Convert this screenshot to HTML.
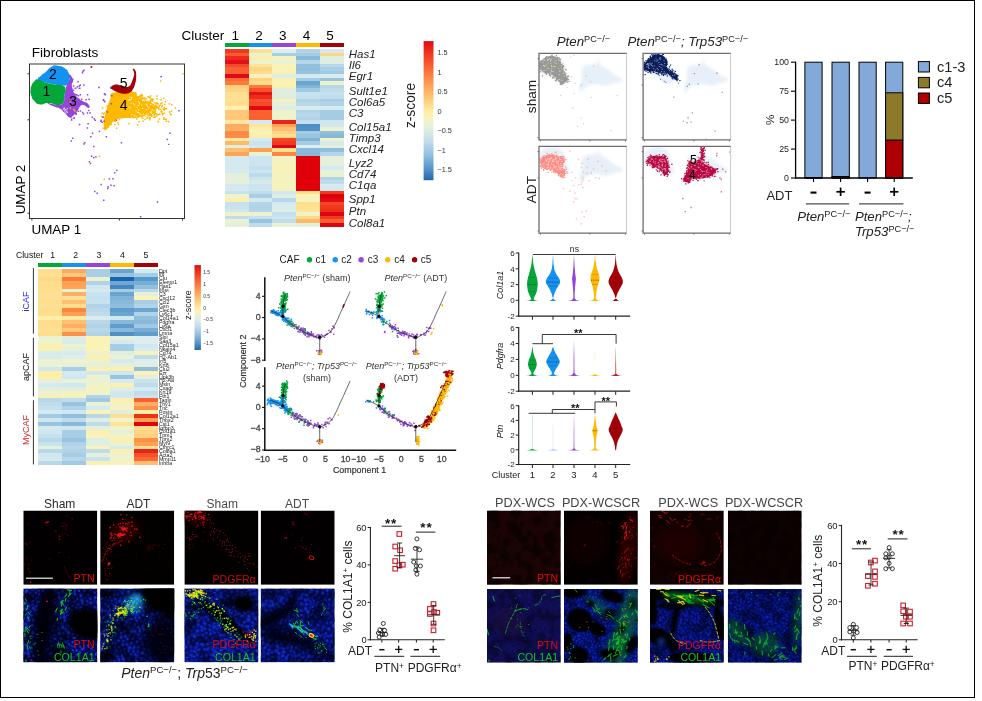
<!DOCTYPE html>
<html lang="en"><head><meta charset="utf-8"><title>Figure</title>
<style>html,body{margin:0;padding:0;background:#fff;}body{width:982px;height:701px;overflow:hidden;font-family:"Liberation Sans",sans-serif;}svg{display:block;}</style></head>
<body>
<svg width="982" height="701" viewBox="0 0 982 701" font-family='"Liberation Sans", sans-serif'>
<rect x="0.5" y="0.5" width="974" height="697" fill="#fff" stroke="#000" stroke-width="1" shape-rendering="crispEdges"/>
<g id="p-umap">
<g>
<path d="M68.8 74.3C69.6 74.6 72 76.5 72.9 79.4C73.7 82.4 71.6 82 71.8 85.5C72.1 89.1 72.3 89.4 73.9 92.7C75.5 95.9 75.8 95.6 78 97.8C80.1 99.9 79.3 99.2 82 100.8C84.7 102.5 86.4 102 88.1 103.9C89.9 105.8 90.3 107.7 88.6 108C87 108.2 84.9 104.4 82 104.9C79.2 105.4 80.4 107 78 110C75.5 113 75 114.1 72.9 116.1C70.7 118.1 72 118.4 69.8 117.6C67.6 116.8 67.2 115.4 64.7 113C62.3 110.7 63.1 110.6 60.6 109C58.2 107.3 58.8 108.3 55.5 106.9C52.3 105.6 50.3 105 48.4 103.9C46.5 102.8 45.7 102.6 48.4 102.9C51.1 103.1 54.5 105.2 58.6 104.9C62.7 104.6 62.2 104.3 63.7 101.8C65.2 99.4 63.7 99 64.2 95.7C64.7 92.5 65.1 92.6 65.7 89.6C66.4 86.6 65.7 87.5 66.8 84.5C67.8 81.5 69.3 81.1 69.8 78.4C70.3 75.7 68 74.1 68.8 74.3z" fill="#9545D8"/>
<path d="M38.2 79.4C37 77.3 39.2 77.5 41.3 75.4C43.4 73.2 42.3 74.9 45.4 72.3C48.4 69.7 47.8 68.7 51.5 66.7C55.1 64.7 53.6 65.2 57.6 65.7C61.6 66.2 61.4 65.9 64.7 68.2C68.1 70.5 67.3 70.3 68.8 73.3C70.3 76.4 70.4 75.1 69.8 78.4C69.2 81.8 68.9 82.4 66.8 84.5C64.6 86.7 66.3 85.5 62.7 85.5C59 85.5 59.7 85.4 54.5 84.5C49.3 83.6 50.3 84 45.4 82.5C40.5 81 39.5 81.6 38.2 79.4z" fill="#1492F0"/>
<path d="M30.6 89.6C30.8 86.9 30.5 88 31.6 85.5C32.7 83.1 32.2 83.3 34.2 81.5C36.2 79.6 34.9 79.1 38.2 79.4C41.6 79.7 40.5 81 45.4 82.5C50.3 84 49.3 83.6 54.5 84.5C59.7 85.4 59.3 84 62.7 85.5C66 87.1 65.3 86.6 65.7 89.6C66.2 92.7 64.8 92.1 64.2 95.7C63.6 99.4 65.4 99.1 63.7 101.8C62 104.6 63.2 104.6 58.6 104.9C54 105.2 53.9 103 48.4 102.9C42.9 102.7 44.6 105 40.3 104.4C36 103.8 36.9 103.7 34.2 100.8C31.4 97.9 32.2 98.1 31.1 94.7C30 91.4 30.4 92.4 30.6 89.6z" fill="#06A73A"/>
<path d="M150.7 104.9h1.5v1.5h-1.5zM146.2 112.4h1.5v1.5h-1.5zM148.2 109.5h1.5v1.5h-1.5zM155.4 113.2h1.5v1.5h-1.5zM141.2 104.7h1.5v1.5h-1.5zM164.4 108.1h1.5v1.5h-1.5zM135.3 99.4h1.5v1.5h-1.5zM142.9 107h1.5v1.5h-1.5zM139.1 105.4h1.5v1.5h-1.5zM144.5 110.1h1.5v1.5h-1.5zM151.6 108.7h1.5v1.5h-1.5zM135.4 106.3h1.5v1.5h-1.5zM170.7 110.2h1.5v1.5h-1.5zM149.4 100.5h1.5v1.5h-1.5zM139.6 109.2h1.5v1.5h-1.5zM141.3 107.9h1.5v1.5h-1.5zM143 101.2h1.5v1.5h-1.5zM147 102.8h1.5v1.5h-1.5zM158.3 106h1.5v1.5h-1.5zM148.1 107.1h1.5v1.5h-1.5zM150.4 104.4h1.5v1.5h-1.5zM150.8 106.9h1.5v1.5h-1.5zM153 111h1.5v1.5h-1.5zM143.3 102.4h1.5v1.5h-1.5zM148.8 109.6h1.5v1.5h-1.5zM156.3 106.4h1.5v1.5h-1.5zM146.9 109.5h1.5v1.5h-1.5zM144.6 107.6h1.5v1.5h-1.5zM143.7 103.4h1.5v1.5h-1.5zM133.3 102.8h1.5v1.5h-1.5zM147.2 114.6h1.5v1.5h-1.5zM150.6 112.8h1.5v1.5h-1.5zM148.8 110.8h1.5v1.5h-1.5zM143.7 110.4h1.5v1.5h-1.5zM157.5 106.8h1.5v1.5h-1.5zM136.1 115.3h1.5v1.5h-1.5zM144.2 111.4h1.5v1.5h-1.5zM149.7 101.5h1.5v1.5h-1.5zM163.2 118.4h1.5v1.5h-1.5zM143.6 110.2h1.5v1.5h-1.5zM143.2 101.8h1.5v1.5h-1.5zM141.1 107.9h1.5v1.5h-1.5zM151.8 111.2h1.5v1.5h-1.5zM142.6 113.2h1.5v1.5h-1.5zM135.5 109.2h1.5v1.5h-1.5zM151.7 106.1h1.5v1.5h-1.5zM144.2 109.2h1.5v1.5h-1.5zM155.5 103.1h1.5v1.5h-1.5zM142.1 109.5h1.5v1.5h-1.5zM140.7 93.9h1.5v1.5h-1.5zM149.1 119h1.5v1.5h-1.5zM150.8 102.8h1.5v1.5h-1.5zM138.5 106.8h1.5v1.5h-1.5zM163.7 112.6h1.5v1.5h-1.5zM143.1 114.3h1.5v1.5h-1.5zM141.4 115.6h1.5v1.5h-1.5zM136.2 102.9h1.5v1.5h-1.5zM148.4 114.4h1.5v1.5h-1.5zM147.8 108.6h1.5v1.5h-1.5zM136.8 102.7h1.5v1.5h-1.5zM147.2 105.2h1.5v1.5h-1.5zM148.9 107.6h1.5v1.5h-1.5zM139.2 106.4h1.5v1.5h-1.5zM145.8 111.1h1.5v1.5h-1.5zM138 104.4h1.5v1.5h-1.5zM154.7 107.2h1.5v1.5h-1.5zM138 99.3h1.5v1.5h-1.5zM143.6 107.5h1.5v1.5h-1.5zM161 110.3h1.5v1.5h-1.5zM154.3 109h1.5v1.5h-1.5zM151.8 110.6h1.5v1.5h-1.5zM140.6 95.1h1.5v1.5h-1.5zM141 98.1h1.5v1.5h-1.5zM147.3 96.1h1.5v1.5h-1.5zM134.3 111.2h1.5v1.5h-1.5zM156.3 102.3h1.5v1.5h-1.5zM149.5 102.3h1.5v1.5h-1.5zM136.1 101.8h1.5v1.5h-1.5zM152.9 111.3h1.5v1.5h-1.5zM159.9 108.4h1.5v1.5h-1.5zM140.9 101h1.5v1.5h-1.5zM141 99.3h1.5v1.5h-1.5zM154.6 112.3h1.5v1.5h-1.5zM153.6 109.2h1.5v1.5h-1.5zM135.9 105.7h1.5v1.5h-1.5zM138.9 100h1.5v1.5h-1.5zM142.1 106.9h1.5v1.5h-1.5zM138 112.8h1.5v1.5h-1.5zM143.7 109.4h1.5v1.5h-1.5zM152.7 103.6h1.5v1.5h-1.5zM136.2 112h1.5v1.5h-1.5zM145 111.7h1.5v1.5h-1.5zM148.7 96.6h1.5v1.5h-1.5zM148.3 103.7h1.5v1.5h-1.5zM135.6 103h1.5v1.5h-1.5zM148.8 111.7h1.5v1.5h-1.5zM150.9 99h1.5v1.5h-1.5zM141.2 109.1h1.5v1.5h-1.5zM135.5 106.4h1.5v1.5h-1.5zM144.1 111.6h1.5v1.5h-1.5zM135 100.9h1.5v1.5h-1.5zM135.5 114.1h1.5v1.5h-1.5zM151.6 107h1.5v1.5h-1.5zM144.1 107.1h1.5v1.5h-1.5zM143.9 105.4h1.5v1.5h-1.5zM139.2 99.4h1.5v1.5h-1.5zM136.6 113.8h1.5v1.5h-1.5zM146.8 107.2h1.5v1.5h-1.5zM140.3 106.2h1.5v1.5h-1.5zM145.2 103.4h1.5v1.5h-1.5zM143.8 107.7h1.5v1.5h-1.5zM135.6 101.2h1.5v1.5h-1.5zM133.5 99.5h1.5v1.5h-1.5zM149.8 95.3h1.5v1.5h-1.5zM139.8 102.7h1.5v1.5h-1.5zM136.7 105.9h1.5v1.5h-1.5zM151.9 108h1.5v1.5h-1.5zM140.9 102.9h1.5v1.5h-1.5zM141 110.7h1.5v1.5h-1.5zM138.7 99.8h1.5v1.5h-1.5zM145.2 105.4h1.5v1.5h-1.5zM154.7 104.7h1.5v1.5h-1.5zM148.6 111.2h1.5v1.5h-1.5zM134.1 109.6h1.5v1.5h-1.5zM153.3 101.6h1.5v1.5h-1.5zM151.2 105.6h1.5v1.5h-1.5zM138.7 102.9h1.5v1.5h-1.5zM139.3 96.5h1.5v1.5h-1.5zM133.4 98.6h1.5v1.5h-1.5zM146.4 117.5h1.5v1.5h-1.5zM165.8 108h1.5v1.5h-1.5zM134 115.1h1.5v1.5h-1.5zM147.1 103.2h1.5v1.5h-1.5zM150.2 110.1h1.5v1.5h-1.5zM140 106h1.5v1.5h-1.5zM143.3 104.6h1.5v1.5h-1.5zM143.8 103.4h1.5v1.5h-1.5zM134.4 112.7h1.5v1.5h-1.5zM145.2 108.9h1.5v1.5h-1.5zM149.2 100.7h1.5v1.5h-1.5zM151.6 105.6h1.5v1.5h-1.5zM145.6 106h1.5v1.5h-1.5zM144 112.6h1.5v1.5h-1.5zM138.6 113.6h1.5v1.5h-1.5zM135.3 100.4h1.5v1.5h-1.5zM148.3 101.7h1.5v1.5h-1.5zM138.9 110.3h1.5v1.5h-1.5zM152.6 98.7h1.5v1.5h-1.5zM146.5 116.4h1.5v1.5h-1.5zM152.5 106.5h1.5v1.5h-1.5zM136.9 103.9h1.5v1.5h-1.5zM140.5 105.2h1.5v1.5h-1.5zM152.3 106.5h1.5v1.5h-1.5zM141 104.3h1.5v1.5h-1.5zM133.4 103.6h1.5v1.5h-1.5zM161 105.9h1.5v1.5h-1.5zM140.9 111.7h1.5v1.5h-1.5zM148.6 111h1.5v1.5h-1.5zM149.6 97.3h1.5v1.5h-1.5zM134.6 105.7h1.5v1.5h-1.5zM146.4 113.4h1.5v1.5h-1.5zM146.2 105.6h1.5v1.5h-1.5zM142.5 105.2h1.5v1.5h-1.5zM144.2 109.9h1.5v1.5h-1.5zM139.2 101.6h1.5v1.5h-1.5zM134.7 110.7h1.5v1.5h-1.5zM153.2 112.9h1.5v1.5h-1.5zM149.5 111.5h1.5v1.5h-1.5zM142.1 109.6h1.5v1.5h-1.5zM133 103.8h1.5v1.5h-1.5zM135.8 108.9h1.5v1.5h-1.5zM137.1 104.9h1.5v1.5h-1.5zM145.6 113.6h1.5v1.5h-1.5zM135.3 100.4h1.5v1.5h-1.5zM149.2 101.6h1.5v1.5h-1.5zM146 103.9h1.5v1.5h-1.5zM141.2 96.8h1.5v1.5h-1.5zM148.3 104.6h1.5v1.5h-1.5zM134.3 115.6h1.5v1.5h-1.5zM145.6 104.9h1.5v1.5h-1.5zM143 114.5h1.5v1.5h-1.5zM141.9 108.4h1.5v1.5h-1.5zM146.6 102.2h1.5v1.5h-1.5zM143.2 103.8h1.5v1.5h-1.5zM147.9 107.4h1.5v1.5h-1.5zM134.3 94.8h1.5v1.5h-1.5zM146.3 106.3h1.5v1.5h-1.5zM143.3 108.2h1.5v1.5h-1.5zM144 107.3h1.5v1.5h-1.5zM137.7 104.3h1.5v1.5h-1.5zM144.4 109.7h1.5v1.5h-1.5zM156.3 95.2h1.5v1.5h-1.5zM145.6 105.7h1.5v1.5h-1.5zM161.8 113.9h1.5v1.5h-1.5zM137.6 110.6h1.5v1.5h-1.5zM133 104.3h1.5v1.5h-1.5zM141 105.5h1.5v1.5h-1.5zM137.1 96.1h1.5v1.5h-1.5zM146.1 111.9h1.5v1.5h-1.5zM141.5 100.9h1.5v1.5h-1.5zM143.9 109.3h1.5v1.5h-1.5zM140.6 105.9h1.5v1.5h-1.5zM154.3 102.3h1.5v1.5h-1.5zM137.3 95.8h1.5v1.5h-1.5zM136.1 101.5h1.5v1.5h-1.5zM133.8 101.4h1.5v1.5h-1.5zM157.7 107.5h1.5v1.5h-1.5zM141.1 117.2h1.5v1.5h-1.5zM141.6 97.3h1.5v1.5h-1.5zM145.6 101.9h1.5v1.5h-1.5zM156.3 102h1.5v1.5h-1.5zM137.1 97.3h1.5v1.5h-1.5zM143 101.1h1.5v1.5h-1.5zM141.5 104.2h1.5v1.5h-1.5zM136.8 110.2h1.5v1.5h-1.5zM150.2 107.7h1.5v1.5h-1.5zM134.3 99.6h1.5v1.5h-1.5zM144.4 118.7h1.5v1.5h-1.5zM138.2 101.6h1.5v1.5h-1.5zM136.1 99.7h1.5v1.5h-1.5zM133.7 103.9h1.5v1.5h-1.5zM154.5 108h1.5v1.5h-1.5zM137.7 97.3h1.5v1.5h-1.5zM144 106.3h1.5v1.5h-1.5zM141.7 111.3h1.5v1.5h-1.5zM147.5 108h1.5v1.5h-1.5zM139.3 107.4h1.5v1.5h-1.5zM142 117.2h1.5v1.5h-1.5zM153.1 106.5h1.5v1.5h-1.5zM154.4 107.8h1.5v1.5h-1.5zM143.4 104.5h1.5v1.5h-1.5zM161.3 112.3h1.5v1.5h-1.5zM147.4 111.8h1.5v1.5h-1.5zM147 112.1h1.5v1.5h-1.5zM139.8 104.7h1.5v1.5h-1.5zM150.6 105.7h1.5v1.5h-1.5zM137.4 108.6h1.5v1.5h-1.5zM135.9 99.8h1.5v1.5h-1.5zM139.2 113.7h1.5v1.5h-1.5zM141.7 106.9h1.5v1.5h-1.5zM142.2 107.7h1.5v1.5h-1.5zM150.1 114.5h1.5v1.5h-1.5zM142.1 104.5h1.5v1.5h-1.5zM162.9 108.4h1.5v1.5h-1.5zM158.9 113.6h1.5v1.5h-1.5zM133.2 107.3h1.5v1.5h-1.5zM148.5 106.5h1.5v1.5h-1.5zM140.5 100.3h1.5v1.5h-1.5zM157.9 107.3h1.5v1.5h-1.5zM138.7 104.1h1.5v1.5h-1.5zM135.3 101.2h1.5v1.5h-1.5zM142.9 107.9h1.5v1.5h-1.5zM137.7 105.1h1.5v1.5h-1.5zM135.6 106.3h1.5v1.5h-1.5zM134.3 102.4h1.5v1.5h-1.5zM144 100.3h1.5v1.5h-1.5zM163.5 109.2h1.5v1.5h-1.5zM141.5 102.4h1.5v1.5h-1.5zM155.9 115.3h1.5v1.5h-1.5zM144.7 99.6h1.5v1.5h-1.5zM137.7 108.7h1.5v1.5h-1.5zM137.7 99.5h1.5v1.5h-1.5zM142.2 102.9h1.5v1.5h-1.5zM142.3 120.4h1.5v1.5h-1.5zM157.5 103.2h1.5v1.5h-1.5zM145.1 107.1h1.5v1.5h-1.5zM140.9 111.3h1.5v1.5h-1.5zM139.2 104.1h1.5v1.5h-1.5zM138.9 105.2h1.5v1.5h-1.5zM153.2 111.8h1.5v1.5h-1.5zM135.2 109.3h1.5v1.5h-1.5zM144.1 111h1.5v1.5h-1.5zM141.6 96.4h1.5v1.5h-1.5zM146 107.9h1.5v1.5h-1.5zM146.5 100.2h1.5v1.5h-1.5zM142.8 102.8h1.5v1.5h-1.5zM136.2 107.1h1.5v1.5h-1.5zM145.2 102.1h1.5v1.5h-1.5zM137.1 111.2h1.5v1.5h-1.5zM141.6 94.6h1.5v1.5h-1.5zM134.6 107.2h1.5v1.5h-1.5zM156.6 114.3h1.5v1.5h-1.5zM145.3 107.7h1.5v1.5h-1.5zM139.2 101.8h1.5v1.5h-1.5zM142.7 104.3h1.5v1.5h-1.5zM145 113.9h1.5v1.5h-1.5zM148.5 109.3h1.5v1.5h-1.5zM140 98.1h1.5v1.5h-1.5zM141.1 108.8h1.5v1.5h-1.5zM133.4 111.3h1.5v1.5h-1.5zM139.2 107.6h1.5v1.5h-1.5zM139.3 99.4h1.5v1.5h-1.5zM160 103h1.5v1.5h-1.5zM150.1 104.5h1.5v1.5h-1.5zM144.5 102.4h1.5v1.5h-1.5zM138.5 110.3h1.5v1.5h-1.5zM159 104.4h1.5v1.5h-1.5zM142.2 111h1.5v1.5h-1.5zM136.7 109h1.5v1.5h-1.5zM135.3 108.2h1.5v1.5h-1.5zM145.9 112.9h1.5v1.5h-1.5zM145.3 100.6h1.5v1.5h-1.5zM147.9 101.4h1.5v1.5h-1.5zM148.6 114.9h1.5v1.5h-1.5zM147.3 104.1h1.5v1.5h-1.5zM152.4 108.6h1.5v1.5h-1.5zM154.4 106.5h1.5v1.5h-1.5zM143.2 104.6h1.5v1.5h-1.5zM145.2 107.7h1.5v1.5h-1.5zM140.6 95.1h1.5v1.5h-1.5zM152.7 111.4h1.5v1.5h-1.5zM151 114.1h1.5v1.5h-1.5zM138.3 102.5h1.5v1.5h-1.5zM144.8 115.1h1.5v1.5h-1.5zM135.9 108.1h1.5v1.5h-1.5zM154.8 106.6h1.5v1.5h-1.5zM139.6 98h1.5v1.5h-1.5zM149.8 104.7h1.5v1.5h-1.5zM148 100.4h1.5v1.5h-1.5zM151.6 100.3h1.5v1.5h-1.5zM151.2 98.3h1.5v1.5h-1.5zM154.1 106.1h1.5v1.5h-1.5zM145 101.6h1.5v1.5h-1.5zM137.8 106.9h1.5v1.5h-1.5zM138.4 107.8h1.5v1.5h-1.5zM144.7 111.7h1.5v1.5h-1.5zM136.1 118.3h1.5v1.5h-1.5zM149 108.8h1.5v1.5h-1.5zM151.5 112.5h1.5v1.5h-1.5zM143 103.2h1.5v1.5h-1.5zM151 109.7h1.5v1.5h-1.5zM146.2 107.3h1.5v1.5h-1.5zM144.5 109.8h1.5v1.5h-1.5zM143.4 114.4h1.5v1.5h-1.5zM137 103.4h1.5v1.5h-1.5zM144.9 110.4h1.5v1.5h-1.5zM148.9 114.8h1.5v1.5h-1.5zM138 111.5h1.5v1.5h-1.5zM146.2 101.5h1.5v1.5h-1.5zM140.9 116.6h1.5v1.5h-1.5zM148.9 104.8h1.5v1.5h-1.5zM136 105.7h1.5v1.5h-1.5zM162.1 113h1.5v1.5h-1.5zM144.8 101.8h1.5v1.5h-1.5zM138.1 120.9h1.5v1.5h-1.5zM138.6 102.5h1.5v1.5h-1.5zM151.9 108h1.5v1.5h-1.5zM139.4 99h1.5v1.5h-1.5zM144.9 109.1h1.5v1.5h-1.5zM139.2 109.3h1.5v1.5h-1.5zM149.2 102.8h1.5v1.5h-1.5zM141 112.3h1.5v1.5h-1.5zM150.8 114.6h1.5v1.5h-1.5zM158.2 108.7h1.5v1.5h-1.5zM151.3 99.8h1.5v1.5h-1.5zM148.1 109.1h1.5v1.5h-1.5zM141.3 103.8h1.5v1.5h-1.5zM153.2 106h1.5v1.5h-1.5zM146.7 103.5h1.5v1.5h-1.5zM144.3 101.4h1.5v1.5h-1.5zM145.4 105.6h1.5v1.5h-1.5zM144.8 103.5h1.5v1.5h-1.5zM151.1 115.6h1.5v1.5h-1.5zM139.3 109.8h1.5v1.5h-1.5zM148.7 109.2h1.5v1.5h-1.5zM133.7 110.9h1.5v1.5h-1.5zM148.9 110.4h1.5v1.5h-1.5zM148.2 100.6h1.5v1.5h-1.5zM150.5 107.8h1.5v1.5h-1.5zM140.5 102.3h1.5v1.5h-1.5zM133.3 102.7h1.5v1.5h-1.5zM168.8 111.2h1.5v1.5h-1.5zM143.9 103.2h1.5v1.5h-1.5zM136.8 102.6h1.5v1.5h-1.5zM134.4 109.5h1.5v1.5h-1.5zM139.8 110.2h1.5v1.5h-1.5zM141.9 109.5h1.5v1.5h-1.5zM141.2 101.5h1.5v1.5h-1.5zM152.6 105.5h1.5v1.5h-1.5zM140.8 101.5h1.5v1.5h-1.5zM143.9 104.5h1.5v1.5h-1.5zM144.6 108.3h1.5v1.5h-1.5zM136.1 98.1h1.5v1.5h-1.5zM145.9 111.4h1.5v1.5h-1.5zM148.1 101.3h1.5v1.5h-1.5zM147.3 108.9h1.5v1.5h-1.5zM144.6 108.7h1.5v1.5h-1.5zM139.3 106.9h1.5v1.5h-1.5zM150.1 104.8h1.5v1.5h-1.5zM143.8 97h1.5v1.5h-1.5zM136.3 108.3h1.5v1.5h-1.5zM140.8 106.5h1.5v1.5h-1.5zM157.3 107.4h1.5v1.5h-1.5zM135.8 99.3h1.5v1.5h-1.5zM149.8 107.9h1.5v1.5h-1.5zM135.2 111.3h1.5v1.5h-1.5zM148.7 110.2h1.5v1.5h-1.5zM147.5 100.8h1.5v1.5h-1.5zM150.2 114.7h1.5v1.5h-1.5zM151.1 103.9h1.5v1.5h-1.5zM136 110.1h1.5v1.5h-1.5zM150.7 113.7h1.5v1.5h-1.5zM152.5 107.2h1.5v1.5h-1.5zM138.6 96.2h1.5v1.5h-1.5zM148.9 118.8h1.5v1.5h-1.5zM138.1 103.2h1.5v1.5h-1.5zM147.7 108.9h1.5v1.5h-1.5zM135.9 109.6h1.5v1.5h-1.5zM158.7 118.3h1.5v1.5h-1.5zM154.5 116.3h1.5v1.5h-1.5zM135.8 103.8h1.5v1.5h-1.5zM164.8 101h1.5v1.5h-1.5zM146.9 100.6h1.5v1.5h-1.5zM153.7 114.5h1.5v1.5h-1.5zM137.7 116.1h1.5v1.5h-1.5zM142.8 112.9h1.5v1.5h-1.5zM144.8 103.7h1.5v1.5h-1.5zM138.8 105.1h1.5v1.5h-1.5zM147.5 107.6h1.5v1.5h-1.5zM162.5 108.3h1.5v1.5h-1.5zM138.1 101.9h1.5v1.5h-1.5zM135.4 97.8h1.5v1.5h-1.5zM133.6 109.5h1.5v1.5h-1.5zM142.6 105.4h1.5v1.5h-1.5zM145.1 112.1h1.5v1.5h-1.5zM147.4 110.9h1.5v1.5h-1.5zM137.3 104.1h1.5v1.5h-1.5zM135.4 104.7h1.5v1.5h-1.5zM135 103.2h1.5v1.5h-1.5zM140.6 104.9h1.5v1.5h-1.5zM139.8 103.3h1.5v1.5h-1.5zM153.5 106.1h1.5v1.5h-1.5zM133.4 105.9h1.5v1.5h-1.5zM142.8 97.8h1.5v1.5h-1.5zM151.1 99h1.5v1.5h-1.5zM134.3 108h1.5v1.5h-1.5zM140.9 107.5h1.5v1.5h-1.5zM139.3 95h1.5v1.5h-1.5zM140.8 99.2h1.5v1.5h-1.5zM142.2 101.9h1.5v1.5h-1.5zM139.4 104.7h1.5v1.5h-1.5zM148.8 111.1h1.5v1.5h-1.5zM133.4 104.8h1.5v1.5h-1.5zM154.7 110.6h1.5v1.5h-1.5zM135.8 104.6h1.5v1.5h-1.5zM139.1 110.5h1.5v1.5h-1.5zM142.4 108.1h1.5v1.5h-1.5zM161.3 102h1.5v1.5h-1.5zM133.3 96.1h1.5v1.5h-1.5zM144.6 114.9h1.5v1.5h-1.5zM154.6 113.3h1.5v1.5h-1.5zM149.8 111.8h1.5v1.5h-1.5zM142.4 106.2h1.5v1.5h-1.5zM142.4 110.5h1.5v1.5h-1.5zM140.7 107.6h1.5v1.5h-1.5zM154.7 102.3h1.5v1.5h-1.5zM135.6 108.1h1.5v1.5h-1.5zM139.8 105h1.5v1.5h-1.5zM160.3 111h1.5v1.5h-1.5zM138.5 111.2h1.5v1.5h-1.5zM163.9 103.8h1.5v1.5h-1.5zM136.3 105.9h1.5v1.5h-1.5zM136.6 116.4h1.5v1.5h-1.5zM146.7 104.8h1.5v1.5h-1.5zM146.4 102.8h1.5v1.5h-1.5zM136.9 105.9h1.5v1.5h-1.5zM162.8 97.8h1.5v1.5h-1.5zM145.7 113.6h1.5v1.5h-1.5zM148.5 116.9h1.5v1.5h-1.5zM146 107.5h1.5v1.5h-1.5zM141 101.7h1.5v1.5h-1.5zM156.3 102.3h1.5v1.5h-1.5zM141 103.4h1.5v1.5h-1.5zM135.3 93.9h1.5v1.5h-1.5zM138.8 106.4h1.5v1.5h-1.5zM143.4 110.7h1.5v1.5h-1.5zM140.7 102.7h1.5v1.5h-1.5zM144.8 110h1.5v1.5h-1.5zM134.3 97.3h1.5v1.5h-1.5zM133.2 110.2h1.5v1.5h-1.5zM150.8 103h1.5v1.5h-1.5zM143.1 110.6h1.5v1.5h-1.5zM153.6 104.6h1.5v1.5h-1.5zM140 113h1.5v1.5h-1.5zM163 117.1h1.5v1.5h-1.5zM139.5 105.5h1.5v1.5h-1.5zM136.4 102.9h1.5v1.5h-1.5zM142 115.4h1.5v1.5h-1.5zM148.2 109.3h1.5v1.5h-1.5zM142.3 102.4h1.5v1.5h-1.5zM140.1 112.2h1.5v1.5h-1.5zM149.3 117.3h1.5v1.5h-1.5zM144.4 106.4h1.5v1.5h-1.5zM136.7 105.4h1.5v1.5h-1.5zM134 110.7h1.5v1.5h-1.5zM144.3 100.5h1.5v1.5h-1.5zM137.9 99.9h1.5v1.5h-1.5zM147.2 106h1.5v1.5h-1.5zM143.1 103.3h1.5v1.5h-1.5zM137.2 103.1h1.5v1.5h-1.5zM145.6 97.9h1.5v1.5h-1.5zM143 112.2h1.5v1.5h-1.5zM144.2 113.1h1.5v1.5h-1.5zM139.8 105.8h1.5v1.5h-1.5zM144.2 109.1h1.5v1.5h-1.5zM152.2 108.4h1.5v1.5h-1.5zM133.5 107.1h1.5v1.5h-1.5zM140.9 115.1h1.5v1.5h-1.5zM159.1 113.6h1.5v1.5h-1.5zM143.8 102.8h1.5v1.5h-1.5zM146.6 110.4h1.5v1.5h-1.5zM149.4 108.4h1.5v1.5h-1.5zM134.5 100.7h1.5v1.5h-1.5zM141 112.8h1.5v1.5h-1.5zM155.7 113.2h1.5v1.5h-1.5zM145.3 110.1h1.5v1.5h-1.5zM149.2 113.8h1.5v1.5h-1.5zM149.5 99.5h1.5v1.5h-1.5zM150.4 109.4h1.5v1.5h-1.5zM138.1 108.3h1.5v1.5h-1.5zM144.6 106.3h1.5v1.5h-1.5zM146.9 106.7h1.5v1.5h-1.5zM148.3 108h1.5v1.5h-1.5zM145.8 104.9h1.5v1.5h-1.5zM136.4 108h1.5v1.5h-1.5zM139 106.7h1.5v1.5h-1.5zM170.3 114h1.5v1.5h-1.5zM143.3 98.1h1.5v1.5h-1.5zM142.9 110.2h1.5v1.5h-1.5zM136 104.1h1.5v1.5h-1.5zM137 108.9h1.5v1.5h-1.5zM153.9 107.1h1.5v1.5h-1.5zM150.6 108.7h1.5v1.5h-1.5zM140.3 104.5h1.5v1.5h-1.5zM134.7 111.6h1.5v1.5h-1.5zM149.7 102.2h1.5v1.5h-1.5zM149.4 103.6h1.5v1.5h-1.5zM143.8 111h1.5v1.5h-1.5zM146.5 112.7h1.5v1.5h-1.5zM145.1 109.6h1.5v1.5h-1.5zM144.3 112.1h1.5v1.5h-1.5zM138.7 110.8h1.5v1.5h-1.5zM155.2 107.8h1.5v1.5h-1.5zM145.9 104.1h1.5v1.5h-1.5zM139.6 107.1h1.5v1.5h-1.5zM139.2 101.2h1.5v1.5h-1.5zM141.9 107.1h1.5v1.5h-1.5zM144.9 110.2h1.5v1.5h-1.5zM140.6 102h1.5v1.5h-1.5zM138.9 108h1.5v1.5h-1.5zM149.6 105.5h1.5v1.5h-1.5zM143.5 98.3h1.5v1.5h-1.5zM143.6 105.8h1.5v1.5h-1.5zM138.4 110.1h1.5v1.5h-1.5zM157.6 113.8h1.5v1.5h-1.5zM135.3 112.9h1.5v1.5h-1.5zM139.2 105.5h1.5v1.5h-1.5zM137.1 107.8h1.5v1.5h-1.5zM146.9 107.6h1.5v1.5h-1.5zM140.3 105.2h1.5v1.5h-1.5zM138.6 110.6h1.5v1.5h-1.5zM137.6 104.8h1.5v1.5h-1.5zM140.3 102.1h1.5v1.5h-1.5zM140.1 98.4h1.5v1.5h-1.5zM145.6 109.5h1.5v1.5h-1.5zM139.5 113.7h1.5v1.5h-1.5zM135 107.9h1.5v1.5h-1.5zM146.2 104.1h1.5v1.5h-1.5zM140 110.4h1.5v1.5h-1.5zM142.6 107.7h1.5v1.5h-1.5zM154.2 109.1h1.5v1.5h-1.5zM149.3 106.6h1.5v1.5h-1.5zM144.9 114.2h1.5v1.5h-1.5zM146.4 104.1h1.5v1.5h-1.5zM139.6 104.2h1.5v1.5h-1.5zM134.3 107.3h1.5v1.5h-1.5zM150 109.2h1.5v1.5h-1.5zM137.3 110.7h1.5v1.5h-1.5zM141.2 109h1.5v1.5h-1.5zM134.1 108.3h1.5v1.5h-1.5zM148.5 113.7h1.5v1.5h-1.5zM142.4 108.5h1.5v1.5h-1.5zM137.2 109.9h1.5v1.5h-1.5zM148.8 112.7h1.5v1.5h-1.5zM138.8 99.5h1.5v1.5h-1.5zM141.5 105.1h1.5v1.5h-1.5zM135.7 108.3h1.5v1.5h-1.5zM150.2 109.4h1.5v1.5h-1.5zM151.6 109.6h1.5v1.5h-1.5zM133.8 102h1.5v1.5h-1.5zM139.1 109.2h1.5v1.5h-1.5zM150 108.1h1.5v1.5h-1.5zM150.8 103.4h1.5v1.5h-1.5zM141.2 113.6h1.5v1.5h-1.5zM145.9 112h1.5v1.5h-1.5zM134.7 110.1h1.5v1.5h-1.5zM156 105.2h1.5v1.5h-1.5zM133.7 99.8h1.5v1.5h-1.5zM134.5 107.8h1.5v1.5h-1.5zM139.4 115.2h1.5v1.5h-1.5zM148.3 103.7h1.5v1.5h-1.5zM144.1 105.7h1.5v1.5h-1.5zM148.9 111.8h1.5v1.5h-1.5zM139.2 110.2h1.5v1.5h-1.5zM147 106.5h1.5v1.5h-1.5zM144.3 109.9h1.5v1.5h-1.5zM139.4 102.4h1.5v1.5h-1.5zM153 107.8h1.5v1.5h-1.5zM106 118.6h1.5v1.5h-1.5zM100.7 115.8h1.5v1.5h-1.5zM101.4 112.4h1.5v1.5h-1.5zM114.9 114.1h1.5v1.5h-1.5zM102.3 127.6h1.5v1.5h-1.5zM105.8 125.8h1.5v1.5h-1.5zM106.4 105.1h1.5v1.5h-1.5zM120.6 112.4h1.5v1.5h-1.5zM114.1 123.7h1.5v1.5h-1.5zM101.7 115.9h1.5v1.5h-1.5zM106.1 119.6h1.5v1.5h-1.5zM109.5 106.5h1.5v1.5h-1.5zM109.9 120.7h1.5v1.5h-1.5zM107.8 119.3h1.5v1.5h-1.5zM106.4 115h1.5v1.5h-1.5zM111.7 116.4h1.5v1.5h-1.5zM117.2 122h1.5v1.5h-1.5zM114.6 120.4h1.5v1.5h-1.5zM110.5 107.3h1.5v1.5h-1.5zM115.9 127.5h1.5v1.5h-1.5zM110.9 113.6h1.5v1.5h-1.5zM109.3 123.8h1.5v1.5h-1.5zM111.3 108.5h1.5v1.5h-1.5zM108.5 110h1.5v1.5h-1.5zM108.4 109.2h1.5v1.5h-1.5zM104.3 125.7h1.5v1.5h-1.5zM115.8 104.2h1.5v1.5h-1.5zM103.7 112.3h1.5v1.5h-1.5zM107.2 105.8h1.5v1.5h-1.5zM114.9 104.2h1.5v1.5h-1.5zM113.7 120.3h1.5v1.5h-1.5zM107.4 110.8h1.5v1.5h-1.5zM109.9 116.4h1.5v1.5h-1.5zM112.7 114.6h1.5v1.5h-1.5zM107.1 108.5h1.5v1.5h-1.5zM105.4 110.1h1.5v1.5h-1.5zM126.3 106.7h1.5v1.5h-1.5zM118.7 118.7h1.5v1.5h-1.5zM110.8 116.8h1.5v1.5h-1.5zM107.3 126.6h1.5v1.5h-1.5zM112.6 115.2h1.5v1.5h-1.5zM108.8 116.8h1.5v1.5h-1.5zM102.8 113.2h1.5v1.5h-1.5zM105.8 119.7h1.5v1.5h-1.5zM113.2 102.4h1.5v1.5h-1.5zM108.2 122.3h1.5v1.5h-1.5zM101.8 107.2h1.5v1.5h-1.5zM115.6 114.5h1.5v1.5h-1.5zM106.9 106.9h1.5v1.5h-1.5zM110.6 111.5h1.5v1.5h-1.5zM110.8 118.4h1.5v1.5h-1.5zM113.8 113.2h1.5v1.5h-1.5zM106.4 115.6h1.5v1.5h-1.5zM109 116.6h1.5v1.5h-1.5zM106.4 113.8h1.5v1.5h-1.5zM106.1 111.3h1.5v1.5h-1.5zM110.5 123.4h1.5v1.5h-1.5zM106.4 119.5h1.5v1.5h-1.5z" fill="#FDB900"/>
<path d="M113.3 92.7C118.8 91 128.2 90.9 133.7 91.7C139.2 92.4 135.3 93.8 136.8 95.7C138.2 97.6 138.9 97.4 139.8 99.8C140.8 102.2 139.4 103.5 140.8 105.9C142.3 108.3 145.4 107.9 145.9 110C146.4 112.1 145.2 113.2 142.9 115.1C140.5 117 139.8 117.4 135.7 118.1C131.7 118.8 130.3 117.7 125.5 118.1C120.8 118.6 119.2 118.3 115.4 120.2C111.6 122.1 111.6 123.9 109.3 126.3C106.9 128.7 106.5 130.4 105.2 130.4C103.9 130.4 103.9 129.1 103.7 126.3C103.4 123.4 103.3 122.4 104.2 118.1C105 113.9 105.8 112.5 107.2 108C108.6 103.4 108.8 102.4 110.3 98.8C111.7 95.2 107.9 94.3 113.3 92.7z" fill="#FDB900"/>
<path d="M110.3 87.6C111 86.4 112.8 85 115.4 84.5C118 84.1 118.4 85.1 121.5 85.5C124.6 86 126 88 128.6 86.6C131.2 85.1 131.4 82.5 132.7 79.4C134 76.4 134.2 75.8 134.2 73.3C134.2 70.8 132.4 69.5 132.7 68.7C132.9 68 134.4 68.7 135.2 70.3C136.1 71.8 136.2 72.3 136.2 75.4C136.2 78.5 136.1 80.2 135.2 83.5C134.4 86.8 134 87.5 132.7 89.6C131.4 91.8 131.8 91.7 129.6 92.7C127.5 93.6 126.6 93.9 123.5 93.7C120.4 93.5 119 92.6 116.4 91.7C113.8 90.7 113.7 90.6 112.3 89.6C110.9 88.7 109.6 88.8 110.3 87.6z" fill="#A50005"/>
<path d="M129.5 96.7h1v1h-1zM152.6 102.2h1v1h-1zM130.3 99.3h1v1h-1zM141.4 117.6h1v1h-1zM133.7 114.7h1v1h-1zM141.4 104.5h1v1h-1zM150.3 104.1h1v1h-1zM129.7 107.6h1v1h-1zM146.2 109.2h1v1h-1zM135.7 116.3h1v1h-1zM151.9 117.5h1v1h-1zM140.3 113.9h1v1h-1zM148 99.2h1v1h-1zM128.8 99h1v1h-1zM131.4 96.9h1v1h-1zM138 112.1h1v1h-1zM136.6 106.8h1v1h-1zM128.4 99.9h1v1h-1zM154.5 95.5h1v1h-1zM142.6 113.4h1v1h-1zM149.9 111.7h1v1h-1zM139.1 113.2h1v1h-1zM150.9 112.4h1v1h-1zM155.2 97.5h1v1h-1zM154.2 104.2h1v1h-1zM147.5 100.8h1v1h-1zM153.1 95.8h1v1h-1zM144 100.3h1v1h-1zM138.8 103.5h1v1h-1zM146.2 113.4h1v1h-1zM138.1 109.5h1v1h-1zM137.8 101.5h1v1h-1zM153 102.4h1v1h-1zM130.7 102.7h1v1h-1zM148.5 100h1v1h-1zM148.5 107.5h1v1h-1zM146.8 99.2h1v1h-1zM131 98.4h1v1h-1zM137.7 104.9h1v1h-1zM128.4 106.5h1v1h-1zM139.2 102.4h1v1h-1zM142.9 116.6h1v1h-1zM133.7 115h1v1h-1zM136.9 112.1h1v1h-1zM131.1 117.4h1v1h-1zM139.9 116.8h1v1h-1zM134.1 104.4h1v1h-1zM147.5 99.2h1v1h-1zM135.6 110.4h1v1h-1zM154.2 102.5h1v1h-1zM133.1 103.2h1v1h-1zM155.3 98.6h1v1h-1zM145.6 103.7h1v1h-1zM145.8 100h1v1h-1zM145 115.1h1v1h-1zM151.7 109.3h1v1h-1zM142 108h1v1h-1zM131.2 114h1v1h-1zM147.1 105.4h1v1h-1zM146.4 104.6h1v1h-1z" fill="#fff"/>
<path d="M62.9 108.6h1v1h-1zM64.4 110.4h1v1h-1zM63.8 107.6h1v1h-1zM64.6 109.7h1v1h-1zM64.4 110.5h1v1h-1zM66.8 108.2h1v1h-1zM63.5 112.5h1v1h-1zM65.4 109h1v1h-1zM65.4 112.5h1v1h-1zM63 111.9h1v1h-1zM61 112.5h1v1h-1zM63.6 108.6h1v1h-1zM66.1 110.8h1v1h-1zM66.8 111.7h1v1h-1z" fill="#fff"/>
<path d="M78.8 123.8h1.5v1.5h-1.5zM87.4 122.9h1.5v1.5h-1.5zM86.6 127.2h1.5v1.5h-1.5zM91.8 132.4h1.5v1.5h-1.5zM90 135.9h1.5v1.5h-1.5zM98.7 130.7h1.5v1.5h-1.5zM105.6 135.9h1.5v1.5h-1.5zM71.9 137.6h1.5v1.5h-1.5zM70.6 140.2h1.5v1.5h-1.5zM84 142h1.5v1.5h-1.5zM83.1 143.3h1.5v1.5h-1.5zM93 145.8h1.5v1.5h-1.5zM120.7 142h1.5v1.5h-1.5zM90.9 155.5h1.5v1.5h-1.5zM93 156.7h1.5v1.5h-1.5zM95.2 156.3h1.5v1.5h-1.5zM88.7 161h1.5v1.5h-1.5zM89.7 162.7h1.5v1.5h-1.5zM116 169.7h1.5v1.5h-1.5zM113.9 171.9h1.5v1.5h-1.5zM108.6 178.3h1.5v1.5h-1.5zM112.2 178h1.5v1.5h-1.5zM100.4 183.8h1.5v1.5h-1.5zM110.3 184.4h1.5v1.5h-1.5zM113.4 184.9h1.5v1.5h-1.5zM107.4 186.1h1.5v1.5h-1.5zM107 187.8h1.5v1.5h-1.5zM94 190.8h1.5v1.5h-1.5zM96.4 192.5h1.5v1.5h-1.5zM103 199.6h1.5v1.5h-1.5zM156.7 201.3h1.5v1.5h-1.5zM139.9 216.1h1.5v1.5h-1.5zM169.3 132.4h1.5v1.5h-1.5zM166.6 138.8h1.5v1.5h-1.5zM82.3 70.5h1.5v1.5h-1.5zM83.3 69.5h1.5v1.5h-1.5zM81.8 72.1h1.5v1.5h-1.5zM98.1 86.8h1.5v1.5h-1.5zM103.7 92.9h1.5v1.5h-1.5zM104.7 94h1.5v1.5h-1.5zM102.7 99.1h1.5v1.5h-1.5zM103.7 100.6h1.5v1.5h-1.5zM85.3 99.1h1.5v1.5h-1.5zM88.4 98.5h1.5v1.5h-1.5zM86.4 105.2h1.5v1.5h-1.5zM87.9 109.7h1.5v1.5h-1.5zM89.4 112.3h1.5v1.5h-1.5zM82.8 113.3h1.5v1.5h-1.5zM91.5 116.4h1.5v1.5h-1.5zM93.5 117.9h1.5v1.5h-1.5zM94.5 119.4h1.5v1.5h-1.5zM102.2 116.4h1.5v1.5h-1.5zM100.1 120.4h1.5v1.5h-1.5zM78.2 105.2h1.5v1.5h-1.5zM79.7 110.3h1.5v1.5h-1.5zM75.2 111.3h1.5v1.5h-1.5zM72.1 78.7h1.5v1.5h-1.5zM71.6 80.7h1.5v1.5h-1.5zM69.1 75.1h1.5v1.5h-1.5zM70.6 77.2h1.5v1.5h-1.5zM98.3 86.8h1.5v1.5h-1.5zM103.9 92.9h1.5v1.5h-1.5zM104.4 94h1.5v1.5h-1.5zM102.9 99.6h1.5v1.5h-1.5zM103.9 101.1h1.5v1.5h-1.5zM160.4 76.1h1.5v1.5h-1.5zM178.3 110.1h1.5v1.5h-1.5zM111.1 95h1.5v1.5h-1.5zM110 86.8h1.5v1.5h-1.5zM110.5 103.1h1.5v1.5h-1.5zM106.5 111.3h1.5v1.5h-1.5zM102.4 116.4h1.5v1.5h-1.5zM100.4 119.4h1.5v1.5h-1.5zM101.4 121.5h1.5v1.5h-1.5zM103.4 120.4h1.5v1.5h-1.5zM115.6 119.4h1.5v1.5h-1.5zM74.9 87.4h1.5v1.5h-1.5zM75 98.9h1.5v1.5h-1.5zM78.6 87.4h1.5v1.5h-1.5zM73.1 117.5h1.5v1.5h-1.5zM75.4 94h1.5v1.5h-1.5zM71.8 113.4h1.5v1.5h-1.5zM78.9 104.8h1.5v1.5h-1.5zM74.5 87.5h1.5v1.5h-1.5zM73.6 117.3h1.5v1.5h-1.5zM78.5 85.2h1.5v1.5h-1.5zM74 93.5h1.5v1.5h-1.5zM71.6 102.6h1.5v1.5h-1.5zM77.7 101.2h1.5v1.5h-1.5zM79.5 84.6h1.5v1.5h-1.5zM75.5 103.4h1.5v1.5h-1.5zM86.7 112.3h1.5v1.5h-1.5zM75.1 112.9h1.5v1.5h-1.5zM79 87.6h1.5v1.5h-1.5zM75.6 113.4h1.5v1.5h-1.5zM72.3 99.8h1.5v1.5h-1.5zM70.8 106.6h1.5v1.5h-1.5zM70.3 93.1h1.5v1.5h-1.5zM74.3 103.9h1.5v1.5h-1.5zM71.2 88.3h1.5v1.5h-1.5zM74.9 102.7h1.5v1.5h-1.5zM79.6 94h1.5v1.5h-1.5zM71 104.3h1.5v1.5h-1.5zM80.9 98.5h1.5v1.5h-1.5zM72.7 89.5h1.5v1.5h-1.5zM71.2 108.7h1.5v1.5h-1.5zM77.5 110.5h1.5v1.5h-1.5zM68.4 105.1h1.5v1.5h-1.5zM68.6 112.1h1.5v1.5h-1.5zM73.8 112.4h1.5v1.5h-1.5zM70.9 119.2h1.5v1.5h-1.5zM70.9 118.5h1.5v1.5h-1.5zM70.6 89h1.5v1.5h-1.5zM77.7 95h1.5v1.5h-1.5zM72.8 85.3h1.5v1.5h-1.5zM71.4 100.2h1.5v1.5h-1.5zM69.5 103.1h1.5v1.5h-1.5zM71 114.2h1.5v1.5h-1.5zM71.3 92.3h1.5v1.5h-1.5zM70.8 101.9h1.5v1.5h-1.5zM76.2 94.3h1.5v1.5h-1.5zM69 103.5h1.5v1.5h-1.5zM77.4 81.1h1.5v1.5h-1.5zM81.9 111.7h1.5v1.5h-1.5zM77.2 104.2h1.5v1.5h-1.5zM70.9 90.9h1.5v1.5h-1.5zM83.1 84.2h1.5v1.5h-1.5zM80.3 101.2h1.5v1.5h-1.5zM68.4 100.9h1.5v1.5h-1.5zM68.8 101h1.5v1.5h-1.5zM69.8 86.8h1.5v1.5h-1.5zM86.8 93.9h1.5v1.5h-1.5zM78.2 98.6h1.5v1.5h-1.5zM76.6 86.1h1.5v1.5h-1.5zM78.3 103.7h1.5v1.5h-1.5z" fill="#9545D8"/>
<path d="M98.7 155.5h1.5v1.5h-1.5zM103.5 178.8h1.5v1.5h-1.5zM157.6 120.8h1.5v1.5h-1.5zM165.4 118.6h1.5v1.5h-1.5zM167.9 120.8h1.5v1.5h-1.5zM153.2 116.3h1.5v1.5h-1.5zM128.1 122.9h1.5v1.5h-1.5zM136.8 124.3h1.5v1.5h-1.5zM117.7 123.8h1.5v1.5h-1.5zM182.3 73.1h1.5v1.5h-1.5zM159.9 80.2h1.5v1.5h-1.5zM168.6 103.1h1.5v1.5h-1.5zM171.1 104.1h1.5v1.5h-1.5zM174.7 107.2h1.5v1.5h-1.5zM169.6 113.3h1.5v1.5h-1.5zM164.5 118.4h1.5v1.5h-1.5zM165.5 120.4h1.5v1.5h-1.5zM167.6 121h1.5v1.5h-1.5zM157.4 121h1.5v1.5h-1.5zM153.3 116.4h1.5v1.5h-1.5zM156.4 98h1.5v1.5h-1.5zM160.4 99.1h1.5v1.5h-1.5zM161.5 104.7h1.5v1.5h-1.5zM163.5 106.7h1.5v1.5h-1.5zM69.6 107.2h1.5v1.5h-1.5zM73.1 108.7h1.5v1.5h-1.5zM74.1 110.3h1.5v1.5h-1.5zM69.1 101.1h1.5v1.5h-1.5z" fill="#FDB900"/>
<path d="M168 143.8h1.3v1.3h-1.3z" fill="#06A73A"/>
<path d="M90.5 66.6h1.3v1.3h-1.3zM91.1 66.1h1.3v1.3h-1.3zM71.2 97.1h1.3v1.3h-1.3zM68.1 100.7h1.3v1.3h-1.3z" fill="#C8102A"/>
</g>
<rect x="29.5" y="64" width="155" height="154.5" fill="none" stroke="#333" stroke-width="1"/>
<line x1="31.9" y1="218.5" x2="31.9" y2="220.5" stroke="#333" stroke-width="1"/>
<line x1="119.4" y1="218.5" x2="119.4" y2="220.5" stroke="#333" stroke-width="1"/>
<line x1="182.5" y1="218.5" x2="182.5" y2="220.5" stroke="#333" stroke-width="1"/>
<line x1="27.5" y1="73.8" x2="29.5" y2="73.8" stroke="#333" stroke-width="1"/>
<line x1="27.5" y1="119.8" x2="29.5" y2="119.8" stroke="#333" stroke-width="1"/>
<line x1="27.5" y1="213.2" x2="29.5" y2="213.2" stroke="#333" stroke-width="1"/>
<text x="31.8" y="56.5" font-size="13.6">Fibroblasts</text>
<text x="31.5" y="234.2" font-size="13.4">UMAP 1</text>
<text x="24.8" y="214.3" font-size="13.4" transform="rotate(-90 24.8 214.3)">UMAP 2</text>
<text x="53" y="78.7" font-size="14" text-anchor="middle">2</text>
<text x="46.4" y="96" font-size="14" text-anchor="middle">1</text>
<text x="72.9" y="105.7" font-size="14" text-anchor="middle">3</text>
<text x="123.7" y="88.4" font-size="14" text-anchor="middle">5</text>
<text x="123.7" y="109.8" font-size="14" text-anchor="middle">4</text>
</g>
<g id="p-heat1">
<g shape-rendering="crispEdges">
<rect x="225" y="43.1" width="23.9" height="3.6" fill="#06A73A"/>
<rect x="248.7" y="43.1" width="23.9" height="3.6" fill="#1492F0"/>
<rect x="272.4" y="43.1" width="23.9" height="3.6" fill="#9545D8"/>
<rect x="296.1" y="43.1" width="23.9" height="3.6" fill="#FDB900"/>
<rect x="319.8" y="43.1" width="23.9" height="3.6" fill="#A50005"/>
<rect x="225" y="49.3" width="24" height="3.8" fill="#F03A20"/><rect x="248.7" y="49.3" width="24" height="3.8" fill="#FEDF90"/><rect x="272.4" y="49.3" width="24" height="3.8" fill="#DCEEF0"/><rect x="296.1" y="49.3" width="24" height="3.8" fill="#B0D3E8"/><rect x="319.8" y="49.3" width="24" height="3.8" fill="#D5EAF0"/><rect x="225" y="52.8" width="24" height="3.8" fill="#FB5A30"/><rect x="248.7" y="52.8" width="24" height="3.8" fill="#E8F2D5"/><rect x="272.4" y="52.8" width="24" height="3.8" fill="#A8CEE5"/><rect x="296.1" y="52.8" width="24" height="3.8" fill="#A5CCE3"/><rect x="319.8" y="52.8" width="24" height="3.8" fill="#FED585"/><rect x="225" y="56.4" width="24" height="3.8" fill="#EE2A1A"/><rect x="248.7" y="56.4" width="24" height="3.8" fill="#FCEFAE"/><rect x="272.4" y="56.4" width="24" height="3.8" fill="#F5F2C0"/><rect x="296.1" y="56.4" width="24" height="3.8" fill="#8ABADB"/><rect x="319.8" y="56.4" width="24" height="3.8" fill="#E0EEE0"/><rect x="225" y="59.9" width="24" height="3.8" fill="#E0101A"/><rect x="248.7" y="59.9" width="24" height="3.8" fill="#EEF2CC"/><rect x="272.4" y="59.9" width="24" height="3.8" fill="#E8F2D5"/><rect x="296.1" y="59.9" width="24" height="3.8" fill="#B5D5E8"/><rect x="319.8" y="59.9" width="24" height="3.8" fill="#E0EEE0"/><rect x="225" y="63.5" width="24" height="3.8" fill="#F44A2A"/><rect x="248.7" y="63.5" width="24" height="3.8" fill="#FEE59A"/><rect x="272.4" y="63.5" width="24" height="3.8" fill="#FBF3B5"/><rect x="296.1" y="63.5" width="24" height="3.8" fill="#90BFDE"/><rect x="319.8" y="63.5" width="24" height="3.8" fill="#B8D8EA"/><rect x="225" y="67" width="24" height="3.8" fill="#FC6030"/><rect x="248.7" y="67" width="24" height="3.8" fill="#FED585"/><rect x="272.4" y="67" width="24" height="3.8" fill="#FBF3B5"/><rect x="296.1" y="67" width="24" height="3.8" fill="#90BFDE"/><rect x="319.8" y="67" width="24" height="3.8" fill="#A8CEE5"/><rect x="225" y="70.5" width="24" height="3.8" fill="#FC6030"/><rect x="248.7" y="70.5" width="24" height="3.8" fill="#FEDD8C"/><rect x="272.4" y="70.5" width="24" height="3.8" fill="#FCF0B0"/><rect x="296.1" y="70.5" width="24" height="3.8" fill="#98C4E0"/><rect x="319.8" y="70.5" width="24" height="3.8" fill="#A0C9E3"/><rect x="225" y="74.1" width="24" height="3.8" fill="#DC0A18"/><rect x="248.7" y="74.1" width="24" height="3.8" fill="#F5F2C0"/><rect x="272.4" y="74.1" width="24" height="3.8" fill="#DCEEE5"/><rect x="296.1" y="74.1" width="24" height="3.8" fill="#D5EAF0"/><rect x="319.8" y="74.1" width="24" height="3.8" fill="#D8ECEE"/><rect x="225" y="77.6" width="24" height="3.8" fill="#FC6A35"/><rect x="248.7" y="77.6" width="24" height="3.8" fill="#FED080"/><rect x="272.4" y="77.6" width="24" height="3.8" fill="#FCF0B0"/><rect x="296.1" y="77.6" width="24" height="3.8" fill="#A5CCE3"/><rect x="319.8" y="77.6" width="24" height="3.8" fill="#98C4E0"/><rect x="225" y="81.2" width="24" height="3.8" fill="#FD7A3A"/><rect x="248.7" y="81.2" width="24" height="3.8" fill="#FEDD8C"/><rect x="272.4" y="81.2" width="24" height="3.8" fill="#FBF3B5"/><rect x="296.1" y="81.2" width="24" height="3.8" fill="#6AA5D0"/><rect x="319.8" y="81.2" width="24" height="3.8" fill="#EEF2CC"/><rect x="225" y="84.7" width="24" height="3.8" fill="#FED080"/><rect x="248.7" y="84.7" width="24" height="3.8" fill="#FD7A3A"/><rect x="272.4" y="84.7" width="24" height="3.8" fill="#FCF0B0"/><rect x="296.1" y="84.7" width="24" height="3.8" fill="#80B5D8"/><rect x="319.8" y="84.7" width="24" height="3.8" fill="#B8D8EA"/><rect x="225" y="88.2" width="24" height="3.8" fill="#FED585"/><rect x="248.7" y="88.2" width="24" height="3.8" fill="#F8502A"/><rect x="272.4" y="88.2" width="24" height="3.8" fill="#E0EEE0"/><rect x="296.1" y="88.2" width="24" height="3.8" fill="#A0C9E3"/><rect x="319.8" y="88.2" width="24" height="3.8" fill="#C0DCEB"/><rect x="225" y="91.8" width="24" height="3.8" fill="#FEE095"/><rect x="248.7" y="91.8" width="24" height="3.8" fill="#E21515"/><rect x="272.4" y="91.8" width="24" height="3.8" fill="#E0EEE0"/><rect x="296.1" y="91.8" width="24" height="3.8" fill="#C8E2EE"/><rect x="319.8" y="91.8" width="24" height="3.8" fill="#C5E0EE"/><rect x="225" y="95.3" width="24" height="3.8" fill="#FEE095"/><rect x="248.7" y="95.3" width="24" height="3.8" fill="#EE2A1A"/><rect x="272.4" y="95.3" width="24" height="3.8" fill="#E0EEE0"/><rect x="296.1" y="95.3" width="24" height="3.8" fill="#C5E0EE"/><rect x="319.8" y="95.3" width="24" height="3.8" fill="#C0DCEB"/><rect x="225" y="98.9" width="24" height="3.8" fill="#FEDF90"/><rect x="248.7" y="98.9" width="24" height="3.8" fill="#F8502A"/><rect x="272.4" y="98.9" width="24" height="3.8" fill="#F5F2C0"/><rect x="296.1" y="98.9" width="24" height="3.8" fill="#B0D3E8"/><rect x="319.8" y="98.9" width="24" height="3.8" fill="#A8CEE5"/><rect x="225" y="102.4" width="24" height="3.8" fill="#FEDF90"/><rect x="248.7" y="102.4" width="24" height="3.8" fill="#F44A2A"/><rect x="272.4" y="102.4" width="24" height="3.8" fill="#E5F0DC"/><rect x="296.1" y="102.4" width="24" height="3.8" fill="#B8D8EA"/><rect x="319.8" y="102.4" width="24" height="3.8" fill="#B0D3E8"/><rect x="225" y="105.9" width="24" height="3.8" fill="#FFF0B0"/><rect x="248.7" y="105.9" width="24" height="3.8" fill="#E00A12"/><rect x="272.4" y="105.9" width="24" height="3.8" fill="#DCEEE5"/><rect x="296.1" y="105.9" width="24" height="3.8" fill="#D8ECEE"/><rect x="319.8" y="105.9" width="24" height="3.8" fill="#D5EAF0"/><rect x="225" y="109.5" width="24" height="3.8" fill="#FEC878"/><rect x="248.7" y="109.5" width="24" height="3.8" fill="#FC6030"/><rect x="272.4" y="109.5" width="24" height="3.8" fill="#F0F3C8"/><rect x="296.1" y="109.5" width="24" height="3.8" fill="#B0D3E8"/><rect x="319.8" y="109.5" width="24" height="3.8" fill="#A5CCE3"/><rect x="225" y="113" width="24" height="3.8" fill="#FEC878"/><rect x="248.7" y="113" width="24" height="3.8" fill="#FC6030"/><rect x="272.4" y="113" width="24" height="3.8" fill="#EEF2CC"/><rect x="296.1" y="113" width="24" height="3.8" fill="#B8D8EA"/><rect x="319.8" y="113" width="24" height="3.8" fill="#A5CCE3"/><rect x="225" y="116.6" width="24" height="3.8" fill="#FEC878"/><rect x="248.7" y="116.6" width="24" height="3.8" fill="#FC6030"/><rect x="272.4" y="116.6" width="24" height="3.8" fill="#F0F3C8"/><rect x="296.1" y="116.6" width="24" height="3.8" fill="#B0D3E8"/><rect x="319.8" y="116.6" width="24" height="3.8" fill="#A5CCE3"/><rect x="225" y="120.1" width="24" height="3.8" fill="#FEE5A0"/><rect x="248.7" y="120.1" width="24" height="3.8" fill="#D5EAF0"/><rect x="272.4" y="120.1" width="24" height="3.8" fill="#E8251A"/><rect x="296.1" y="120.1" width="24" height="3.8" fill="#C5E0EE"/><rect x="319.8" y="120.1" width="24" height="3.8" fill="#D0E7F0"/><rect x="225" y="123.6" width="24" height="3.8" fill="#FDAA60"/><rect x="248.7" y="123.6" width="24" height="3.8" fill="#FEE59A"/><rect x="272.4" y="123.6" width="24" height="3.8" fill="#FDA555"/><rect x="296.1" y="123.6" width="24" height="3.8" fill="#4F8EC4"/><rect x="319.8" y="123.6" width="24" height="3.8" fill="#D0E7F0"/><rect x="225" y="127.2" width="24" height="3.8" fill="#FDB065"/><rect x="248.7" y="127.2" width="24" height="3.8" fill="#FCEFAE"/><rect x="272.4" y="127.2" width="24" height="3.8" fill="#FEC070"/><rect x="296.1" y="127.2" width="24" height="3.8" fill="#5090C5"/><rect x="319.8" y="127.2" width="24" height="3.8" fill="#EEF2CC"/><rect x="225" y="130.7" width="24" height="3.8" fill="#FD8A45"/><rect x="248.7" y="130.7" width="24" height="3.8" fill="#FBF3B5"/><rect x="272.4" y="130.7" width="24" height="3.8" fill="#FED585"/><rect x="296.1" y="130.7" width="24" height="3.8" fill="#A5CCE3"/><rect x="319.8" y="130.7" width="24" height="3.8" fill="#90BFDE"/><rect x="225" y="134.3" width="24" height="3.8" fill="#FD8A45"/><rect x="248.7" y="134.3" width="24" height="3.8" fill="#FCEFAE"/><rect x="272.4" y="134.3" width="24" height="3.8" fill="#FEDD8C"/><rect x="296.1" y="134.3" width="24" height="3.8" fill="#98C4E0"/><rect x="319.8" y="134.3" width="24" height="3.8" fill="#88B9DB"/><rect x="225" y="137.8" width="24" height="3.8" fill="#FEE9A5"/><rect x="248.7" y="137.8" width="24" height="3.8" fill="#D5EAF0"/><rect x="272.4" y="137.8" width="24" height="3.8" fill="#F54525"/><rect x="296.1" y="137.8" width="24" height="3.8" fill="#7EB4D8"/><rect x="319.8" y="137.8" width="24" height="3.8" fill="#F5F3C0"/><rect x="225" y="141.3" width="24" height="3.8" fill="#FDB868"/><rect x="248.7" y="141.3" width="24" height="3.8" fill="#C8E2EE"/><rect x="272.4" y="141.3" width="24" height="3.8" fill="#F03A20"/><rect x="296.1" y="141.3" width="24" height="3.8" fill="#A5CCE3"/><rect x="319.8" y="141.3" width="24" height="3.8" fill="#D5EAF0"/><rect x="225" y="144.9" width="24" height="3.8" fill="#E0EEE0"/><rect x="248.7" y="144.9" width="24" height="3.8" fill="#D0E7F0"/><rect x="272.4" y="144.9" width="24" height="3.8" fill="#DC0A18"/><rect x="296.1" y="144.9" width="24" height="3.8" fill="#DCEEF0"/><rect x="319.8" y="144.9" width="24" height="3.8" fill="#E5F0DC"/><rect x="225" y="148.4" width="24" height="3.8" fill="#FEC070"/><rect x="248.7" y="148.4" width="24" height="3.8" fill="#FDA050"/><rect x="272.4" y="148.4" width="24" height="3.8" fill="#FEE090"/><rect x="296.1" y="148.4" width="24" height="3.8" fill="#8ABADB"/><rect x="319.8" y="148.4" width="24" height="3.8" fill="#90BFDE"/><rect x="225" y="152" width="24" height="3.8" fill="#FDA555"/><rect x="248.7" y="152" width="24" height="3.8" fill="#E8F2D5"/><rect x="272.4" y="152" width="24" height="3.8" fill="#FD8540"/><rect x="296.1" y="152" width="24" height="3.8" fill="#88B9DB"/><rect x="319.8" y="152" width="24" height="3.8" fill="#B5D5E8"/><rect x="225" y="155.5" width="24" height="3.8" fill="#D5EAF0"/><rect x="248.7" y="155.5" width="24" height="3.8" fill="#CDE5EF"/><rect x="272.4" y="155.5" width="24" height="3.8" fill="#EEF2CC"/><rect x="296.1" y="155.5" width="24" height="3.8" fill="#E0000A"/><rect x="319.8" y="155.5" width="24" height="3.8" fill="#E5F0DC"/><rect x="225" y="159" width="24" height="3.8" fill="#D5EAF0"/><rect x="248.7" y="159" width="24" height="3.8" fill="#CDE5EF"/><rect x="272.4" y="159" width="24" height="3.8" fill="#F5F2BE"/><rect x="296.1" y="159" width="24" height="3.8" fill="#E0000A"/><rect x="319.8" y="159" width="24" height="3.8" fill="#E5F0DC"/><rect x="225" y="162.6" width="24" height="3.8" fill="#D5EAF0"/><rect x="248.7" y="162.6" width="24" height="3.8" fill="#CDE5EF"/><rect x="272.4" y="162.6" width="24" height="3.8" fill="#F5F2BE"/><rect x="296.1" y="162.6" width="24" height="3.8" fill="#E0000A"/><rect x="319.8" y="162.6" width="24" height="3.8" fill="#E5F0DC"/><rect x="225" y="166.1" width="24" height="3.8" fill="#D5EAF0"/><rect x="248.7" y="166.1" width="24" height="3.8" fill="#C5DFEE"/><rect x="272.4" y="166.1" width="24" height="3.8" fill="#FBF3B5"/><rect x="296.1" y="166.1" width="24" height="3.8" fill="#E0000A"/><rect x="319.8" y="166.1" width="24" height="3.8" fill="#D5EAF0"/><rect x="225" y="169.7" width="24" height="3.8" fill="#D5EAF0"/><rect x="248.7" y="169.7" width="24" height="3.8" fill="#CDE5EF"/><rect x="272.4" y="169.7" width="24" height="3.8" fill="#F5F2BE"/><rect x="296.1" y="169.7" width="24" height="3.8" fill="#E0000A"/><rect x="319.8" y="169.7" width="24" height="3.8" fill="#E8F2D5"/><rect x="225" y="173.2" width="24" height="3.8" fill="#E5F0DC"/><rect x="248.7" y="173.2" width="24" height="3.8" fill="#BBDAEB"/><rect x="272.4" y="173.2" width="24" height="3.8" fill="#F5F2BE"/><rect x="296.1" y="173.2" width="24" height="3.8" fill="#E0000A"/><rect x="319.8" y="173.2" width="24" height="3.8" fill="#E8F2D5"/><rect x="225" y="176.7" width="24" height="3.8" fill="#E5F0DC"/><rect x="248.7" y="176.7" width="24" height="3.8" fill="#CDE5EF"/><rect x="272.4" y="176.7" width="24" height="3.8" fill="#F5F2BE"/><rect x="296.1" y="176.7" width="24" height="3.8" fill="#E0000A"/><rect x="319.8" y="176.7" width="24" height="3.8" fill="#B0D3E8"/><rect x="225" y="180.3" width="24" height="3.8" fill="#E5F0DC"/><rect x="248.7" y="180.3" width="24" height="3.8" fill="#D5EAE8"/><rect x="272.4" y="180.3" width="24" height="3.8" fill="#F5F2BE"/><rect x="296.1" y="180.3" width="24" height="3.8" fill="#E0000A"/><rect x="319.8" y="180.3" width="24" height="3.8" fill="#C0DCEB"/><rect x="225" y="183.8" width="24" height="3.8" fill="#D5EAF0"/><rect x="248.7" y="183.8" width="24" height="3.8" fill="#CDE5EF"/><rect x="272.4" y="183.8" width="24" height="3.8" fill="#F5F2BE"/><rect x="296.1" y="183.8" width="24" height="3.8" fill="#E0000A"/><rect x="319.8" y="183.8" width="24" height="3.8" fill="#D5EAF0"/><rect x="225" y="187.4" width="24" height="3.8" fill="#D5EAF0"/><rect x="248.7" y="187.4" width="24" height="3.8" fill="#CDE5EF"/><rect x="272.4" y="187.4" width="24" height="3.8" fill="#F5F2BE"/><rect x="296.1" y="187.4" width="24" height="3.8" fill="#E0000A"/><rect x="319.8" y="187.4" width="24" height="3.8" fill="#D5EAF0"/><rect x="225" y="190.9" width="24" height="3.8" fill="#C5E0EE"/><rect x="248.7" y="190.9" width="24" height="3.8" fill="#C0DCEB"/><rect x="272.4" y="190.9" width="24" height="3.8" fill="#D0E7F0"/><rect x="296.1" y="190.9" width="24" height="3.8" fill="#FEE090"/><rect x="319.8" y="190.9" width="24" height="3.8" fill="#F03A20"/><rect x="225" y="194.4" width="24" height="3.8" fill="#F0F3C8"/><rect x="248.7" y="194.4" width="24" height="3.8" fill="#A8CEE5"/><rect x="272.4" y="194.4" width="24" height="3.8" fill="#DCEEE5"/><rect x="296.1" y="194.4" width="24" height="3.8" fill="#FBF3B5"/><rect x="319.8" y="194.4" width="24" height="3.8" fill="#E0000A"/><rect x="225" y="198" width="24" height="3.8" fill="#FCF0B0"/><rect x="248.7" y="198" width="24" height="3.8" fill="#D5EAF0"/><rect x="272.4" y="198" width="24" height="3.8" fill="#B8D8EA"/><rect x="296.1" y="198" width="24" height="3.8" fill="#F5F2C0"/><rect x="319.8" y="198" width="24" height="3.8" fill="#E00A12"/><rect x="225" y="201.5" width="24" height="3.8" fill="#C5E0EE"/><rect x="248.7" y="201.5" width="24" height="3.8" fill="#B5D5E8"/><rect x="272.4" y="201.5" width="24" height="3.8" fill="#D5EAF0"/><rect x="296.1" y="201.5" width="24" height="3.8" fill="#FEDD8C"/><rect x="319.8" y="201.5" width="24" height="3.8" fill="#F54525"/><rect x="225" y="205.1" width="24" height="3.8" fill="#C8E2EE"/><rect x="248.7" y="205.1" width="24" height="3.8" fill="#B0D3E8"/><rect x="272.4" y="205.1" width="24" height="3.8" fill="#D8ECEE"/><rect x="296.1" y="205.1" width="24" height="3.8" fill="#FEE090"/><rect x="319.8" y="205.1" width="24" height="3.8" fill="#F03A20"/><rect x="225" y="208.6" width="24" height="3.8" fill="#D0E7F0"/><rect x="248.7" y="208.6" width="24" height="3.8" fill="#B5D5E8"/><rect x="272.4" y="208.6" width="24" height="3.8" fill="#DCEEE8"/><rect x="296.1" y="208.6" width="24" height="3.8" fill="#FEE59A"/><rect x="319.8" y="208.6" width="24" height="3.8" fill="#EE3018"/><rect x="225" y="212.1" width="24" height="3.8" fill="#F0F3C8"/><rect x="248.7" y="212.1" width="24" height="3.8" fill="#EEF2CC"/><rect x="272.4" y="212.1" width="24" height="3.8" fill="#C5E0EE"/><rect x="296.1" y="212.1" width="24" height="3.8" fill="#F0F3C8"/><rect x="319.8" y="212.1" width="24" height="3.8" fill="#DC0510"/><rect x="225" y="215.7" width="24" height="3.8" fill="#C0DCEB"/><rect x="248.7" y="215.7" width="24" height="3.8" fill="#C5E0EE"/><rect x="272.4" y="215.7" width="24" height="3.8" fill="#CDE5EF"/><rect x="296.1" y="215.7" width="24" height="3.8" fill="#FEDA88"/><rect x="319.8" y="215.7" width="24" height="3.8" fill="#F03A20"/><rect x="225" y="219.2" width="24" height="3.8" fill="#E8F2D5"/><rect x="248.7" y="219.2" width="24" height="3.8" fill="#98C4E0"/><rect x="272.4" y="219.2" width="24" height="3.8" fill="#C0DCEB"/><rect x="296.1" y="219.2" width="24" height="3.8" fill="#FDB868"/><rect x="319.8" y="219.2" width="24" height="3.8" fill="#FB6030"/><rect x="225" y="222.8" width="24" height="3.8" fill="#E5F0DC"/><rect x="248.7" y="222.8" width="24" height="3.8" fill="#C0DCEB"/><rect x="272.4" y="222.8" width="24" height="3.8" fill="#E8F2D5"/><rect x="296.1" y="222.8" width="24" height="3.8" fill="#E5F0DC"/><rect x="319.8" y="222.8" width="24" height="3.8" fill="#DC0510"/>
</g>
<text x="181.6" y="39.9" font-size="13.5">Cluster</text>
<text x="235.3" y="39.9" font-size="13.5" text-anchor="middle">1</text>
<text x="259.1" y="39.9" font-size="13.5" text-anchor="middle">2</text>
<text x="282.8" y="39.9" font-size="13.5" text-anchor="middle">3</text>
<text x="306.4" y="39.9" font-size="13.5" text-anchor="middle">4</text>
<text x="330.1" y="39.9" font-size="13.5" text-anchor="middle">5</text>
<text x="348.8" y="58.2" font-size="11.5" font-style="italic" fill="#222">Has1</text>
<text x="348.8" y="69.2" font-size="11.5" font-style="italic" fill="#222">Il6</text>
<text x="348.8" y="79.9" font-size="11.5" font-style="italic" fill="#222">Egr1</text>
<text x="348.8" y="95.3" font-size="11.5" font-style="italic" fill="#222">Sult1e1</text>
<text x="348.8" y="106.3" font-size="11.5" font-style="italic" fill="#222">Col6a5</text>
<text x="348.8" y="117" font-size="11.5" font-style="italic" fill="#222">C3</text>
<text x="348.8" y="130.7" font-size="11.5" font-style="italic" fill="#222">Col15a1</text>
<text x="348.8" y="141.7" font-size="11.5" font-style="italic" fill="#222">Timp3</text>
<text x="348.8" y="152.8" font-size="11.5" font-style="italic" fill="#222">Cxcl14</text>
<text x="348.8" y="167.3" font-size="11.5" font-style="italic" fill="#222">Lyz2</text>
<text x="348.8" y="178.3" font-size="11.5" font-style="italic" fill="#222">Cd74</text>
<text x="348.8" y="188.9" font-size="11.5" font-style="italic" fill="#222">C1qa</text>
<text x="348.8" y="202.9" font-size="11.5" font-style="italic" fill="#222">Spp1</text>
<text x="348.8" y="214.9" font-size="11.5" font-style="italic" fill="#222">Ptn</text>
<text x="348.8" y="226.7" font-size="11.5" font-style="italic" fill="#222">Col8a1</text>
<defs><linearGradient id="cb1" x1="0" y1="0" x2="0" y2="1"><stop offset="0" stop-color="#DE0A14"/><stop offset="0.09" stop-color="#F0361F"/><stop offset="0.2" stop-color="#FB6A3A"/><stop offset="0.32" stop-color="#FDA257"/><stop offset="0.42" stop-color="#FECB7C"/><stop offset="0.5" stop-color="#FEEBA2"/><stop offset="0.56" stop-color="#F8F4BE"/><stop offset="0.62" stop-color="#E3F0E0"/><stop offset="0.72" stop-color="#C2DDEC"/><stop offset="0.82" stop-color="#92BFDE"/><stop offset="0.92" stop-color="#5592C8"/><stop offset="1" stop-color="#2166AC"/></linearGradient></defs>
<rect x="423.6" y="41.1" width="9.9" height="139.1" fill="url(#cb1)"/>
<text x="437.5" y="55.1" font-size="7.3" fill="#333">1.5</text>
<text x="437.5" y="74.7" font-size="7.3" fill="#333">1</text>
<text x="437.5" y="94.2" font-size="7.3" fill="#333">0.5</text>
<text x="437.5" y="113.6" font-size="7.3" fill="#333">0</text>
<text x="437.5" y="133.1" font-size="7.3" fill="#333">−0.5</text>
<text x="437.5" y="152.6" font-size="7.3" fill="#333">−1</text>
<text x="437.5" y="172" font-size="7.3" fill="#333">−1.5</text>
<text x="415.2" y="105.5" font-size="13.8" text-anchor="middle" fill="#222" transform="rotate(-90 415.2 105.5)">z-score</text>
</g>
<g id="p-feat">
<defs><filter id="hz" x="-20%" y="-20%" width="140%" height="140%"><feGaussianBlur stdDeviation="1.6"/></filter></defs>
<text x="556.7" y="45.8" font-size="13.3" font-style="italic" fill="#222">Pten<tspan dy="-4" font-size="9.2" font-style="normal">PC−/−</tspan></text>
<text x="627.5" y="45.8" font-size="13.3" font-style="italic" fill="#222">Pten<tspan dy="-4" font-size="9.2" font-style="normal">PC−/−</tspan><tspan dy="4">; Trp53</tspan><tspan dy="-4" font-size="9.2" font-style="normal">PC−/−</tspan></text>
<text x="535.7" y="96.5" font-size="13.6" text-anchor="middle" fill="#222" transform="rotate(-90 535.7 96.5)">sham</text>
<text x="535.7" y="189.6" font-size="13.6" text-anchor="middle" fill="#222" transform="rotate(-90 535.7 189.6)">ADT</text>
<defs><clipPath id="fc0"><rect x="539.6" y="53.9" width="86.4" height="85.4"/></clipPath><clipPath id="fc1"><rect x="643.7" y="53.9" width="86.3" height="85.4"/></clipPath><clipPath id="fc2"><rect x="539.6" y="147" width="86.4" height="85.5"/></clipPath><clipPath id="fc3"><rect x="643.7" y="147" width="86.3" height="85.5"/></clipPath></defs>
<g clip-path="url(#fc0)">
<path d="M582.1 69.3C583.6 65.8 584 66.5 587.8 65C591.6 63.4 593.5 65.8 596.3 63.5C599.2 61.3 597.5 56.4 598.5 56.4C599.4 56.4 597.4 60.1 599.9 63.5C602.4 67 603.4 66 607.7 69.3C612.1 72.5 612.1 72.8 616.3 75.7C620.5 78.5 624.2 77.9 623.4 80C622.7 82 618.4 82 613.4 83.5C608.5 85 610.2 85.5 604.9 85.7C599.6 85.8 598.8 83.7 593.5 84.2C588.1 84.8 588.3 85.7 584.9 87.8C581.5 89.9 582.2 92.5 580.6 92.1C579.1 91.7 578.8 90.2 579.2 86.4C579.6 82.6 581.3 82.4 582.1 77.8C582.8 73.2 580.5 72.7 582.1 69.3z" fill="#E7F0F8" filter="url(#hz)"/>
<path d="M539.3 66.4C539.6 62.8 540.5 62.5 543.5 60C546.6 57.5 546.5 57.5 550.7 57.1C554.9 56.7 555.6 56.5 559.2 58.6C562.9 60.6 562.3 61 564.2 65C566.1 69 565 69.3 566.4 73.5C567.7 77.7 570 77.8 569.2 80.7C568.5 83.5 566.9 84.2 563.5 84.2C560.1 84.2 560.2 82.9 556.4 80.7C552.6 78.4 553.1 77.6 549.3 75.7C545.4 73.8 544.8 76 542.1 73.5C539.5 71.1 538.9 70 539.3 66.4z" fill="#E7F0F8" filter="url(#hz)"/>
<path d="M539.3 66.4C539.1 63.9 539.7 62.8 541.4 60.7C543.1 58.6 543.9 58.6 546.4 57.6C548.9 56.5 549.3 55.9 552.1 56.1C554.9 56.4 556.4 56.8 558.5 58.6C560.7 60.3 560.2 61 561.4 63.5C562.5 66 562.5 66.4 563.5 69.3C564.5 72.1 564.7 73.3 565.7 75.7C566.7 78 568.5 77.4 567.8 79.2C567.1 81.1 565.1 83.2 562.8 83.5C560.5 83.8 560 82.5 557.8 80.7C555.6 78.8 555.7 77.3 553.5 75.7C551.4 74 551.2 74.5 548.5 73.5C545.9 72.5 544.3 73.1 542.1 71.4C540 69.7 539.4 68.9 539.3 66.4z" fill="#9A9A94"/><path d="M559.7 83.7h1.2v1.2h-1.2zM539.7 67h1.2v1.2h-1.2zM566.7 78.3h1.2v1.2h-1.2zM545.5 57h1.2v1.2h-1.2zM566.7 81.2h1.2v1.2h-1.2zM565.4 69.3h1.2v1.2h-1.2zM551.7 56.6h1.2v1.2h-1.2zM567.9 75.6h1.2v1.2h-1.2zM557.2 57.2h1.2v1.2h-1.2zM549 56.2h1.2v1.2h-1.2zM555.9 80h1.2v1.2h-1.2zM558.6 57.2h1.2v1.2h-1.2zM562.6 64.9h1.2v1.2h-1.2zM561.3 64.6h1.2v1.2h-1.2zM555.3 77h1.2v1.2h-1.2zM558.7 61.7h1.2v1.2h-1.2zM551.9 77.7h1.2v1.2h-1.2zM549.8 75.2h1.2v1.2h-1.2zM563.5 70.9h1.2v1.2h-1.2zM537.9 59.5h1.2v1.2h-1.2zM547.3 56.4h1.2v1.2h-1.2zM562.6 65.3h1.2v1.2h-1.2zM565.3 73.2h1.2v1.2h-1.2zM537.4 70.8h1.2v1.2h-1.2zM551.5 54.5h1.2v1.2h-1.2zM561.2 64h1.2v1.2h-1.2zM556.1 78.9h1.2v1.2h-1.2zM549.4 57.3h1.2v1.2h-1.2zM554.3 74.8h1.2v1.2h-1.2zM562.9 67.7h1.2v1.2h-1.2zM558.8 60.4h1.2v1.2h-1.2zM554.6 80h1.2v1.2h-1.2zM550.8 55.3h1.2v1.2h-1.2zM545.9 73.1h1.2v1.2h-1.2zM540.1 62.3h1.2v1.2h-1.2zM559.3 80.3h1.2v1.2h-1.2zM566.1 78.5h1.2v1.2h-1.2zM566.7 77.5h1.2v1.2h-1.2zM561.3 81.7h1.2v1.2h-1.2zM559.6 64.1h1.2v1.2h-1.2zM561.4 84.1h1.2v1.2h-1.2zM545.4 72h1.2v1.2h-1.2zM558.7 58.8h1.2v1.2h-1.2zM567.6 75.8h1.2v1.2h-1.2zM562 66.6h1.2v1.2h-1.2zM562.9 82.9h1.2v1.2h-1.2zM558.9 60.2h1.2v1.2h-1.2zM559.7 67h1.2v1.2h-1.2zM565.1 68.7h1.2v1.2h-1.2zM549.9 75h1.2v1.2h-1.2zM550 58.3h1.2v1.2h-1.2zM539.4 66.5h1.2v1.2h-1.2zM548.6 72.2h1.2v1.2h-1.2zM562.3 82.3h1.2v1.2h-1.2zM541.8 75.3h1.2v1.2h-1.2zM550.8 56.6h1.2v1.2h-1.2zM557.2 59.2h1.2v1.2h-1.2zM568.5 80.9h1.2v1.2h-1.2zM542.7 59.9h1.2v1.2h-1.2zM538.4 65h1.2v1.2h-1.2zM544 61h1.2v1.2h-1.2zM541.8 63h1.2v1.2h-1.2zM541.8 69.1h1.2v1.2h-1.2zM539.5 63.7h1.2v1.2h-1.2zM562.7 78.5h1.2v1.2h-1.2zM539.8 71h1.2v1.2h-1.2zM566.4 81.6h1.2v1.2h-1.2zM560 82.2h1.2v1.2h-1.2zM542.6 59h1.2v1.2h-1.2zM543.8 58.3h1.2v1.2h-1.2zM563.1 65.7h1.2v1.2h-1.2zM563.5 75h1.2v1.2h-1.2zM553.8 73.6h1.2v1.2h-1.2zM559.2 80.1h1.2v1.2h-1.2zM557.6 63.4h1.2v1.2h-1.2zM567.2 78.6h1.2v1.2h-1.2zM553.5 77.3h1.2v1.2h-1.2zM545.9 73.6h1.2v1.2h-1.2zM567.9 78.9h1.2v1.2h-1.2zM555.8 55h1.2v1.2h-1.2zM557.6 58.5h1.2v1.2h-1.2zM555.5 73.9h1.2v1.2h-1.2zM539.8 63h1.2v1.2h-1.2zM562.1 66.1h1.2v1.2h-1.2zM561.5 63.3h1.2v1.2h-1.2zM536.8 65.1h1.2v1.2h-1.2zM545 57.2h1.2v1.2h-1.2zM541.1 70.1h1.2v1.2h-1.2zM556 74.9h1.2v1.2h-1.2zM566.4 75.8h1.2v1.2h-1.2zM559.3 59.2h1.2v1.2h-1.2zM539.2 62.3h1.2v1.2h-1.2zM544.6 72.6h1.2v1.2h-1.2zM549 73.9h1.2v1.2h-1.2zM547.8 56.2h1.2v1.2h-1.2zM552.7 72.5h1.2v1.2h-1.2zM552.5 76.5h1.2v1.2h-1.2zM545.7 56.6h1.2v1.2h-1.2zM539.4 68.6h1.2v1.2h-1.2zM545.1 58.7h1.2v1.2h-1.2zM564.4 74.8h1.2v1.2h-1.2zM546.6 58.4h1.2v1.2h-1.2zM556 78.4h1.2v1.2h-1.2zM560.2 83.6h1.2v1.2h-1.2zM538.9 64.9h1.2v1.2h-1.2zM564.2 74h1.2v1.2h-1.2zM550.8 57.4h1.2v1.2h-1.2zM567.3 79.3h1.2v1.2h-1.2zM552.3 55.9h1.2v1.2h-1.2zM548.4 72h1.2v1.2h-1.2zM540.4 68.1h1.2v1.2h-1.2zM551.9 76.4h1.2v1.2h-1.2zM540.1 66.5h1.2v1.2h-1.2zM550.8 57.2h1.2v1.2h-1.2zM546.8 58h1.2v1.2h-1.2zM541.8 60.5h1.2v1.2h-1.2zM549.1 74.7h1.2v1.2h-1.2zM555.6 79.5h1.2v1.2h-1.2zM563.8 72.1h1.2v1.2h-1.2zM559 79.7h1.2v1.2h-1.2zM547.4 71.4h1.2v1.2h-1.2zM564.7 75.1h1.2v1.2h-1.2zM561.3 82.7h1.2v1.2h-1.2zM538.8 66h1.2v1.2h-1.2zM565.7 78.5h1.2v1.2h-1.2zM559.5 61.5h1.2v1.2h-1.2zM566.7 78.5h1.2v1.2h-1.2zM540.7 60.7h1.2v1.2h-1.2zM550.8 57.7h1.2v1.2h-1.2zM546.2 73.8h1.2v1.2h-1.2zM539.4 62.7h1.2v1.2h-1.2zM539.5 60.6h1.2v1.2h-1.2zM545.9 55.9h1.2v1.2h-1.2zM556.5 78.9h1.2v1.2h-1.2zM552.9 75.5h1.2v1.2h-1.2zM564.3 72.6h1.2v1.2h-1.2zM548 58.3h1.2v1.2h-1.2zM550.7 73.3h1.2v1.2h-1.2zM556.7 56.7h1.2v1.2h-1.2zM560 58.8h1.2v1.2h-1.2z" fill="#9A9A94"/><path d="M550.9 58.8h1v1h-1zM554.2 80.6h1v1h-1zM553.5 65.9h1v1h-1zM543.2 59.4h1v1h-1zM562.7 69.1h1v1h-1zM563.6 59h1v1h-1zM546.8 58.9h1v1h-1zM550.5 59.2h1v1h-1zM547.1 67.2h1v1h-1zM548.3 59h1v1h-1zM541.8 80.2h1v1h-1zM545.3 69.5h1v1h-1zM550.7 70h1v1h-1zM543 65h1v1h-1zM543.5 70.3h1v1h-1zM563.2 71.6h1v1h-1zM561.7 62.7h1v1h-1zM541.3 70.2h1v1h-1zM552.7 71h1v1h-1zM550 72.2h1v1h-1zM558.5 78.9h1v1h-1zM548.4 68.1h1v1h-1zM560.9 62.9h1v1h-1zM543.7 65h1v1h-1zM543 75.6h1v1h-1zM560.8 65h1v1h-1zM544.1 59.7h1v1h-1zM546.8 59.7h1v1h-1zM551.3 71.1h1v1h-1zM546.9 59.2h1v1h-1zM557.9 58.9h1v1h-1zM545.8 64.4h1v1h-1zM550 60h1v1h-1zM551.1 65h1v1h-1zM559.1 70.6h1v1h-1zM562.6 72.9h1v1h-1zM559.3 71h1v1h-1zM551.6 76.6h1v1h-1zM556.8 79.8h1v1h-1zM558.6 74h1v1h-1zM547.4 76.5h1v1h-1zM550.2 60.8h1v1h-1zM542.5 61.7h1v1h-1zM547.3 73.4h1v1h-1zM547.8 59.2h1v1h-1zM559.4 70.6h1v1h-1zM541.6 58.9h1v1h-1zM544.1 66h1v1h-1zM561.8 79.7h1v1h-1zM555.7 63.1h1v1h-1zM551.3 66.1h1v1h-1zM548.9 58.1h1v1h-1zM555.1 76.9h1v1h-1zM558.5 60h1v1h-1zM553.8 61.7h1v1h-1zM558.1 68.1h1v1h-1zM563.7 76.1h1v1h-1zM543.8 65.1h1v1h-1zM563.1 68.4h1v1h-1zM551.4 68h1v1h-1zM559.5 79.4h1v1h-1zM553.8 80.2h1v1h-1zM555.4 60.2h1v1h-1zM560.7 67.5h1v1h-1zM542.2 80.4h1v1h-1zM541.7 71.1h1v1h-1zM552.6 78.1h1v1h-1zM550.4 62.7h1v1h-1zM547.6 62.4h1v1h-1zM554.5 66h1v1h-1z" fill="#fff" opacity="0.55"/>
<path d="M573.6 54.7h1.2v1.2h-1.2zM570 56.5h1.2v1.2h-1.2zM570.8 76.5h1.2v1.2h-1.2zM575 82.9h1.2v1.2h-1.2zM580.7 84.8h1.2v1.2h-1.2zM585.7 75.8h1.2v1.2h-1.2zM590 81.2h1.2v1.2h-1.2zM592.9 65.5h1.2v1.2h-1.2zM566.5 86.9h1.2v1.2h-1.2zM573.6 92.9h1.2v1.2h-1.2zM590.7 96.9h1.2v1.2h-1.2zM616.4 95h1.2v1.2h-1.2zM572.2 107.2h1.2v1.2h-1.2zM580.5 117.4h1.2v1.2h-1.2zM582.9 123.1h1.2v1.2h-1.2zM576.9 125.7h1.2v1.2h-1.2zM560.1 95h1.2v1.2h-1.2zM610.7 130h1.2v1.2h-1.2z" fill="#A8AAA8" opacity="0.55"/>
</g>
<line x1="626.6" y1="53.3" x2="626.6" y2="139.9" stroke="#c8c8c8" stroke-width="1"/><polyline points="626.6,53.3 539,53.3 539,139.9 626.6,139.9" fill="none" stroke="#6e6e6e" stroke-width="1.3"/><line x1="540.4" y1="139.9" x2="540.4" y2="141.4" stroke="#6e6e6e" stroke-width="1"/><line x1="589.8" y1="139.9" x2="589.8" y2="141.4" stroke="#6e6e6e" stroke-width="1"/><line x1="625.5" y1="139.9" x2="625.5" y2="141.4" stroke="#6e6e6e" stroke-width="1"/><line x1="537.5" y1="58.6" x2="539" y2="58.6" stroke="#6e6e6e" stroke-width="1"/><line x1="537.5" y1="84.9" x2="539" y2="84.9" stroke="#6e6e6e" stroke-width="1"/><line x1="537.5" y1="137.7" x2="539" y2="137.7" stroke="#6e6e6e" stroke-width="1"/>
<g clip-path="url(#fc1)">
<path d="M687.1 69.3C688.6 65.8 689 66.5 692.8 65C696.6 63.4 698.5 65.8 701.3 63.5C704.2 61.3 702.5 56.4 703.5 56.4C704.4 56.4 702.4 60.1 704.9 63.5C707.4 67 708.4 66 712.7 69.3C717.1 72.5 717.1 72.8 721.3 75.7C725.5 78.5 729.2 77.9 728.4 80C727.7 82 723.4 82 718.4 83.5C713.5 85 715.2 85.5 709.9 85.7C704.6 85.8 703.8 83.7 698.5 84.2C693.1 84.8 693.3 85.7 689.9 87.8C686.5 89.9 687.2 92.5 685.6 92.1C684.1 91.7 683.8 90.2 684.2 86.4C684.6 82.6 686.3 82.4 687.1 77.8C687.8 73.2 685.5 72.7 687.1 69.3z" fill="#E7F0F8" filter="url(#hz)"/>
<path d="M644.3 66.4C644.6 62.8 645.5 62.5 648.5 60C651.6 57.5 651.5 57.5 655.7 57.1C659.9 56.7 660.6 56.5 664.2 58.6C667.9 60.6 667.3 61 669.2 65C671.1 69 670 69.3 671.4 73.5C672.7 77.7 675 77.8 674.2 80.7C673.5 83.5 671.9 84.2 668.5 84.2C665.1 84.2 665.2 82.9 661.4 80.7C657.6 78.4 658.1 77.6 654.3 75.7C650.4 73.8 649.8 76 647.1 73.5C644.5 71.1 643.9 70 644.3 66.4z" fill="#E7F0F8" filter="url(#hz)"/>
<path d="M643.6 66.4C643.9 64.7 644.2 64 645.7 62.1C647.2 60.2 647.6 59.9 650 58.1C652.3 56.4 652.7 55.3 655.7 54.7C658.7 54.1 660.1 54.3 662.8 55.7C665.5 57.1 666.3 57.9 667.4 60.7C668.4 63.5 666.1 65 667.4 67.8C668.6 70.7 670.5 71.1 672.8 72.8C675.1 74.5 676.1 73.6 677.1 75.2C678 76.9 678.1 79.6 676.8 80C675.5 80.3 673.8 78.3 671.4 76.7C668.9 75 668.5 73.6 666.4 73C664.2 72.3 664.9 74.1 662.1 73.8C659.3 73.5 657.4 72.2 654.3 71.5C651.1 70.9 650.9 71.5 648.5 71C646.2 70.4 645.4 70.3 644.3 69.3C643.1 68.2 643.2 68.1 643.6 66.4z" fill="#0A1F5E"/><path d="M674.7 70.7h1.2v1.2h-1.2zM647.1 59.5h1.2v1.2h-1.2zM675.1 73.6h1.2v1.2h-1.2zM659.8 58h1.2v1.2h-1.2zM666.7 74.6h1.2v1.2h-1.2zM653.8 54.9h1.2v1.2h-1.2zM668.9 66.2h1.2v1.2h-1.2zM671.6 77.7h1.2v1.2h-1.2zM658.4 70.4h1.2v1.2h-1.2zM647.8 58.1h1.2v1.2h-1.2zM643.3 62.7h1.2v1.2h-1.2zM649.8 55.5h1.2v1.2h-1.2zM652.9 70.3h1.2v1.2h-1.2zM672.5 70.3h1.2v1.2h-1.2zM670.3 73.9h1.2v1.2h-1.2zM670 70h1.2v1.2h-1.2zM664.5 72.1h1.2v1.2h-1.2zM642.7 64.6h1.2v1.2h-1.2zM670.6 70.8h1.2v1.2h-1.2zM662.8 53.5h1.2v1.2h-1.2zM665.7 73.3h1.2v1.2h-1.2zM679.3 80h1.2v1.2h-1.2zM653.1 54.3h1.2v1.2h-1.2zM651.2 54.1h1.2v1.2h-1.2zM649.7 71.5h1.2v1.2h-1.2zM673.1 74.9h1.2v1.2h-1.2zM670.5 75.5h1.2v1.2h-1.2zM666.5 63.8h1.2v1.2h-1.2zM668.7 74h1.2v1.2h-1.2zM652.4 54.8h1.2v1.2h-1.2zM674.1 72.7h1.2v1.2h-1.2zM654.8 53.5h1.2v1.2h-1.2zM669.5 75.1h1.2v1.2h-1.2zM645.8 66.7h1.2v1.2h-1.2zM658.1 53.6h1.2v1.2h-1.2zM666.8 75.2h1.2v1.2h-1.2zM652.3 56.1h1.2v1.2h-1.2zM642.1 64.5h1.2v1.2h-1.2zM647.4 62.9h1.2v1.2h-1.2zM654.3 55h1.2v1.2h-1.2zM641.9 65.5h1.2v1.2h-1.2zM670.9 72.6h1.2v1.2h-1.2zM643.3 66.2h1.2v1.2h-1.2zM655.8 56.8h1.2v1.2h-1.2zM652.4 71.4h1.2v1.2h-1.2zM652 56.7h1.2v1.2h-1.2zM646.7 70h1.2v1.2h-1.2zM671 74.5h1.2v1.2h-1.2zM646.4 64.3h1.2v1.2h-1.2zM642.1 65.1h1.2v1.2h-1.2zM650.4 61.1h1.2v1.2h-1.2zM644.4 69.9h1.2v1.2h-1.2zM644.6 67.7h1.2v1.2h-1.2zM650.7 69.7h1.2v1.2h-1.2zM644 61.7h1.2v1.2h-1.2zM644.6 74.1h1.2v1.2h-1.2zM668.3 68.4h1.2v1.2h-1.2zM650.1 71.1h1.2v1.2h-1.2zM658 73.8h1.2v1.2h-1.2zM674.5 77.5h1.2v1.2h-1.2zM647.5 69.9h1.2v1.2h-1.2zM648.7 70.7h1.2v1.2h-1.2zM642.4 65.5h1.2v1.2h-1.2zM671.2 73.9h1.2v1.2h-1.2zM642.3 65.5h1.2v1.2h-1.2zM664.6 73.8h1.2v1.2h-1.2zM652.1 57.4h1.2v1.2h-1.2zM672.3 78.4h1.2v1.2h-1.2zM676.5 74.8h1.2v1.2h-1.2zM645.6 63.9h1.2v1.2h-1.2zM645.3 60h1.2v1.2h-1.2zM677.2 74.7h1.2v1.2h-1.2zM649.9 57.1h1.2v1.2h-1.2zM674.4 78.3h1.2v1.2h-1.2zM663 74.7h1.2v1.2h-1.2zM653.5 71.8h1.2v1.2h-1.2zM654 55.7h1.2v1.2h-1.2zM658.1 72.8h1.2v1.2h-1.2zM663.1 74.1h1.2v1.2h-1.2zM642 67.9h1.2v1.2h-1.2zM646.5 62h1.2v1.2h-1.2zM662.5 59.2h1.2v1.2h-1.2zM643 65.3h1.2v1.2h-1.2zM642.8 64.4h1.2v1.2h-1.2zM672.8 72.3h1.2v1.2h-1.2zM664 63.1h1.2v1.2h-1.2zM663.8 72.9h1.2v1.2h-1.2zM643 66.5h1.2v1.2h-1.2zM652.6 68.9h1.2v1.2h-1.2zM673.8 71.4h1.2v1.2h-1.2zM649.4 56.2h1.2v1.2h-1.2zM654.3 53.2h1.2v1.2h-1.2zM655.5 72.7h1.2v1.2h-1.2zM643.9 63.9h1.2v1.2h-1.2zM643.9 68.1h1.2v1.2h-1.2zM675.2 75.1h1.2v1.2h-1.2zM665.1 57.6h1.2v1.2h-1.2zM661.2 74.1h1.2v1.2h-1.2zM643.8 69h1.2v1.2h-1.2zM650.4 70.8h1.2v1.2h-1.2zM669 68.7h1.2v1.2h-1.2zM676.1 79.2h1.2v1.2h-1.2zM677.3 75.2h1.2v1.2h-1.2zM641 64.1h1.2v1.2h-1.2zM660.5 55.2h1.2v1.2h-1.2zM671.2 76.4h1.2v1.2h-1.2zM658.9 74.9h1.2v1.2h-1.2zM657.7 55.1h1.2v1.2h-1.2zM648.3 61h1.2v1.2h-1.2zM653 71.8h1.2v1.2h-1.2zM662.1 53.9h1.2v1.2h-1.2zM659.7 55.2h1.2v1.2h-1.2zM672.1 76.1h1.2v1.2h-1.2zM661.1 73.3h1.2v1.2h-1.2zM672.1 72.4h1.2v1.2h-1.2zM657.8 74h1.2v1.2h-1.2zM656.4 68.2h1.2v1.2h-1.2zM661.8 54.6h1.2v1.2h-1.2zM666.2 72.3h1.2v1.2h-1.2zM677.4 78.6h1.2v1.2h-1.2zM646.2 67.5h1.2v1.2h-1.2zM676.4 74.9h1.2v1.2h-1.2zM643.2 66.9h1.2v1.2h-1.2zM671.6 68.8h1.2v1.2h-1.2zM644.3 69.3h1.2v1.2h-1.2zM653.4 56.7h1.2v1.2h-1.2zM665.6 65.9h1.2v1.2h-1.2zM675.7 75.9h1.2v1.2h-1.2zM658.4 54.6h1.2v1.2h-1.2zM640.3 67h1.2v1.2h-1.2zM674 77.8h1.2v1.2h-1.2zM650.3 72.6h1.2v1.2h-1.2zM672.7 74.9h1.2v1.2h-1.2zM646 66.8h1.2v1.2h-1.2zM647.5 71.9h1.2v1.2h-1.2zM646.3 68.1h1.2v1.2h-1.2zM643.2 65.1h1.2v1.2h-1.2zM643.3 66.1h1.2v1.2h-1.2zM644.7 64.4h1.2v1.2h-1.2zM667 68.8h1.2v1.2h-1.2zM657.2 53.7h1.2v1.2h-1.2zM676.5 80h1.2v1.2h-1.2zM652.1 54.9h1.2v1.2h-1.2zM676.5 79.6h1.2v1.2h-1.2zM644.1 66h1.2v1.2h-1.2zM643.5 65.3h1.2v1.2h-1.2zM665.9 68.2h1.2v1.2h-1.2zM643 67.2h1.2v1.2h-1.2zM642.7 67.4h1.2v1.2h-1.2zM670.1 64.5h1.2v1.2h-1.2zM671.7 71.2h1.2v1.2h-1.2zM662.7 74.4h1.2v1.2h-1.2zM646.2 62h1.2v1.2h-1.2zM658.5 71.6h1.2v1.2h-1.2zM656.4 73.1h1.2v1.2h-1.2zM648.4 69.8h1.2v1.2h-1.2zM671.9 69h1.2v1.2h-1.2zM656.5 53.3h1.2v1.2h-1.2zM650.4 69.4h1.2v1.2h-1.2zM645.4 70.9h1.2v1.2h-1.2z" fill="#0A1F5E"/><path d="M666.1 74.5h1v1h-1zM646.5 73.6h1v1h-1zM673.6 59.7h1v1h-1zM663.7 71.2h1v1h-1zM657.9 73.4h1v1h-1zM663.5 60.2h1v1h-1zM661.1 71.1h1v1h-1zM672.9 71.9h1v1h-1zM665.7 66.1h1v1h-1zM669.4 75.2h1v1h-1zM666.4 74.9h1v1h-1zM659.5 64h1v1h-1zM674.1 71.5h1v1h-1zM656 74.9h1v1h-1zM652.9 68.3h1v1h-1zM671.1 63.2h1v1h-1zM673.5 65h1v1h-1zM656.7 68.1h1v1h-1zM673.8 56.7h1v1h-1zM659.2 58.6h1v1h-1zM660.2 72.6h1v1h-1zM659.3 58.1h1v1h-1zM664.3 62.9h1v1h-1zM647.6 63.2h1v1h-1zM650.3 63.7h1v1h-1zM667.7 57.2h1v1h-1zM663.6 72.7h1v1h-1zM672.3 75h1v1h-1zM667.6 74.6h1v1h-1zM665.1 58.1h1v1h-1zM659.4 74.8h1v1h-1zM651.5 62.7h1v1h-1zM657.6 69.3h1v1h-1zM661.9 76.7h1v1h-1zM660.3 74.8h1v1h-1zM669.5 68.7h1v1h-1zM647.3 64.2h1v1h-1zM657.3 59.7h1v1h-1zM663.5 65.2h1v1h-1zM674.1 74.6h1v1h-1zM655.6 58.5h1v1h-1zM654.7 73.7h1v1h-1zM659.7 57.1h1v1h-1zM673.4 71h1v1h-1zM672.4 68.8h1v1h-1zM671.2 62.8h1v1h-1zM658.6 75h1v1h-1zM660.6 67.1h1v1h-1zM647.9 67h1v1h-1zM671 65h1v1h-1zM650.9 71.6h1v1h-1zM672.5 58.9h1v1h-1zM647 63.1h1v1h-1zM646.3 72.8h1v1h-1zM657.5 76h1v1h-1zM648.4 56.5h1v1h-1zM649.4 62.7h1v1h-1zM661.8 68.7h1v1h-1zM665.7 57.3h1v1h-1zM672.2 62.5h1v1h-1zM653.7 65.4h1v1h-1zM652 65.4h1v1h-1zM653.9 70.9h1v1h-1zM660.6 77.2h1v1h-1zM661.7 64.6h1v1h-1zM658.8 66h1v1h-1zM646.3 64h1v1h-1zM674.3 74.2h1v1h-1zM647.8 65.5h1v1h-1zM653.2 75.6h1v1h-1zM655.1 69.5h1v1h-1zM648.6 64.8h1v1h-1zM658.3 61.9h1v1h-1zM649.4 73.1h1v1h-1zM661.1 63.8h1v1h-1zM650.5 77h1v1h-1zM645.5 70.7h1v1h-1zM654.4 60.4h1v1h-1zM649.7 75.4h1v1h-1zM660.3 58.8h1v1h-1zM656.3 60.4h1v1h-1zM650.9 64.8h1v1h-1zM665.4 74.7h1v1h-1zM664.7 56.9h1v1h-1zM648.5 68h1v1h-1zM648.1 63.4h1v1h-1zM655.4 74.1h1v1h-1zM645.6 60.5h1v1h-1zM646.2 66.3h1v1h-1zM651.2 75.7h1v1h-1z" fill="#fff" opacity="0.55"/>
<path d="M698.5 64h1.3v1.3h-1.3zM693.8 72.9h1.3v1.3h-1.3zM716.4 72.6h1.3v1.3h-1.3zM697.5 83.2h1.3v1.3h-1.3zM686.7 85.7h1.3v1.3h-1.3zM688.6 83.7h1.3v1.3h-1.3zM677.9 82.6h1.3v1.3h-1.3zM673.3 96.4h1.3v1.3h-1.3zM721.6 91.7h1.3v1.3h-1.3zM691.7 112.3h1.3v1.3h-1.3zM687.4 117.1h1.3v1.3h-1.3zM682.8 120.7h1.3v1.3h-1.3zM686.4 122.1h1.3v1.3h-1.3zM690.3 121.4h1.3v1.3h-1.3zM714.5 130.4h1.3v1.3h-1.3zM705.2 138.5h1.3v1.3h-1.3zM660 78.6h1.3v1.3h-1.3zM663.6 80.7h1.3v1.3h-1.3zM665 81.7h1.3v1.3h-1.3z" fill="#4A5C9A" opacity="0.6"/>
</g>
<line x1="730.6" y1="53.3" x2="730.6" y2="139.9" stroke="#c8c8c8" stroke-width="1"/><polyline points="730.6,53.3 643.1,53.3 643.1,139.9 730.6,139.9" fill="none" stroke="#6e6e6e" stroke-width="1.3"/><line x1="644.5" y1="139.9" x2="644.5" y2="141.4" stroke="#6e6e6e" stroke-width="1"/><line x1="693.9" y1="139.9" x2="693.9" y2="141.4" stroke="#6e6e6e" stroke-width="1"/><line x1="729.6" y1="139.9" x2="729.6" y2="141.4" stroke="#6e6e6e" stroke-width="1"/><line x1="641.6" y1="58.6" x2="643.1" y2="58.6" stroke="#6e6e6e" stroke-width="1"/><line x1="641.6" y1="84.9" x2="643.1" y2="84.9" stroke="#6e6e6e" stroke-width="1"/><line x1="641.6" y1="137.7" x2="643.1" y2="137.7" stroke="#6e6e6e" stroke-width="1"/>
<g clip-path="url(#fc2)">
<path d="M582.1 159.3C583.6 155.8 584 156.5 587.8 155C591.6 153.4 593.5 155.8 596.3 153.5C599.2 151.3 597.5 146.4 598.5 146.4C599.4 146.4 597.4 150.1 599.9 153.5C602.4 157 603.4 156 607.7 159.3C612.1 162.5 612.1 162.8 616.3 165.7C620.5 168.5 624.2 167.9 623.4 170C622.7 172 618.4 172 613.4 173.5C608.5 175 610.2 175.5 604.9 175.7C599.6 175.8 598.8 173.7 593.5 174.2C588.1 174.8 588.3 175.7 584.9 177.8C581.5 179.9 582.2 182.5 580.6 182.1C579.1 181.7 578.8 180.2 579.2 176.4C579.6 172.6 581.3 172.4 582.1 167.8C582.8 163.2 580.5 162.7 582.1 159.3z" fill="#E7F0F8" filter="url(#hz)"/>
<path d="M539.3 156.4C539.6 152.8 540.5 152.5 543.5 150C546.6 147.5 546.5 147.5 550.7 147.1C554.9 146.7 555.6 146.5 559.2 148.6C562.9 150.6 562.3 151 564.2 155C566.1 159 565 159.3 566.4 163.5C567.7 167.7 570 167.8 569.2 170.7C568.5 173.5 566.9 174.2 563.5 174.2C560.1 174.2 560.2 172.9 556.4 170.7C552.6 168.4 553.1 167.6 549.3 165.7C545.4 163.8 544.8 166 542.1 163.5C539.5 161.1 538.9 160 539.3 156.4z" fill="#E7F0F8" filter="url(#hz)"/>
<path d="M540.7 162.1C540.9 160.3 541.1 159.9 542.4 158.5C543.7 157.1 544.1 157 546.4 156.1C548.7 155.2 549.6 154.6 552.1 154.7C554.6 154.8 554.7 156 557.1 156.4C559.5 156.8 560.8 155.2 562.4 156.4C563.9 157.6 563.8 158.9 563.8 161.4C563.8 163.9 562 164.7 562.4 167.1C562.7 169.5 565 169.5 565.2 171.8C565.4 174.1 564.7 176.4 563.2 177.1C561.8 177.7 561.4 176.2 559 174.7C556.5 173.1 556.1 171.7 552.8 170.4C549.6 169 547.6 170 545 169C542.3 168 542.4 167.7 541.4 166.1C540.4 164.5 540.5 163.9 540.7 162.1z" fill="#FC8D85"/><path d="M563.2 161.3h1.2v1.2h-1.2zM541.3 158.3h1.2v1.2h-1.2zM549.8 169.9h1.2v1.2h-1.2zM546.4 154.9h1.2v1.2h-1.2zM539.8 165.3h1.2v1.2h-1.2zM544.2 167.9h1.2v1.2h-1.2zM545.9 166.3h1.2v1.2h-1.2zM565.6 168.6h1.2v1.2h-1.2zM547.2 168.4h1.2v1.2h-1.2zM554.8 172h1.2v1.2h-1.2zM557.9 157.7h1.2v1.2h-1.2zM553.2 156.6h1.2v1.2h-1.2zM541.5 156.6h1.2v1.2h-1.2zM561.8 159.3h1.2v1.2h-1.2zM556.1 154.4h1.2v1.2h-1.2zM548.9 154h1.2v1.2h-1.2zM541.9 160h1.2v1.2h-1.2zM561.3 164h1.2v1.2h-1.2zM551.2 168.7h1.2v1.2h-1.2zM559.4 172.8h1.2v1.2h-1.2zM561.3 168h1.2v1.2h-1.2zM557.5 157.3h1.2v1.2h-1.2zM562.4 172.8h1.2v1.2h-1.2zM557.9 175h1.2v1.2h-1.2zM557 156.5h1.2v1.2h-1.2zM543 169h1.2v1.2h-1.2zM559.6 175.8h1.2v1.2h-1.2zM563.7 174.8h1.2v1.2h-1.2zM539.6 165.4h1.2v1.2h-1.2zM540.2 159.7h1.2v1.2h-1.2zM541.3 162.5h1.2v1.2h-1.2zM551.4 171.6h1.2v1.2h-1.2zM558.9 157.6h1.2v1.2h-1.2zM542.9 156.8h1.2v1.2h-1.2zM556.2 170h1.2v1.2h-1.2zM543.3 158.2h1.2v1.2h-1.2zM540.6 159.7h1.2v1.2h-1.2zM561.9 176.3h1.2v1.2h-1.2zM560.5 176h1.2v1.2h-1.2zM540 161.7h1.2v1.2h-1.2zM558.6 173.6h1.2v1.2h-1.2zM550.8 155.2h1.2v1.2h-1.2zM546.9 155.1h1.2v1.2h-1.2zM563.7 170.5h1.2v1.2h-1.2zM547.2 168.6h1.2v1.2h-1.2zM540.8 167.5h1.2v1.2h-1.2zM542.6 159.7h1.2v1.2h-1.2zM560.2 175.4h1.2v1.2h-1.2zM542.9 159.1h1.2v1.2h-1.2zM551.2 152.9h1.2v1.2h-1.2zM544.5 167h1.2v1.2h-1.2zM540.4 162.2h1.2v1.2h-1.2zM565 166.4h1.2v1.2h-1.2zM563.1 155.7h1.2v1.2h-1.2zM565.1 172.9h1.2v1.2h-1.2zM557.2 158.3h1.2v1.2h-1.2zM555.2 155.5h1.2v1.2h-1.2zM561.6 168.1h1.2v1.2h-1.2zM563.8 161.3h1.2v1.2h-1.2zM562.5 160.4h1.2v1.2h-1.2zM542.9 169.6h1.2v1.2h-1.2zM560.5 167.3h1.2v1.2h-1.2zM540.5 160.3h1.2v1.2h-1.2zM564.6 170.5h1.2v1.2h-1.2zM553.5 154.5h1.2v1.2h-1.2zM556.9 172.3h1.2v1.2h-1.2zM563 172.4h1.2v1.2h-1.2zM539.9 160.1h1.2v1.2h-1.2zM547.6 171.9h1.2v1.2h-1.2zM562.6 177.3h1.2v1.2h-1.2zM562.3 171.5h1.2v1.2h-1.2zM561.5 166.9h1.2v1.2h-1.2zM561.3 160.4h1.2v1.2h-1.2zM561.3 174.2h1.2v1.2h-1.2zM554.5 171.9h1.2v1.2h-1.2zM553 170.7h1.2v1.2h-1.2zM539.9 158.4h1.2v1.2h-1.2zM563 161.3h1.2v1.2h-1.2zM563.7 169h1.2v1.2h-1.2zM561.8 175h1.2v1.2h-1.2zM554.8 169.4h1.2v1.2h-1.2zM537.6 160.4h1.2v1.2h-1.2zM547 155.7h1.2v1.2h-1.2zM564.4 176.9h1.2v1.2h-1.2zM555.5 171.2h1.2v1.2h-1.2zM547.8 154.6h1.2v1.2h-1.2zM554.8 156.3h1.2v1.2h-1.2zM565.1 159.1h1.2v1.2h-1.2zM543.1 155.5h1.2v1.2h-1.2zM561.4 156.1h1.2v1.2h-1.2zM563.7 158.6h1.2v1.2h-1.2zM562.5 164.4h1.2v1.2h-1.2zM554.5 151.8h1.2v1.2h-1.2zM543.1 161h1.2v1.2h-1.2zM545.9 168.7h1.2v1.2h-1.2zM553.1 171.4h1.2v1.2h-1.2zM552.2 154.2h1.2v1.2h-1.2zM562.3 161.7h1.2v1.2h-1.2zM560.5 157h1.2v1.2h-1.2zM556.3 155.4h1.2v1.2h-1.2zM564.1 168.9h1.2v1.2h-1.2zM557.7 156.8h1.2v1.2h-1.2zM547.7 167.6h1.2v1.2h-1.2zM563.4 160.1h1.2v1.2h-1.2zM561.3 174.7h1.2v1.2h-1.2zM561.1 176.4h1.2v1.2h-1.2zM539.3 158h1.2v1.2h-1.2zM546.4 168.6h1.2v1.2h-1.2zM562 157.7h1.2v1.2h-1.2zM545.4 160.4h1.2v1.2h-1.2zM551 154.4h1.2v1.2h-1.2zM543.5 167.1h1.2v1.2h-1.2zM544.5 155.1h1.2v1.2h-1.2zM561.7 166h1.2v1.2h-1.2zM561.5 157.4h1.2v1.2h-1.2zM559.6 174.2h1.2v1.2h-1.2zM545.6 156.3h1.2v1.2h-1.2zM559.8 164.4h1.2v1.2h-1.2zM547.2 155.6h1.2v1.2h-1.2zM561.6 156.5h1.2v1.2h-1.2zM537.8 161.3h1.2v1.2h-1.2zM566.4 171.5h1.2v1.2h-1.2zM562 165.8h1.2v1.2h-1.2zM548.5 154h1.2v1.2h-1.2zM542.4 161.9h1.2v1.2h-1.2zM555.5 155.8h1.2v1.2h-1.2zM550.1 168.4h1.2v1.2h-1.2zM559.1 173.4h1.2v1.2h-1.2zM561.8 163.7h1.2v1.2h-1.2zM546.5 152.8h1.2v1.2h-1.2zM559.8 174.5h1.2v1.2h-1.2zM540.3 166h1.2v1.2h-1.2zM558.4 167.2h1.2v1.2h-1.2zM558.8 173.4h1.2v1.2h-1.2zM541.3 163.1h1.2v1.2h-1.2zM554.1 171.5h1.2v1.2h-1.2zM563 174.8h1.2v1.2h-1.2zM550.1 169.9h1.2v1.2h-1.2zM563.4 156.5h1.2v1.2h-1.2zM542.6 157.6h1.2v1.2h-1.2z" fill="#FC8D85"/><path d="M556.2 157.6h1v1h-1zM559.5 159h1v1h-1zM546.2 173.5h1v1h-1zM552.4 170h1v1h-1zM549.3 160.7h1v1h-1zM549.8 174.1h1v1h-1zM546.2 172.7h1v1h-1zM560.2 168.7h1v1h-1zM547.7 169.6h1v1h-1zM560.7 167.1h1v1h-1zM546.8 167.4h1v1h-1zM561.7 167h1v1h-1zM545.4 160h1v1h-1zM555.1 157.2h1v1h-1zM542.4 163.1h1v1h-1zM547.5 165.3h1v1h-1zM543.8 166.5h1v1h-1zM556 162.1h1v1h-1zM554.1 165.9h1v1h-1zM558.3 166.8h1v1h-1zM555.3 166.5h1v1h-1zM559 158.1h1v1h-1zM544.6 172h1v1h-1zM559.2 156.5h1v1h-1zM560.4 167.4h1v1h-1zM559.7 169h1v1h-1zM550 158.4h1v1h-1zM557.8 169.2h1v1h-1zM551.9 161.2h1v1h-1zM549.7 173.3h1v1h-1zM551.7 160.1h1v1h-1zM562.3 174.1h1v1h-1zM545.9 159.9h1v1h-1zM557.1 163.3h1v1h-1zM551.9 168.7h1v1h-1zM547.9 167.1h1v1h-1zM546.5 160.3h1v1h-1zM553.4 164.1h1v1h-1zM560.5 158.9h1v1h-1zM560.9 161.1h1v1h-1zM549.3 158.3h1v1h-1zM548.7 174.1h1v1h-1zM549.7 171.5h1v1h-1zM562.1 168.9h1v1h-1zM546.1 164.1h1v1h-1zM545.7 160.8h1v1h-1zM549.1 159.3h1v1h-1zM556.1 165.8h1v1h-1zM548.2 160.9h1v1h-1zM545.2 158.4h1v1h-1zM551.2 157.7h1v1h-1zM552.9 161h1v1h-1zM558 161.2h1v1h-1zM559.7 173.5h1v1h-1zM561.2 160.4h1v1h-1zM561.2 164.9h1v1h-1zM560.3 164.7h1v1h-1zM553.3 161h1v1h-1zM557.7 163h1v1h-1zM560.2 169.1h1v1h-1zM551 156.9h1v1h-1zM547.8 163.9h1v1h-1zM549.8 166.9h1v1h-1zM542.4 164.8h1v1h-1zM560.4 173.6h1v1h-1zM556.3 168.8h1v1h-1zM554.5 174.4h1v1h-1zM558.3 164.7h1v1h-1zM552.4 173.3h1v1h-1zM553.5 167.2h1v1h-1zM548.6 168.4h1v1h-1zM552.2 173.4h1v1h-1zM562.6 174.4h1v1h-1zM561.6 157.1h1v1h-1zM543.8 162.5h1v1h-1zM559.1 166.4h1v1h-1zM547.5 158.1h1v1h-1zM547.4 158.6h1v1h-1zM545.2 169.8h1v1h-1zM546.2 159.3h1v1h-1zM554.9 158.7h1v1h-1zM559.2 168.1h1v1h-1zM560.1 169.5h1v1h-1zM557.1 161.2h1v1h-1zM550.9 163.2h1v1h-1zM550.3 172.9h1v1h-1zM551.2 170.8h1v1h-1zM555.1 157.8h1v1h-1zM546.6 166.8h1v1h-1zM558.3 160.5h1v1h-1zM547.4 163.2h1v1h-1zM551.6 163.9h1v1h-1zM561.1 167.3h1v1h-1zM548 162.6h1v1h-1zM552.6 159.2h1v1h-1zM550.3 157.5h1v1h-1zM555.6 172h1v1h-1zM560.5 167.1h1v1h-1zM550.1 166.5h1v1h-1zM553.6 159.5h1v1h-1zM553.3 165.3h1v1h-1zM546.3 164.3h1v1h-1zM559.3 167.9h1v1h-1zM549 160.6h1v1h-1zM555.1 166.3h1v1h-1zM548.4 164.9h1v1h-1zM550.6 167.7h1v1h-1zM560.1 163.1h1v1h-1zM553.2 166.5h1v1h-1zM555.8 160.7h1v1h-1z" fill="#fff" opacity="0.55"/>
<path d="M569.2 150.3h1.4v1.4h-1.4zM555.7 151.4h1.4v1.4h-1.4zM577.8 158.8h1.4v1.4h-1.4zM587.1 158.6h1.4v1.4h-1.4zM597.1 160.8h1.4v1.4h-1.4zM581.4 162.8h1.4v1.4h-1.4zM580.6 166.4h1.4v1.4h-1.4zM586.4 166.8h1.4v1.4h-1.4zM592.8 168.3h1.4v1.4h-1.4zM582.8 171.7h1.4v1.4h-1.4zM586.4 172.8h1.4v1.4h-1.4zM590.6 172.5h1.4v1.4h-1.4zM567.1 172.5h1.4v1.4h-1.4zM571.4 171.7h1.4v1.4h-1.4zM574.9 177.1h1.4v1.4h-1.4zM582.1 177.1h1.4v1.4h-1.4zM582.8 179.2h1.4v1.4h-1.4zM581.4 181.4h1.4v1.4h-1.4zM580.6 183.5h1.4v1.4h-1.4zM571.4 179.9h1.4v1.4h-1.4zM588.5 179.9h1.4v1.4h-1.4zM594.9 177.1h1.4v1.4h-1.4zM598.5 177.8h1.4v1.4h-1.4zM562.8 187.9h1.4v1.4h-1.4zM569.2 190.6h1.4v1.4h-1.4zM574.5 192.4h1.4v1.4h-1.4zM574.2 197.8h1.4v1.4h-1.4zM576.4 198.2h1.4v1.4h-1.4zM572.8 201.3h1.4v1.4h-1.4zM581.4 211.3h1.4v1.4h-1.4zM585.6 210.3h1.4v1.4h-1.4zM583.5 215.9h1.4v1.4h-1.4zM575.7 218.2h1.4v1.4h-1.4zM580.4 223h1.4v1.4h-1.4zM605.6 170h1.4v1.4h-1.4zM601.3 165h1.4v1.4h-1.4zM572.8 184.9h1.4v1.4h-1.4zM577.8 183.9h1.4v1.4h-1.4zM582.1 186.8h1.4v1.4h-1.4z" fill="#FC9A92" opacity="0.6"/>
</g>
<line x1="626.6" y1="146.4" x2="626.6" y2="233.1" stroke="#c8c8c8" stroke-width="1"/><polyline points="626.6,146.4 539,146.4 539,233.1 626.6,233.1" fill="none" stroke="#6e6e6e" stroke-width="1.3"/><line x1="540.4" y1="233.1" x2="540.4" y2="234.6" stroke="#6e6e6e" stroke-width="1"/><line x1="589.8" y1="233.1" x2="589.8" y2="234.6" stroke="#6e6e6e" stroke-width="1"/><line x1="625.5" y1="233.1" x2="625.5" y2="234.6" stroke="#6e6e6e" stroke-width="1"/><line x1="537.5" y1="151.7" x2="539" y2="151.7" stroke="#6e6e6e" stroke-width="1"/><line x1="537.5" y1="178" x2="539" y2="178" stroke="#6e6e6e" stroke-width="1"/><line x1="537.5" y1="230.9" x2="539" y2="230.9" stroke="#6e6e6e" stroke-width="1"/>
<g clip-path="url(#fc3)">
<path d="M687.1 159.3C688.6 155.8 689 156.5 692.8 155C696.6 153.4 698.5 155.8 701.3 153.5C704.2 151.3 702.5 146.4 703.5 146.4C704.4 146.4 702.4 150.1 704.9 153.5C707.4 157 708.4 156 712.7 159.3C717.1 162.5 717.1 162.8 721.3 165.7C725.5 168.5 729.2 167.9 728.4 170C727.7 172 723.4 172 718.4 173.5C713.5 175 715.2 175.5 709.9 175.7C704.6 175.8 703.8 173.7 698.5 174.2C693.1 174.8 693.3 175.7 689.9 177.8C686.5 179.9 687.2 182.5 685.6 182.1C684.1 181.7 683.8 180.2 684.2 176.4C684.6 172.6 686.3 172.4 687.1 167.8C687.8 163.2 685.5 162.7 687.1 159.3z" fill="#E7F0F8" filter="url(#hz)"/>
<path d="M644.3 156.4C644.6 152.8 645.5 152.5 648.5 150C651.6 147.5 651.5 147.5 655.7 147.1C659.9 146.7 660.6 146.5 664.2 148.6C667.9 150.6 667.3 151 669.2 155C671.1 159 670 159.3 671.4 163.5C672.7 167.7 675 167.8 674.2 170.7C673.5 173.5 671.9 174.2 668.5 174.2C665.1 174.2 665.2 172.9 661.4 170.7C657.6 168.4 658.1 167.6 654.3 165.7C650.4 163.8 649.8 166 647.1 163.5C644.5 161.1 643.9 160 644.3 156.4z" fill="#E7F0F8" filter="url(#hz)"/>
<path d="M647.1 161.8C647.1 159.8 648.9 157.7 651.4 156.4C653.9 155.1 655 156.3 657.8 156.4C660.6 156.5 661.3 155.5 663.5 156.7C665.8 157.8 666.3 158.8 667.4 161.4C668.5 164 668.2 165 668.2 167.8C668.2 170.6 668.3 171.9 667.4 173.5C666.4 175.2 665.8 175.6 664.2 174.9C662.7 174.3 662.3 172.3 660.7 170.7C659 169.1 659.3 169.4 657.1 168.1C654.9 166.8 653.7 166.7 651.4 165.2C649.1 163.8 647.1 163.9 647.1 161.8z" fill="#B90A44"/><path d="M665.5 155.7h1.2v1.2h-1.2zM657.1 156h1.2v1.2h-1.2zM665.2 161.6h1.2v1.2h-1.2zM658.7 154h1.2v1.2h-1.2zM650.8 156.9h1.2v1.2h-1.2zM666.8 173.5h1.2v1.2h-1.2zM650 163.8h1.2v1.2h-1.2zM662 154.5h1.2v1.2h-1.2zM669.1 171.8h1.2v1.2h-1.2zM665.6 158.3h1.2v1.2h-1.2zM646.9 163.5h1.2v1.2h-1.2zM657.8 166.4h1.2v1.2h-1.2zM658.7 156.4h1.2v1.2h-1.2zM665.4 172.2h1.2v1.2h-1.2zM646.2 162.9h1.2v1.2h-1.2zM663.7 175.1h1.2v1.2h-1.2zM650.9 155.3h1.2v1.2h-1.2zM646.7 164.9h1.2v1.2h-1.2zM652.9 165.7h1.2v1.2h-1.2zM667.6 174.2h1.2v1.2h-1.2zM653.7 165h1.2v1.2h-1.2zM666.6 175.8h1.2v1.2h-1.2zM652.5 164.6h1.2v1.2h-1.2zM658.9 168.2h1.2v1.2h-1.2zM659 168.3h1.2v1.2h-1.2zM667.2 165.9h1.2v1.2h-1.2zM645.8 160.9h1.2v1.2h-1.2zM648.4 157.8h1.2v1.2h-1.2zM668.8 166.5h1.2v1.2h-1.2zM663.7 156h1.2v1.2h-1.2zM663.4 158.3h1.2v1.2h-1.2zM654 166.6h1.2v1.2h-1.2zM664.3 156.8h1.2v1.2h-1.2zM651.7 167h1.2v1.2h-1.2zM649 160h1.2v1.2h-1.2zM667.8 167.1h1.2v1.2h-1.2zM649.5 156.1h1.2v1.2h-1.2zM657.9 157.8h1.2v1.2h-1.2zM658.3 157.3h1.2v1.2h-1.2zM647.5 160.5h1.2v1.2h-1.2zM665.5 171.3h1.2v1.2h-1.2zM666.3 165.2h1.2v1.2h-1.2zM649.5 159.7h1.2v1.2h-1.2zM658.7 154.2h1.2v1.2h-1.2zM651.4 159.2h1.2v1.2h-1.2zM664.2 154.9h1.2v1.2h-1.2zM657.2 170.8h1.2v1.2h-1.2zM667.4 160.5h1.2v1.2h-1.2zM671.3 163.7h1.2v1.2h-1.2zM664.8 156.6h1.2v1.2h-1.2zM664 159.3h1.2v1.2h-1.2zM658.6 170.9h1.2v1.2h-1.2zM665 155.7h1.2v1.2h-1.2zM663.2 154.1h1.2v1.2h-1.2zM667.5 165.4h1.2v1.2h-1.2zM667.1 174.1h1.2v1.2h-1.2zM651.4 165.8h1.2v1.2h-1.2zM649.5 164.9h1.2v1.2h-1.2zM647.5 159.4h1.2v1.2h-1.2zM662.6 157.1h1.2v1.2h-1.2zM663.5 155.9h1.2v1.2h-1.2zM666.7 172.1h1.2v1.2h-1.2zM659 157.6h1.2v1.2h-1.2zM653.3 166.9h1.2v1.2h-1.2zM645.7 161.2h1.2v1.2h-1.2zM648.5 161h1.2v1.2h-1.2zM649.9 154.5h1.2v1.2h-1.2zM667 157.8h1.2v1.2h-1.2zM663.8 174.2h1.2v1.2h-1.2zM663.9 171.8h1.2v1.2h-1.2zM667.2 169.4h1.2v1.2h-1.2zM666.8 164.1h1.2v1.2h-1.2zM656.7 170.3h1.2v1.2h-1.2zM655.6 154.7h1.2v1.2h-1.2zM667.8 162.4h1.2v1.2h-1.2zM659.1 170.3h1.2v1.2h-1.2zM646.4 159.5h1.2v1.2h-1.2zM668.2 164.5h1.2v1.2h-1.2zM657.4 167.8h1.2v1.2h-1.2zM647.1 156.9h1.2v1.2h-1.2zM661.3 157.6h1.2v1.2h-1.2zM667.6 170.7h1.2v1.2h-1.2zM666.6 168.5h1.2v1.2h-1.2zM664.8 160.1h1.2v1.2h-1.2zM655.1 165.4h1.2v1.2h-1.2zM658.4 171.2h1.2v1.2h-1.2zM649.8 161h1.2v1.2h-1.2zM666.1 158.6h1.2v1.2h-1.2zM652.5 167.2h1.2v1.2h-1.2zM657.1 165.4h1.2v1.2h-1.2zM655.7 169.3h1.2v1.2h-1.2zM668.2 170.5h1.2v1.2h-1.2zM649.4 163h1.2v1.2h-1.2zM662.8 171.5h1.2v1.2h-1.2zM656.9 155.6h1.2v1.2h-1.2zM659.8 156.8h1.2v1.2h-1.2zM669.4 171.4h1.2v1.2h-1.2zM664.2 160.9h1.2v1.2h-1.2zM651 158.6h1.2v1.2h-1.2zM659 166.2h1.2v1.2h-1.2zM667.3 173.8h1.2v1.2h-1.2zM647.9 159.9h1.2v1.2h-1.2zM647 159.6h1.2v1.2h-1.2zM668.1 169.4h1.2v1.2h-1.2zM654.6 156.1h1.2v1.2h-1.2zM663.9 156.8h1.2v1.2h-1.2zM648.2 156.4h1.2v1.2h-1.2zM660.3 174.3h1.2v1.2h-1.2zM652.6 156.1h1.2v1.2h-1.2zM654.7 157.1h1.2v1.2h-1.2z" fill="#B90A44"/><path d="M660.3 160.7h1v1h-1zM653 160.6h1v1h-1zM652.7 172.2h1v1h-1zM657.9 171.5h1v1h-1zM665.1 164.6h1v1h-1zM661.5 161.1h1v1h-1zM664.7 168.3h1v1h-1zM649.9 167.5h1v1h-1zM660.2 166.8h1v1h-1zM649.8 163.5h1v1h-1zM650.1 165.2h1v1h-1zM659 164.2h1v1h-1zM657.5 162.5h1v1h-1zM661.3 167.7h1v1h-1zM658.3 168.4h1v1h-1zM661.8 159h1v1h-1zM650.6 165.8h1v1h-1zM658.8 159.7h1v1h-1zM658.5 166.9h1v1h-1zM659.2 159.2h1v1h-1zM661.8 170.7h1v1h-1zM665.3 168.5h1v1h-1zM650.6 166.1h1v1h-1zM665.5 170.4h1v1h-1zM664.6 168.3h1v1h-1zM653.1 168.2h1v1h-1zM656.8 172.1h1v1h-1zM658.1 162.1h1v1h-1zM661.9 164.6h1v1h-1zM660.5 158.4h1v1h-1zM651.1 164.8h1v1h-1zM664.5 160.6h1v1h-1zM653.4 161.7h1v1h-1zM661.9 168.9h1v1h-1zM657.9 170.9h1v1h-1zM651.8 159h1v1h-1zM660.5 172h1v1h-1zM649.4 170.4h1v1h-1zM663.8 159.3h1v1h-1zM654.4 170h1v1h-1zM649.4 170.5h1v1h-1zM654.7 163.2h1v1h-1zM662 165.5h1v1h-1zM650.1 160.8h1v1h-1zM654.9 161.3h1v1h-1zM650.4 166.4h1v1h-1zM664.6 160.5h1v1h-1zM661.8 171.5h1v1h-1zM649.4 163.2h1v1h-1zM650.6 158.5h1v1h-1zM655 171.9h1v1h-1zM651 169.2h1v1h-1zM661.1 164.4h1v1h-1zM662.5 158.8h1v1h-1zM661.6 161.7h1v1h-1zM663.6 168.4h1v1h-1zM658.1 166.4h1v1h-1zM658.8 171.6h1v1h-1zM649.4 160.5h1v1h-1zM664.9 170.3h1v1h-1zM659.6 160.5h1v1h-1zM664.3 168.8h1v1h-1zM663.5 161h1v1h-1zM660.4 160.6h1v1h-1zM664.9 161.8h1v1h-1zM662.2 163.5h1v1h-1zM656.6 165.6h1v1h-1zM663.3 168.5h1v1h-1zM651.6 158.6h1v1h-1zM663.8 168.1h1v1h-1zM658 165.5h1v1h-1zM649.5 160.6h1v1h-1zM658.8 166.1h1v1h-1zM655.3 158.6h1v1h-1zM650.7 158.3h1v1h-1zM664.8 170.5h1v1h-1zM650 163.9h1v1h-1zM664.7 165.9h1v1h-1zM650.5 171.6h1v1h-1zM655.6 170.1h1v1h-1z" fill="#fff" opacity="0.55"/>
<path d="M684.2 180.6C683.9 179 685.1 177.6 685.9 174.9C686.8 172.3 687 172.4 687.8 169.2C688.5 166.1 687.9 162.7 689.2 161.4C690.5 160.1 691.5 163.4 693.5 163.5C695.5 163.7 696.1 163.8 697.8 162.1C699.4 160.4 699.9 159.2 700.6 156.4C701.3 153.6 700.3 151.6 700.9 150C701.5 148.3 702.4 147.8 703 149.3C703.7 150.8 703.7 153.4 703.6 156.4C703.5 159.4 701.3 159.9 702.5 162.1C703.6 164.3 705.4 164 708.5 165.7C711.5 167.3 714.3 167.5 715.6 169.2C716.9 171 716.2 171.3 714.2 173.2C712.2 175.2 711 176.3 707 177.5C703 178.7 701 178.2 697 178.5C693.1 178.8 692.2 178.1 689.9 178.9C687.6 179.8 688.4 181.7 687.1 182.1C685.7 182.5 684.5 182.3 684.2 180.6z" fill="#B90A44"/><path d="M684.9 179.6h1.3v1.3h-1.3zM683.6 178.7h1.3v1.3h-1.3zM698.3 159.5h1.3v1.3h-1.3zM698.4 175.9h1.3v1.3h-1.3zM707.5 163.8h1.3v1.3h-1.3zM707.8 175.7h1.3v1.3h-1.3zM692.4 161.7h1.3v1.3h-1.3zM687.6 168.5h1.3v1.3h-1.3zM692.4 179.8h1.3v1.3h-1.3zM703.7 152.5h1.3v1.3h-1.3zM703 156.7h1.3v1.3h-1.3zM713.2 173.3h1.3v1.3h-1.3zM709.1 174.3h1.3v1.3h-1.3zM696.5 162.4h1.3v1.3h-1.3zM702.3 150.1h1.3v1.3h-1.3zM688.1 179.5h1.3v1.3h-1.3zM691.3 162.7h1.3v1.3h-1.3zM693.6 163.1h1.3v1.3h-1.3zM684.3 175.9h1.3v1.3h-1.3zM684.8 176.1h1.3v1.3h-1.3zM685.9 175.6h1.3v1.3h-1.3zM711.2 166.4h1.3v1.3h-1.3zM707.5 161.8h1.3v1.3h-1.3zM701.6 161.8h1.3v1.3h-1.3zM686 167.5h1.3v1.3h-1.3zM696.9 159.9h1.3v1.3h-1.3zM683.3 180.8h1.3v1.3h-1.3zM698.8 159.6h1.3v1.3h-1.3zM694.1 177.6h1.3v1.3h-1.3zM686.1 171.1h1.3v1.3h-1.3zM700.3 161.7h1.3v1.3h-1.3zM686.1 170.3h1.3v1.3h-1.3zM701.4 156.4h1.3v1.3h-1.3zM689.8 159.9h1.3v1.3h-1.3zM700.3 146.6h1.3v1.3h-1.3zM689.7 179.3h1.3v1.3h-1.3zM704.2 164.2h1.3v1.3h-1.3zM703.4 159.8h1.3v1.3h-1.3zM697.6 162.1h1.3v1.3h-1.3zM700.6 160.4h1.3v1.3h-1.3zM707.7 163.9h1.3v1.3h-1.3zM699.6 151.9h1.3v1.3h-1.3zM684.1 177.3h1.3v1.3h-1.3zM685.5 179.6h1.3v1.3h-1.3zM691.1 164.2h1.3v1.3h-1.3zM702.4 158.9h1.3v1.3h-1.3zM687.7 163.7h1.3v1.3h-1.3zM704.5 165.2h1.3v1.3h-1.3zM712.5 171.3h1.3v1.3h-1.3zM700.7 153.3h1.3v1.3h-1.3zM706.4 176.4h1.3v1.3h-1.3zM704.2 176.8h1.3v1.3h-1.3zM680.9 178h1.3v1.3h-1.3zM694.5 160.2h1.3v1.3h-1.3zM699.1 177.1h1.3v1.3h-1.3zM688.6 167.9h1.3v1.3h-1.3zM693.5 163.7h1.3v1.3h-1.3zM708.6 176.2h1.3v1.3h-1.3zM687 178.1h1.3v1.3h-1.3zM684.2 172.9h1.3v1.3h-1.3zM689.9 164h1.3v1.3h-1.3zM703.7 147.5h1.3v1.3h-1.3zM691.7 164.5h1.3v1.3h-1.3zM683.8 179h1.3v1.3h-1.3zM702.7 147.9h1.3v1.3h-1.3zM705.2 176h1.3v1.3h-1.3zM693.4 177.9h1.3v1.3h-1.3zM695.8 178.1h1.3v1.3h-1.3zM686.1 172h1.3v1.3h-1.3zM688 181.1h1.3v1.3h-1.3zM703.2 159.1h1.3v1.3h-1.3zM702.3 150.2h1.3v1.3h-1.3zM694 161.7h1.3v1.3h-1.3zM695.7 178.7h1.3v1.3h-1.3zM688.8 160.9h1.3v1.3h-1.3zM689.9 176.5h1.3v1.3h-1.3zM688.6 162.6h1.3v1.3h-1.3zM703.3 147.4h1.3v1.3h-1.3zM690.2 178.7h1.3v1.3h-1.3zM699.5 151.8h1.3v1.3h-1.3zM716.9 168.1h1.3v1.3h-1.3zM687 174.6h1.3v1.3h-1.3zM703.6 154.8h1.3v1.3h-1.3zM685 178.7h1.3v1.3h-1.3zM687.2 179.7h1.3v1.3h-1.3zM690.4 162.9h1.3v1.3h-1.3zM700.8 147h1.3v1.3h-1.3zM700.2 148.6h1.3v1.3h-1.3zM685.7 174.6h1.3v1.3h-1.3zM686.7 164.8h1.3v1.3h-1.3zM684.3 178.5h1.3v1.3h-1.3zM690.8 160.3h1.3v1.3h-1.3zM698.8 176.6h1.3v1.3h-1.3zM715.3 168.5h1.3v1.3h-1.3zM689.3 163.9h1.3v1.3h-1.3zM700.3 153.8h1.3v1.3h-1.3zM708 175.5h1.3v1.3h-1.3zM702.5 149h1.3v1.3h-1.3zM695.4 162.5h1.3v1.3h-1.3zM702.7 154.5h1.3v1.3h-1.3zM711.6 172.7h1.3v1.3h-1.3zM685.7 172.3h1.3v1.3h-1.3zM707.1 176.7h1.3v1.3h-1.3zM713.7 175.7h1.3v1.3h-1.3zM704.4 149.6h1.3v1.3h-1.3zM716.5 168.8h1.3v1.3h-1.3zM698.2 177.5h1.3v1.3h-1.3zM710.8 172.9h1.3v1.3h-1.3zM698.7 158.3h1.3v1.3h-1.3zM702.4 175h1.3v1.3h-1.3zM702 150.7h1.3v1.3h-1.3zM702.8 150.5h1.3v1.3h-1.3zM709.8 174.4h1.3v1.3h-1.3zM702.9 162.8h1.3v1.3h-1.3zM713.3 169.3h1.3v1.3h-1.3zM694.2 161.5h1.3v1.3h-1.3zM702 162.1h1.3v1.3h-1.3zM704.1 156h1.3v1.3h-1.3zM702.3 150.8h1.3v1.3h-1.3zM701.5 152.2h1.3v1.3h-1.3zM692 164.1h1.3v1.3h-1.3zM713 170.1h1.3v1.3h-1.3zM711.9 168.5h1.3v1.3h-1.3zM699.8 157.6h1.3v1.3h-1.3zM684.7 176.8h1.3v1.3h-1.3zM683.7 178.8h1.3v1.3h-1.3zM699.8 177.3h1.3v1.3h-1.3zM685.2 183.2h1.3v1.3h-1.3zM697.6 160.1h1.3v1.3h-1.3zM708.8 164.9h1.3v1.3h-1.3zM693.7 164h1.3v1.3h-1.3zM691 161.7h1.3v1.3h-1.3zM685.3 180.8h1.3v1.3h-1.3zM707.7 164.7h1.3v1.3h-1.3zM715.4 168.3h1.3v1.3h-1.3zM711.6 174.3h1.3v1.3h-1.3zM711.7 175.4h1.3v1.3h-1.3zM701.2 152.4h1.3v1.3h-1.3zM687.4 181.5h1.3v1.3h-1.3zM699.5 157.6h1.3v1.3h-1.3zM687 164.4h1.3v1.3h-1.3zM686.4 170.2h1.3v1.3h-1.3zM685.6 175.2h1.3v1.3h-1.3zM709.9 166.5h1.3v1.3h-1.3zM701.4 160.4h1.3v1.3h-1.3zM686.4 180.6h1.3v1.3h-1.3zM695.1 164.5h1.3v1.3h-1.3zM695.8 178.5h1.3v1.3h-1.3zM702.4 177.2h1.3v1.3h-1.3zM690.1 160.5h1.3v1.3h-1.3zM687.7 182.1h1.3v1.3h-1.3zM703.4 161.6h1.3v1.3h-1.3zM682.7 179.3h1.3v1.3h-1.3zM703.5 147.1h1.3v1.3h-1.3zM700.2 159.7h1.3v1.3h-1.3zM696.7 161.1h1.3v1.3h-1.3zM689.1 181.6h1.3v1.3h-1.3zM689 179.3h1.3v1.3h-1.3zM689.2 180.3h1.3v1.3h-1.3zM684.5 175h1.3v1.3h-1.3zM700.7 156.6h1.3v1.3h-1.3zM684.1 177.9h1.3v1.3h-1.3zM714.6 171.9h1.3v1.3h-1.3zM700.9 153.5h1.3v1.3h-1.3zM717.2 170.9h1.3v1.3h-1.3zM685.1 176.6h1.3v1.3h-1.3zM705.5 162.1h1.3v1.3h-1.3zM696 178h1.3v1.3h-1.3zM697.3 179.9h1.3v1.3h-1.3zM708.6 174.1h1.3v1.3h-1.3zM687.2 160.2h1.3v1.3h-1.3zM699.4 160.7h1.3v1.3h-1.3zM687.5 167.8h1.3v1.3h-1.3zM707.4 176.7h1.3v1.3h-1.3zM699.2 158.2h1.3v1.3h-1.3zM703.5 146.3h1.3v1.3h-1.3zM698.8 177.5h1.3v1.3h-1.3zM701.7 148.5h1.3v1.3h-1.3zM703.2 153.2h1.3v1.3h-1.3zM697.4 156.5h1.3v1.3h-1.3zM697.4 160.7h1.3v1.3h-1.3zM698.9 177.8h1.3v1.3h-1.3zM687.9 181.2h1.3v1.3h-1.3zM706.1 175.9h1.3v1.3h-1.3zM685.8 172.6h1.3v1.3h-1.3zM700 150.9h1.3v1.3h-1.3zM687.2 166.7h1.3v1.3h-1.3zM696.2 176.7h1.3v1.3h-1.3zM684.8 179.4h1.3v1.3h-1.3zM683.1 177.7h1.3v1.3h-1.3zM694.9 177.2h1.3v1.3h-1.3zM688.5 181.3h1.3v1.3h-1.3zM713.7 170.4h1.3v1.3h-1.3zM702.4 154.1h1.3v1.3h-1.3zM698.4 159.5h1.3v1.3h-1.3zM689 178.9h1.3v1.3h-1.3zM699.3 151.7h1.3v1.3h-1.3zM690.8 161.7h1.3v1.3h-1.3zM701.2 150.8h1.3v1.3h-1.3zM690.2 177.7h1.3v1.3h-1.3z" fill="#B90A44"/><path d="M701.5 160.5h1v1h-1zM698 155.1h1v1h-1zM697.7 155.8h1v1h-1zM707.7 173.7h1v1h-1zM691.5 171.5h1v1h-1zM707.8 152.7h1v1h-1zM703.8 155h1v1h-1zM710.3 154h1v1h-1zM693.8 164.8h1v1h-1zM697.4 156.7h1v1h-1zM699.8 155.2h1v1h-1zM700.6 151.1h1v1h-1zM709.9 163.2h1v1h-1zM711.1 168.8h1v1h-1zM700.1 163.4h1v1h-1zM703.5 162.6h1v1h-1zM708.9 164.9h1v1h-1zM686.8 171.3h1v1h-1zM690.4 155.5h1v1h-1zM687 163.3h1v1h-1zM685.8 159.9h1v1h-1zM694.3 169.3h1v1h-1zM702.8 151.9h1v1h-1zM711 158.9h1v1h-1zM700 169h1v1h-1zM699.2 158.6h1v1h-1zM697.5 166.6h1v1h-1zM704.9 163.8h1v1h-1zM704.2 151.4h1v1h-1zM709.7 175.9h1v1h-1zM699.8 155.9h1v1h-1zM705.9 176.6h1v1h-1zM711.3 154.4h1v1h-1zM702.1 165.1h1v1h-1zM706.5 172h1v1h-1zM695.5 153.5h1v1h-1zM706.9 158.8h1v1h-1zM704.9 157.4h1v1h-1zM688.1 166.9h1v1h-1zM709.5 160.2h1v1h-1zM688.1 167.3h1v1h-1zM708.5 165.5h1v1h-1zM688.2 164.6h1v1h-1zM689.1 168.2h1v1h-1zM688.9 156.2h1v1h-1zM698.2 166.8h1v1h-1zM710.6 168h1v1h-1zM687.5 178h1v1h-1zM689.3 174.3h1v1h-1zM709.5 160h1v1h-1zM694.9 169.2h1v1h-1zM701.9 175.7h1v1h-1zM700.5 177h1v1h-1zM699.5 151.2h1v1h-1zM706.1 171.2h1v1h-1zM696.3 169.7h1v1h-1zM702.4 161.1h1v1h-1zM694.6 158.1h1v1h-1zM712.4 178.8h1v1h-1zM694.4 156.2h1v1h-1zM703.2 179.3h1v1h-1zM704.3 174.3h1v1h-1zM700.3 178.5h1v1h-1zM692.6 168.3h1v1h-1zM691.4 161.1h1v1h-1zM698.9 158.3h1v1h-1zM706.6 157.3h1v1h-1zM712.1 151.3h1v1h-1zM706 177.8h1v1h-1zM686 159.7h1v1h-1zM697 155.7h1v1h-1zM695.5 178.6h1v1h-1zM701.2 161.7h1v1h-1zM693.3 152.8h1v1h-1zM707.1 168.8h1v1h-1zM703.6 153.9h1v1h-1zM706.8 153.2h1v1h-1zM699.9 156.5h1v1h-1zM712.1 157.7h1v1h-1zM689.4 159.9h1v1h-1zM690.3 173.3h1v1h-1zM694.6 170.7h1v1h-1zM704.8 159.5h1v1h-1zM700.7 160.2h1v1h-1zM698.3 155.5h1v1h-1zM707.7 164.9h1v1h-1zM698.4 166.8h1v1h-1zM708.7 155h1v1h-1zM710.8 159.9h1v1h-1zM702 171h1v1h-1zM705.6 160.4h1v1h-1zM700.9 170.5h1v1h-1zM706.2 170h1v1h-1zM702.9 164.5h1v1h-1zM697.7 163.3h1v1h-1zM703.6 171h1v1h-1zM694.7 153.1h1v1h-1zM710.7 160h1v1h-1zM689.7 152.4h1v1h-1zM700 155.7h1v1h-1zM709.3 162.6h1v1h-1zM708.5 177.1h1v1h-1zM697.4 153h1v1h-1zM707.5 152.4h1v1h-1zM708.7 150.9h1v1h-1zM688.2 155.3h1v1h-1zM711.9 158.5h1v1h-1zM711.8 176.2h1v1h-1zM708.4 157.7h1v1h-1zM708.6 171.7h1v1h-1zM705.6 173.7h1v1h-1zM691 166.2h1v1h-1zM693.1 172.9h1v1h-1zM709.1 165.6h1v1h-1zM699.8 159.2h1v1h-1zM705.5 167h1v1h-1zM694.6 164.9h1v1h-1zM700 153.1h1v1h-1zM698 175.2h1v1h-1zM699.5 155.5h1v1h-1zM686.6 161h1v1h-1zM691.4 163.4h1v1h-1zM700.1 154.1h1v1h-1zM702.6 174.3h1v1h-1zM700.5 153.6h1v1h-1zM700 174.1h1v1h-1zM698.4 167.2h1v1h-1zM696.7 160.7h1v1h-1zM697.4 155.2h1v1h-1zM690.5 166.5h1v1h-1z" fill="#fff" opacity="0.55"/>
<path d="M729.2 151.4h1.4v1.4h-1.4zM716.3 152.8h1.4v1.4h-1.4zM716 155h1.4v1.4h-1.4zM722 168.5h1.4v1.4h-1.4zM724.9 171.1h1.4v1.4h-1.4zM719.2 177.1h1.4v1.4h-1.4zM720.6 178.5h1.4v1.4h-1.4zM720.6 191.1h1.4v1.4h-1.4zM682.1 197.8h1.4v1.4h-1.4zM690.4 206.8h1.4v1.4h-1.4zM684.6 210.9h1.4v1.4h-1.4zM650.7 155.7h1.4v1.4h-1.4zM647.1 157.1h1.4v1.4h-1.4zM645.7 160.7h1.4v1.4h-1.4zM709.2 177.1h1.4v1.4h-1.4zM714.9 175.7h1.4v1.4h-1.4zM703.5 180.2h1.4v1.4h-1.4zM697.1 179.9h1.4v1.4h-1.4z" fill="#C8406A" opacity="0.7"/>
</g>
<text x="693.5" y="163.6" font-size="12.5" text-anchor="middle">5</text>
<text x="692.2" y="178.5" font-size="12.5" text-anchor="middle">4</text>
<line x1="730.6" y1="146.4" x2="730.6" y2="233.1" stroke="#c8c8c8" stroke-width="1"/><polyline points="730.6,146.4 643.1,146.4 643.1,233.1 730.6,233.1" fill="none" stroke="#6e6e6e" stroke-width="1.3"/><line x1="644.5" y1="233.1" x2="644.5" y2="234.6" stroke="#6e6e6e" stroke-width="1"/><line x1="693.9" y1="233.1" x2="693.9" y2="234.6" stroke="#6e6e6e" stroke-width="1"/><line x1="729.6" y1="233.1" x2="729.6" y2="234.6" stroke="#6e6e6e" stroke-width="1"/><line x1="641.6" y1="151.7" x2="643.1" y2="151.7" stroke="#6e6e6e" stroke-width="1"/><line x1="641.6" y1="178" x2="643.1" y2="178" stroke="#6e6e6e" stroke-width="1"/><line x1="641.6" y1="230.9" x2="643.1" y2="230.9" stroke="#6e6e6e" stroke-width="1"/>
</g>
<g id="p-bar">
<rect x="804.9" y="62.2" width="17.2" height="115.8" fill="#82A9D8" stroke="#000" stroke-width="1"/>
<rect x="804.9" y="177.5" width="17.2" height="0.5" fill="#8C7A2A" stroke="#000" stroke-width="1"/>
<rect x="832" y="62.2" width="17.3" height="115.8" fill="#82A9D8" stroke="#000" stroke-width="1"/>
<rect x="832" y="176.5" width="17.3" height="1.5" fill="#8C7A2A" stroke="#000" stroke-width="1"/>
<rect x="859" y="62.2" width="17.2" height="115.8" fill="#82A9D8" stroke="#000" stroke-width="1"/>
<rect x="885.6" y="62.2" width="17.2" height="115.8" fill="#82A9D8" stroke="#000" stroke-width="1"/>
<rect x="885.6" y="92.8" width="17.2" height="47.5" fill="#8C7A2A" stroke="#000" stroke-width="1"/>
<rect x="885.6" y="140.2" width="17.2" height="37.8" fill="#AE0003" stroke="#000" stroke-width="1"/>
<line x1="795.6" y1="61.6" x2="795.6" y2="178.6" stroke="#000" stroke-width="1.3"/>
<line x1="795" y1="178" x2="912.8" y2="178" stroke="#000" stroke-width="1.3"/>
<line x1="791" y1="62.2" x2="795.6" y2="62.2" stroke="#000" stroke-width="1.1"/>
<text x="789" y="65.4" font-size="8.8" text-anchor="end" fill="#222">100</text>
<line x1="791" y1="91.2" x2="795.6" y2="91.2" stroke="#000" stroke-width="1.1"/>
<text x="789" y="94.4" font-size="8.8" text-anchor="end" fill="#222">75</text>
<line x1="791" y1="120.1" x2="795.6" y2="120.1" stroke="#000" stroke-width="1.1"/>
<text x="789" y="123.3" font-size="8.8" text-anchor="end" fill="#222">50</text>
<line x1="791" y1="149.1" x2="795.6" y2="149.1" stroke="#000" stroke-width="1.1"/>
<text x="789" y="152.2" font-size="8.8" text-anchor="end" fill="#222">25</text>
<line x1="791" y1="178" x2="795.6" y2="178" stroke="#000" stroke-width="1.1"/>
<text x="789" y="181.2" font-size="8.8" text-anchor="end" fill="#222">0</text>
<text x="773.8" y="119.7" font-size="11.7" text-anchor="middle" fill="#222" transform="rotate(-90 773.8 119.7)">%</text>
<rect x="918.4" y="61.6" width="11" height="10.4" fill="#82A9D8" stroke="#000" stroke-width="1"/>
<text x="937" y="71.6" font-size="14.6" fill="#222">c1-3</text>
<rect x="918.4" y="77.4" width="11" height="10.4" fill="#8C7A2A" stroke="#000" stroke-width="1"/>
<text x="937" y="87.4" font-size="14.6" fill="#222">c4</text>
<rect x="918.4" y="93" width="11" height="10.4" fill="#AE0003" stroke="#000" stroke-width="1"/>
<text x="937" y="103" font-size="14.6" fill="#222">c5</text>
<line x1="813.5" y1="178" x2="813.5" y2="182" stroke="#000" stroke-width="1.1"/>
<line x1="840.6" y1="178" x2="840.6" y2="182" stroke="#000" stroke-width="1.1"/>
<line x1="867.6" y1="178" x2="867.6" y2="182" stroke="#000" stroke-width="1.1"/>
<line x1="894.2" y1="178" x2="894.2" y2="182" stroke="#000" stroke-width="1.1"/>
<text x="766.4" y="199.5" font-size="13" fill="#222">ADT</text>
<line x1="810.5" y1="192.6" x2="816.5" y2="192.6" stroke="#000" stroke-width="2.1"/>
<line x1="836.4" y1="191.8" x2="844.9" y2="191.8" stroke="#000" stroke-width="1.7"/>
<line x1="840.6" y1="187.6" x2="840.6" y2="196" stroke="#000" stroke-width="1.7"/>
<line x1="864.6" y1="192.6" x2="870.6" y2="192.6" stroke="#000" stroke-width="2.1"/>
<line x1="890" y1="191.8" x2="898.4" y2="191.8" stroke="#000" stroke-width="1.7"/>
<line x1="894.2" y1="187.6" x2="894.2" y2="196" stroke="#000" stroke-width="1.7"/>
<line x1="805.8" y1="203.9" x2="849.2" y2="203.9" stroke="#222" stroke-width="1"/>
<line x1="859.1" y1="203.9" x2="903.4" y2="203.9" stroke="#222" stroke-width="1"/>
<text x="797.2" y="220.5" font-size="13.2" font-style="italic" fill="#222">Pten<tspan dy="-4" font-size="9.2" font-style="normal">PC−/−</tspan></text>
<text x="854.9" y="220.5" font-size="13.2" font-style="italic" fill="#222">Pten<tspan dy="-4" font-size="9.2" font-style="normal">PC−/−</tspan><tspan dy="4">;</tspan></text>
<text x="854.9" y="236" font-size="13.2" font-style="italic" fill="#222">Trp53<tspan dy="-4" font-size="9.2" font-style="normal">PC−/−</tspan></text>
</g>
<g id="p-heat2">
<g shape-rendering="crispEdges">
<rect x="38.2" y="262.8" width="24.1" height="3.9" fill="#06A73A"/>
<rect x="62.1" y="262.8" width="24.1" height="3.9" fill="#1492F0"/>
<rect x="85.9" y="262.8" width="24.1" height="3.9" fill="#9545D8"/>
<rect x="109.8" y="262.8" width="24.1" height="3.9" fill="#FDB900"/>
<rect x="133.6" y="262.8" width="24.1" height="3.9" fill="#A50005"/>
<rect x="38.2" y="268.9" width="24.2" height="4.2" fill="#FEDD8C"/><rect x="62.1" y="268.9" width="24.2" height="4.2" fill="#FDAA60"/><rect x="85.9" y="268.9" width="24.2" height="4.2" fill="#A8CEE5"/><rect x="109.8" y="268.9" width="24.2" height="4.2" fill="#6AA5D0"/><rect x="133.6" y="268.9" width="24.2" height="4.2" fill="#D5EAF0"/><rect x="38.2" y="272.8" width="24.2" height="4.2" fill="#FEE095"/><rect x="62.1" y="272.8" width="24.2" height="4.2" fill="#FEC878"/><rect x="85.9" y="272.8" width="24.2" height="4.2" fill="#A8CEE5"/><rect x="109.8" y="272.8" width="24.2" height="4.2" fill="#98C4E0"/><rect x="133.6" y="272.8" width="24.2" height="4.2" fill="#A8CEE5"/><rect x="38.2" y="276.7" width="24.2" height="4.2" fill="#FED888"/><rect x="62.1" y="276.7" width="24.2" height="4.2" fill="#FD7A3A"/><rect x="85.9" y="276.7" width="24.2" height="4.2" fill="#EEF2CC"/><rect x="109.8" y="276.7" width="24.2" height="4.2" fill="#1565B0"/><rect x="133.6" y="276.7" width="24.2" height="4.2" fill="#5598CA"/><rect x="38.2" y="280.7" width="24.2" height="4.2" fill="#FEDD8C"/><rect x="62.1" y="280.7" width="24.2" height="4.2" fill="#FDA050"/><rect x="85.9" y="280.7" width="24.2" height="4.2" fill="#B0D3E8"/><rect x="109.8" y="280.7" width="24.2" height="4.2" fill="#70A8D2"/><rect x="133.6" y="280.7" width="24.2" height="4.2" fill="#78AED5"/><rect x="38.2" y="284.6" width="24.2" height="4.2" fill="#FEDD8C"/><rect x="62.1" y="284.6" width="24.2" height="4.2" fill="#FDA555"/><rect x="85.9" y="284.6" width="24.2" height="4.2" fill="#D0E7F0"/><rect x="109.8" y="284.6" width="24.2" height="4.2" fill="#4585C0"/><rect x="133.6" y="284.6" width="24.2" height="4.2" fill="#90BFDE"/><rect x="38.2" y="288.5" width="24.2" height="4.2" fill="#FEDD8C"/><rect x="62.1" y="288.5" width="24.2" height="4.2" fill="#E8F2D5"/><rect x="85.9" y="288.5" width="24.2" height="4.2" fill="#D5EAF0"/><rect x="109.8" y="288.5" width="24.2" height="4.2" fill="#A5CCE3"/><rect x="133.6" y="288.5" width="24.2" height="4.2" fill="#B8D8EA"/><rect x="38.2" y="292.4" width="24.2" height="4.2" fill="#FEE095"/><rect x="62.1" y="292.4" width="24.2" height="4.2" fill="#FDB065"/><rect x="85.9" y="292.4" width="24.2" height="4.2" fill="#C8E2EE"/><rect x="109.8" y="292.4" width="24.2" height="4.2" fill="#6AA5D0"/><rect x="133.6" y="292.4" width="24.2" height="4.2" fill="#E5F0DC"/><rect x="38.2" y="296.4" width="24.2" height="4.2" fill="#FEE095"/><rect x="62.1" y="296.4" width="24.2" height="4.2" fill="#FEE095"/><rect x="85.9" y="296.4" width="24.2" height="4.2" fill="#C5E0EE"/><rect x="109.8" y="296.4" width="24.2" height="4.2" fill="#80B5D8"/><rect x="133.6" y="296.4" width="24.2" height="4.2" fill="#FBF3B5"/><rect x="38.2" y="300.3" width="24.2" height="4.2" fill="#FEDD8C"/><rect x="62.1" y="300.3" width="24.2" height="4.2" fill="#FEC070"/><rect x="85.9" y="300.3" width="24.2" height="4.2" fill="#C8E2EE"/><rect x="109.8" y="300.3" width="24.2" height="4.2" fill="#88B9DB"/><rect x="133.6" y="300.3" width="24.2" height="4.2" fill="#A8CEE5"/><rect x="38.2" y="304.2" width="24.2" height="4.2" fill="#FEE095"/><rect x="62.1" y="304.2" width="24.2" height="4.2" fill="#FEDD8C"/><rect x="85.9" y="304.2" width="24.2" height="4.2" fill="#B0D3E8"/><rect x="109.8" y="304.2" width="24.2" height="4.2" fill="#90BFDE"/><rect x="133.6" y="304.2" width="24.2" height="4.2" fill="#B0D3E8"/><rect x="38.2" y="308.1" width="24.2" height="4.2" fill="#FEDD8C"/><rect x="62.1" y="308.1" width="24.2" height="4.2" fill="#FD8540"/><rect x="85.9" y="308.1" width="24.2" height="4.2" fill="#B8D8EA"/><rect x="109.8" y="308.1" width="24.2" height="4.2" fill="#5F9DCC"/><rect x="133.6" y="308.1" width="24.2" height="4.2" fill="#6AA5D0"/><rect x="38.2" y="312.1" width="24.2" height="4.2" fill="#FEDD8C"/><rect x="62.1" y="312.1" width="24.2" height="4.2" fill="#FDA050"/><rect x="85.9" y="312.1" width="24.2" height="4.2" fill="#C0DCEB"/><rect x="109.8" y="312.1" width="24.2" height="4.2" fill="#6AA5D0"/><rect x="133.6" y="312.1" width="24.2" height="4.2" fill="#B0D3E8"/><rect x="38.2" y="316" width="24.2" height="4.2" fill="#FEEFA5"/><rect x="62.1" y="316" width="24.2" height="4.2" fill="#FEE9A5"/><rect x="85.9" y="316" width="24.2" height="4.2" fill="#D8ECEE"/><rect x="109.8" y="316" width="24.2" height="4.2" fill="#D0E7F0"/><rect x="133.6" y="316" width="24.2" height="4.2" fill="#90BFDE"/><rect x="38.2" y="319.9" width="24.2" height="4.2" fill="#FEDD8C"/><rect x="62.1" y="319.9" width="24.2" height="4.2" fill="#FEC070"/><rect x="85.9" y="319.9" width="24.2" height="4.2" fill="#B8D8EA"/><rect x="109.8" y="319.9" width="24.2" height="4.2" fill="#88B9DB"/><rect x="133.6" y="319.9" width="24.2" height="4.2" fill="#88B9DB"/><rect x="38.2" y="323.8" width="24.2" height="4.2" fill="#FEDD8C"/><rect x="62.1" y="323.8" width="24.2" height="4.2" fill="#FDB065"/><rect x="85.9" y="323.8" width="24.2" height="4.2" fill="#B0D3E8"/><rect x="109.8" y="323.8" width="24.2" height="4.2" fill="#5F9DCC"/><rect x="133.6" y="323.8" width="24.2" height="4.2" fill="#A0C9E3"/><rect x="38.2" y="327.8" width="24.2" height="4.2" fill="#FEE095"/><rect x="62.1" y="327.8" width="24.2" height="4.2" fill="#FEC878"/><rect x="85.9" y="327.8" width="24.2" height="4.2" fill="#B8D8EA"/><rect x="109.8" y="327.8" width="24.2" height="4.2" fill="#88B9DB"/><rect x="133.6" y="327.8" width="24.2" height="4.2" fill="#78AED5"/><rect x="38.2" y="331.7" width="24.2" height="4.2" fill="#FEDD8C"/><rect x="62.1" y="331.7" width="24.2" height="4.2" fill="#FD9048"/><rect x="85.9" y="331.7" width="24.2" height="4.2" fill="#B0D3E8"/><rect x="109.8" y="331.7" width="24.2" height="4.2" fill="#5090C5"/><rect x="133.6" y="331.7" width="24.2" height="4.2" fill="#5F9DCC"/><rect x="38.2" y="335.6" width="24.2" height="4.2" fill="#E8F2D5"/><rect x="62.1" y="335.6" width="24.2" height="4.2" fill="#E0EEE0"/><rect x="85.9" y="335.6" width="24.2" height="4.2" fill="#FBF3B5"/><rect x="109.8" y="335.6" width="24.2" height="4.2" fill="#E5F0DC"/><rect x="133.6" y="335.6" width="24.2" height="4.2" fill="#DCEEF0"/><rect x="38.2" y="339.5" width="24.2" height="4.2" fill="#F0F3C8"/><rect x="62.1" y="339.5" width="24.2" height="4.2" fill="#D8ECEE"/><rect x="85.9" y="339.5" width="24.2" height="4.2" fill="#FBF3B5"/><rect x="109.8" y="339.5" width="24.2" height="4.2" fill="#D5EAF0"/><rect x="133.6" y="339.5" width="24.2" height="4.2" fill="#DCEEF0"/><rect x="38.2" y="343.5" width="24.2" height="4.2" fill="#FCF0B0"/><rect x="62.1" y="343.5" width="24.2" height="4.2" fill="#EEF2CC"/><rect x="85.9" y="343.5" width="24.2" height="4.2" fill="#FBF3B5"/><rect x="109.8" y="343.5" width="24.2" height="4.2" fill="#A8CEE5"/><rect x="133.6" y="343.5" width="24.2" height="4.2" fill="#D0E7F0"/><rect x="38.2" y="347.4" width="24.2" height="4.2" fill="#FCF0B0"/><rect x="62.1" y="347.4" width="24.2" height="4.2" fill="#E5F0DC"/><rect x="85.9" y="347.4" width="24.2" height="4.2" fill="#FBF3B5"/><rect x="109.8" y="347.4" width="24.2" height="4.2" fill="#A8CEE5"/><rect x="133.6" y="347.4" width="24.2" height="4.2" fill="#D5EAF0"/><rect x="38.2" y="351.3" width="24.2" height="4.2" fill="#D8ECEE"/><rect x="62.1" y="351.3" width="24.2" height="4.2" fill="#D8ECEE"/><rect x="85.9" y="351.3" width="24.2" height="4.2" fill="#EEF2CC"/><rect x="109.8" y="351.3" width="24.2" height="4.2" fill="#E0EEE0"/><rect x="133.6" y="351.3" width="24.2" height="4.2" fill="#F5F2C0"/><rect x="38.2" y="355.2" width="24.2" height="4.2" fill="#D8ECEE"/><rect x="62.1" y="355.2" width="24.2" height="4.2" fill="#DCEEF0"/><rect x="85.9" y="355.2" width="24.2" height="4.2" fill="#FCF0B0"/><rect x="109.8" y="355.2" width="24.2" height="4.2" fill="#E8F2D5"/><rect x="133.6" y="355.2" width="24.2" height="4.2" fill="#C0DCEB"/><rect x="38.2" y="359.2" width="24.2" height="4.2" fill="#EEF2CC"/><rect x="62.1" y="359.2" width="24.2" height="4.2" fill="#F0F3C8"/><rect x="85.9" y="359.2" width="24.2" height="4.2" fill="#EEF2CC"/><rect x="109.8" y="359.2" width="24.2" height="4.2" fill="#D5EAF0"/><rect x="133.6" y="359.2" width="24.2" height="4.2" fill="#DCEEF0"/><rect x="38.2" y="363.1" width="24.2" height="4.2" fill="#E8F2D5"/><rect x="62.1" y="363.1" width="24.2" height="4.2" fill="#E5F0DC"/><rect x="85.9" y="363.1" width="24.2" height="4.2" fill="#E5F0DC"/><rect x="109.8" y="363.1" width="24.2" height="4.2" fill="#E5F0DC"/><rect x="133.6" y="363.1" width="24.2" height="4.2" fill="#E0EEE0"/><rect x="38.2" y="367" width="24.2" height="4.2" fill="#D0E7F0"/><rect x="62.1" y="367" width="24.2" height="4.2" fill="#A8CEE5"/><rect x="85.9" y="367" width="24.2" height="4.2" fill="#FCF0B0"/><rect x="109.8" y="367" width="24.2" height="4.2" fill="#FCF0B0"/><rect x="133.6" y="367" width="24.2" height="4.2" fill="#90BFDE"/><rect x="38.2" y="370.9" width="24.2" height="4.2" fill="#FEEFA5"/><rect x="62.1" y="370.9" width="24.2" height="4.2" fill="#D5EAF0"/><rect x="85.9" y="370.9" width="24.2" height="4.2" fill="#D0E7F0"/><rect x="109.8" y="370.9" width="24.2" height="4.2" fill="#D0E7F0"/><rect x="133.6" y="370.9" width="24.2" height="4.2" fill="#FBF3B5"/><rect x="38.2" y="374.8" width="24.2" height="4.2" fill="#FEEFA5"/><rect x="62.1" y="374.8" width="24.2" height="4.2" fill="#D0E7F0"/><rect x="85.9" y="374.8" width="24.2" height="4.2" fill="#EEF2CC"/><rect x="109.8" y="374.8" width="24.2" height="4.2" fill="#98C4E0"/><rect x="133.6" y="374.8" width="24.2" height="4.2" fill="#E5F0DC"/><rect x="38.2" y="378.8" width="24.2" height="4.2" fill="#E5F0DC"/><rect x="62.1" y="378.8" width="24.2" height="4.2" fill="#E8F2D5"/><rect x="85.9" y="378.8" width="24.2" height="4.2" fill="#E8F2D5"/><rect x="109.8" y="378.8" width="24.2" height="4.2" fill="#D8ECEE"/><rect x="133.6" y="378.8" width="24.2" height="4.2" fill="#C8E2EE"/><rect x="38.2" y="382.7" width="24.2" height="4.2" fill="#D5EAF0"/><rect x="62.1" y="382.7" width="24.2" height="4.2" fill="#D0E7F0"/><rect x="85.9" y="382.7" width="24.2" height="4.2" fill="#F0F3C8"/><rect x="109.8" y="382.7" width="24.2" height="4.2" fill="#FCF0B0"/><rect x="133.6" y="382.7" width="24.2" height="4.2" fill="#C0DCEB"/><rect x="38.2" y="386.6" width="24.2" height="4.2" fill="#E0EEE0"/><rect x="62.1" y="386.6" width="24.2" height="4.2" fill="#E0EEE0"/><rect x="85.9" y="386.6" width="24.2" height="4.2" fill="#F5F2C0"/><rect x="109.8" y="386.6" width="24.2" height="4.2" fill="#E0EEE0"/><rect x="133.6" y="386.6" width="24.2" height="4.2" fill="#D5EAF0"/><rect x="38.2" y="390.5" width="24.2" height="4.2" fill="#EEF2CC"/><rect x="62.1" y="390.5" width="24.2" height="4.2" fill="#F5F2C0"/><rect x="85.9" y="390.5" width="24.2" height="4.2" fill="#F0F3C8"/><rect x="109.8" y="390.5" width="24.2" height="4.2" fill="#D0E7F0"/><rect x="133.6" y="390.5" width="24.2" height="4.2" fill="#C0DCEB"/><rect x="38.2" y="394.5" width="24.2" height="4.2" fill="#FCF0B0"/><rect x="62.1" y="394.5" width="24.2" height="4.2" fill="#F5F2C0"/><rect x="85.9" y="394.5" width="24.2" height="4.2" fill="#B0D3E8"/><rect x="109.8" y="394.5" width="24.2" height="4.2" fill="#D0E7F0"/><rect x="133.6" y="394.5" width="24.2" height="4.2" fill="#C8E2EE"/><rect x="38.2" y="398.4" width="24.2" height="4.2" fill="#B8D8EA"/><rect x="62.1" y="398.4" width="24.2" height="4.2" fill="#C0DCEB"/><rect x="85.9" y="398.4" width="24.2" height="4.2" fill="#A0C9E3"/><rect x="109.8" y="398.4" width="24.2" height="4.2" fill="#FCF0B0"/><rect x="133.6" y="398.4" width="24.2" height="4.2" fill="#FC6030"/><rect x="38.2" y="402.3" width="24.2" height="4.2" fill="#C0DCEB"/><rect x="62.1" y="402.3" width="24.2" height="4.2" fill="#98C4E0"/><rect x="85.9" y="402.3" width="24.2" height="4.2" fill="#E8F2D5"/><rect x="109.8" y="402.3" width="24.2" height="4.2" fill="#F5F2C0"/><rect x="133.6" y="402.3" width="24.2" height="4.2" fill="#FDB065"/><rect x="38.2" y="406.2" width="24.2" height="4.2" fill="#C5E0EE"/><rect x="62.1" y="406.2" width="24.2" height="4.2" fill="#B0D3E8"/><rect x="85.9" y="406.2" width="24.2" height="4.2" fill="#D5EAF0"/><rect x="109.8" y="406.2" width="24.2" height="4.2" fill="#F5F2C0"/><rect x="133.6" y="406.2" width="24.2" height="4.2" fill="#FD9048"/><rect x="38.2" y="410.2" width="24.2" height="4.2" fill="#D5EAF0"/><rect x="62.1" y="410.2" width="24.2" height="4.2" fill="#D0E7F0"/><rect x="85.9" y="410.2" width="24.2" height="4.2" fill="#FBF3B5"/><rect x="109.8" y="410.2" width="24.2" height="4.2" fill="#E0EEE0"/><rect x="133.6" y="410.2" width="24.2" height="4.2" fill="#FEEFA5"/><rect x="38.2" y="414.1" width="24.2" height="4.2" fill="#A0C9E3"/><rect x="62.1" y="414.1" width="24.2" height="4.2" fill="#90BFDE"/><rect x="85.9" y="414.1" width="24.2" height="4.2" fill="#B8D8EA"/><rect x="109.8" y="414.1" width="24.2" height="4.2" fill="#FEE095"/><rect x="133.6" y="414.1" width="24.2" height="4.2" fill="#EE3018"/><rect x="38.2" y="418" width="24.2" height="4.2" fill="#D0E7F0"/><rect x="62.1" y="418" width="24.2" height="4.2" fill="#C0DCEB"/><rect x="85.9" y="418" width="24.2" height="4.2" fill="#E0EEE0"/><rect x="109.8" y="418" width="24.2" height="4.2" fill="#F0F3C8"/><rect x="133.6" y="418" width="24.2" height="4.2" fill="#FDA050"/><rect x="38.2" y="421.9" width="24.2" height="4.2" fill="#98C4E0"/><rect x="62.1" y="421.9" width="24.2" height="4.2" fill="#88B9DB"/><rect x="85.9" y="421.9" width="24.2" height="4.2" fill="#C0DCEB"/><rect x="109.8" y="421.9" width="24.2" height="4.2" fill="#FEE59A"/><rect x="133.6" y="421.9" width="24.2" height="4.2" fill="#DC0510"/><rect x="38.2" y="425.9" width="24.2" height="4.2" fill="#D5EAF0"/><rect x="62.1" y="425.9" width="24.2" height="4.2" fill="#D0E7F0"/><rect x="85.9" y="425.9" width="24.2" height="4.2" fill="#E5F0DC"/><rect x="109.8" y="425.9" width="24.2" height="4.2" fill="#F0F3C8"/><rect x="133.6" y="425.9" width="24.2" height="4.2" fill="#FEDD8C"/><rect x="38.2" y="429.8" width="24.2" height="4.2" fill="#D0E7F0"/><rect x="62.1" y="429.8" width="24.2" height="4.2" fill="#A8CEE5"/><rect x="85.9" y="429.8" width="24.2" height="4.2" fill="#FCF0B0"/><rect x="109.8" y="429.8" width="24.2" height="4.2" fill="#E5F0DC"/><rect x="133.6" y="429.8" width="24.2" height="4.2" fill="#FED585"/><rect x="38.2" y="433.7" width="24.2" height="4.2" fill="#C5E0EE"/><rect x="62.1" y="433.7" width="24.2" height="4.2" fill="#A8CEE5"/><rect x="85.9" y="433.7" width="24.2" height="4.2" fill="#F5F2C0"/><rect x="109.8" y="433.7" width="24.2" height="4.2" fill="#F5F2C0"/><rect x="133.6" y="433.7" width="24.2" height="4.2" fill="#FED080"/><rect x="38.2" y="437.6" width="24.2" height="4.2" fill="#B8D8EA"/><rect x="62.1" y="437.6" width="24.2" height="4.2" fill="#98C4E0"/><rect x="85.9" y="437.6" width="24.2" height="4.2" fill="#E0EEE0"/><rect x="109.8" y="437.6" width="24.2" height="4.2" fill="#FCF0B0"/><rect x="133.6" y="437.6" width="24.2" height="4.2" fill="#FD9048"/><rect x="38.2" y="441.6" width="24.2" height="4.2" fill="#C8E2EE"/><rect x="62.1" y="441.6" width="24.2" height="4.2" fill="#B0D3E8"/><rect x="85.9" y="441.6" width="24.2" height="4.2" fill="#DCEEE5"/><rect x="109.8" y="441.6" width="24.2" height="4.2" fill="#EEF2CC"/><rect x="133.6" y="441.6" width="24.2" height="4.2" fill="#FDA050"/><rect x="38.2" y="445.5" width="24.2" height="4.2" fill="#E5F0DC"/><rect x="62.1" y="445.5" width="24.2" height="4.2" fill="#B8D8EA"/><rect x="85.9" y="445.5" width="24.2" height="4.2" fill="#FBF3B5"/><rect x="109.8" y="445.5" width="24.2" height="4.2" fill="#D5EAF0"/><rect x="133.6" y="445.5" width="24.2" height="4.2" fill="#FEE095"/><rect x="38.2" y="449.4" width="24.2" height="4.2" fill="#B8D8EA"/><rect x="62.1" y="449.4" width="24.2" height="4.2" fill="#B0D3E8"/><rect x="85.9" y="449.4" width="24.2" height="4.2" fill="#C0DCEB"/><rect x="109.8" y="449.4" width="24.2" height="4.2" fill="#FCF0B0"/><rect x="133.6" y="449.4" width="24.2" height="4.2" fill="#E8251A"/><rect x="38.2" y="453.3" width="24.2" height="4.2" fill="#D0E7F0"/><rect x="62.1" y="453.3" width="24.2" height="4.2" fill="#A8CEE5"/><rect x="85.9" y="453.3" width="24.2" height="4.2" fill="#E5F0DC"/><rect x="109.8" y="453.3" width="24.2" height="4.2" fill="#EEF2CC"/><rect x="133.6" y="453.3" width="24.2" height="4.2" fill="#F8502A"/><rect x="38.2" y="457.3" width="24.2" height="4.2" fill="#D5EAF0"/><rect x="62.1" y="457.3" width="24.2" height="4.2" fill="#B8D8EA"/><rect x="85.9" y="457.3" width="24.2" height="4.2" fill="#C8E2EE"/><rect x="109.8" y="457.3" width="24.2" height="4.2" fill="#F0F3C8"/><rect x="133.6" y="457.3" width="24.2" height="4.2" fill="#FC6A35"/><rect x="38.2" y="461.2" width="24.2" height="4.2" fill="#B8D8EA"/><rect x="62.1" y="461.2" width="24.2" height="4.2" fill="#A0C9E3"/><rect x="85.9" y="461.2" width="24.2" height="4.2" fill="#FCF0B0"/><rect x="109.8" y="461.2" width="24.2" height="4.2" fill="#F5F2C0"/><rect x="133.6" y="461.2" width="24.2" height="4.2" fill="#FEC070"/>
</g>
<text x="15.9" y="258.2" font-size="8.7" fill="#111">Cluster</text>
<text x="52.6" y="258.2" font-size="8.7" text-anchor="middle" fill="#111">1</text>
<text x="75.6" y="258.2" font-size="8.7" text-anchor="middle" fill="#111">2</text>
<text x="99" y="258.2" font-size="8.7" text-anchor="middle" fill="#111">3</text>
<text x="122.4" y="258.2" font-size="8.7" text-anchor="middle" fill="#111">4</text>
<text x="145.8" y="258.2" font-size="8.7" text-anchor="middle" fill="#111">5</text>
<text x="158.9" y="272.5" font-size="5.3" fill="#222">Dpt</text>
<text x="158.9" y="276.4" font-size="5.3" fill="#222">Il6</text>
<text x="158.9" y="280.4" font-size="5.3" fill="#222">Clu</text>
<text x="158.9" y="284.3" font-size="5.3" fill="#222">Efemp1</text>
<text x="158.9" y="288.2" font-size="5.3" fill="#222">Has1</text>
<text x="158.9" y="292.1" font-size="5.3" fill="#222">Il6st</text>
<text x="158.9" y="296.1" font-size="5.3" fill="#222">C3</text>
<text x="158.9" y="300" font-size="5.3" fill="#222">Cxcl12</text>
<text x="158.9" y="303.9" font-size="5.3" fill="#222">Ccl2</text>
<text x="158.9" y="307.8" font-size="5.3" fill="#222">Gsn</text>
<text x="158.9" y="311.8" font-size="5.3" fill="#222">Clec3b</text>
<text x="158.9" y="315.7" font-size="5.3" fill="#222">Ly6c1</text>
<text x="158.9" y="319.6" font-size="5.3" fill="#222">Col14a1</text>
<text x="158.9" y="323.5" font-size="5.3" fill="#222">Pdgfra</text>
<text x="158.9" y="327.5" font-size="5.3" fill="#222">Ly6a</text>
<text x="158.9" y="331.4" font-size="5.3" fill="#222">Cxcl1</text>
<text x="158.9" y="335.3" font-size="5.3" fill="#222">Lmna</text>
<text x="158.9" y="339.2" font-size="5.3" fill="#222">Slpi</text>
<text x="158.9" y="343.2" font-size="5.3" fill="#222">Saa3</text>
<text x="158.9" y="347.1" font-size="5.3" fill="#222">Col15a1</text>
<text x="158.9" y="351" font-size="5.3" fill="#222">Nkain4</text>
<text x="158.9" y="354.9" font-size="5.3" fill="#222">Cd74</text>
<text x="158.9" y="358.9" font-size="5.3" fill="#222">H2-Ab1</text>
<text x="158.9" y="362.8" font-size="5.3" fill="#222">Irf5</text>
<text x="158.9" y="366.7" font-size="5.3" fill="#222">Krt8</text>
<text x="158.9" y="370.6" font-size="5.3" fill="#222">Clu2</text>
<text x="158.9" y="374.5" font-size="5.3" fill="#222">Ezr</text>
<text x="158.9" y="378.5" font-size="5.3" fill="#222">Upk3b</text>
<text x="158.9" y="382.4" font-size="5.3" fill="#222">H2-Aa</text>
<text x="158.9" y="386.3" font-size="5.3" fill="#222">Msln</text>
<text x="158.9" y="390.2" font-size="5.3" fill="#222">Cxadr</text>
<text x="158.9" y="394.2" font-size="5.3" fill="#222">Krt19</text>
<text x="158.9" y="398.1" font-size="5.3" fill="#222">Fth1</text>
<text x="158.9" y="402" font-size="5.3" fill="#222">Tagln</text>
<text x="158.9" y="405.9" font-size="5.3" fill="#222">Thy1</text>
<text x="158.9" y="409.9" font-size="5.3" fill="#222">Tnc</text>
<text x="158.9" y="413.8" font-size="5.3" fill="#222">Postn</text>
<text x="158.9" y="417.7" font-size="5.3" fill="#222">Col12a1</text>
<text x="158.9" y="421.6" font-size="5.3" fill="#222">Thbs2</text>
<text x="158.9" y="425.6" font-size="5.3" fill="#222">Cst1</text>
<text x="158.9" y="429.5" font-size="5.3" fill="#222">Igfbp3</text>
<text x="158.9" y="433.4" font-size="5.3" fill="#222">Col1a1</text>
<text x="158.9" y="437.3" font-size="5.3" fill="#222">Tpm1</text>
<text x="158.9" y="441.3" font-size="5.3" fill="#222">Tpm2</text>
<text x="158.9" y="445.2" font-size="5.3" fill="#222">Myl9</text>
<text x="158.9" y="449.1" font-size="5.3" fill="#222">Cthrc1</text>
<text x="158.9" y="453" font-size="5.3" fill="#222">Col8a1</text>
<text x="158.9" y="457" font-size="5.3" fill="#222">Acta2</text>
<text x="158.9" y="460.9" font-size="5.3" fill="#222">Mmp11</text>
<text x="158.9" y="464.8" font-size="5.3" fill="#222">Inhba</text>
<line x1="33.4" y1="268.1" x2="33.4" y2="333.7" stroke="#333" stroke-width="1"/>
<line x1="33.4" y1="337.8" x2="33.4" y2="396.4" stroke="#333" stroke-width="1"/>
<line x1="33.4" y1="400.2" x2="33.4" y2="464.4" stroke="#333" stroke-width="1"/>
<text x="29.2" y="301.4" font-size="9" text-anchor="middle" fill="#2A2AF5" transform="rotate(-90 29.2 301.4)">iCAF</text>
<text x="29.2" y="367" font-size="9" text-anchor="middle" fill="#111" transform="rotate(-90 29.2 367)">apCAF</text>
<text x="29.2" y="430" font-size="9" text-anchor="middle" fill="#E0202A" transform="rotate(-90 29.2 430)">MyCAF</text>
<defs><linearGradient id="cb2" x1="0" y1="0" x2="0" y2="1"><stop offset="0" stop-color="#DE0A14"/><stop offset="0.09" stop-color="#F0361F"/><stop offset="0.2" stop-color="#FB6A3A"/><stop offset="0.32" stop-color="#FDA257"/><stop offset="0.42" stop-color="#FECB7C"/><stop offset="0.5" stop-color="#FEEBA2"/><stop offset="0.56" stop-color="#F8F4BE"/><stop offset="0.62" stop-color="#E3F0E0"/><stop offset="0.72" stop-color="#C2DDEC"/><stop offset="0.82" stop-color="#92BFDE"/><stop offset="0.92" stop-color="#5592C8"/><stop offset="1" stop-color="#2166AC"/></linearGradient></defs>
<rect x="194.5" y="265.1" width="6.4" height="84.9" fill="url(#cb2)"/>
<text x="203.2" y="273.9" font-size="5" fill="#333">1.5</text>
<text x="203.2" y="285.8" font-size="5" fill="#333">1</text>
<text x="203.2" y="298" font-size="5" fill="#333">0.5</text>
<text x="203.2" y="309.7" font-size="5" fill="#333">0</text>
<text x="203.2" y="321.4" font-size="5" fill="#333">−0.5</text>
<text x="203.2" y="333.1" font-size="5" fill="#333">−1</text>
<text x="203.2" y="345.3" font-size="5" fill="#333">−1.5</text>
<text x="191" y="305" font-size="9" text-anchor="middle" fill="#222" transform="rotate(-90 191 305)">z-score</text>
</g>
<g id="p-traj">
<text x="279.5" y="263.3" font-size="10" fill="#222">CAF</text>
<circle cx="309.5" cy="259.8" r="2.7" fill="#06A73A"/>
<text x="315.6" y="263.3" font-size="10" fill="#222">c1</text>
<circle cx="335.2" cy="259.8" r="2.7" fill="#1492F0"/>
<text x="341.3" y="263.3" font-size="10" fill="#222">c2</text>
<circle cx="361.1" cy="259.8" r="2.7" fill="#9545D8"/>
<text x="367.7" y="263.3" font-size="10" fill="#222">c3</text>
<circle cx="387.7" cy="259.8" r="2.7" fill="#FDB900"/>
<text x="394.3" y="263.3" font-size="10" fill="#222">c4</text>
<circle cx="414.6" cy="259.8" r="2.7" fill="#A50005"/>
<text x="420.7" y="263.3" font-size="10" fill="#222">c5</text>
<path d="M282.9 298.7h1.5v1.5h-1.5zM283.4 298.9h1.5v1.5h-1.5zM280.5 307.2h1.5v1.5h-1.5zM285 297.7h1.5v1.5h-1.5zM285.2 302.2h1.5v1.5h-1.5zM283.5 297.2h1.5v1.5h-1.5zM281.9 313.5h1.5v1.5h-1.5zM284 303.6h1.5v1.5h-1.5zM285.7 299.4h1.5v1.5h-1.5zM284.5 297.4h1.5v1.5h-1.5zM285.5 296.7h1.5v1.5h-1.5zM281.6 301.3h1.5v1.5h-1.5zM286.8 296.2h1.5v1.5h-1.5zM283.7 298.8h1.5v1.5h-1.5zM284.3 311.4h1.5v1.5h-1.5zM280.1 307.6h1.5v1.5h-1.5zM281 295.5h1.5v1.5h-1.5zM286.6 298.7h1.5v1.5h-1.5zM281.7 299.2h1.5v1.5h-1.5zM284.4 300.2h1.5v1.5h-1.5zM286.5 293h1.5v1.5h-1.5zM280.3 310.1h1.5v1.5h-1.5zM282.7 304h1.5v1.5h-1.5zM280.5 304.6h1.5v1.5h-1.5zM284.4 295.6h1.5v1.5h-1.5zM281 307.3h1.5v1.5h-1.5zM283.6 298.5h1.5v1.5h-1.5zM282.6 308.7h1.5v1.5h-1.5zM281 308.1h1.5v1.5h-1.5zM278.2 306.9h1.5v1.5h-1.5zM279.4 311.4h1.5v1.5h-1.5zM281.9 301h1.5v1.5h-1.5zM282.6 307.7h1.5v1.5h-1.5zM282.6 308.9h1.5v1.5h-1.5zM283.5 307.2h1.5v1.5h-1.5zM282.4 298.1h1.5v1.5h-1.5zM282.4 292.2h1.5v1.5h-1.5zM282.1 311.8h1.5v1.5h-1.5zM285.3 298.5h1.5v1.5h-1.5zM283.5 305.6h1.5v1.5h-1.5zM283.2 310.8h1.5v1.5h-1.5zM280.7 302.7h1.5v1.5h-1.5zM281.6 305.9h1.5v1.5h-1.5zM283.3 298.6h1.5v1.5h-1.5zM282.8 305.2h1.5v1.5h-1.5zM280.7 306h1.5v1.5h-1.5zM282.6 301.8h1.5v1.5h-1.5zM282.9 310.1h1.5v1.5h-1.5zM284.4 295.3h1.5v1.5h-1.5zM284.8 298.7h1.5v1.5h-1.5zM283.9 303.2h1.5v1.5h-1.5zM281.9 299.1h1.5v1.5h-1.5zM284.4 295.2h1.5v1.5h-1.5zM282 305.6h1.5v1.5h-1.5zM284.4 307.5h1.5v1.5h-1.5zM284.2 306.7h1.5v1.5h-1.5zM284.3 296h1.5v1.5h-1.5zM282.4 303h1.5v1.5h-1.5zM284.7 298.6h1.5v1.5h-1.5zM284.2 299.7h1.5v1.5h-1.5zM279 303.3h1.5v1.5h-1.5zM282.5 296.7h1.5v1.5h-1.5zM283.8 306.2h1.5v1.5h-1.5zM280.5 305.6h1.5v1.5h-1.5zM286 299h1.5v1.5h-1.5zM280.8 295h1.5v1.5h-1.5zM284.6 295.4h1.5v1.5h-1.5zM282.5 308.9h1.5v1.5h-1.5zM284.9 303.7h1.5v1.5h-1.5zM281.2 301.2h1.5v1.5h-1.5zM282.9 299.9h1.5v1.5h-1.5zM282.9 298.4h1.5v1.5h-1.5zM282.1 309h1.5v1.5h-1.5zM282.1 296.5h1.5v1.5h-1.5zM283.2 304.4h1.5v1.5h-1.5zM280.2 301.6h1.5v1.5h-1.5zM282.7 310.7h1.5v1.5h-1.5zM280.9 309h1.5v1.5h-1.5zM282 306.4h1.5v1.5h-1.5zM280.6 307.4h1.5v1.5h-1.5zM287 308.5h1.5v1.5h-1.5zM283.9 292.8h1.5v1.5h-1.5zM284.1 298.6h1.5v1.5h-1.5zM282.9 291.6h1.5v1.5h-1.5zM281.7 305.8h1.5v1.5h-1.5zM281.9 310.6h1.5v1.5h-1.5zM281.5 301.2h1.5v1.5h-1.5zM284.7 298.6h1.5v1.5h-1.5zM283.9 298.8h1.5v1.5h-1.5zM283.2 303h1.5v1.5h-1.5zM280.5 295.8h1.5v1.5h-1.5zM280.7 300.6h1.5v1.5h-1.5zM284 297h1.5v1.5h-1.5zM284.8 294.5h1.5v1.5h-1.5zM285.7 298h1.5v1.5h-1.5zM284.4 305.2h1.5v1.5h-1.5zM282.4 296.2h1.5v1.5h-1.5zM285.4 297.7h1.5v1.5h-1.5zM283.5 293.8h1.5v1.5h-1.5zM281.7 307.9h1.5v1.5h-1.5zM283.2 308.6h1.5v1.5h-1.5zM284.9 293.3h1.5v1.5h-1.5zM283.1 300h1.5v1.5h-1.5zM285.3 309.2h1.5v1.5h-1.5zM283.9 294.6h1.5v1.5h-1.5zM282.2 311.3h1.5v1.5h-1.5zM286.4 295.9h1.5v1.5h-1.5zM281.3 305h1.5v1.5h-1.5zM281.7 305.9h1.5v1.5h-1.5zM282.3 297.5h1.5v1.5h-1.5zM282.8 308.2h1.5v1.5h-1.5zM282.3 303.1h1.5v1.5h-1.5zM283.7 298.1h1.5v1.5h-1.5zM281.8 304.1h1.5v1.5h-1.5zM286.7 294.2h1.5v1.5h-1.5zM280.6 301.3h1.5v1.5h-1.5zM281.8 305.9h1.5v1.5h-1.5zM282.4 307h1.5v1.5h-1.5zM280.7 300h1.5v1.5h-1.5zM283.3 298.6h1.5v1.5h-1.5zM285.5 298.9h1.5v1.5h-1.5zM281.8 309.7h1.5v1.5h-1.5zM284 307.7h1.5v1.5h-1.5zM283.8 309.1h1.5v1.5h-1.5zM284.8 310.4h1.5v1.5h-1.5zM283.1 292.4h1.5v1.5h-1.5zM282.7 306.1h1.5v1.5h-1.5zM285.6 297.4h1.5v1.5h-1.5zM283.8 302.9h1.5v1.5h-1.5zM283.1 305.5h1.5v1.5h-1.5zM285 296.9h1.5v1.5h-1.5zM285.2 295.4h1.5v1.5h-1.5zM284.8 294.6h1.5v1.5h-1.5zM284.6 297.3h1.5v1.5h-1.5zM284.3 295.9h1.5v1.5h-1.5zM282.7 295.3h1.5v1.5h-1.5zM285.9 295.8h1.5v1.5h-1.5zM284.2 295.5h1.5v1.5h-1.5zM285.4 296.8h1.5v1.5h-1.5zM285.3 297.1h1.5v1.5h-1.5zM284.7 295.4h1.5v1.5h-1.5zM282.6 295.2h1.5v1.5h-1.5zM284.4 298.3h1.5v1.5h-1.5zM283.6 296.9h1.5v1.5h-1.5zM283 295.6h1.5v1.5h-1.5zM283.1 296h1.5v1.5h-1.5zM282.8 296.4h1.5v1.5h-1.5zM286.3 295.6h1.5v1.5h-1.5zM282.2 297.3h1.5v1.5h-1.5zM283.9 298.2h1.5v1.5h-1.5zM285.3 296.2h1.5v1.5h-1.5zM284 296h1.5v1.5h-1.5zM283.3 297.6h1.5v1.5h-1.5zM280.4 298.2h1.5v1.5h-1.5zM284.4 295.2h1.5v1.5h-1.5zM283.9 298.5h1.5v1.5h-1.5zM283.7 296.1h1.5v1.5h-1.5zM282.5 294.3h1.5v1.5h-1.5zM282.7 296.1h1.5v1.5h-1.5zM282.8 294.9h1.5v1.5h-1.5zM282.6 297.3h1.5v1.5h-1.5zM285.4 297.8h1.5v1.5h-1.5zM283.4 295.4h1.5v1.5h-1.5zM284.5 298.4h1.5v1.5h-1.5zM284.8 296.5h1.5v1.5h-1.5zM285.6 298.4h1.5v1.5h-1.5zM285 295.6h1.5v1.5h-1.5zM283.6 296.7h1.5v1.5h-1.5zM284.6 297h1.5v1.5h-1.5zM283.7 297.1h1.5v1.5h-1.5z" fill="#06A73A"/><path d="M277.9 311.9h1.5v1.5h-1.5zM272.9 309.2h1.5v1.5h-1.5zM275.6 313.8h1.5v1.5h-1.5zM278 313.2h1.5v1.5h-1.5zM272.1 310.9h1.5v1.5h-1.5zM270.6 310.7h1.5v1.5h-1.5zM271.2 311.9h1.5v1.5h-1.5zM275.9 312.3h1.5v1.5h-1.5zM272.4 312.4h1.5v1.5h-1.5zM276.3 314.6h1.5v1.5h-1.5zM274.2 312.3h1.5v1.5h-1.5zM273.5 310.6h1.5v1.5h-1.5zM275.4 310.5h1.5v1.5h-1.5zM275.1 310.9h1.5v1.5h-1.5zM278.3 314.7h1.5v1.5h-1.5zM276.5 312.4h1.5v1.5h-1.5zM278.8 312.1h1.5v1.5h-1.5zM271.2 310h1.5v1.5h-1.5zM275.3 311h1.5v1.5h-1.5zM272.6 309h1.5v1.5h-1.5zM275.1 311.4h1.5v1.5h-1.5zM274.4 311.1h1.5v1.5h-1.5zM274.5 313.2h1.5v1.5h-1.5zM274.1 311.3h1.5v1.5h-1.5zM277.5 313.5h1.5v1.5h-1.5zM273.2 310.5h1.5v1.5h-1.5zM270.9 312.1h1.5v1.5h-1.5zM278.3 313.8h1.5v1.5h-1.5zM270.2 312.1h1.5v1.5h-1.5zM274.9 310.9h1.5v1.5h-1.5zM272.2 312.4h1.5v1.5h-1.5zM272.6 310.4h1.5v1.5h-1.5zM277.7 312h1.5v1.5h-1.5zM272.7 310.1h1.5v1.5h-1.5zM277.8 315.1h1.5v1.5h-1.5zM275.5 311.5h1.5v1.5h-1.5zM274.8 314.1h1.5v1.5h-1.5zM273.8 312.6h1.5v1.5h-1.5zM276.6 313.4h1.5v1.5h-1.5zM277.5 310.1h1.5v1.5h-1.5zM275.5 312h1.5v1.5h-1.5zM278.3 314.3h1.5v1.5h-1.5zM273.2 309.5h1.5v1.5h-1.5zM275 313.8h1.5v1.5h-1.5zM275.6 310.9h1.5v1.5h-1.5zM287.2 322.8h1.5v1.5h-1.5zM286.7 319.9h1.5v1.5h-1.5zM281.9 319.2h1.5v1.5h-1.5zM289.9 320.9h1.5v1.5h-1.5zM285.2 317.4h1.5v1.5h-1.5zM285.6 318.4h1.5v1.5h-1.5zM283.9 319.3h1.5v1.5h-1.5zM284.5 319.6h1.5v1.5h-1.5zM288 323.7h1.5v1.5h-1.5zM290.3 325.4h1.5v1.5h-1.5zM284.9 320.9h1.5v1.5h-1.5zM288 323.2h1.5v1.5h-1.5zM286.4 319.3h1.5v1.5h-1.5zM284.8 318.2h1.5v1.5h-1.5zM280.1 315.6h1.5v1.5h-1.5zM281.9 316.7h1.5v1.5h-1.5zM285.1 317.4h1.5v1.5h-1.5zM285.6 319.5h1.5v1.5h-1.5zM288.2 319.5h1.5v1.5h-1.5zM289.2 324.2h1.5v1.5h-1.5zM282.9 318.4h1.5v1.5h-1.5zM287.4 321h1.5v1.5h-1.5zM285.8 318.6h1.5v1.5h-1.5zM286.9 321.1h1.5v1.5h-1.5zM289 320.7h1.5v1.5h-1.5zM282.6 316h1.5v1.5h-1.5zM282.6 316.9h1.5v1.5h-1.5zM283.1 320.6h1.5v1.5h-1.5zM287.3 321.8h1.5v1.5h-1.5zM290.4 318.5h1.5v1.5h-1.5zM284.2 316.7h1.5v1.5h-1.5zM285.6 321.4h1.5v1.5h-1.5zM287.1 321.8h1.5v1.5h-1.5zM283.7 316.3h1.5v1.5h-1.5zM288.9 321.3h1.5v1.5h-1.5zM290.4 322.7h1.5v1.5h-1.5zM287.1 321.3h1.5v1.5h-1.5zM289.6 320.2h1.5v1.5h-1.5zM290.7 320.2h1.5v1.5h-1.5zM286.2 319.5h1.5v1.5h-1.5zM287.9 317.4h1.5v1.5h-1.5zM288.4 320.2h1.5v1.5h-1.5zM281.6 318.4h1.5v1.5h-1.5zM286.5 317.5h1.5v1.5h-1.5zM283.7 319.3h1.5v1.5h-1.5zM280.9 311.5h1.5v1.5h-1.5zM282.5 312.6h1.5v1.5h-1.5zM282.2 313.2h1.5v1.5h-1.5zM282.8 313.9h1.5v1.5h-1.5zM282.1 308.5h1.5v1.5h-1.5zM283.3 310.6h1.5v1.5h-1.5zM283.1 307h1.5v1.5h-1.5zM281.6 308.2h1.5v1.5h-1.5zM281.3 315.6h1.5v1.5h-1.5zM281.6 314.8h1.5v1.5h-1.5zM282 314h1.5v1.5h-1.5zM280.1 315.8h1.5v1.5h-1.5zM280.5 312.4h1.5v1.5h-1.5zM282.6 311.9h1.5v1.5h-1.5zM281.9 311.2h1.5v1.5h-1.5zM281.1 310.9h1.5v1.5h-1.5zM283.4 310.6h1.5v1.5h-1.5zM282.9 311.8h1.5v1.5h-1.5zM282.5 314h1.5v1.5h-1.5zM280.4 313.2h1.5v1.5h-1.5zM282.3 316.5h1.5v1.5h-1.5zM280.4 309.8h1.5v1.5h-1.5z" fill="#1492F0"/><path d="M301 327.7h1.5v1.5h-1.5zM296.9 326.5h1.5v1.5h-1.5zM295.3 323.9h1.5v1.5h-1.5zM310.3 334.2h1.5v1.5h-1.5zM303.5 331.9h1.5v1.5h-1.5zM307.4 331.9h1.5v1.5h-1.5zM293.7 324.6h1.5v1.5h-1.5zM286.4 324.3h1.5v1.5h-1.5zM292.1 322.7h1.5v1.5h-1.5zM304.3 328.9h1.5v1.5h-1.5zM288.5 324.1h1.5v1.5h-1.5zM304.1 328.1h1.5v1.5h-1.5zM302.4 331.5h1.5v1.5h-1.5zM300.1 327.8h1.5v1.5h-1.5zM304.1 331.5h1.5v1.5h-1.5zM290.9 321.1h1.5v1.5h-1.5zM299.1 329.1h1.5v1.5h-1.5zM306.6 331.4h1.5v1.5h-1.5zM290.1 323.4h1.5v1.5h-1.5zM288.7 321.4h1.5v1.5h-1.5zM293.7 327.4h1.5v1.5h-1.5zM303.3 331.2h1.5v1.5h-1.5zM300.4 329.1h1.5v1.5h-1.5zM307 333.4h1.5v1.5h-1.5zM293 325.6h1.5v1.5h-1.5zM287.2 320.6h1.5v1.5h-1.5zM304.6 334.4h1.5v1.5h-1.5zM302.3 330.3h1.5v1.5h-1.5zM288.5 323.2h1.5v1.5h-1.5zM291.1 324.1h1.5v1.5h-1.5zM301.7 330.2h1.5v1.5h-1.5zM307.1 334.1h1.5v1.5h-1.5zM296.7 326.4h1.5v1.5h-1.5zM289.1 321.3h1.5v1.5h-1.5zM302.7 329.3h1.5v1.5h-1.5zM308.7 332.5h1.5v1.5h-1.5zM303.7 331.6h1.5v1.5h-1.5zM297.5 330.8h1.5v1.5h-1.5zM293.7 324.1h1.5v1.5h-1.5zM304.7 329.8h1.5v1.5h-1.5z" fill="#06A73A"/><path d="M317.5 334.1h1.5v1.5h-1.5zM307.3 332.5h1.5v1.5h-1.5zM306.6 333h1.5v1.5h-1.5zM296 327.9h1.5v1.5h-1.5zM319.7 336.7h1.5v1.5h-1.5zM302.7 329.4h1.5v1.5h-1.5zM298.2 325.4h1.5v1.5h-1.5zM291.5 326.1h1.5v1.5h-1.5zM308.2 335.9h1.5v1.5h-1.5zM300.6 327.6h1.5v1.5h-1.5zM302 328.8h1.5v1.5h-1.5zM310.5 334.9h1.5v1.5h-1.5zM303.4 330.6h1.5v1.5h-1.5zM299.2 329.7h1.5v1.5h-1.5zM291.7 324.7h1.5v1.5h-1.5zM316.1 337h1.5v1.5h-1.5zM299.2 331.5h1.5v1.5h-1.5zM315.3 336.5h1.5v1.5h-1.5zM310.6 332.6h1.5v1.5h-1.5zM299.4 329.9h1.5v1.5h-1.5zM307.6 332.6h1.5v1.5h-1.5zM299.4 329.6h1.5v1.5h-1.5zM306.4 336h1.5v1.5h-1.5zM297.5 330.8h1.5v1.5h-1.5zM312 333.7h1.5v1.5h-1.5zM312.6 333.2h1.5v1.5h-1.5zM309.1 334.3h1.5v1.5h-1.5zM309.5 332.9h1.5v1.5h-1.5zM302.9 333.1h1.5v1.5h-1.5zM318.4 334.6h1.5v1.5h-1.5zM304.1 328.1h1.5v1.5h-1.5zM295.5 326h1.5v1.5h-1.5zM308.1 334.4h1.5v1.5h-1.5zM316 336.8h1.5v1.5h-1.5zM318 337.2h1.5v1.5h-1.5zM315.9 334.7h1.5v1.5h-1.5zM303.8 331h1.5v1.5h-1.5zM302.4 327.5h1.5v1.5h-1.5zM297.3 328.2h1.5v1.5h-1.5zM307 333.2h1.5v1.5h-1.5zM304.3 333.6h1.5v1.5h-1.5zM301.5 331.5h1.5v1.5h-1.5zM297.8 326.5h1.5v1.5h-1.5zM307.1 333.5h1.5v1.5h-1.5zM307.8 333.3h1.5v1.5h-1.5zM312.4 335.6h1.5v1.5h-1.5zM310.6 331.1h1.5v1.5h-1.5zM306.9 331.5h1.5v1.5h-1.5zM318.9 336.4h1.5v1.5h-1.5zM299.7 328.9h1.5v1.5h-1.5zM292.4 322.7h1.5v1.5h-1.5zM310.8 333.2h1.5v1.5h-1.5zM310.5 333.6h1.5v1.5h-1.5zM308.5 333.3h1.5v1.5h-1.5zM305 333.1h1.5v1.5h-1.5zM319.1 338.6h1.5v1.5h-1.5zM303.4 332.5h1.5v1.5h-1.5zM295.8 327.1h1.5v1.5h-1.5zM313.4 336.2h1.5v1.5h-1.5zM314.6 335.8h1.5v1.5h-1.5zM318.9 334.8h1.5v1.5h-1.5zM328.2 329.8h1.5v1.5h-1.5zM323.8 336.5h1.5v1.5h-1.5zM330 331.6h1.5v1.5h-1.5zM318.7 335.9h1.5v1.5h-1.5zM331.3 328.3h1.5v1.5h-1.5zM320.7 334h1.5v1.5h-1.5zM333.4 327.1h1.5v1.5h-1.5zM324.8 334.4h1.5v1.5h-1.5zM321.8 335h1.5v1.5h-1.5zM325.9 333.5h1.5v1.5h-1.5zM329.9 331.6h1.5v1.5h-1.5zM332.9 333.5h1.5v1.5h-1.5zM326.7 333.3h1.5v1.5h-1.5zM319.1 352.4h1.5v1.5h-1.5zM317.8 352.6h1.5v1.5h-1.5zM320.9 351.6h1.5v1.5h-1.5zM319.5 351h1.5v1.5h-1.5zM318.2 350.5h1.5v1.5h-1.5zM318.7 352.3h1.5v1.5h-1.5zM317.8 351.9h1.5v1.5h-1.5zM318.4 349.9h1.5v1.5h-1.5zM316 350.1h1.5v1.5h-1.5zM320.6 349.6h1.5v1.5h-1.5zM318.1 352.4h1.5v1.5h-1.5zM320.4 350.6h1.5v1.5h-1.5zM319.3 352.5h1.5v1.5h-1.5zM318.6 352.8h1.5v1.5h-1.5zM320.8 350.2h1.5v1.5h-1.5zM318.4 350.2h1.5v1.5h-1.5zM319.1 353.8h1.5v1.5h-1.5zM319.6 352.3h1.5v1.5h-1.5zM319.3 352h1.5v1.5h-1.5zM317.8 351.8h1.5v1.5h-1.5zM320.1 352.8h1.5v1.5h-1.5zM317.8 353.2h1.5v1.5h-1.5zM318.2 350.4h1.5v1.5h-1.5zM319.8 350.8h1.5v1.5h-1.5zM319.5 349.6h1.5v1.5h-1.5zM320.7 349.5h1.5v1.5h-1.5zM317.9 352.2h1.5v1.5h-1.5zM319.8 350.6h1.5v1.5h-1.5z" fill="#9545D8"/><path d="M318.9 352.2h1.5v1.5h-1.5zM320.2 352.1h1.5v1.5h-1.5zM318.7 351.6h1.5v1.5h-1.5zM318.8 351.3h1.5v1.5h-1.5zM319.5 352.3h1.5v1.5h-1.5zM318.5 350.9h1.5v1.5h-1.5zM318.6 351.8h1.5v1.5h-1.5zM319 351.9h1.5v1.5h-1.5zM319 350.9h1.5v1.5h-1.5zM319.4 353.1h1.5v1.5h-1.5zM318.2 351.2h1.5v1.5h-1.5zM319.1 350.6h1.5v1.5h-1.5zM319.8 350.6h1.5v1.5h-1.5zM318.1 352.3h1.5v1.5h-1.5zM320.5 353.3h1.5v1.5h-1.5zM320 352h1.5v1.5h-1.5z" fill="#FDB900"/><path d="M342.8 305.1h1.5v1.5h-1.5zM343.2 304.1h1.5v1.5h-1.5zM342.4 306.2h1.5v1.5h-1.5z" fill="#A50005"/><path d="M332.3 325.4h1.5v1.5h-1.5zM329.9 330.7h1.5v1.5h-1.5z" fill="#9545D8"/><path d="M285.3 294.7C285 295.7 284 298.7 283.6 300.6C283.3 302.5 283.4 304.3 283.2 306.2C283.1 308 282.9 310 282.8 311.7C282.8 313.5 282.8 315.7 282.8 316.5M282.8 316.5C284.2 317.8 284.2 318.2 287.3 320.8C290.3 323.3 289.1 322.3 293 325C296.8 327.8 295.6 327.2 300.2 329.8C304.9 332.5 304 331.9 308.3 333.8C312.7 335.7 311.4 335.2 314.8 336.2C318.2 337.3 316.5 337.6 319.7 337.3C322.8 337 321.9 337.1 325.4 335.2C328.8 333.2 327.9 334.6 331 330.9C334.2 327.2 333 328.5 335.9 322.9C338.8 317.3 337.8 318.7 340.7 312.3C343.7 305.9 342.8 307.9 345.6 301.6C348.4 295.4 348.7 294.6 350.1 291.5M319.7 337.3C319.7 339.9 319.7 350.1 319.7 352.7M282.8 316.5C281.8 316 278.8 314.3 276.8 313.3C274.7 312.4 271.4 311.1 270.3 310.7" fill="none" stroke="#222" stroke-width="0.7"/><circle cx="283.2" cy="306.2" r="1.7" fill="#111"/><circle cx="282.8" cy="316.5" r="1.7" fill="#111"/><circle cx="319.7" cy="337.3" r="1.7" fill="#111"/>
<path d="M376.8 309h1.5v1.5h-1.5zM382.4 303.2h1.5v1.5h-1.5zM378.2 306.3h1.5v1.5h-1.5zM378.5 299.4h1.5v1.5h-1.5zM385.5 294.9h1.5v1.5h-1.5zM380.8 298.9h1.5v1.5h-1.5zM381 297.3h1.5v1.5h-1.5zM379.4 304.2h1.5v1.5h-1.5zM380.2 299.5h1.5v1.5h-1.5zM377.5 299.3h1.5v1.5h-1.5zM381.7 310.5h1.5v1.5h-1.5zM378.5 309.6h1.5v1.5h-1.5zM378.5 305.5h1.5v1.5h-1.5zM380.6 301.8h1.5v1.5h-1.5zM381 292.8h1.5v1.5h-1.5zM381.1 304.1h1.5v1.5h-1.5zM378.7 301.9h1.5v1.5h-1.5zM378 307.9h1.5v1.5h-1.5zM379.7 304.3h1.5v1.5h-1.5zM377 306.9h1.5v1.5h-1.5zM379.3 297.8h1.5v1.5h-1.5zM376 311.1h1.5v1.5h-1.5zM378.4 295.3h1.5v1.5h-1.5zM382.2 299.9h1.5v1.5h-1.5zM377.6 299.8h1.5v1.5h-1.5zM379.1 297.2h1.5v1.5h-1.5zM379.7 302.8h1.5v1.5h-1.5zM380.5 298.7h1.5v1.5h-1.5zM378.6 304.8h1.5v1.5h-1.5zM380.7 298h1.5v1.5h-1.5zM377.9 305.1h1.5v1.5h-1.5zM379.9 301.6h1.5v1.5h-1.5zM378.7 294.7h1.5v1.5h-1.5zM379.5 297.9h1.5v1.5h-1.5zM383.7 291.2h1.5v1.5h-1.5zM380.1 296.2h1.5v1.5h-1.5zM377.2 299.2h1.5v1.5h-1.5zM377.1 306.1h1.5v1.5h-1.5zM380.1 306.2h1.5v1.5h-1.5zM376.9 304.8h1.5v1.5h-1.5zM379.7 302.9h1.5v1.5h-1.5zM379.2 298.9h1.5v1.5h-1.5zM376.3 304.3h1.5v1.5h-1.5zM380.1 300.7h1.5v1.5h-1.5zM376.3 300.9h1.5v1.5h-1.5zM378.3 296.6h1.5v1.5h-1.5zM378.9 302.1h1.5v1.5h-1.5zM381.7 307.5h1.5v1.5h-1.5zM377.6 309.5h1.5v1.5h-1.5zM378.9 302h1.5v1.5h-1.5zM378.7 307h1.5v1.5h-1.5zM379.1 303.1h1.5v1.5h-1.5zM378.1 300.1h1.5v1.5h-1.5zM379.3 298.9h1.5v1.5h-1.5zM381 295.3h1.5v1.5h-1.5zM377 309.7h1.5v1.5h-1.5zM381.6 299.9h1.5v1.5h-1.5zM375.2 311.6h1.5v1.5h-1.5zM377.6 309.8h1.5v1.5h-1.5zM377.1 301.3h1.5v1.5h-1.5zM381 305.4h1.5v1.5h-1.5zM378.9 304.8h1.5v1.5h-1.5zM379.8 294.5h1.5v1.5h-1.5zM379.5 299.5h1.5v1.5h-1.5zM380.7 310.2h1.5v1.5h-1.5zM379.1 296.1h1.5v1.5h-1.5zM379 304.1h1.5v1.5h-1.5zM380.4 295.7h1.5v1.5h-1.5zM380.1 304.5h1.5v1.5h-1.5zM376.5 303.4h1.5v1.5h-1.5zM376.9 306.4h1.5v1.5h-1.5zM378.4 305.4h1.5v1.5h-1.5zM380.6 310.2h1.5v1.5h-1.5zM378.7 298.8h1.5v1.5h-1.5zM379.4 307.2h1.5v1.5h-1.5zM375.4 293h1.5v1.5h-1.5zM380.3 293.8h1.5v1.5h-1.5zM378 304.6h1.5v1.5h-1.5zM379.4 305.7h1.5v1.5h-1.5zM377.2 292.9h1.5v1.5h-1.5zM381.8 293.2h1.5v1.5h-1.5zM378 306.2h1.5v1.5h-1.5zM379.3 302.5h1.5v1.5h-1.5zM381 295.2h1.5v1.5h-1.5zM379.3 302.6h1.5v1.5h-1.5zM379.5 302.2h1.5v1.5h-1.5zM374.7 298.3h1.5v1.5h-1.5zM378.8 307.4h1.5v1.5h-1.5zM380.1 294.9h1.5v1.5h-1.5zM377.7 307.7h1.5v1.5h-1.5zM375.9 307h1.5v1.5h-1.5zM377.5 295.6h1.5v1.5h-1.5zM380.1 298.6h1.5v1.5h-1.5zM380.2 300.4h1.5v1.5h-1.5zM380.1 305.7h1.5v1.5h-1.5zM377.1 310.7h1.5v1.5h-1.5zM381.2 310.6h1.5v1.5h-1.5zM381.5 296.3h1.5v1.5h-1.5zM381.9 295.4h1.5v1.5h-1.5zM377.9 306.4h1.5v1.5h-1.5zM378.9 309.9h1.5v1.5h-1.5zM384 297.3h1.5v1.5h-1.5zM380.9 294.4h1.5v1.5h-1.5zM380.9 294.9h1.5v1.5h-1.5zM376.6 301.1h1.5v1.5h-1.5zM382.2 298.1h1.5v1.5h-1.5zM377.1 301.4h1.5v1.5h-1.5zM381.6 296.6h1.5v1.5h-1.5zM379 302.5h1.5v1.5h-1.5zM382 297.7h1.5v1.5h-1.5zM379.1 300h1.5v1.5h-1.5zM378.9 308.7h1.5v1.5h-1.5zM377.5 306.4h1.5v1.5h-1.5zM379.1 306.6h1.5v1.5h-1.5zM380.1 298.9h1.5v1.5h-1.5zM376 304.5h1.5v1.5h-1.5zM376.3 299.3h1.5v1.5h-1.5zM379.3 310.2h1.5v1.5h-1.5zM380.2 299.8h1.5v1.5h-1.5zM379 306h1.5v1.5h-1.5zM378.6 294.5h1.5v1.5h-1.5zM376.5 313.2h1.5v1.5h-1.5zM377.4 296.2h1.5v1.5h-1.5zM378.3 296.1h1.5v1.5h-1.5zM381.3 291.7h1.5v1.5h-1.5zM378.8 297.8h1.5v1.5h-1.5zM380.1 301.3h1.5v1.5h-1.5zM379.2 310.1h1.5v1.5h-1.5zM378.2 292.1h1.5v1.5h-1.5zM378.5 298.8h1.5v1.5h-1.5zM380 298.1h1.5v1.5h-1.5zM381.5 297.2h1.5v1.5h-1.5zM381.9 294.6h1.5v1.5h-1.5zM377.6 297.6h1.5v1.5h-1.5zM379.1 296.2h1.5v1.5h-1.5zM378.7 295.5h1.5v1.5h-1.5zM379.7 297.9h1.5v1.5h-1.5zM381.2 297.4h1.5v1.5h-1.5zM380.9 293.6h1.5v1.5h-1.5zM380 296.9h1.5v1.5h-1.5zM377.9 295.5h1.5v1.5h-1.5zM379.7 296.4h1.5v1.5h-1.5zM381.5 297.7h1.5v1.5h-1.5zM380.8 294.2h1.5v1.5h-1.5zM381.2 297.4h1.5v1.5h-1.5zM381.6 296.6h1.5v1.5h-1.5zM382 296h1.5v1.5h-1.5zM381.5 298.7h1.5v1.5h-1.5zM380.3 299.3h1.5v1.5h-1.5zM380.7 297.5h1.5v1.5h-1.5zM380.9 295.8h1.5v1.5h-1.5zM382.8 295.2h1.5v1.5h-1.5zM381.1 298.8h1.5v1.5h-1.5zM380.4 297.5h1.5v1.5h-1.5zM379.9 296.2h1.5v1.5h-1.5zM380.9 295h1.5v1.5h-1.5zM381.2 295.7h1.5v1.5h-1.5zM379.5 296.2h1.5v1.5h-1.5zM380.4 295.6h1.5v1.5h-1.5zM378 295.4h1.5v1.5h-1.5zM378.4 295.4h1.5v1.5h-1.5zM379.7 298.4h1.5v1.5h-1.5zM380.6 297.6h1.5v1.5h-1.5zM380.9 295.9h1.5v1.5h-1.5zM380 294.9h1.5v1.5h-1.5zM379 297h1.5v1.5h-1.5zM380 295.3h1.5v1.5h-1.5zM379.9 300.5h1.5v1.5h-1.5zM380 296.8h1.5v1.5h-1.5zM379.5 298.3h1.5v1.5h-1.5z" fill="#06A73A"/><path d="M368.6 313.8h1.5v1.5h-1.5zM370.8 312.9h1.5v1.5h-1.5zM366.5 311h1.5v1.5h-1.5zM370.1 312.8h1.5v1.5h-1.5zM371.6 317h1.5v1.5h-1.5zM365.5 308.7h1.5v1.5h-1.5zM373 311.3h1.5v1.5h-1.5zM370.5 312.7h1.5v1.5h-1.5zM371.1 311.9h1.5v1.5h-1.5zM375.8 312.7h1.5v1.5h-1.5zM373.3 311.2h1.5v1.5h-1.5zM365.8 313.2h1.5v1.5h-1.5zM365.4 310.4h1.5v1.5h-1.5zM368.1 310.4h1.5v1.5h-1.5zM371.9 314.4h1.5v1.5h-1.5zM372.2 311.9h1.5v1.5h-1.5zM368.1 311.6h1.5v1.5h-1.5zM365.9 312.2h1.5v1.5h-1.5zM365.2 310.4h1.5v1.5h-1.5zM370.7 311.2h1.5v1.5h-1.5zM368.2 311h1.5v1.5h-1.5zM371.7 312.1h1.5v1.5h-1.5zM376.1 317.8h1.5v1.5h-1.5zM383.1 321.7h1.5v1.5h-1.5zM382.4 318.8h1.5v1.5h-1.5zM380.9 317.3h1.5v1.5h-1.5zM388.8 319.8h1.5v1.5h-1.5zM382.9 321h1.5v1.5h-1.5zM383.4 318.4h1.5v1.5h-1.5zM381.9 319.2h1.5v1.5h-1.5zM376.5 316.8h1.5v1.5h-1.5zM383.9 319.2h1.5v1.5h-1.5zM381.9 321.1h1.5v1.5h-1.5zM381.5 314.9h1.5v1.5h-1.5zM381.2 317h1.5v1.5h-1.5zM379.1 317.3h1.5v1.5h-1.5zM380.7 320.9h1.5v1.5h-1.5zM382.3 318.1h1.5v1.5h-1.5zM382.7 317.7h1.5v1.5h-1.5zM376.1 316.5h1.5v1.5h-1.5zM382.5 318.6h1.5v1.5h-1.5zM380.1 319.1h1.5v1.5h-1.5zM383 323.9h1.5v1.5h-1.5zM381.3 316.9h1.5v1.5h-1.5zM379.5 310.4h1.5v1.5h-1.5zM379.3 308.2h1.5v1.5h-1.5zM377.5 316.6h1.5v1.5h-1.5zM376.9 311h1.5v1.5h-1.5zM379.7 311.1h1.5v1.5h-1.5zM377 311.3h1.5v1.5h-1.5zM379.7 316.3h1.5v1.5h-1.5zM379.2 308.4h1.5v1.5h-1.5zM376.8 307h1.5v1.5h-1.5zM376.3 310.7h1.5v1.5h-1.5zM378.5 314.5h1.5v1.5h-1.5z" fill="#1492F0"/><path d="M389.9 324h1.5v1.5h-1.5zM403.2 332.3h1.5v1.5h-1.5zM391.8 330.8h1.5v1.5h-1.5zM392.7 326.5h1.5v1.5h-1.5zM385.2 322.4h1.5v1.5h-1.5zM397.8 329.7h1.5v1.5h-1.5zM396 329.9h1.5v1.5h-1.5zM394.6 328.3h1.5v1.5h-1.5zM400.9 332.9h1.5v1.5h-1.5zM382.3 323.8h1.5v1.5h-1.5zM402.7 332.7h1.5v1.5h-1.5zM386.1 320.7h1.5v1.5h-1.5zM382.6 321.7h1.5v1.5h-1.5zM388.7 325.2h1.5v1.5h-1.5z" fill="#06A73A"/><path d="M410.3 334.9h1.5v1.5h-1.5zM388.9 325h1.5v1.5h-1.5zM403.4 332.4h1.5v1.5h-1.5zM399.1 332.3h1.5v1.5h-1.5zM397.9 332h1.5v1.5h-1.5zM402.6 332.5h1.5v1.5h-1.5zM399.9 332.2h1.5v1.5h-1.5zM416.1 333.5h1.5v1.5h-1.5zM404 331.4h1.5v1.5h-1.5zM391 327.1h1.5v1.5h-1.5zM408.9 335.1h1.5v1.5h-1.5zM412.2 336.1h1.5v1.5h-1.5zM389.6 325.3h1.5v1.5h-1.5zM390.1 326.2h1.5v1.5h-1.5zM404.2 330.9h1.5v1.5h-1.5zM406.3 332.2h1.5v1.5h-1.5zM413.2 336.1h1.5v1.5h-1.5zM405.4 332.5h1.5v1.5h-1.5zM401.8 330.5h1.5v1.5h-1.5zM391.7 326.8h1.5v1.5h-1.5zM403.8 333.4h1.5v1.5h-1.5zM389.3 325.9h1.5v1.5h-1.5zM392.7 326h1.5v1.5h-1.5zM411.2 333.3h1.5v1.5h-1.5zM391.9 328.3h1.5v1.5h-1.5zM408.4 333.2h1.5v1.5h-1.5zM396.7 332.6h1.5v1.5h-1.5zM394 325.9h1.5v1.5h-1.5zM394 326.1h1.5v1.5h-1.5zM392.2 325.9h1.5v1.5h-1.5zM391.4 328.2h1.5v1.5h-1.5zM404.1 333.1h1.5v1.5h-1.5zM401.8 332.4h1.5v1.5h-1.5zM397.4 327.6h1.5v1.5h-1.5zM413 337.2h1.5v1.5h-1.5zM412.5 334.1h1.5v1.5h-1.5zM391.5 325.3h1.5v1.5h-1.5zM412.4 336.2h1.5v1.5h-1.5zM398.2 332.2h1.5v1.5h-1.5zM400.9 334.5h1.5v1.5h-1.5zM394.7 323.9h1.5v1.5h-1.5zM395.2 328.1h1.5v1.5h-1.5zM394.1 328.5h1.5v1.5h-1.5zM400.1 333.4h1.5v1.5h-1.5zM414 336.6h1.5v1.5h-1.5zM407.9 336.9h1.5v1.5h-1.5zM402.3 332.5h1.5v1.5h-1.5zM414.3 335.3h1.5v1.5h-1.5zM391 327.9h1.5v1.5h-1.5zM395.1 327.8h1.5v1.5h-1.5zM393.6 329h1.5v1.5h-1.5zM388.8 322.6h1.5v1.5h-1.5zM403.3 335h1.5v1.5h-1.5zM401.3 332.2h1.5v1.5h-1.5zM398.6 332.9h1.5v1.5h-1.5zM394.7 327h1.5v1.5h-1.5zM402.7 331.2h1.5v1.5h-1.5zM413.9 337.4h1.5v1.5h-1.5zM406 333.7h1.5v1.5h-1.5zM407.8 335.9h1.5v1.5h-1.5zM425.4 331.9h1.5v1.5h-1.5zM423.4 334.3h1.5v1.5h-1.5zM430 327.5h1.5v1.5h-1.5zM415.1 335.1h1.5v1.5h-1.5zM428 330.8h1.5v1.5h-1.5zM423.3 332.6h1.5v1.5h-1.5zM420.5 334.1h1.5v1.5h-1.5zM419.8 334h1.5v1.5h-1.5zM416.6 333.9h1.5v1.5h-1.5zM426.1 326.7h1.5v1.5h-1.5zM426.3 330.2h1.5v1.5h-1.5zM428.6 327.1h1.5v1.5h-1.5zM424.7 334.3h1.5v1.5h-1.5zM428.3 327.8h1.5v1.5h-1.5zM416.4 352.5h1.5v1.5h-1.5zM415.5 351.6h1.5v1.5h-1.5zM412.1 350.8h1.5v1.5h-1.5zM414.7 350.4h1.5v1.5h-1.5zM414.7 350.3h1.5v1.5h-1.5zM413.8 350.8h1.5v1.5h-1.5zM415 350.1h1.5v1.5h-1.5zM416 351.9h1.5v1.5h-1.5zM415 348.8h1.5v1.5h-1.5zM414.5 353.4h1.5v1.5h-1.5zM417.8 353.1h1.5v1.5h-1.5zM415 351.4h1.5v1.5h-1.5zM414.9 353.1h1.5v1.5h-1.5zM413.2 349.8h1.5v1.5h-1.5zM415.5 352.9h1.5v1.5h-1.5zM414.1 352.2h1.5v1.5h-1.5zM415.4 350.5h1.5v1.5h-1.5zM414.8 352.8h1.5v1.5h-1.5zM413.4 351.7h1.5v1.5h-1.5zM415.6 351.7h1.5v1.5h-1.5zM416.6 350.3h1.5v1.5h-1.5zM415.3 349.9h1.5v1.5h-1.5zM413.3 351.5h1.5v1.5h-1.5zM414.3 352.3h1.5v1.5h-1.5zM412.9 353.1h1.5v1.5h-1.5zM415.7 352.5h1.5v1.5h-1.5zM414.9 352.4h1.5v1.5h-1.5zM415.1 351.5h1.5v1.5h-1.5z" fill="#9545D8"/><path d="M414 352.7h1.5v1.5h-1.5zM416.4 352.7h1.5v1.5h-1.5zM414.2 352.1h1.5v1.5h-1.5zM415.5 353h1.5v1.5h-1.5zM415 352.6h1.5v1.5h-1.5zM415.7 351.8h1.5v1.5h-1.5zM415.8 351h1.5v1.5h-1.5zM416.5 350.6h1.5v1.5h-1.5zM415.1 352.9h1.5v1.5h-1.5zM415.8 351h1.5v1.5h-1.5zM416.6 353.4h1.5v1.5h-1.5zM415.1 352.9h1.5v1.5h-1.5zM416 353.1h1.5v1.5h-1.5zM414.4 350h1.5v1.5h-1.5zM415.3 352.3h1.5v1.5h-1.5zM416.4 351.5h1.5v1.5h-1.5z" fill="#FDB900"/><path d="M432.8 328h1.5v1.5h-1.5zM431.2 331.7h1.5v1.5h-1.5zM430.4 333.3h1.5v1.5h-1.5zM441.4 305.1h1.5v1.5h-1.5zM441.6 304.1h1.5v1.5h-1.5z" fill="#FDB900"/><path d="M384.2 330.7h1.5v1.5h-1.5zM383.8 331.7h1.5v1.5h-1.5zM396.4 334.9h1.5v1.5h-1.5zM397.2 336.5h1.5v1.5h-1.5z" fill="#9545D8"/><path d="M381.4 294.7C381.1 295.7 380.1 298.7 379.7 300.6C379.4 302.5 379.5 304.3 379.3 306.2C379.2 308 379 310 378.9 311.7C378.9 313.5 378.9 315.7 378.9 316.5M378.9 316.5C380.3 317.8 380.3 318.2 383.4 320.8C386.4 323.3 385.2 322.3 389.1 325C392.9 327.8 391.7 327.2 396.3 329.8C401 332.5 400.1 331.9 404.4 333.8C408.8 335.7 407.5 335.2 410.9 336.2C414.3 337.3 412.6 337.6 415.8 337.3C418.9 337 418 337.1 421.4 335.2C424.9 333.2 424 334.6 427.1 330.9C430.3 327.2 429.1 328.5 432 322.9C434.9 317.3 433.9 318.7 436.8 312.3C439.8 305.9 438.9 307.9 441.7 301.6C444.5 295.4 444.8 294.6 446.2 291.5M415.8 337.3C415.8 339.9 415.8 350.1 415.8 352.7M378.9 316.5C377.9 316 374.9 314.3 372.8 313.3C370.8 312.4 367.4 311.1 366.4 310.7" fill="none" stroke="#222" stroke-width="0.7"/><circle cx="379.3" cy="306.2" r="1.7" fill="#111"/><circle cx="378.9" cy="316.5" r="1.7" fill="#111"/><circle cx="415.8" cy="337.3" r="1.7" fill="#111"/>
<path d="M280.6 395.2h1.5v1.5h-1.5zM282.6 386.5h1.5v1.5h-1.5zM283.4 387.1h1.5v1.5h-1.5zM280.2 397.3h1.5v1.5h-1.5zM282 394.8h1.5v1.5h-1.5zM286.3 383.9h1.5v1.5h-1.5zM283.8 386.8h1.5v1.5h-1.5zM282.5 389.5h1.5v1.5h-1.5zM281.1 397.9h1.5v1.5h-1.5zM284.2 391.8h1.5v1.5h-1.5zM285.7 382.7h1.5v1.5h-1.5zM283.6 386.3h1.5v1.5h-1.5zM285.4 396.3h1.5v1.5h-1.5zM281 389h1.5v1.5h-1.5zM282.4 394.8h1.5v1.5h-1.5zM284.3 383.5h1.5v1.5h-1.5zM284.6 394.8h1.5v1.5h-1.5zM278.6 396.4h1.5v1.5h-1.5zM282.5 386.7h1.5v1.5h-1.5zM283.3 388h1.5v1.5h-1.5zM282.7 385.6h1.5v1.5h-1.5zM285.9 380.3h1.5v1.5h-1.5zM282.8 393.4h1.5v1.5h-1.5zM285.3 399.1h1.5v1.5h-1.5zM282.2 399.4h1.5v1.5h-1.5zM280.6 395.4h1.5v1.5h-1.5zM286.3 383.6h1.5v1.5h-1.5zM282 389.7h1.5v1.5h-1.5zM286.8 387.1h1.5v1.5h-1.5zM285.2 386.7h1.5v1.5h-1.5zM280.9 389.6h1.5v1.5h-1.5zM282.3 400.3h1.5v1.5h-1.5zM283.7 388.9h1.5v1.5h-1.5zM280.9 399h1.5v1.5h-1.5zM285.9 390.9h1.5v1.5h-1.5zM281.2 394.2h1.5v1.5h-1.5zM282.5 388.4h1.5v1.5h-1.5zM281 391.9h1.5v1.5h-1.5zM280.5 395h1.5v1.5h-1.5zM282.6 392.4h1.5v1.5h-1.5zM282.3 388.9h1.5v1.5h-1.5zM284.8 382.4h1.5v1.5h-1.5zM282.9 390.3h1.5v1.5h-1.5zM283.5 386.4h1.5v1.5h-1.5zM284.2 396.1h1.5v1.5h-1.5zM283.1 390.5h1.5v1.5h-1.5zM284.4 385.9h1.5v1.5h-1.5zM282 382.5h1.5v1.5h-1.5zM283.4 384.7h1.5v1.5h-1.5zM285.6 389.1h1.5v1.5h-1.5zM282.1 388.2h1.5v1.5h-1.5zM284.1 383.4h1.5v1.5h-1.5zM284.4 387.2h1.5v1.5h-1.5zM283.4 388.2h1.5v1.5h-1.5zM282.5 385.3h1.5v1.5h-1.5zM282.4 396.6h1.5v1.5h-1.5zM282.1 393.6h1.5v1.5h-1.5zM281.6 393.2h1.5v1.5h-1.5zM282 388.6h1.5v1.5h-1.5zM283.1 387.6h1.5v1.5h-1.5zM285.1 385.9h1.5v1.5h-1.5zM282.2 397.5h1.5v1.5h-1.5zM280 397.1h1.5v1.5h-1.5zM281.6 395.3h1.5v1.5h-1.5zM285.8 385.1h1.5v1.5h-1.5zM285.6 396.4h1.5v1.5h-1.5zM284.2 391.6h1.5v1.5h-1.5zM283 391h1.5v1.5h-1.5zM280.7 386.5h1.5v1.5h-1.5zM283.4 400.2h1.5v1.5h-1.5zM281.2 396.2h1.5v1.5h-1.5zM284.9 392.1h1.5v1.5h-1.5zM282 385.8h1.5v1.5h-1.5zM283.1 385.9h1.5v1.5h-1.5zM283.2 390.3h1.5v1.5h-1.5zM282.4 385.6h1.5v1.5h-1.5zM282.8 395.2h1.5v1.5h-1.5zM281 395.7h1.5v1.5h-1.5zM282.7 384.1h1.5v1.5h-1.5zM284.4 396.1h1.5v1.5h-1.5zM282.8 393.2h1.5v1.5h-1.5zM282.4 390.3h1.5v1.5h-1.5zM283.9 387.3h1.5v1.5h-1.5zM281.2 384h1.5v1.5h-1.5zM282.1 390.1h1.5v1.5h-1.5zM280.8 391.7h1.5v1.5h-1.5zM284.1 396.1h1.5v1.5h-1.5zM280.2 400.6h1.5v1.5h-1.5zM283.4 397.4h1.5v1.5h-1.5zM283.3 391.4h1.5v1.5h-1.5zM284.4 390.9h1.5v1.5h-1.5zM281.2 389.5h1.5v1.5h-1.5zM283.8 394.7h1.5v1.5h-1.5zM285.9 391h1.5v1.5h-1.5zM281.1 383.6h1.5v1.5h-1.5zM284.4 383.8h1.5v1.5h-1.5zM281.8 389.9h1.5v1.5h-1.5zM282.8 392.1h1.5v1.5h-1.5zM282 395.3h1.5v1.5h-1.5zM284.5 394.6h1.5v1.5h-1.5zM281 394h1.5v1.5h-1.5zM284.5 396.7h1.5v1.5h-1.5zM281 389.3h1.5v1.5h-1.5zM284.7 398.1h1.5v1.5h-1.5zM283.5 400h1.5v1.5h-1.5zM284.3 395.7h1.5v1.5h-1.5zM282.2 383.1h1.5v1.5h-1.5zM286.8 381.7h1.5v1.5h-1.5zM285.3 394.1h1.5v1.5h-1.5zM280.9 391.7h1.5v1.5h-1.5zM285.6 383h1.5v1.5h-1.5zM281.2 395.6h1.5v1.5h-1.5zM286.2 383.8h1.5v1.5h-1.5zM281.6 387h1.5v1.5h-1.5zM284 382.5h1.5v1.5h-1.5zM284.9 385.5h1.5v1.5h-1.5zM282.9 385.3h1.5v1.5h-1.5zM280.8 399.2h1.5v1.5h-1.5zM284.9 392.6h1.5v1.5h-1.5zM284.8 401.3h1.5v1.5h-1.5zM282.8 390.3h1.5v1.5h-1.5zM282.3 383h1.5v1.5h-1.5zM284.8 385.3h1.5v1.5h-1.5zM282.2 389.4h1.5v1.5h-1.5zM282 387.9h1.5v1.5h-1.5zM281.4 394.6h1.5v1.5h-1.5zM284.2 386.3h1.5v1.5h-1.5zM282.4 394.8h1.5v1.5h-1.5zM285.8 385.6h1.5v1.5h-1.5zM284.4 390.1h1.5v1.5h-1.5zM284.8 385.2h1.5v1.5h-1.5zM283.1 387.5h1.5v1.5h-1.5zM284 384h1.5v1.5h-1.5zM283.5 384.4h1.5v1.5h-1.5zM284.9 387h1.5v1.5h-1.5zM282.3 387.7h1.5v1.5h-1.5zM285.7 386.5h1.5v1.5h-1.5zM285.2 385.2h1.5v1.5h-1.5zM285.5 385.8h1.5v1.5h-1.5zM285.9 385.1h1.5v1.5h-1.5zM282.3 386.2h1.5v1.5h-1.5zM283.2 385.9h1.5v1.5h-1.5zM283.6 385h1.5v1.5h-1.5zM282.8 384.7h1.5v1.5h-1.5zM284.4 385.2h1.5v1.5h-1.5zM282.9 386.9h1.5v1.5h-1.5zM284.3 387h1.5v1.5h-1.5zM285.4 384.7h1.5v1.5h-1.5zM283.3 382.7h1.5v1.5h-1.5zM284.6 383.1h1.5v1.5h-1.5zM283.5 386.4h1.5v1.5h-1.5zM283.7 385.8h1.5v1.5h-1.5zM283.8 383.4h1.5v1.5h-1.5zM285.6 385.1h1.5v1.5h-1.5zM286.7 387.4h1.5v1.5h-1.5zM284.4 388h1.5v1.5h-1.5zM283.6 384.4h1.5v1.5h-1.5zM284.1 385h1.5v1.5h-1.5zM284.5 385.3h1.5v1.5h-1.5zM284.3 384.3h1.5v1.5h-1.5zM283.1 384.4h1.5v1.5h-1.5zM284.7 386.6h1.5v1.5h-1.5zM282 385h1.5v1.5h-1.5zM282.3 384.8h1.5v1.5h-1.5zM286.6 386h1.5v1.5h-1.5zM283.7 383h1.5v1.5h-1.5zM284.9 385.9h1.5v1.5h-1.5zM285.3 383.8h1.5v1.5h-1.5zM283.7 386.3h1.5v1.5h-1.5zM285.5 385.7h1.5v1.5h-1.5z" fill="#06A73A"/><path d="M267.6 399.4h1.5v1.5h-1.5zM278.8 404.5h1.5v1.5h-1.5zM275.8 401.9h1.5v1.5h-1.5zM270.9 402.7h1.5v1.5h-1.5zM271.4 399.8h1.5v1.5h-1.5zM267.5 398.4h1.5v1.5h-1.5zM273.3 402.4h1.5v1.5h-1.5zM275.7 402.7h1.5v1.5h-1.5zM276.9 401.7h1.5v1.5h-1.5zM278.4 402.7h1.5v1.5h-1.5zM275 400.2h1.5v1.5h-1.5zM274.3 401.3h1.5v1.5h-1.5zM271.3 401.4h1.5v1.5h-1.5zM274.4 402.1h1.5v1.5h-1.5zM277.1 401h1.5v1.5h-1.5zM276 403.4h1.5v1.5h-1.5zM271.6 401.6h1.5v1.5h-1.5zM274.8 401.4h1.5v1.5h-1.5zM272.7 399.9h1.5v1.5h-1.5zM270 399.5h1.5v1.5h-1.5zM272.4 400.2h1.5v1.5h-1.5zM270.8 401.1h1.5v1.5h-1.5zM277.7 404.7h1.5v1.5h-1.5zM277.8 402.5h1.5v1.5h-1.5zM275.3 402.4h1.5v1.5h-1.5zM275.3 403.9h1.5v1.5h-1.5zM269.5 399.9h1.5v1.5h-1.5zM273.2 401.2h1.5v1.5h-1.5zM279.4 404.1h1.5v1.5h-1.5zM270.8 399.9h1.5v1.5h-1.5zM271.3 399.8h1.5v1.5h-1.5zM275.3 399.9h1.5v1.5h-1.5zM276.6 404.6h1.5v1.5h-1.5zM274.3 401.6h1.5v1.5h-1.5zM269.4 400h1.5v1.5h-1.5zM279.4 403.1h1.5v1.5h-1.5zM276.6 401.2h1.5v1.5h-1.5zM270.7 401h1.5v1.5h-1.5zM279.4 402.7h1.5v1.5h-1.5zM281.6 400.4h1.5v1.5h-1.5zM276.6 402.6h1.5v1.5h-1.5zM279.6 402.6h1.5v1.5h-1.5zM271.5 400.9h1.5v1.5h-1.5zM270.4 399.2h1.5v1.5h-1.5zM275.9 400.8h1.5v1.5h-1.5zM276.2 400.8h1.5v1.5h-1.5zM277.1 401.7h1.5v1.5h-1.5zM273.9 399.7h1.5v1.5h-1.5zM275.3 400h1.5v1.5h-1.5zM277.7 401.9h1.5v1.5h-1.5zM276.2 402.5h1.5v1.5h-1.5zM272.6 402.7h1.5v1.5h-1.5zM278.5 404.3h1.5v1.5h-1.5zM277.4 405.1h1.5v1.5h-1.5zM269.5 397.3h1.5v1.5h-1.5zM268.2 400h1.5v1.5h-1.5zM278.1 402h1.5v1.5h-1.5zM278.7 402.1h1.5v1.5h-1.5zM271.6 400.9h1.5v1.5h-1.5zM274.5 403.5h1.5v1.5h-1.5zM276.9 401.8h1.5v1.5h-1.5zM274.4 401.1h1.5v1.5h-1.5zM279.1 401.3h1.5v1.5h-1.5zM270.9 398.3h1.5v1.5h-1.5zM274.1 399.7h1.5v1.5h-1.5zM280 404h1.5v1.5h-1.5zM271.5 400.6h1.5v1.5h-1.5zM277.3 400.1h1.5v1.5h-1.5zM279 402.6h1.5v1.5h-1.5zM277.5 402.2h1.5v1.5h-1.5zM288.4 411.1h1.5v1.5h-1.5zM284 406.6h1.5v1.5h-1.5zM284.3 403.4h1.5v1.5h-1.5zM284.6 408.4h1.5v1.5h-1.5zM286.1 409h1.5v1.5h-1.5zM284.1 408.5h1.5v1.5h-1.5zM284.8 408.8h1.5v1.5h-1.5zM280.2 407.6h1.5v1.5h-1.5zM283.9 409.6h1.5v1.5h-1.5zM286.8 409.8h1.5v1.5h-1.5zM284.1 412.3h1.5v1.5h-1.5zM279.2 407h1.5v1.5h-1.5zM281.4 407.6h1.5v1.5h-1.5zM285.5 411h1.5v1.5h-1.5zM287.6 410h1.5v1.5h-1.5zM287.4 409.1h1.5v1.5h-1.5zM285.4 408h1.5v1.5h-1.5zM285.2 409.6h1.5v1.5h-1.5zM281.9 406.8h1.5v1.5h-1.5zM282.4 405.6h1.5v1.5h-1.5zM287.1 408.3h1.5v1.5h-1.5zM284.4 409.8h1.5v1.5h-1.5zM281.8 403.9h1.5v1.5h-1.5zM286.1 410h1.5v1.5h-1.5zM287.8 411.6h1.5v1.5h-1.5zM283.4 407.2h1.5v1.5h-1.5zM283.5 407.3h1.5v1.5h-1.5zM288.8 410.5h1.5v1.5h-1.5zM287.7 408.1h1.5v1.5h-1.5zM285.4 408.7h1.5v1.5h-1.5zM287.1 409.5h1.5v1.5h-1.5zM286.9 409h1.5v1.5h-1.5zM289.5 411.9h1.5v1.5h-1.5zM285.4 407.6h1.5v1.5h-1.5zM287.3 413h1.5v1.5h-1.5zM288.1 410.6h1.5v1.5h-1.5zM285.8 409.4h1.5v1.5h-1.5zM285.6 403.5h1.5v1.5h-1.5zM286.3 407.6h1.5v1.5h-1.5zM287.2 411h1.5v1.5h-1.5zM288.6 410.8h1.5v1.5h-1.5zM284 405.1h1.5v1.5h-1.5zM288.8 411.5h1.5v1.5h-1.5zM287.5 413.4h1.5v1.5h-1.5zM283.6 409.5h1.5v1.5h-1.5zM286.2 410.4h1.5v1.5h-1.5zM283.2 406h1.5v1.5h-1.5zM290.9 409.2h1.5v1.5h-1.5zM282.1 405.8h1.5v1.5h-1.5zM285.4 406.9h1.5v1.5h-1.5zM287.7 410.5h1.5v1.5h-1.5zM286.3 405.7h1.5v1.5h-1.5zM288.5 409.7h1.5v1.5h-1.5zM281.9 403h1.5v1.5h-1.5zM289.2 411.6h1.5v1.5h-1.5zM284.9 409.5h1.5v1.5h-1.5zM290.6 407.8h1.5v1.5h-1.5zM283.9 408.4h1.5v1.5h-1.5zM282.9 407.5h1.5v1.5h-1.5zM286 405.9h1.5v1.5h-1.5zM289.2 407.6h1.5v1.5h-1.5zM285 406.2h1.5v1.5h-1.5zM289.5 411.4h1.5v1.5h-1.5zM283.2 407h1.5v1.5h-1.5zM284.7 410.6h1.5v1.5h-1.5zM285.4 408.7h1.5v1.5h-1.5zM288.4 409.5h1.5v1.5h-1.5zM285.6 409.8h1.5v1.5h-1.5zM282.3 407.5h1.5v1.5h-1.5zM282.5 406.1h1.5v1.5h-1.5zM281.3 405.8h1.5v1.5h-1.5zM282.1 396.7h1.5v1.5h-1.5zM282.2 399.3h1.5v1.5h-1.5zM283.3 397.4h1.5v1.5h-1.5zM281.8 405.2h1.5v1.5h-1.5zM282.9 399.7h1.5v1.5h-1.5zM280.3 397.5h1.5v1.5h-1.5zM282.2 403.5h1.5v1.5h-1.5zM280.4 402.4h1.5v1.5h-1.5zM281.3 403.8h1.5v1.5h-1.5zM279.8 403.2h1.5v1.5h-1.5zM282.9 401.5h1.5v1.5h-1.5zM284.2 401.6h1.5v1.5h-1.5zM284.5 397h1.5v1.5h-1.5zM282 396.2h1.5v1.5h-1.5zM282.2 399.4h1.5v1.5h-1.5zM281.9 402.1h1.5v1.5h-1.5zM282.5 396.8h1.5v1.5h-1.5zM281.8 405.9h1.5v1.5h-1.5zM285.2 404h1.5v1.5h-1.5zM282.5 396.1h1.5v1.5h-1.5zM282.3 401.9h1.5v1.5h-1.5zM280.1 400.9h1.5v1.5h-1.5zM282.4 401.2h1.5v1.5h-1.5zM280.6 401.8h1.5v1.5h-1.5zM282.3 394.5h1.5v1.5h-1.5zM281.4 403.7h1.5v1.5h-1.5zM282.4 405.4h1.5v1.5h-1.5zM281.9 401.9h1.5v1.5h-1.5zM279.7 402h1.5v1.5h-1.5zM279.3 404.8h1.5v1.5h-1.5zM281.3 400h1.5v1.5h-1.5zM281.7 396.1h1.5v1.5h-1.5zM280.9 399.5h1.5v1.5h-1.5zM282.4 404.5h1.5v1.5h-1.5z" fill="#1492F0"/><path d="M299.7 417.7h1.5v1.5h-1.5zM296.2 416.8h1.5v1.5h-1.5zM292.8 412.2h1.5v1.5h-1.5zM287.5 412.3h1.5v1.5h-1.5zM297.8 417.3h1.5v1.5h-1.5zM295.8 414.5h1.5v1.5h-1.5zM293.6 417.5h1.5v1.5h-1.5zM287.3 411.5h1.5v1.5h-1.5zM291.5 414.4h1.5v1.5h-1.5zM293.5 414.6h1.5v1.5h-1.5zM303.3 424.4h1.5v1.5h-1.5zM294.9 417.6h1.5v1.5h-1.5zM308.4 422.1h1.5v1.5h-1.5zM290.4 414.2h1.5v1.5h-1.5zM288.2 413.3h1.5v1.5h-1.5zM291.5 411.6h1.5v1.5h-1.5zM288.8 410.9h1.5v1.5h-1.5zM296.4 417.6h1.5v1.5h-1.5zM304.4 418.7h1.5v1.5h-1.5zM289.9 409h1.5v1.5h-1.5zM288.9 408.5h1.5v1.5h-1.5zM299.8 415.3h1.5v1.5h-1.5zM287 410.7h1.5v1.5h-1.5zM303.6 422.3h1.5v1.5h-1.5zM289.4 409.7h1.5v1.5h-1.5zM296.3 413.3h1.5v1.5h-1.5zM303.9 420.7h1.5v1.5h-1.5zM308.9 422.9h1.5v1.5h-1.5zM310.3 422.8h1.5v1.5h-1.5zM291.8 412.8h1.5v1.5h-1.5zM307.1 420.5h1.5v1.5h-1.5zM287.6 412.7h1.5v1.5h-1.5zM306.6 421.1h1.5v1.5h-1.5zM301 419.7h1.5v1.5h-1.5zM298 417.2h1.5v1.5h-1.5zM301.6 419.2h1.5v1.5h-1.5zM287.6 410.2h1.5v1.5h-1.5zM298.2 421.6h1.5v1.5h-1.5zM304.3 419.4h1.5v1.5h-1.5zM299.7 418.9h1.5v1.5h-1.5z" fill="#06A73A"/><path d="M302.2 418.2h1.5v1.5h-1.5zM304.3 421h1.5v1.5h-1.5zM307 420.2h1.5v1.5h-1.5zM313.6 425.2h1.5v1.5h-1.5zM292.1 415h1.5v1.5h-1.5zM292.6 412.6h1.5v1.5h-1.5zM296.4 418.7h1.5v1.5h-1.5zM304.5 420.8h1.5v1.5h-1.5zM303.6 418.8h1.5v1.5h-1.5zM296.7 417.2h1.5v1.5h-1.5zM305.4 418.8h1.5v1.5h-1.5zM298.3 415.4h1.5v1.5h-1.5zM312.6 427h1.5v1.5h-1.5zM296.1 412.7h1.5v1.5h-1.5zM310 419.7h1.5v1.5h-1.5zM312.8 425.2h1.5v1.5h-1.5zM314.7 424.1h1.5v1.5h-1.5zM318.6 425.7h1.5v1.5h-1.5zM297.9 415h1.5v1.5h-1.5zM307.1 421.3h1.5v1.5h-1.5zM294.7 415.6h1.5v1.5h-1.5zM295.9 414.4h1.5v1.5h-1.5zM319.1 427.1h1.5v1.5h-1.5zM301 419.1h1.5v1.5h-1.5zM309 422.6h1.5v1.5h-1.5zM299.2 414h1.5v1.5h-1.5zM294.7 414.1h1.5v1.5h-1.5zM306.5 424.6h1.5v1.5h-1.5zM301.6 416h1.5v1.5h-1.5zM307.3 425.3h1.5v1.5h-1.5zM300.7 416.3h1.5v1.5h-1.5zM309.4 423.2h1.5v1.5h-1.5zM315.4 424.1h1.5v1.5h-1.5zM316.3 424.6h1.5v1.5h-1.5zM314.2 423.9h1.5v1.5h-1.5zM314.1 422.9h1.5v1.5h-1.5zM306.9 423.3h1.5v1.5h-1.5zM297.1 416h1.5v1.5h-1.5zM294.3 418.2h1.5v1.5h-1.5zM318.7 425.2h1.5v1.5h-1.5zM307.4 424h1.5v1.5h-1.5zM307.6 422.5h1.5v1.5h-1.5zM304.5 421.4h1.5v1.5h-1.5zM309.3 422.2h1.5v1.5h-1.5zM317.3 422.3h1.5v1.5h-1.5zM317.2 423.6h1.5v1.5h-1.5zM294.7 412.9h1.5v1.5h-1.5zM290.5 416.5h1.5v1.5h-1.5zM300 418.1h1.5v1.5h-1.5zM292.4 412.7h1.5v1.5h-1.5zM296.6 416.8h1.5v1.5h-1.5zM308.6 424.4h1.5v1.5h-1.5zM293.1 415.9h1.5v1.5h-1.5zM298.7 420.5h1.5v1.5h-1.5zM293.8 418.2h1.5v1.5h-1.5zM307.6 421.6h1.5v1.5h-1.5zM300 419.1h1.5v1.5h-1.5zM317.9 424.1h1.5v1.5h-1.5zM306.3 423.9h1.5v1.5h-1.5zM316.2 425.3h1.5v1.5h-1.5zM326.5 421.8h1.5v1.5h-1.5zM330.7 418.7h1.5v1.5h-1.5zM326.8 421.5h1.5v1.5h-1.5zM327.4 417.9h1.5v1.5h-1.5zM321.1 423.8h1.5v1.5h-1.5zM323.5 424.3h1.5v1.5h-1.5zM329.1 417.1h1.5v1.5h-1.5zM324.6 423.4h1.5v1.5h-1.5zM325.2 425.7h1.5v1.5h-1.5zM328.4 423.1h1.5v1.5h-1.5zM324.4 422.1h1.5v1.5h-1.5zM324.8 421.5h1.5v1.5h-1.5zM322.3 426.9h1.5v1.5h-1.5zM331.3 418.9h1.5v1.5h-1.5zM318 441.9h1.5v1.5h-1.5zM318.1 442.5h1.5v1.5h-1.5zM317.6 440.5h1.5v1.5h-1.5zM318.8 439.9h1.5v1.5h-1.5zM320.1 440.5h1.5v1.5h-1.5zM318.8 443h1.5v1.5h-1.5zM318.4 441.7h1.5v1.5h-1.5zM320.9 440h1.5v1.5h-1.5zM320.5 441.4h1.5v1.5h-1.5zM319.1 441.1h1.5v1.5h-1.5zM319.8 442.1h1.5v1.5h-1.5zM317.6 439.6h1.5v1.5h-1.5zM321.6 440.3h1.5v1.5h-1.5zM320.9 440.5h1.5v1.5h-1.5zM321.6 439.5h1.5v1.5h-1.5zM320.2 441.3h1.5v1.5h-1.5zM319 442h1.5v1.5h-1.5zM319.4 439.1h1.5v1.5h-1.5zM317.3 440.6h1.5v1.5h-1.5zM316.4 440.6h1.5v1.5h-1.5zM318.3 440.3h1.5v1.5h-1.5zM319.5 442.6h1.5v1.5h-1.5zM318.6 440.9h1.5v1.5h-1.5zM319 440h1.5v1.5h-1.5zM321.6 441.4h1.5v1.5h-1.5zM319.2 439.7h1.5v1.5h-1.5zM318.8 440.2h1.5v1.5h-1.5zM319.5 441.4h1.5v1.5h-1.5z" fill="#9545D8"/><path d="M319.4 442.6h1.5v1.5h-1.5zM317.6 441.3h1.5v1.5h-1.5zM318.8 441h1.5v1.5h-1.5zM318.4 439.4h1.5v1.5h-1.5zM319.6 440.7h1.5v1.5h-1.5zM319.4 440.8h1.5v1.5h-1.5zM319.2 442h1.5v1.5h-1.5zM318.9 440.7h1.5v1.5h-1.5zM318.9 440.8h1.5v1.5h-1.5zM320.1 441.5h1.5v1.5h-1.5zM320.2 441.7h1.5v1.5h-1.5zM319.7 443h1.5v1.5h-1.5zM320 441.3h1.5v1.5h-1.5zM321 440.2h1.5v1.5h-1.5zM317.6 441.5h1.5v1.5h-1.5zM319.2 439.3h1.5v1.5h-1.5z" fill="#FDB900"/><path d="M337.6 414.2h1.5v1.5h-1.5z" fill="#FDB900"/><path d="M272.6 400.5h1.5v1.5h-1.5zM269.6 404h1.5v1.5h-1.5zM269.6 400.5h1.5v1.5h-1.5zM270.6 405.4h1.5v1.5h-1.5zM270.6 401.2h1.5v1.5h-1.5zM271.5 399.5h1.5v1.5h-1.5zM269.7 400.1h1.5v1.5h-1.5zM271.4 400.4h1.5v1.5h-1.5zM269.2 402.5h1.5v1.5h-1.5zM270.8 401.2h1.5v1.5h-1.5zM268.6 400.4h1.5v1.5h-1.5zM270.4 398.9h1.5v1.5h-1.5zM270.2 402.2h1.5v1.5h-1.5zM269.3 400.7h1.5v1.5h-1.5zM266.5 403.7h1.5v1.5h-1.5zM270.5 401.1h1.5v1.5h-1.5zM266.9 402.5h1.5v1.5h-1.5zM271 401.3h1.5v1.5h-1.5zM267.7 399.7h1.5v1.5h-1.5zM270.1 402.8h1.5v1.5h-1.5zM272.3 402.3h1.5v1.5h-1.5zM272.4 401.1h1.5v1.5h-1.5zM271.3 401.3h1.5v1.5h-1.5zM269.8 400h1.5v1.5h-1.5zM266.7 399.7h1.5v1.5h-1.5zM267.8 401.7h1.5v1.5h-1.5zM274.6 401.1h1.5v1.5h-1.5zM269.7 399.1h1.5v1.5h-1.5zM272.4 400.1h1.5v1.5h-1.5zM272.6 398.9h1.5v1.5h-1.5zM266.8 399.3h1.5v1.5h-1.5zM271.4 402.5h1.5v1.5h-1.5zM270.4 398.7h1.5v1.5h-1.5zM270.2 400.4h1.5v1.5h-1.5zM274.2 401h1.5v1.5h-1.5z" fill="#1492F0"/><path d="M285.3 384.1C285 385.1 284 388.1 283.6 390C283.3 391.9 283.4 393.7 283.2 395.6C283.1 397.4 282.9 399.4 282.8 401.1C282.8 402.9 282.8 405.1 282.8 405.9M282.8 405.9C284.2 407.2 284.2 407.6 287.3 410.2C290.3 412.7 289.1 411.7 293 414.4C296.8 417.2 295.6 416.6 300.2 419.2C304.9 421.9 304 421.3 308.3 423.2C312.7 425.1 311.4 424.6 314.8 425.6C318.2 426.7 316.5 427 319.7 426.7C322.8 426.4 321.9 426.5 325.4 424.6C328.8 422.6 327.9 424 331 420.3C334.2 416.6 333 417.9 335.9 412.3C338.8 406.7 337.8 408.1 340.7 401.7C343.7 395.3 342.8 397.3 345.6 391C348.4 384.8 348.7 384 350.1 380.9M319.7 426.7C319.7 429.3 319.7 439.5 319.7 442.1M282.8 405.9C281.8 405.4 278.8 403.7 276.8 402.7C274.7 401.8 271.4 400.5 270.3 400.1" fill="none" stroke="#222" stroke-width="0.7"/><circle cx="283.2" cy="395.6" r="1.7" fill="#111"/><circle cx="282.8" cy="405.9" r="1.7" fill="#111"/><circle cx="319.7" cy="426.7" r="1.7" fill="#111"/>
<path d="M378.4 391.3h1.5v1.5h-1.5zM379 387.2h1.5v1.5h-1.5zM380.4 388h1.5v1.5h-1.5zM378.9 397.4h1.5v1.5h-1.5zM380.1 397.1h1.5v1.5h-1.5zM380.7 395.9h1.5v1.5h-1.5zM376.3 392.9h1.5v1.5h-1.5zM380.9 396.7h1.5v1.5h-1.5zM379.2 389.3h1.5v1.5h-1.5zM381.7 386h1.5v1.5h-1.5zM379 388.8h1.5v1.5h-1.5zM380.2 387.2h1.5v1.5h-1.5zM377.7 392.7h1.5v1.5h-1.5zM378.6 400.6h1.5v1.5h-1.5zM376.9 393.4h1.5v1.5h-1.5zM378.9 387.7h1.5v1.5h-1.5zM377.3 393.5h1.5v1.5h-1.5zM378.9 398.8h1.5v1.5h-1.5zM378.5 387.6h1.5v1.5h-1.5zM377.6 389.5h1.5v1.5h-1.5zM379.1 391.3h1.5v1.5h-1.5zM376.8 399.8h1.5v1.5h-1.5zM377.2 397h1.5v1.5h-1.5zM377.4 389.9h1.5v1.5h-1.5zM377.8 396.4h1.5v1.5h-1.5zM376.9 388.6h1.5v1.5h-1.5zM380.2 387.1h1.5v1.5h-1.5zM377.8 388.7h1.5v1.5h-1.5zM379.5 399.9h1.5v1.5h-1.5zM379.4 398h1.5v1.5h-1.5zM377.6 396.6h1.5v1.5h-1.5zM377.4 399.6h1.5v1.5h-1.5zM378.9 386.1h1.5v1.5h-1.5zM379.5 401.6h1.5v1.5h-1.5zM379.1 389.2h1.5v1.5h-1.5zM380.7 385.5h1.5v1.5h-1.5zM379.5 386.3h1.5v1.5h-1.5zM378.2 390.6h1.5v1.5h-1.5zM381.8 396.3h1.5v1.5h-1.5zM380.9 391.3h1.5v1.5h-1.5zM377.1 393.6h1.5v1.5h-1.5zM377.1 392.5h1.5v1.5h-1.5zM379 398.8h1.5v1.5h-1.5zM379.3 401.4h1.5v1.5h-1.5zM376.7 395.3h1.5v1.5h-1.5zM378.3 399.1h1.5v1.5h-1.5zM378.7 386.2h1.5v1.5h-1.5zM377.9 389.1h1.5v1.5h-1.5zM379.5 395.6h1.5v1.5h-1.5zM379.7 392.2h1.5v1.5h-1.5zM378.1 396.7h1.5v1.5h-1.5zM380.5 397.6h1.5v1.5h-1.5zM380.6 390.4h1.5v1.5h-1.5zM378.2 394.7h1.5v1.5h-1.5zM380.3 385.6h1.5v1.5h-1.5zM375.3 399.3h1.5v1.5h-1.5zM379 392.1h1.5v1.5h-1.5zM379.1 390.2h1.5v1.5h-1.5zM381.5 388.4h1.5v1.5h-1.5zM376.9 394.4h1.5v1.5h-1.5zM379.1 397.1h1.5v1.5h-1.5zM377.9 390.7h1.5v1.5h-1.5zM381.1 388.9h1.5v1.5h-1.5zM380.6 385.1h1.5v1.5h-1.5zM379.2 397.3h1.5v1.5h-1.5zM378 395.8h1.5v1.5h-1.5zM379.1 392.4h1.5v1.5h-1.5zM375.7 400.8h1.5v1.5h-1.5zM377.8 389.4h1.5v1.5h-1.5zM382.6 395.3h1.5v1.5h-1.5zM379.4 386.1h1.5v1.5h-1.5zM378.3 387.7h1.5v1.5h-1.5zM379.8 386.8h1.5v1.5h-1.5zM377.2 388.5h1.5v1.5h-1.5zM381.3 388.6h1.5v1.5h-1.5zM377.8 396.3h1.5v1.5h-1.5zM378.3 386.2h1.5v1.5h-1.5zM378.7 397.8h1.5v1.5h-1.5zM378.6 400.5h1.5v1.5h-1.5zM378.9 398.5h1.5v1.5h-1.5zM381 398h1.5v1.5h-1.5zM378.7 391.3h1.5v1.5h-1.5zM379.1 391.9h1.5v1.5h-1.5zM378.5 400.4h1.5v1.5h-1.5zM377.7 398.7h1.5v1.5h-1.5zM377.5 393.4h1.5v1.5h-1.5zM379.9 392.3h1.5v1.5h-1.5zM377.2 400.3h1.5v1.5h-1.5zM377.5 392.6h1.5v1.5h-1.5zM378.3 401.6h1.5v1.5h-1.5z" fill="#06A73A"/><path d="M381.9 382.8h1.5v1.5h-1.5zM383.2 386.2h1.5v1.5h-1.5zM383.3 384.4h1.5v1.5h-1.5zM382.1 384.7h1.5v1.5h-1.5zM382.9 384h1.5v1.5h-1.5zM380.9 389.1h1.5v1.5h-1.5zM383.7 385.3h1.5v1.5h-1.5zM383.6 386h1.5v1.5h-1.5zM382.3 382.9h1.5v1.5h-1.5zM380 383.1h1.5v1.5h-1.5zM382.1 384.7h1.5v1.5h-1.5zM383.6 383.7h1.5v1.5h-1.5zM381 385.8h1.5v1.5h-1.5zM383.2 387.1h1.5v1.5h-1.5zM382 386.2h1.5v1.5h-1.5zM381.1 387h1.5v1.5h-1.5zM382.5 384.8h1.5v1.5h-1.5zM380.5 384.3h1.5v1.5h-1.5zM382.3 383.8h1.5v1.5h-1.5zM382.2 383h1.5v1.5h-1.5zM382.6 385.2h1.5v1.5h-1.5zM381.2 384.6h1.5v1.5h-1.5zM381.8 384.9h1.5v1.5h-1.5zM382.3 387.3h1.5v1.5h-1.5zM381.9 385.2h1.5v1.5h-1.5zM383 384.3h1.5v1.5h-1.5zM383.1 384.6h1.5v1.5h-1.5zM380 387.2h1.5v1.5h-1.5zM382.9 384.6h1.5v1.5h-1.5zM380.4 384h1.5v1.5h-1.5zM379.6 384.6h1.5v1.5h-1.5zM377 393.6h1.5v1.5h-1.5zM380.4 383.3h1.5v1.5h-1.5zM380.2 385.1h1.5v1.5h-1.5zM379 385.6h1.5v1.5h-1.5zM379.4 385.9h1.5v1.5h-1.5zM379.9 388.1h1.5v1.5h-1.5zM380 388.6h1.5v1.5h-1.5zM379.4 392.8h1.5v1.5h-1.5zM379 391.1h1.5v1.5h-1.5z" fill="#A50005"/><path d="M369.3 399.9h1.5v1.5h-1.5zM365 401h1.5v1.5h-1.5zM366.7 399.9h1.5v1.5h-1.5zM368.9 400.9h1.5v1.5h-1.5zM367.4 401.1h1.5v1.5h-1.5zM372.9 400.9h1.5v1.5h-1.5zM368.9 401.2h1.5v1.5h-1.5zM367.3 399.7h1.5v1.5h-1.5zM379.5 406.6h1.5v1.5h-1.5zM380.2 408h1.5v1.5h-1.5zM382.3 410.9h1.5v1.5h-1.5zM375.7 407.3h1.5v1.5h-1.5zM379.3 405.8h1.5v1.5h-1.5zM381.7 405.2h1.5v1.5h-1.5zM381 407.8h1.5v1.5h-1.5zM377.9 405.7h1.5v1.5h-1.5z" fill="#1492F0"/><path d="M392.1 415.6h1.5v1.5h-1.5zM392.2 417.3h1.5v1.5h-1.5zM414.3 425.8h1.5v1.5h-1.5zM403.2 423.3h1.5v1.5h-1.5zM388.7 411h1.5v1.5h-1.5zM383.1 412.3h1.5v1.5h-1.5zM381.4 411.4h1.5v1.5h-1.5zM393.2 417h1.5v1.5h-1.5zM388.5 415.7h1.5v1.5h-1.5zM406 423.6h1.5v1.5h-1.5zM381.4 408.2h1.5v1.5h-1.5zM384.1 411.6h1.5v1.5h-1.5zM411.4 424.4h1.5v1.5h-1.5zM379.5 409h1.5v1.5h-1.5zM414.3 429.8h1.5v1.5h-1.5zM402.9 421.9h1.5v1.5h-1.5zM399.7 420.3h1.5v1.5h-1.5zM389.2 413.1h1.5v1.5h-1.5zM402.4 425h1.5v1.5h-1.5zM379 408.1h1.5v1.5h-1.5zM397.3 418.6h1.5v1.5h-1.5zM391.4 417.4h1.5v1.5h-1.5zM407.1 424.4h1.5v1.5h-1.5zM387.7 411.3h1.5v1.5h-1.5zM409.7 425.2h1.5v1.5h-1.5zM393.3 415.1h1.5v1.5h-1.5zM410.2 423.3h1.5v1.5h-1.5zM392.1 414.6h1.5v1.5h-1.5zM385.1 410.6h1.5v1.5h-1.5zM402.7 424.3h1.5v1.5h-1.5zM395.7 417.6h1.5v1.5h-1.5zM399.1 421.6h1.5v1.5h-1.5zM403.6 424.3h1.5v1.5h-1.5zM407.8 424.2h1.5v1.5h-1.5zM382.9 409.2h1.5v1.5h-1.5zM404.6 421.6h1.5v1.5h-1.5zM383.7 410.9h1.5v1.5h-1.5zM405.4 423h1.5v1.5h-1.5zM387.7 416.6h1.5v1.5h-1.5zM398.8 419.2h1.5v1.5h-1.5zM409.6 425h1.5v1.5h-1.5zM383.4 409.5h1.5v1.5h-1.5zM390.6 415.5h1.5v1.5h-1.5zM381.3 407.2h1.5v1.5h-1.5zM384.5 411.8h1.5v1.5h-1.5zM403.9 420.9h1.5v1.5h-1.5zM392.3 417.1h1.5v1.5h-1.5zM402.3 423h1.5v1.5h-1.5zM384.7 410.5h1.5v1.5h-1.5zM392 417h1.5v1.5h-1.5zM413.7 426.1h1.5v1.5h-1.5zM381.3 408.4h1.5v1.5h-1.5zM396.6 420h1.5v1.5h-1.5zM401.2 420.5h1.5v1.5h-1.5zM409.4 425.3h1.5v1.5h-1.5zM391.9 415.7h1.5v1.5h-1.5zM402.3 423.1h1.5v1.5h-1.5zM414.9 424.9h1.5v1.5h-1.5zM400.1 420.4h1.5v1.5h-1.5zM383.2 407.7h1.5v1.5h-1.5zM393.5 414.1h1.5v1.5h-1.5zM403.4 422.2h1.5v1.5h-1.5zM400.1 423.6h1.5v1.5h-1.5zM405 421.9h1.5v1.5h-1.5zM385.7 412.9h1.5v1.5h-1.5zM413.2 422.5h1.5v1.5h-1.5zM408.7 422.1h1.5v1.5h-1.5zM406.6 425.6h1.5v1.5h-1.5zM383.5 410.5h1.5v1.5h-1.5zM387.4 414.6h1.5v1.5h-1.5z" fill="#9545D8"/><path d="M384.5 407.6h1.5v1.5h-1.5zM383.8 408.1h1.5v1.5h-1.5zM391.6 414.2h1.5v1.5h-1.5zM386.4 412.6h1.5v1.5h-1.5zM384.1 408.9h1.5v1.5h-1.5zM387.7 413.9h1.5v1.5h-1.5zM384.3 411.8h1.5v1.5h-1.5zM388.8 414.1h1.5v1.5h-1.5z" fill="#06A73A"/><path d="M432 412.9h1.5v1.5h-1.5zM438 403.1h1.5v1.5h-1.5zM433.5 409.1h1.5v1.5h-1.5zM430.3 417.2h1.5v1.5h-1.5zM428.5 423.1h1.5v1.5h-1.5zM449.3 378.1h1.5v1.5h-1.5zM440.2 397.7h1.5v1.5h-1.5zM442.3 385.3h1.5v1.5h-1.5zM440 400.5h1.5v1.5h-1.5zM443.6 385.3h1.5v1.5h-1.5zM439.4 397.6h1.5v1.5h-1.5zM432 418.5h1.5v1.5h-1.5zM437.7 405.6h1.5v1.5h-1.5zM427.9 419.8h1.5v1.5h-1.5zM434.1 409.1h1.5v1.5h-1.5zM436.2 412.3h1.5v1.5h-1.5zM449.4 372.6h1.5v1.5h-1.5zM435.7 402.6h1.5v1.5h-1.5zM442.7 395.5h1.5v1.5h-1.5zM422.9 424.8h1.5v1.5h-1.5zM426.7 419.8h1.5v1.5h-1.5zM427.8 418.3h1.5v1.5h-1.5zM435.4 408.7h1.5v1.5h-1.5zM440 398h1.5v1.5h-1.5zM449.2 374.7h1.5v1.5h-1.5zM448.5 384.5h1.5v1.5h-1.5zM447.2 378.1h1.5v1.5h-1.5zM437 399.5h1.5v1.5h-1.5zM434.2 411.1h1.5v1.5h-1.5zM430.5 416.6h1.5v1.5h-1.5zM423.2 425h1.5v1.5h-1.5zM425.5 421.2h1.5v1.5h-1.5zM433.2 413.8h1.5v1.5h-1.5zM446 383.9h1.5v1.5h-1.5zM437.4 405.4h1.5v1.5h-1.5zM438.4 404.1h1.5v1.5h-1.5zM435.3 404.5h1.5v1.5h-1.5zM445.8 380.9h1.5v1.5h-1.5zM436.7 410.6h1.5v1.5h-1.5zM424.9 423.3h1.5v1.5h-1.5zM443.6 387.7h1.5v1.5h-1.5zM431.2 410h1.5v1.5h-1.5zM447.9 379.3h1.5v1.5h-1.5zM446.3 383.1h1.5v1.5h-1.5zM439.1 402.1h1.5v1.5h-1.5zM430.4 416.8h1.5v1.5h-1.5zM437.7 402.6h1.5v1.5h-1.5zM439.7 399.2h1.5v1.5h-1.5zM427.3 418.5h1.5v1.5h-1.5zM442.3 393.8h1.5v1.5h-1.5zM436.4 402.9h1.5v1.5h-1.5zM444.3 386.4h1.5v1.5h-1.5zM445.3 384.6h1.5v1.5h-1.5zM438.2 400.1h1.5v1.5h-1.5zM436.9 409.6h1.5v1.5h-1.5zM445.2 385h1.5v1.5h-1.5zM447 384h1.5v1.5h-1.5zM439.5 397.6h1.5v1.5h-1.5zM433.5 413.2h1.5v1.5h-1.5zM440.3 397.6h1.5v1.5h-1.5zM437.4 405.8h1.5v1.5h-1.5zM447.9 375h1.5v1.5h-1.5zM425.9 418.6h1.5v1.5h-1.5zM448.6 382.8h1.5v1.5h-1.5zM422.1 423.9h1.5v1.5h-1.5zM435 414.1h1.5v1.5h-1.5zM446.5 384.6h1.5v1.5h-1.5zM445.6 380.4h1.5v1.5h-1.5zM422.8 425.1h1.5v1.5h-1.5zM439.7 397.9h1.5v1.5h-1.5zM437.3 404h1.5v1.5h-1.5zM424.8 423h1.5v1.5h-1.5zM435.4 405.5h1.5v1.5h-1.5zM447.8 378.5h1.5v1.5h-1.5zM445.2 380.8h1.5v1.5h-1.5zM431.3 416h1.5v1.5h-1.5zM448 389.8h1.5v1.5h-1.5zM442.2 395.3h1.5v1.5h-1.5zM447.5 375.9h1.5v1.5h-1.5zM437.8 402h1.5v1.5h-1.5zM433 409.7h1.5v1.5h-1.5zM438.1 396.2h1.5v1.5h-1.5zM424.8 424h1.5v1.5h-1.5zM444.8 385.7h1.5v1.5h-1.5zM440.8 395.5h1.5v1.5h-1.5zM445.9 382.6h1.5v1.5h-1.5zM434.7 408.3h1.5v1.5h-1.5zM430.8 415.5h1.5v1.5h-1.5zM434.8 411.1h1.5v1.5h-1.5zM446.9 385.8h1.5v1.5h-1.5zM431.3 415.5h1.5v1.5h-1.5zM442.1 395.2h1.5v1.5h-1.5zM434.8 413.1h1.5v1.5h-1.5zM442.6 391.4h1.5v1.5h-1.5zM426 425.4h1.5v1.5h-1.5zM434.7 408.4h1.5v1.5h-1.5zM447.7 377.7h1.5v1.5h-1.5zM432.6 413.8h1.5v1.5h-1.5zM440.3 395.6h1.5v1.5h-1.5zM440.7 396.1h1.5v1.5h-1.5zM433.5 412.5h1.5v1.5h-1.5zM440.9 392.9h1.5v1.5h-1.5zM433.5 412.3h1.5v1.5h-1.5zM443.3 397h1.5v1.5h-1.5zM432.9 409.9h1.5v1.5h-1.5zM444 389.6h1.5v1.5h-1.5zM440.5 392.8h1.5v1.5h-1.5zM427.9 421h1.5v1.5h-1.5zM443.1 396.7h1.5v1.5h-1.5zM444.8 382.3h1.5v1.5h-1.5zM439.8 399.8h1.5v1.5h-1.5zM446 391h1.5v1.5h-1.5zM432.2 413.9h1.5v1.5h-1.5zM437.6 408.2h1.5v1.5h-1.5zM427.2 416.1h1.5v1.5h-1.5zM436 406.8h1.5v1.5h-1.5zM439.1 400.6h1.5v1.5h-1.5zM430.8 418.4h1.5v1.5h-1.5zM434.5 413.3h1.5v1.5h-1.5zM446.6 377.5h1.5v1.5h-1.5zM445.2 383.2h1.5v1.5h-1.5zM449.1 382h1.5v1.5h-1.5zM446.8 373.8h1.5v1.5h-1.5zM427 422.2h1.5v1.5h-1.5zM446.2 386.9h1.5v1.5h-1.5zM430.6 417.5h1.5v1.5h-1.5zM441.7 395.9h1.5v1.5h-1.5zM443.6 386.5h1.5v1.5h-1.5zM437.3 401.9h1.5v1.5h-1.5zM448 372.7h1.5v1.5h-1.5zM433 410.7h1.5v1.5h-1.5zM437.3 401.6h1.5v1.5h-1.5zM445.9 388.7h1.5v1.5h-1.5zM422.3 424.5h1.5v1.5h-1.5zM447.6 380.9h1.5v1.5h-1.5zM427.6 420.1h1.5v1.5h-1.5zM439.9 402.5h1.5v1.5h-1.5zM439.2 401.6h1.5v1.5h-1.5zM428.6 418.8h1.5v1.5h-1.5zM438 400.5h1.5v1.5h-1.5zM429.3 421.3h1.5v1.5h-1.5zM421.4 424.5h1.5v1.5h-1.5zM431.3 415.5h1.5v1.5h-1.5zM446.7 387.3h1.5v1.5h-1.5zM445.4 385.9h1.5v1.5h-1.5zM433.1 412.2h1.5v1.5h-1.5zM442.9 390h1.5v1.5h-1.5zM445.3 383.5h1.5v1.5h-1.5zM435.7 410.5h1.5v1.5h-1.5zM448.4 381.7h1.5v1.5h-1.5zM438.7 398.7h1.5v1.5h-1.5zM429.6 420.5h1.5v1.5h-1.5zM435.1 408.8h1.5v1.5h-1.5zM441.1 403.2h1.5v1.5h-1.5zM426.1 420.4h1.5v1.5h-1.5zM442.4 395.3h1.5v1.5h-1.5zM425.9 422.7h1.5v1.5h-1.5zM450.1 381h1.5v1.5h-1.5zM437.1 403.2h1.5v1.5h-1.5zM430.8 421.5h1.5v1.5h-1.5zM443.8 382.9h1.5v1.5h-1.5zM426.4 422h1.5v1.5h-1.5zM437.2 407.5h1.5v1.5h-1.5zM435.9 410.8h1.5v1.5h-1.5zM438.2 406.5h1.5v1.5h-1.5zM428.5 421.5h1.5v1.5h-1.5zM432.6 413.7h1.5v1.5h-1.5zM439.9 400.8h1.5v1.5h-1.5zM424.2 427h1.5v1.5h-1.5zM430.8 416.9h1.5v1.5h-1.5zM439.5 396.7h1.5v1.5h-1.5zM426.3 422.9h1.5v1.5h-1.5zM448.9 380.9h1.5v1.5h-1.5zM437.7 400.9h1.5v1.5h-1.5zM441.8 393.2h1.5v1.5h-1.5zM425.3 421.9h1.5v1.5h-1.5zM440.4 402.4h1.5v1.5h-1.5zM432.3 411.2h1.5v1.5h-1.5zM448.4 380h1.5v1.5h-1.5zM426.4 425h1.5v1.5h-1.5zM431.2 413.5h1.5v1.5h-1.5zM443.9 383.2h1.5v1.5h-1.5zM442.9 391.1h1.5v1.5h-1.5zM436.5 404.2h1.5v1.5h-1.5zM435 409.4h1.5v1.5h-1.5zM430.9 412.6h1.5v1.5h-1.5zM427.8 419.1h1.5v1.5h-1.5zM446.1 384.1h1.5v1.5h-1.5zM437.8 401.7h1.5v1.5h-1.5zM436.6 410h1.5v1.5h-1.5zM439.7 399.7h1.5v1.5h-1.5zM435.7 406.1h1.5v1.5h-1.5zM446.1 372.7h1.5v1.5h-1.5zM442.9 395.8h1.5v1.5h-1.5zM437.2 401.6h1.5v1.5h-1.5zM427.7 420.9h1.5v1.5h-1.5zM433 407.7h1.5v1.5h-1.5zM446.9 377.5h1.5v1.5h-1.5zM431.1 417h1.5v1.5h-1.5zM425.4 424.7h1.5v1.5h-1.5zM430 414.4h1.5v1.5h-1.5zM441.5 391.6h1.5v1.5h-1.5zM443.9 383.4h1.5v1.5h-1.5zM433 419h1.5v1.5h-1.5zM425 419.8h1.5v1.5h-1.5zM435.1 411.6h1.5v1.5h-1.5zM428.7 422.2h1.5v1.5h-1.5zM448.2 379.6h1.5v1.5h-1.5zM447.2 379.1h1.5v1.5h-1.5zM443.3 391h1.5v1.5h-1.5zM425.1 421.7h1.5v1.5h-1.5zM449.8 374.5h1.5v1.5h-1.5zM432.6 411.5h1.5v1.5h-1.5zM440.7 398.7h1.5v1.5h-1.5zM445.7 389.1h1.5v1.5h-1.5zM443.1 391.6h1.5v1.5h-1.5zM445.4 388h1.5v1.5h-1.5zM442.2 401.7h1.5v1.5h-1.5zM447.1 385.1h1.5v1.5h-1.5zM427.5 424.3h1.5v1.5h-1.5zM447.9 379.5h1.5v1.5h-1.5zM433.1 411.9h1.5v1.5h-1.5zM436.5 401.9h1.5v1.5h-1.5zM449.1 377.3h1.5v1.5h-1.5zM448.2 381.6h1.5v1.5h-1.5zM432.9 416h1.5v1.5h-1.5zM427.8 421.6h1.5v1.5h-1.5zM427 423.4h1.5v1.5h-1.5zM425 420.7h1.5v1.5h-1.5zM442.1 396h1.5v1.5h-1.5zM438.7 399h1.5v1.5h-1.5zM428.8 423.7h1.5v1.5h-1.5zM444.1 391.3h1.5v1.5h-1.5zM443.8 393.8h1.5v1.5h-1.5zM432.8 416.1h1.5v1.5h-1.5zM431.6 411.9h1.5v1.5h-1.5zM446.8 382.4h1.5v1.5h-1.5zM436.2 413h1.5v1.5h-1.5zM442.1 396.4h1.5v1.5h-1.5zM439.7 393.9h1.5v1.5h-1.5zM427.6 419.9h1.5v1.5h-1.5zM444.4 392.1h1.5v1.5h-1.5zM446.7 383.5h1.5v1.5h-1.5zM448.9 378.3h1.5v1.5h-1.5zM448.3 376.3h1.5v1.5h-1.5zM432.7 406h1.5v1.5h-1.5zM433.5 414.1h1.5v1.5h-1.5zM430 420.6h1.5v1.5h-1.5zM435.3 409.1h1.5v1.5h-1.5zM423.7 427.3h1.5v1.5h-1.5zM426.5 420.3h1.5v1.5h-1.5zM438.9 404.3h1.5v1.5h-1.5zM448.7 374.3h1.5v1.5h-1.5zM423.3 426.7h1.5v1.5h-1.5zM421.7 424.6h1.5v1.5h-1.5zM436.4 408.6h1.5v1.5h-1.5zM438.4 404.7h1.5v1.5h-1.5zM436.3 411.3h1.5v1.5h-1.5zM446.2 385.9h1.5v1.5h-1.5zM437.7 403.1h1.5v1.5h-1.5zM436.2 408h1.5v1.5h-1.5zM437.2 401.5h1.5v1.5h-1.5zM448 378.9h1.5v1.5h-1.5zM435.2 406.7h1.5v1.5h-1.5zM427.3 420.1h1.5v1.5h-1.5zM434.7 412.8h1.5v1.5h-1.5zM428.5 419.7h1.5v1.5h-1.5zM447.1 385.8h1.5v1.5h-1.5zM444.6 393h1.5v1.5h-1.5zM439.9 393.9h1.5v1.5h-1.5zM444.2 393.1h1.5v1.5h-1.5zM451.1 372.8h1.5v1.5h-1.5zM443 389h1.5v1.5h-1.5zM451.7 378.1h1.5v1.5h-1.5zM448.1 382.1h1.5v1.5h-1.5zM437.2 409.3h1.5v1.5h-1.5zM424.1 422.8h1.5v1.5h-1.5zM433.5 409.1h1.5v1.5h-1.5zM439.2 401.3h1.5v1.5h-1.5zM439.6 397.9h1.5v1.5h-1.5zM433.4 409.9h1.5v1.5h-1.5zM432.2 414.1h1.5v1.5h-1.5zM433.5 415.7h1.5v1.5h-1.5zM422.5 423.7h1.5v1.5h-1.5zM429 418.6h1.5v1.5h-1.5zM424.4 422.6h1.5v1.5h-1.5zM445.1 383h1.5v1.5h-1.5zM448.8 377.7h1.5v1.5h-1.5zM438.3 398.3h1.5v1.5h-1.5zM444.7 385.3h1.5v1.5h-1.5zM424.2 424.4h1.5v1.5h-1.5zM444.6 385.3h1.5v1.5h-1.5zM446.5 384.8h1.5v1.5h-1.5zM446.8 395.3h1.5v1.5h-1.5zM448.3 375.9h1.5v1.5h-1.5zM443 396.3h1.5v1.5h-1.5zM447.5 375.5h1.5v1.5h-1.5zM446.8 372.1h1.5v1.5h-1.5zM427.3 420.1h1.5v1.5h-1.5zM425.2 422.8h1.5v1.5h-1.5zM441.4 395.2h1.5v1.5h-1.5zM433.4 408h1.5v1.5h-1.5zM428.7 422.8h1.5v1.5h-1.5zM444.8 384.8h1.5v1.5h-1.5zM437.5 406.1h1.5v1.5h-1.5zM446.8 378.9h1.5v1.5h-1.5zM434.6 406.9h1.5v1.5h-1.5zM441.2 387.3h1.5v1.5h-1.5zM424.3 424.7h1.5v1.5h-1.5zM434.2 412.2h1.5v1.5h-1.5zM448.1 375.1h1.5v1.5h-1.5zM433.9 412.6h1.5v1.5h-1.5zM439.7 394.9h1.5v1.5h-1.5zM428 420.2h1.5v1.5h-1.5zM443.5 383.2h1.5v1.5h-1.5zM426.8 421.1h1.5v1.5h-1.5zM448.1 378.9h1.5v1.5h-1.5zM436.1 409.7h1.5v1.5h-1.5zM434.7 409.9h1.5v1.5h-1.5zM429.1 417.8h1.5v1.5h-1.5zM436.8 397.1h1.5v1.5h-1.5zM448.8 374.5h1.5v1.5h-1.5zM430 417.7h1.5v1.5h-1.5zM425.7 420.8h1.5v1.5h-1.5zM429.4 416.7h1.5v1.5h-1.5zM426.7 423.8h1.5v1.5h-1.5zM437 410.8h1.5v1.5h-1.5zM444.3 383.9h1.5v1.5h-1.5zM439.6 400.1h1.5v1.5h-1.5zM439.7 393.2h1.5v1.5h-1.5zM441 398.6h1.5v1.5h-1.5zM450.7 375.1h1.5v1.5h-1.5zM433.5 407.9h1.5v1.5h-1.5zM443.9 391.3h1.5v1.5h-1.5zM435.4 403.8h1.5v1.5h-1.5zM434.5 411.3h1.5v1.5h-1.5zM443.9 395.8h1.5v1.5h-1.5zM446.7 375.1h1.5v1.5h-1.5zM432 420.3h1.5v1.5h-1.5zM438.1 398.1h1.5v1.5h-1.5zM425.4 423.3h1.5v1.5h-1.5zM440.8 395h1.5v1.5h-1.5zM445.3 383h1.5v1.5h-1.5zM433.4 411.6h1.5v1.5h-1.5zM450.5 376.1h1.5v1.5h-1.5zM432.2 415.3h1.5v1.5h-1.5zM427.7 424.4h1.5v1.5h-1.5zM434.8 406.7h1.5v1.5h-1.5zM449.3 373.1h1.5v1.5h-1.5zM447.8 374.9h1.5v1.5h-1.5zM423.9 423.9h1.5v1.5h-1.5zM449.7 379.8h1.5v1.5h-1.5zM427.4 422.3h1.5v1.5h-1.5zM424.7 421h1.5v1.5h-1.5zM426.8 428.1h1.5v1.5h-1.5zM443.9 391.7h1.5v1.5h-1.5zM430.6 416.6h1.5v1.5h-1.5zM446.6 383.2h1.5v1.5h-1.5zM446 384.2h1.5v1.5h-1.5zM432.3 414.9h1.5v1.5h-1.5zM432.6 414.7h1.5v1.5h-1.5zM440 403.7h1.5v1.5h-1.5zM446.8 377.4h1.5v1.5h-1.5zM449.6 381h1.5v1.5h-1.5zM450.5 372.7h1.5v1.5h-1.5zM432.8 412.6h1.5v1.5h-1.5zM440.8 394.1h1.5v1.5h-1.5zM428.1 419.9h1.5v1.5h-1.5zM434.8 412.5h1.5v1.5h-1.5zM425.9 423.6h1.5v1.5h-1.5zM422.2 424.7h1.5v1.5h-1.5zM430.9 412.5h1.5v1.5h-1.5zM436.7 405.7h1.5v1.5h-1.5zM439.1 400.5h1.5v1.5h-1.5zM438.5 399.7h1.5v1.5h-1.5zM440.3 399h1.5v1.5h-1.5zM422.1 425.8h1.5v1.5h-1.5zM447.5 383.4h1.5v1.5h-1.5zM438.1 406.5h1.5v1.5h-1.5zM440.5 398.3h1.5v1.5h-1.5zM438.4 393.5h1.5v1.5h-1.5zM428.9 419.7h1.5v1.5h-1.5zM439.5 396.5h1.5v1.5h-1.5zM441.2 397.2h1.5v1.5h-1.5zM443 394.3h1.5v1.5h-1.5zM432.2 415.7h1.5v1.5h-1.5zM444.8 382.4h1.5v1.5h-1.5zM442.5 386.1h1.5v1.5h-1.5zM436 409.9h1.5v1.5h-1.5zM441.6 394.2h1.5v1.5h-1.5zM427.2 420.2h1.5v1.5h-1.5zM439.8 400.8h1.5v1.5h-1.5zM434.7 414.5h1.5v1.5h-1.5zM441.4 394.3h1.5v1.5h-1.5zM433.1 407.2h1.5v1.5h-1.5zM445.9 383.1h1.5v1.5h-1.5zM450.4 376.6h1.5v1.5h-1.5zM443.5 386.2h1.5v1.5h-1.5zM445.8 384.9h1.5v1.5h-1.5zM439.2 395.2h1.5v1.5h-1.5zM448.6 371.4h1.5v1.5h-1.5zM442.9 393.4h1.5v1.5h-1.5zM428.2 424.3h1.5v1.5h-1.5zM427.8 422.9h1.5v1.5h-1.5zM437.8 399.7h1.5v1.5h-1.5zM436.7 405.6h1.5v1.5h-1.5zM445 392.8h1.5v1.5h-1.5zM440.7 393.1h1.5v1.5h-1.5zM449.9 377.8h1.5v1.5h-1.5zM441.7 391.4h1.5v1.5h-1.5zM447.5 386.3h1.5v1.5h-1.5zM425.1 423.2h1.5v1.5h-1.5zM431.7 416.2h1.5v1.5h-1.5zM447.7 379.1h1.5v1.5h-1.5zM438.6 396.3h1.5v1.5h-1.5zM432.7 411.4h1.5v1.5h-1.5zM444.4 387.1h1.5v1.5h-1.5zM446.1 387.8h1.5v1.5h-1.5zM438.3 406.3h1.5v1.5h-1.5zM450.9 376.9h1.5v1.5h-1.5zM439.4 391.3h1.5v1.5h-1.5zM443.9 388.7h1.5v1.5h-1.5zM442.8 388.1h1.5v1.5h-1.5zM442.8 392h1.5v1.5h-1.5zM431.7 418h1.5v1.5h-1.5zM425.6 424.1h1.5v1.5h-1.5zM439.6 397.2h1.5v1.5h-1.5zM435.4 411.4h1.5v1.5h-1.5zM425.9 419.6h1.5v1.5h-1.5zM435.7 405.7h1.5v1.5h-1.5zM447.5 377.6h1.5v1.5h-1.5zM438.8 394.7h1.5v1.5h-1.5zM435.7 404.4h1.5v1.5h-1.5zM446.2 387.2h1.5v1.5h-1.5zM446.2 375.8h1.5v1.5h-1.5zM440.9 394.7h1.5v1.5h-1.5zM445.7 386.9h1.5v1.5h-1.5zM440.4 401.3h1.5v1.5h-1.5zM438.8 408.3h1.5v1.5h-1.5zM424.9 420.8h1.5v1.5h-1.5zM438.7 402.9h1.5v1.5h-1.5zM430.6 419.3h1.5v1.5h-1.5zM430.4 417.9h1.5v1.5h-1.5zM435.5 408.9h1.5v1.5h-1.5zM430.6 411h1.5v1.5h-1.5zM448.4 379.6h1.5v1.5h-1.5zM443.1 392h1.5v1.5h-1.5zM440.5 399h1.5v1.5h-1.5zM437.2 401.3h1.5v1.5h-1.5zM446 375.6h1.5v1.5h-1.5zM434.9 410.6h1.5v1.5h-1.5zM446.8 385.8h1.5v1.5h-1.5zM424.4 426.3h1.5v1.5h-1.5zM450.9 372.4h1.5v1.5h-1.5zM429.6 418.3h1.5v1.5h-1.5zM441.4 397.9h1.5v1.5h-1.5zM424 421.5h1.5v1.5h-1.5zM446.4 379.8h1.5v1.5h-1.5zM447.9 375.9h1.5v1.5h-1.5zM445.6 381.7h1.5v1.5h-1.5zM437.6 399.8h1.5v1.5h-1.5zM445.8 387.6h1.5v1.5h-1.5zM437 409.2h1.5v1.5h-1.5zM434.5 406h1.5v1.5h-1.5zM442.3 394.4h1.5v1.5h-1.5zM430.8 418.6h1.5v1.5h-1.5zM443.9 386.8h1.5v1.5h-1.5zM423.4 424.5h1.5v1.5h-1.5zM428.1 417.7h1.5v1.5h-1.5zM424.5 422.6h1.5v1.5h-1.5zM427.2 421h1.5v1.5h-1.5zM429.1 416.7h1.5v1.5h-1.5zM430.5 416.8h1.5v1.5h-1.5zM426 422.1h1.5v1.5h-1.5zM432.2 418h1.5v1.5h-1.5zM432.7 412h1.5v1.5h-1.5zM448.4 381h1.5v1.5h-1.5zM445.7 382.3h1.5v1.5h-1.5zM448.3 375.3h1.5v1.5h-1.5zM448.6 379.8h1.5v1.5h-1.5zM425.1 422.1h1.5v1.5h-1.5zM439.1 409.7h1.5v1.5h-1.5zM431.9 415.4h1.5v1.5h-1.5zM435.6 413.5h1.5v1.5h-1.5zM438 401.8h1.5v1.5h-1.5zM429.6 415.3h1.5v1.5h-1.5zM443.3 393.5h1.5v1.5h-1.5zM440.1 397.4h1.5v1.5h-1.5zM438.3 403.3h1.5v1.5h-1.5zM435.8 407.7h1.5v1.5h-1.5zM441.9 393.5h1.5v1.5h-1.5zM428.4 418.1h1.5v1.5h-1.5zM430.1 419h1.5v1.5h-1.5zM446 385.7h1.5v1.5h-1.5zM438.9 404.4h1.5v1.5h-1.5zM441 394.3h1.5v1.5h-1.5zM421.4 425.5h1.5v1.5h-1.5zM445.4 386.4h1.5v1.5h-1.5zM444.7 388.9h1.5v1.5h-1.5zM443.8 388.5h1.5v1.5h-1.5zM445 387.2h1.5v1.5h-1.5zM447.8 384.5h1.5v1.5h-1.5zM441.6 397.3h1.5v1.5h-1.5zM449.5 376.1h1.5v1.5h-1.5zM429.4 420.3h1.5v1.5h-1.5zM441.1 395.1h1.5v1.5h-1.5zM448.2 379.6h1.5v1.5h-1.5zM425.4 421.4h1.5v1.5h-1.5zM444.1 385.3h1.5v1.5h-1.5zM438.7 403.9h1.5v1.5h-1.5zM441.8 385.8h1.5v1.5h-1.5zM433.1 415.8h1.5v1.5h-1.5zM440.9 393.4h1.5v1.5h-1.5zM444.8 389.2h1.5v1.5h-1.5zM428.7 418.5h1.5v1.5h-1.5zM435.8 412.6h1.5v1.5h-1.5zM445.5 379h1.5v1.5h-1.5zM428.9 415.3h1.5v1.5h-1.5zM445.9 383.9h1.5v1.5h-1.5zM434.1 416.9h1.5v1.5h-1.5zM417 438h1.5v1.5h-1.5zM417.7 435.8h1.5v1.5h-1.5zM417 439h1.5v1.5h-1.5zM418.3 436.1h1.5v1.5h-1.5zM416.4 439.7h1.5v1.5h-1.5zM418.1 444.2h1.5v1.5h-1.5zM418 439.4h1.5v1.5h-1.5zM418.7 441h1.5v1.5h-1.5zM416.1 440.7h1.5v1.5h-1.5zM416.5 438.3h1.5v1.5h-1.5zM416.5 439.7h1.5v1.5h-1.5zM416.9 438.1h1.5v1.5h-1.5zM416.5 441.8h1.5v1.5h-1.5zM416.5 443h1.5v1.5h-1.5zM418 438h1.5v1.5h-1.5zM417.2 435.7h1.5v1.5h-1.5zM416.8 439.6h1.5v1.5h-1.5zM416.3 438.6h1.5v1.5h-1.5zM417.3 440.7h1.5v1.5h-1.5zM416.9 437.9h1.5v1.5h-1.5zM415.6 440.3h1.5v1.5h-1.5zM417.1 438.3h1.5v1.5h-1.5zM416.8 438.7h1.5v1.5h-1.5zM416.5 441.2h1.5v1.5h-1.5zM416.7 439h1.5v1.5h-1.5zM417.1 439.9h1.5v1.5h-1.5zM416.4 440.9h1.5v1.5h-1.5zM416.5 436.3h1.5v1.5h-1.5zM416.9 439.2h1.5v1.5h-1.5zM418.5 440.7h1.5v1.5h-1.5zM416.2 437.7h1.5v1.5h-1.5zM417.1 438.5h1.5v1.5h-1.5zM417.7 442h1.5v1.5h-1.5zM417.6 440.7h1.5v1.5h-1.5zM416.5 440.1h1.5v1.5h-1.5zM416.2 439.8h1.5v1.5h-1.5zM417.4 438.3h1.5v1.5h-1.5zM416.8 437.2h1.5v1.5h-1.5zM416.8 441.2h1.5v1.5h-1.5zM417.4 440.5h1.5v1.5h-1.5zM416.1 443.4h1.5v1.5h-1.5zM417.4 443.4h1.5v1.5h-1.5zM416 443.1h1.5v1.5h-1.5zM417.5 440h1.5v1.5h-1.5zM417.9 440.3h1.5v1.5h-1.5zM415.5 439.6h1.5v1.5h-1.5zM415.7 440.3h1.5v1.5h-1.5zM417 441h1.5v1.5h-1.5zM416.3 438.4h1.5v1.5h-1.5zM417.2 442.9h1.5v1.5h-1.5z" fill="#FDB900"/><path d="M441 391.9h1.5v1.5h-1.5zM439.4 398.1h1.5v1.5h-1.5zM438.6 401.4h1.5v1.5h-1.5zM443.2 385h1.5v1.5h-1.5zM445.1 386h1.5v1.5h-1.5zM434.4 409.5h1.5v1.5h-1.5zM434.8 403.7h1.5v1.5h-1.5zM440.9 394.5h1.5v1.5h-1.5zM439 401h1.5v1.5h-1.5zM445.1 384.8h1.5v1.5h-1.5zM441.2 385.2h1.5v1.5h-1.5zM446.6 383.2h1.5v1.5h-1.5zM445.4 380.6h1.5v1.5h-1.5zM450 381.7h1.5v1.5h-1.5zM443.5 389.1h1.5v1.5h-1.5zM435 405.6h1.5v1.5h-1.5zM446 386h1.5v1.5h-1.5zM438.4 403.6h1.5v1.5h-1.5zM439.4 395.6h1.5v1.5h-1.5zM444.5 390.4h1.5v1.5h-1.5zM440 386.8h1.5v1.5h-1.5zM448 383.6h1.5v1.5h-1.5zM447.2 383.3h1.5v1.5h-1.5zM446.9 380.4h1.5v1.5h-1.5zM441.2 394.6h1.5v1.5h-1.5zM433.4 407.3h1.5v1.5h-1.5zM448.1 381.2h1.5v1.5h-1.5zM440.3 399.9h1.5v1.5h-1.5zM435.1 412h1.5v1.5h-1.5zM424.1 421.6h1.5v1.5h-1.5zM423.7 424.4h1.5v1.5h-1.5zM430.3 421h1.5v1.5h-1.5zM428.5 423.5h1.5v1.5h-1.5zM433.7 414.5h1.5v1.5h-1.5zM427.5 420.7h1.5v1.5h-1.5zM434.2 414.2h1.5v1.5h-1.5zM429.9 419.2h1.5v1.5h-1.5zM432 413.8h1.5v1.5h-1.5zM435.1 413.1h1.5v1.5h-1.5zM430.6 416.7h1.5v1.5h-1.5zM426.6 420.7h1.5v1.5h-1.5zM422 425.6h1.5v1.5h-1.5zM426 424.4h1.5v1.5h-1.5zM422.8 425.6h1.5v1.5h-1.5zM426 425.7h1.5v1.5h-1.5zM427.4 418.6h1.5v1.5h-1.5zM433.4 411.5h1.5v1.5h-1.5zM434.5 411.5h1.5v1.5h-1.5zM422.2 425.9h1.5v1.5h-1.5zM434.8 410.5h1.5v1.5h-1.5zM430.8 417.7h1.5v1.5h-1.5zM423.8 421.2h1.5v1.5h-1.5zM428.5 416.5h1.5v1.5h-1.5zM423.8 424.4h1.5v1.5h-1.5zM429.6 418h1.5v1.5h-1.5zM428.2 420.9h1.5v1.5h-1.5zM425.9 419.1h1.5v1.5h-1.5zM430.3 417.4h1.5v1.5h-1.5zM425.6 424.1h1.5v1.5h-1.5zM434.3 409.7h1.5v1.5h-1.5zM423.2 424.3h1.5v1.5h-1.5zM428.9 419.2h1.5v1.5h-1.5zM434.6 411.6h1.5v1.5h-1.5zM430.1 419.2h1.5v1.5h-1.5zM421.1 426.4h1.5v1.5h-1.5zM428.7 418.6h1.5v1.5h-1.5zM427.2 423.6h1.5v1.5h-1.5zM422.5 425.8h1.5v1.5h-1.5zM446.8 372.4h1.5v1.5h-1.5zM448.6 373.6h1.5v1.5h-1.5zM448.1 371.7h1.5v1.5h-1.5zM447.5 372h1.5v1.5h-1.5zM447.5 373.6h1.5v1.5h-1.5zM447.5 374h1.5v1.5h-1.5zM447.3 373.6h1.5v1.5h-1.5zM445.7 374h1.5v1.5h-1.5zM448.8 370.6h1.5v1.5h-1.5zM448.9 373.2h1.5v1.5h-1.5zM447.8 373h1.5v1.5h-1.5zM445.6 375.8h1.5v1.5h-1.5zM448.2 371.9h1.5v1.5h-1.5zM448 373.6h1.5v1.5h-1.5zM450 372.8h1.5v1.5h-1.5zM445.8 373.5h1.5v1.5h-1.5zM447.1 373.9h1.5v1.5h-1.5zM449.9 374.2h1.5v1.5h-1.5zM449.1 373.8h1.5v1.5h-1.5zM447.9 372.5h1.5v1.5h-1.5zM447.3 374.7h1.5v1.5h-1.5zM448.1 371.1h1.5v1.5h-1.5zM446.2 375h1.5v1.5h-1.5zM446.9 374.1h1.5v1.5h-1.5zM449.8 371.2h1.5v1.5h-1.5zM450.8 370.4h1.5v1.5h-1.5zM446.3 372.4h1.5v1.5h-1.5zM448.8 372.9h1.5v1.5h-1.5zM446.4 371.9h1.5v1.5h-1.5zM447.9 373.6h1.5v1.5h-1.5zM448.5 372.8h1.5v1.5h-1.5zM447.3 373.7h1.5v1.5h-1.5zM447.2 372.9h1.5v1.5h-1.5zM446.7 373.7h1.5v1.5h-1.5zM447 372.3h1.5v1.5h-1.5zM449.7 372.5h1.5v1.5h-1.5zM446.5 372.4h1.5v1.5h-1.5zM448.2 375.5h1.5v1.5h-1.5zM446.7 373.6h1.5v1.5h-1.5zM446.4 373.2h1.5v1.5h-1.5zM448.3 372.6h1.5v1.5h-1.5zM449.7 374h1.5v1.5h-1.5zM449.5 374.1h1.5v1.5h-1.5zM448.2 373.8h1.5v1.5h-1.5zM447.8 373.2h1.5v1.5h-1.5zM445.8 370.7h1.5v1.5h-1.5zM448.6 372.8h1.5v1.5h-1.5zM448.6 373.1h1.5v1.5h-1.5zM446.5 376h1.5v1.5h-1.5zM448.4 370h1.5v1.5h-1.5zM449 371.9h1.5v1.5h-1.5zM447.8 372.1h1.5v1.5h-1.5zM444.4 370.7h1.5v1.5h-1.5zM448 371.2h1.5v1.5h-1.5zM447.6 372.5h1.5v1.5h-1.5zM444.2 371.8h1.5v1.5h-1.5zM448.4 373.7h1.5v1.5h-1.5zM446.5 372.7h1.5v1.5h-1.5zM449 373.9h1.5v1.5h-1.5zM448.7 372.1h1.5v1.5h-1.5zM445.6 372.4h1.5v1.5h-1.5zM448.1 376.1h1.5v1.5h-1.5zM450.9 372.1h1.5v1.5h-1.5zM449.4 373.6h1.5v1.5h-1.5zM446 370.8h1.5v1.5h-1.5zM445.3 372.2h1.5v1.5h-1.5zM450.4 374.1h1.5v1.5h-1.5zM446.6 372.9h1.5v1.5h-1.5zM448.4 372.8h1.5v1.5h-1.5zM449.5 373.8h1.5v1.5h-1.5zM451 372.3h1.5v1.5h-1.5zM449.4 371.2h1.5v1.5h-1.5zM445.9 371.2h1.5v1.5h-1.5zM449.3 373.7h1.5v1.5h-1.5zM445.3 371.7h1.5v1.5h-1.5zM449.7 373h1.5v1.5h-1.5zM448.5 374.8h1.5v1.5h-1.5zM448.6 371.1h1.5v1.5h-1.5zM449.8 374.5h1.5v1.5h-1.5zM446.3 372h1.5v1.5h-1.5zM452.2 370.5h1.5v1.5h-1.5zM446.5 373.7h1.5v1.5h-1.5zM446.5 372.6h1.5v1.5h-1.5zM448 373.2h1.5v1.5h-1.5zM448.5 375.6h1.5v1.5h-1.5zM447.6 373.6h1.5v1.5h-1.5zM446.9 374.3h1.5v1.5h-1.5zM450.3 373.2h1.5v1.5h-1.5zM445.7 372.4h1.5v1.5h-1.5zM450.8 373.6h1.5v1.5h-1.5zM447.4 375.2h1.5v1.5h-1.5zM445.9 375.7h1.5v1.5h-1.5zM447 374.6h1.5v1.5h-1.5zM448.5 374.4h1.5v1.5h-1.5zM442.9 371.7h1.5v1.5h-1.5zM447.8 370.9h1.5v1.5h-1.5zM446.9 371.6h1.5v1.5h-1.5zM447.5 373.3h1.5v1.5h-1.5zM447.9 373.7h1.5v1.5h-1.5zM447 374.2h1.5v1.5h-1.5zM448.9 373.5h1.5v1.5h-1.5zM448.2 371.7h1.5v1.5h-1.5zM447.5 375.4h1.5v1.5h-1.5zM449 369.9h1.5v1.5h-1.5zM447.6 374.8h1.5v1.5h-1.5zM445 371.5h1.5v1.5h-1.5zM447.6 373.4h1.5v1.5h-1.5zM444.3 371.7h1.5v1.5h-1.5zM445 374.3h1.5v1.5h-1.5zM451.2 374h1.5v1.5h-1.5zM447.4 372.8h1.5v1.5h-1.5zM452.1 372.9h1.5v1.5h-1.5zM446.4 372.5h1.5v1.5h-1.5zM449.8 371.2h1.5v1.5h-1.5zM449.2 374.8h1.5v1.5h-1.5zM445.9 372.2h1.5v1.5h-1.5zM447.2 375.6h1.5v1.5h-1.5zM450.3 373h1.5v1.5h-1.5zM449.3 372.5h1.5v1.5h-1.5zM447.4 374.3h1.5v1.5h-1.5zM425.2 420.1h1.5v1.5h-1.5zM426.3 419.9h1.5v1.5h-1.5zM426.1 422.1h1.5v1.5h-1.5zM427.4 415.2h1.5v1.5h-1.5zM427.6 416.3h1.5v1.5h-1.5zM423.8 421.3h1.5v1.5h-1.5zM424.5 420.7h1.5v1.5h-1.5zM423.2 424.3h1.5v1.5h-1.5zM426.3 416.4h1.5v1.5h-1.5zM424.7 421.6h1.5v1.5h-1.5zM424.9 422h1.5v1.5h-1.5zM426.5 416.1h1.5v1.5h-1.5zM423.2 423.3h1.5v1.5h-1.5zM414.9 426.8h1.5v1.5h-1.5zM418.2 425.1h1.5v1.5h-1.5zM418.3 424.8h1.5v1.5h-1.5zM425.1 420.2h1.5v1.5h-1.5zM428.1 416.1h1.5v1.5h-1.5zM423.6 421.8h1.5v1.5h-1.5zM419.2 425.2h1.5v1.5h-1.5zM415.2 425.4h1.5v1.5h-1.5zM426.6 419.4h1.5v1.5h-1.5zM426.8 418.9h1.5v1.5h-1.5zM424.4 419.6h1.5v1.5h-1.5zM427.9 417.7h1.5v1.5h-1.5zM415.2 425h1.5v1.5h-1.5z" fill="#A50005"/><path d="M446.5 385.4h1.5v1.5h-1.5zM439 399h1.5v1.5h-1.5zM444.3 386h1.5v1.5h-1.5zM445.6 386.7h1.5v1.5h-1.5zM438.9 402.9h1.5v1.5h-1.5zM446.1 379.2h1.5v1.5h-1.5zM432.7 413h1.5v1.5h-1.5zM445 390.2h1.5v1.5h-1.5zM449.7 374h1.5v1.5h-1.5zM439.3 400.5h1.5v1.5h-1.5zM440.9 393.2h1.5v1.5h-1.5zM434.1 409h1.5v1.5h-1.5zM437 407.5h1.5v1.5h-1.5zM436.9 398.7h1.5v1.5h-1.5zM434.5 410.7h1.5v1.5h-1.5zM448 382.6h1.5v1.5h-1.5zM435.5 407h1.5v1.5h-1.5zM436.1 411.3h1.5v1.5h-1.5zM449 375.4h1.5v1.5h-1.5zM449.3 377.1h1.5v1.5h-1.5zM438.8 401.2h1.5v1.5h-1.5zM445.9 386.3h1.5v1.5h-1.5zM449.6 370.9h1.5v1.5h-1.5zM436.1 405.6h1.5v1.5h-1.5zM449.4 377.3h1.5v1.5h-1.5zM442.8 390.1h1.5v1.5h-1.5zM434.3 409.9h1.5v1.5h-1.5zM441.6 395.8h1.5v1.5h-1.5zM441.2 393.3h1.5v1.5h-1.5zM448.2 383h1.5v1.5h-1.5zM446.5 386.3h1.5v1.5h-1.5zM449.7 377.5h1.5v1.5h-1.5zM442.5 391.9h1.5v1.5h-1.5zM442.2 398h1.5v1.5h-1.5zM434 407.5h1.5v1.5h-1.5zM441.6 394.1h1.5v1.5h-1.5zM437.4 405.7h1.5v1.5h-1.5zM434.8 409.5h1.5v1.5h-1.5zM436 408.8h1.5v1.5h-1.5zM438.1 407.1h1.5v1.5h-1.5zM441.8 390.2h1.5v1.5h-1.5zM448.3 373.6h1.5v1.5h-1.5zM439.4 396.1h1.5v1.5h-1.5zM451.7 379.9h1.5v1.5h-1.5zM442.2 397.5h1.5v1.5h-1.5zM448 381.9h1.5v1.5h-1.5zM439.7 396.9h1.5v1.5h-1.5zM442.1 391.9h1.5v1.5h-1.5zM446.4 377.8h1.5v1.5h-1.5zM437.6 399.3h1.5v1.5h-1.5zM441.5 396.4h1.5v1.5h-1.5zM438.8 398.5h1.5v1.5h-1.5zM445.4 383.9h1.5v1.5h-1.5zM439.3 397h1.5v1.5h-1.5zM438.7 398.4h1.5v1.5h-1.5zM448.6 380h1.5v1.5h-1.5zM432.8 410.8h1.5v1.5h-1.5zM436.9 405.8h1.5v1.5h-1.5zM445.8 386.8h1.5v1.5h-1.5zM447.2 386.2h1.5v1.5h-1.5z" fill="#FDB900"/><path d="M381.4 384.1C381.1 385.1 380.1 388.1 379.7 390C379.4 391.9 379.5 393.7 379.3 395.6C379.2 397.4 379 399.4 378.9 401.1C378.9 402.9 378.9 405.1 378.9 405.9M378.9 405.9C380.3 407.2 380.3 407.6 383.4 410.2C386.4 412.7 385.2 411.7 389.1 414.4C392.9 417.2 391.7 416.6 396.3 419.2C401 421.9 400.1 421.3 404.4 423.2C408.8 425.1 407.5 424.6 410.9 425.6C414.3 426.7 412.6 427 415.8 426.7C418.9 426.4 418 426.5 421.4 424.6C424.9 422.6 424 424 427.1 420.3C430.3 416.6 429.1 417.9 432 412.3C434.9 406.7 433.9 408.1 436.8 401.7C439.8 395.3 438.9 397.3 441.7 391C444.5 384.8 444.8 384 446.2 380.9M415.8 426.7C415.8 429.3 415.8 439.5 415.8 442.1M378.9 405.9C377.9 405.4 374.9 403.7 372.8 402.7C370.8 401.8 367.4 400.5 366.4 400.1" fill="none" stroke="#222" stroke-width="0.7"/><circle cx="379.3" cy="395.6" r="1.7" fill="#111"/><circle cx="378.9" cy="405.9" r="1.7" fill="#111"/><circle cx="415.8" cy="426.7" r="1.7" fill="#111"/>
<line x1="264.8" y1="277.3" x2="264.8" y2="361" stroke="#111" stroke-width="1.5"/>
<line x1="264.8" y1="367.2" x2="264.8" y2="451" stroke="#111" stroke-width="1.5"/>
<line x1="264.1" y1="450.3" x2="456.2" y2="450.3" stroke="#111" stroke-width="1.5"/>
<line x1="262" y1="296.3" x2="264.8" y2="296.3" stroke="#111" stroke-width="1.1"/>
<text x="260.6" y="298.7" font-size="8.8" text-anchor="end" fill="#444" stroke="#444" stroke-width="0.3">4</text>
<line x1="262" y1="317.6" x2="264.8" y2="317.6" stroke="#111" stroke-width="1.1"/>
<text x="260.6" y="320" font-size="8.8" text-anchor="end" fill="#444" stroke="#444" stroke-width="0.3">0</text>
<line x1="262" y1="338.9" x2="264.8" y2="338.9" stroke="#111" stroke-width="1.1"/>
<text x="260.6" y="341.3" font-size="8.8" text-anchor="end" fill="#444" stroke="#444" stroke-width="0.3">−4</text>
<line x1="262" y1="360.2" x2="264.8" y2="360.2" stroke="#111" stroke-width="1.1"/>
<text x="260.6" y="362.6" font-size="8.8" text-anchor="end" fill="#444" stroke="#444" stroke-width="0.3">−8</text>
<line x1="262" y1="386.1" x2="264.8" y2="386.1" stroke="#111" stroke-width="1.1"/>
<text x="260.6" y="388.5" font-size="8.8" text-anchor="end" fill="#444" stroke="#444" stroke-width="0.3">4</text>
<line x1="262" y1="407.4" x2="264.8" y2="407.4" stroke="#111" stroke-width="1.1"/>
<text x="260.6" y="409.8" font-size="8.8" text-anchor="end" fill="#444" stroke="#444" stroke-width="0.3">0</text>
<line x1="262" y1="428.7" x2="264.8" y2="428.7" stroke="#111" stroke-width="1.1"/>
<text x="260.6" y="431.1" font-size="8.8" text-anchor="end" fill="#444" stroke="#444" stroke-width="0.3">−4</text>
<line x1="262" y1="450" x2="264.8" y2="450" stroke="#111" stroke-width="1.1"/>
<text x="260.6" y="452.4" font-size="8.8" text-anchor="end" fill="#444" stroke="#444" stroke-width="0.3">−8</text>
<text x="262.4" y="462.2" font-size="8.8" text-anchor="middle" fill="#444" stroke="#444" stroke-width="0.3">−10</text>
<text x="282.7" y="462.2" font-size="8.8" text-anchor="middle" fill="#444" stroke="#444" stroke-width="0.3">−5</text>
<text x="305.1" y="462.2" font-size="8.8" text-anchor="middle" fill="#444" stroke="#444" stroke-width="0.3">0</text>
<text x="325.4" y="462.2" font-size="8.8" text-anchor="middle" fill="#444" stroke="#444" stroke-width="0.3">5</text>
<text x="345.6" y="462.2" font-size="8.8" text-anchor="middle" fill="#444" stroke="#444" stroke-width="0.3">10</text>
<text x="358.5" y="462.2" font-size="8.8" text-anchor="middle" fill="#444" stroke="#444" stroke-width="0.3">−10</text>
<text x="378.8" y="462.2" font-size="8.8" text-anchor="middle" fill="#444" stroke="#444" stroke-width="0.3">−5</text>
<text x="401.2" y="462.2" font-size="8.8" text-anchor="middle" fill="#444" stroke="#444" stroke-width="0.3">0</text>
<text x="421.4" y="462.2" font-size="8.8" text-anchor="middle" fill="#444" stroke="#444" stroke-width="0.3">5</text>
<text x="441.7" y="462.2" font-size="8.8" text-anchor="middle" fill="#444" stroke="#444" stroke-width="0.3">10</text>
<text x="359.6" y="472.5" font-size="8.9" text-anchor="middle" fill="#333" stroke="#333" stroke-width="0.2">Component 1</text>
<text x="245.8" y="361.2" font-size="8.9" text-anchor="middle" fill="#333" transform="rotate(-90 245.8 361.2)" stroke="#333" stroke-width="0.2">Component 2</text>
<text x="283.9" y="281.2" font-size="9" fill="#333"><tspan font-style="italic">Pten</tspan><tspan dy="-3" font-size="6.2" font-style="normal">PC−/−</tspan><tspan dy="3"> (sham)</tspan></text>
<text x="384.6" y="281.2" font-size="9" fill="#333"><tspan font-style="italic">Pten</tspan><tspan dy="-3" font-size="6.2" font-style="normal">PC−/−</tspan><tspan dy="3"> (ADT)</tspan></text>
<text x="276" y="369.2" font-size="9" fill="#333"><tspan font-style="italic">Pten</tspan><tspan dy="-3" font-size="6.2" font-style="normal">PC−/−</tspan><tspan dy="3"><tspan font-style="italic">; Trp53</tspan></tspan><tspan dy="-3" font-size="6.2" font-style="normal">PC−/−</tspan></text>
<text x="365.7" y="369.2" font-size="9" fill="#333"><tspan font-style="italic">Pten</tspan><tspan dy="-3" font-size="6.2" font-style="normal">PC−/−</tspan><tspan dy="3"><tspan font-style="italic">; Trp53</tspan></tspan><tspan dy="-3" font-size="6.2" font-style="normal">PC−/−</tspan></text>
<text x="316.9" y="380.7" font-size="9" text-anchor="middle" fill="#333">(sham)</text>
<text x="406" y="380.7" font-size="9" text-anchor="middle" fill="#333">(ADT)</text>
</g>
<g id="p-violin">
<line x1="518.7" y1="252.5" x2="518.7" y2="316.7" stroke="#222" stroke-width="1.2"/><line x1="518.1" y1="316.1" x2="630.2" y2="316.1" stroke="#222" stroke-width="1.2"/><line x1="515.7" y1="253" x2="518.7" y2="253" stroke="#222" stroke-width="1"/><text x="514.6" y="255.9" font-size="8" text-anchor="end" fill="#222">6</text><line x1="515.7" y1="268.8" x2="518.7" y2="268.8" stroke="#222" stroke-width="1"/><text x="514.6" y="271.7" font-size="8" text-anchor="end" fill="#222">4</text><line x1="515.7" y1="284.6" x2="518.7" y2="284.6" stroke="#222" stroke-width="1"/><text x="514.6" y="287.4" font-size="8" text-anchor="end" fill="#222">2</text><line x1="515.7" y1="300.3" x2="518.7" y2="300.3" stroke="#222" stroke-width="1"/><text x="514.6" y="303.2" font-size="8" text-anchor="end" fill="#222">0</text><line x1="515.7" y1="316.1" x2="518.7" y2="316.1" stroke="#222" stroke-width="1"/><text x="514.6" y="319" font-size="8" text-anchor="end" fill="#222">-2</text><line x1="532.4" y1="316.1" x2="532.4" y2="319.7" stroke="#222" stroke-width="1"/><line x1="553" y1="316.1" x2="553" y2="319.7" stroke="#222" stroke-width="1"/><line x1="574" y1="316.1" x2="574" y2="319.7" stroke="#222" stroke-width="1"/><line x1="595" y1="316.1" x2="595" y2="319.7" stroke="#222" stroke-width="1"/><line x1="615.7" y1="316.1" x2="615.7" y2="319.7" stroke="#222" stroke-width="1"/><text x="502.6" y="285" font-size="9" text-anchor="middle" font-style="italic" fill="#222" transform="rotate(-90 502.6 285)">Col1a1</text>
<path d="M525.8 301Q530.9 300.6 531.7 297.9L533.1 297.9Q533.9 300.6 539 301z" fill="#06A73A"/>
<path d="M533.2 299.1C533.9 298.5 533.8 298.1 534.6 296.4C535.4 294.7 535.7 294.6 536.4 292.4C537.1 290.3 537.1 290.1 537.4 287.7C537.7 285.3 537.8 285.3 537.7 283C537.6 280.6 537.5 280.6 537 278.2C536.5 275.9 536.3 275.9 535.7 273.5C535 271.1 535 271.1 534.4 268.8C533.8 266.4 533.8 266.4 533.4 264C533 261.7 533.1 261.6 532.9 259.3C532.6 257 532.6 256.1 532.5 255C532.4 253.9 532.4 253.9 532.3 255C532.2 256.1 532.2 257 531.9 259.3C531.7 261.6 531.8 261.7 531.4 264C531 266.4 531 266.4 530.4 268.8C529.8 271.1 529.8 271.1 529.1 273.5C528.5 275.9 528.3 275.9 527.8 278.2C527.3 280.6 527.2 280.6 527.1 283C527 285.3 527.1 285.3 527.4 287.7C527.7 290.1 527.7 290.3 528.4 292.4C529.1 294.6 529.4 294.7 530.2 296.4C531 298.1 530.9 298.5 531.6 299.1C532.4 299.8 532.4 299.8 533.2 299.1z" fill="#06A73A"/>
<path d="M549.4 301Q551.5 300.6 552.3 298.8L553.7 298.8Q554.5 300.6 556.6 301z" fill="#1492F0"/>
<path d="M553.3 297.6C553.7 296.7 553.6 295.9 554.3 294C555 292.1 555 292 556 290.1C557 288.1 557.2 288.1 558.2 286.1C559.2 284.2 559.9 284.2 560.1 282.2C560.3 280.2 559.8 280 559 278.2C558.2 276.5 557.9 276.9 556.9 275.1C555.9 273.3 555.8 273.3 555 271.1C554.2 269 554.3 269 553.9 266.4C553.5 263.8 553.5 263.5 553.4 260.9C553.2 258.3 553.2 257.3 553.1 256.2C553 255 553 255 552.9 256.2C552.8 257.3 552.8 258.3 552.6 260.9C552.5 263.5 552.5 263.8 552.1 266.4C551.7 269 551.8 269 551 271.1C550.2 273.3 550.1 273.3 549.1 275.1C548.1 276.9 547.8 276.5 547 278.2C546.2 280 545.7 280.2 545.9 282.2C546.1 284.2 546.8 284.2 547.8 286.1C548.8 288.1 549 288.1 550 290.1C551 292 551 292.1 551.7 294C552.4 295.9 552.3 296.7 552.7 297.6C553.1 298.5 552.9 298.5 553.3 297.6z" fill="#1492F0"/>
<path d="M567.2 301Q572.5 300.6 573.3 297.9L574.7 297.9Q575.5 300.6 580.8 301z" fill="#9545D8"/>
<path d="M574.5 298.7C574.8 297.6 574.6 296.6 574.7 294C574.8 291.5 574.8 291.3 575 288.5C575.2 285.7 575.3 285.3 575.5 283C575.7 280.6 575.9 281 575.9 279C575.9 277.1 575.7 277.6 575.4 275.1C575.1 272.5 575 271.9 574.8 268.8C574.5 265.6 574.6 265.6 574.4 262.5C574.2 259.3 574.2 257.7 574.1 256.2C574 254.6 574 254.6 573.9 256.2C573.8 257.7 573.8 259.3 573.6 262.5C573.4 265.6 573.5 265.6 573.2 268.8C573 271.9 572.9 272.5 572.6 275.1C572.3 277.6 572.1 277.1 572.1 279C572.1 281 572.3 280.6 572.5 283C572.7 285.3 572.8 285.7 573 288.5C573.2 291.3 573.2 291.5 573.3 294C573.4 296.6 573.2 297.6 573.5 298.7C573.8 299.9 574.2 299.9 574.5 298.7z" fill="#9545D8"/>
<path d="M588.2 301Q593.5 300.6 594.3 297.9L595.7 297.9Q596.5 300.6 601.8 301z" fill="#FDB900"/>
<path d="M595.6 298.7C596 297.6 595.8 296.6 596.1 294C596.5 291.5 596.5 291.1 597 288.5C597.5 285.9 597.7 285.9 598.3 283.8C598.9 281.6 599.2 282 599.4 279.8C599.6 277.6 599.5 277.3 599.1 275.1C598.7 272.9 598.4 273.3 597.8 271.1C597.1 269 597 269 596.5 266.4C596 263.8 596 263.8 595.6 260.9C595.2 257.9 595.3 256.2 595.1 254.6C594.9 253 595.1 253 594.9 254.6C594.7 256.2 594.8 257.9 594.4 260.9C594 263.8 594 263.8 593.5 266.4C593 269 592.9 269 592.2 271.1C591.6 273.3 591.3 272.9 590.9 275.1C590.5 277.3 590.4 277.6 590.6 279.8C590.8 282 591.1 281.6 591.7 283.8C592.3 285.9 592.5 285.9 593 288.5C593.5 291.1 593.5 291.5 593.9 294C594.2 296.6 594 297.6 594.4 298.7C594.8 299.9 595.2 299.9 595.6 298.7z" fill="#FDB900"/>
<path d="M612.1 301Q614.2 300.6 615 298.8L616.4 298.8Q617.2 300.6 619.3 301z" fill="#A50005"/>
<path d="M616 297.6C616.5 296.7 616.4 295.9 617.2 294C618 292.1 618.1 292 619.1 290.1C620.1 288.1 620.4 288.1 621.3 286.1C622.2 284.2 622.6 284.2 622.8 282.2C623 280.2 622.7 280.2 622 278.2C621.3 276.3 620.9 276.3 619.9 274.3C618.9 272.3 618.9 272.5 618.1 270.4C617.3 268.2 617.3 268 616.8 265.6C616.3 263.3 616.4 263.5 616.2 260.9C615.9 258.3 615.9 256.7 615.8 255.4C615.7 254 615.7 254 615.6 255.4C615.5 256.7 615.5 258.3 615.2 260.9C615 263.5 615.1 263.3 614.6 265.6C614.1 268 614.1 268.2 613.3 270.4C612.5 272.5 612.5 272.3 611.5 274.3C610.5 276.3 610.1 276.3 609.4 278.2C608.7 280.2 608.4 280.2 608.6 282.2C608.8 284.2 609.2 284.2 610.1 286.1C611 288.1 611.3 288.1 612.3 290.1C613.3 292 613.4 292.1 614.2 294C615 295.9 615 296.7 615.4 297.6C615.9 298.5 615.5 298.5 616 297.6z" fill="#A50005"/>
<line x1="527.8" y1="284.6" x2="537" y2="284.6" stroke="#222" stroke-width="0.6" stroke-dasharray="1 0.8"/>
<line x1="528.9" y1="291.6" x2="535.9" y2="291.6" stroke="#222" stroke-width="0.6" opacity="0.35"/>
<line x1="528.9" y1="277.5" x2="535.9" y2="277.5" stroke="#222" stroke-width="0.6" opacity="0.35"/>
<line x1="546.7" y1="282.2" x2="559.3" y2="282.2" stroke="#222" stroke-width="0.6" stroke-dasharray="1 0.8"/>
<line x1="548.3" y1="286.1" x2="557.7" y2="286.1" stroke="#222" stroke-width="0.6" opacity="0.35"/>
<line x1="548.3" y1="278.2" x2="557.7" y2="278.2" stroke="#222" stroke-width="0.6" opacity="0.35"/>
<line x1="591" y1="280.2" x2="599" y2="280.2" stroke="#222" stroke-width="0.6" stroke-dasharray="1 0.8"/>
<line x1="592" y1="284.6" x2="598" y2="284.6" stroke="#222" stroke-width="0.6" opacity="0.35"/>
<line x1="592" y1="274.3" x2="598" y2="274.3" stroke="#222" stroke-width="0.6" opacity="0.35"/>
<line x1="609.4" y1="282.2" x2="622" y2="282.2" stroke="#222" stroke-width="0.6" stroke-dasharray="1 0.8"/>
<line x1="611" y1="286.9" x2="620.4" y2="286.9" stroke="#222" stroke-width="0.6" opacity="0.35"/>
<line x1="611" y1="277.5" x2="620.4" y2="277.5" stroke="#222" stroke-width="0.6" opacity="0.35"/>
<line x1="532.9" y1="254.5" x2="615.7" y2="254.5" stroke="#222" stroke-width="0.9"/>
<text x="574.4" y="251.6" font-size="8.6" text-anchor="middle" fill="#222">ns</text>
<line x1="518.7" y1="327.1" x2="518.7" y2="391.8" stroke="#222" stroke-width="1.2"/><line x1="518.1" y1="391.2" x2="630.2" y2="391.2" stroke="#222" stroke-width="1.2"/><line x1="515.7" y1="327.6" x2="518.7" y2="327.6" stroke="#222" stroke-width="1"/><text x="514.6" y="330.5" font-size="8" text-anchor="end" fill="#222">6</text><line x1="515.7" y1="343.5" x2="518.7" y2="343.5" stroke="#222" stroke-width="1"/><text x="514.6" y="346.4" font-size="8" text-anchor="end" fill="#222">4</text><line x1="515.7" y1="359.4" x2="518.7" y2="359.4" stroke="#222" stroke-width="1"/><text x="514.6" y="362.3" font-size="8" text-anchor="end" fill="#222">2</text><line x1="515.7" y1="375.3" x2="518.7" y2="375.3" stroke="#222" stroke-width="1"/><text x="514.6" y="378.2" font-size="8" text-anchor="end" fill="#222">0</text><line x1="515.7" y1="391.2" x2="518.7" y2="391.2" stroke="#222" stroke-width="1"/><text x="514.6" y="394.1" font-size="8" text-anchor="end" fill="#222">-2</text><line x1="532.4" y1="391.2" x2="532.4" y2="394.8" stroke="#222" stroke-width="1"/><line x1="553" y1="391.2" x2="553" y2="394.8" stroke="#222" stroke-width="1"/><line x1="574" y1="391.2" x2="574" y2="394.8" stroke="#222" stroke-width="1"/><line x1="595" y1="391.2" x2="595" y2="394.8" stroke="#222" stroke-width="1"/><line x1="615.7" y1="391.2" x2="615.7" y2="394.8" stroke="#222" stroke-width="1"/><text x="502.6" y="356" font-size="9" text-anchor="middle" font-style="italic" fill="#222" transform="rotate(-90 502.6 356)">Pdgfra</text>
<path d="M525.8 376Q530.9 375.6 531.7 372.9L533.1 372.9Q533.9 375.6 539 376z" fill="#06A73A"/>
<path d="M532.9 373.3C533.6 372.6 533.8 372 534.6 370.5C535.4 369 535.6 368.9 536.1 367.4C536.6 365.8 536.7 366 536.7 364.2C536.7 362.4 536.6 362.2 536 360.2C535.4 358.2 535.1 358.2 534.4 356.2C533.7 354.2 533.8 354.4 533.3 352.2C532.8 350.1 532.9 348.7 532.6 347.5C532.3 346.3 532.5 346.3 532.2 347.5C531.9 348.7 532 350.1 531.5 352.2C531 354.4 531.1 354.2 530.4 356.2C529.7 358.2 529.4 358.2 528.8 360.2C528.2 362.2 528.1 362.4 528.1 364.2C528.1 366 528.2 365.8 528.7 367.4C529.2 368.9 529.4 369 530.2 370.5C531 372 531.2 372.6 531.9 373.3C532.6 374 532.2 374 532.9 373.3z" fill="#06A73A"/>
<path d="M546.4 376Q551.5 375.6 552.3 372.9L553.7 372.9Q554.5 375.6 559.6 376z" fill="#1492F0"/>
<path d="M553.5 373.3C554.3 372.4 554.5 371.6 555.6 369.7C556.7 367.8 557 367.7 558 365.8C559 363.8 559.7 363.8 559.7 361.8C559.8 359.8 559.1 359.8 558.2 357.8C557.3 355.8 557 355.6 556 353.8C555 352 555.1 352.3 554.4 350.7C553.7 349 553.6 348 553.2 347.1C552.8 346.2 553.2 346.2 552.8 347.1C552.4 348 552.3 349 551.6 350.7C550.9 352.3 551 352 550 353.8C549 355.6 548.7 355.8 547.8 357.8C546.9 359.8 546.2 359.8 546.3 361.8C546.3 363.8 547 363.8 548 365.8C549 367.7 549.3 367.8 550.4 369.7C551.5 371.6 551.7 372.4 552.5 373.3C553.3 374.2 552.7 374.2 553.5 373.3z" fill="#1492F0"/>
<path d="M567.2 376Q572.5 375.6 573.3 372.9L574.7 372.9Q575.5 375.6 580.8 376z" fill="#9545D8"/>
<path d="M574.5 373.7C574.8 372.1 574.6 370.9 574.5 367.4C574.5 363.8 574.5 363.4 574.5 359.4C574.4 355.4 574.4 355.6 574.3 351.5C574.2 347.3 574.2 344.9 574.1 342.7C574 340.5 574 340.5 573.9 342.7C573.8 344.9 573.8 347.3 573.7 351.5C573.6 355.6 573.6 355.4 573.5 359.4C573.5 363.4 573.5 363.8 573.5 367.4C573.4 370.9 573.2 372.1 573.5 373.7C573.8 375.3 574.2 375.3 574.5 373.7z" fill="#9545D8" opacity="0.8"/>
<path d="M588.2 376Q593.5 375.6 594.3 374.2L595.7 374.2Q596.5 375.6 601.8 376z" fill="#FDB900"/>
<line x1="595" y1="352.2" x2="595" y2="359.4" stroke="#FDB900" stroke-width="0.5" opacity="0.4"/>
<path d="M609.1 376Q614.2 375.6 615 373.8L616.4 373.8Q617.2 375.6 622.3 376z" fill="#C02028"/>
<path d="M616.2 373.7C616.5 372.1 616.2 370.9 616.2 367.4C616.2 363.8 616.1 364 616 359.4C615.9 354.8 615.9 351.6 615.8 349.1C615.7 346.5 615.7 346.5 615.6 349.1C615.5 351.6 615.5 354.8 615.4 359.4C615.3 364 615.2 363.8 615.2 367.4C615.2 370.9 615 372.1 615.2 373.7C615.5 375.3 616 375.3 616.2 373.7z" fill="#C02028" opacity="0.7"/>
<line x1="528.6" y1="364.6" x2="536.2" y2="364.6" stroke="#222" stroke-width="0.6" stroke-dasharray="1 0.8"/>
<line x1="529.5" y1="368.1" x2="535.2" y2="368.1" stroke="#222" stroke-width="0.6" opacity="0.35"/>
<line x1="529.5" y1="360.2" x2="535.2" y2="360.2" stroke="#222" stroke-width="0.6" opacity="0.35"/>
<line x1="547" y1="361.8" x2="559" y2="361.8" stroke="#222" stroke-width="0.6" stroke-dasharray="1 0.8"/>
<line x1="548.5" y1="365.8" x2="557.5" y2="365.8" stroke="#222" stroke-width="0.6" opacity="0.35"/>
<line x1="548.5" y1="357.8" x2="557.5" y2="357.8" stroke="#222" stroke-width="0.6" opacity="0.35"/>
<line x1="532.4" y1="343.7" x2="553" y2="343.7" stroke="#222" stroke-width="0.9"/>
<polyline points="542.3,343.7 542.3,334.5 616.1,334.5 616.1,343.7" fill="none" stroke="#222" stroke-width="0.9"/>
<text x="578.2" y="336.6" font-size="11" text-anchor="middle" font-weight="bold" fill="#111">**</text>
<line x1="518.7" y1="405.2" x2="518.7" y2="465.1" stroke="#222" stroke-width="1.2"/><line x1="518.1" y1="464.5" x2="630.2" y2="464.5" stroke="#222" stroke-width="1.2"/><line x1="515.7" y1="405.7" x2="518.7" y2="405.7" stroke="#222" stroke-width="1"/><text x="514.6" y="408.6" font-size="8" text-anchor="end" fill="#222">6</text><line x1="515.7" y1="420.4" x2="518.7" y2="420.4" stroke="#222" stroke-width="1"/><text x="514.6" y="423.3" font-size="8" text-anchor="end" fill="#222">4</text><line x1="515.7" y1="435.1" x2="518.7" y2="435.1" stroke="#222" stroke-width="1"/><text x="514.6" y="438" font-size="8" text-anchor="end" fill="#222">2</text><line x1="515.7" y1="449.8" x2="518.7" y2="449.8" stroke="#222" stroke-width="1"/><text x="514.6" y="452.7" font-size="8" text-anchor="end" fill="#222">0</text><line x1="515.7" y1="464.5" x2="518.7" y2="464.5" stroke="#222" stroke-width="1"/><text x="514.6" y="467.4" font-size="8" text-anchor="end" fill="#222">-2</text><line x1="532.4" y1="464.5" x2="532.4" y2="468.1" stroke="#222" stroke-width="1"/><line x1="553" y1="464.5" x2="553" y2="468.1" stroke="#222" stroke-width="1"/><line x1="574" y1="464.5" x2="574" y2="468.1" stroke="#222" stroke-width="1"/><line x1="595" y1="464.5" x2="595" y2="468.1" stroke="#222" stroke-width="1"/><line x1="615.7" y1="464.5" x2="615.7" y2="468.1" stroke="#222" stroke-width="1"/><text x="502.6" y="431.4" font-size="9" text-anchor="middle" font-style="italic" fill="#222" transform="rotate(-90 502.6 431.4)">Ptn</text>
<path d="M526.2 450.5Q530.9 450.1 531.7 449.1L533.1 449.1Q533.9 450.1 538.6 450.5z" fill="#06A73A"/>
<line x1="532.4" y1="415.3" x2="532.4" y2="449.8" stroke="#06A73A" stroke-width="0.5" opacity="0.45"/>
<path d="M546.8 450.5Q551.5 450.1 552.3 449.1L553.7 449.1Q554.5 450.1 559.2 450.5z" fill="#A8C8F0"/>
<line x1="553" y1="424.8" x2="553" y2="449.8" stroke="#A8C8F0" stroke-width="0.5" opacity="0.6"/>
<path d="M567.2 450.5Q572.5 450.1 573.3 448.4L574.7 448.4Q575.5 450.1 580.8 450.5z" fill="#9545D8"/>
<path d="M574.5 448.3C574.7 445.9 574.4 443.9 574.4 438.8C574.4 433.6 574.4 433.3 574.3 427.8C574.2 422.2 574.2 419.5 574.1 416.7C574 414 574 414 573.9 416.7C573.8 419.5 573.8 422.2 573.7 427.8C573.6 433.3 573.6 433.6 573.6 438.8C573.6 443.9 573.3 445.9 573.5 448.3C573.8 450.7 574.2 450.7 574.5 448.3z" fill="#9545D8" opacity="0.7"/>
<path d="M588.2 450.5Q593.5 450.1 594.3 448L595.7 448Q596.5 450.1 601.8 450.5z" fill="#FDB900"/>
<path d="M595.5 448.3C595.8 446.9 595.6 445.4 595.8 442.4C596 439.5 595.9 439.5 596.4 436.6C596.9 433.6 597.5 433.1 597.6 430.7C597.7 428.3 597.1 429.2 596.6 427C596.1 424.8 596.2 425 595.8 421.9C595.4 418.7 595.3 416.4 595.1 414.5C594.9 412.7 595.1 412.7 594.9 414.5C594.7 416.4 594.6 418.7 594.2 421.9C593.8 425 593.9 424.8 593.4 427C592.9 429.2 592.3 428.3 592.4 430.7C592.5 433.1 593.1 433.6 593.6 436.6C594.1 439.5 594 439.5 594.2 442.4C594.4 445.4 594.2 446.9 594.5 448.3C594.8 449.8 595.2 449.8 595.5 448.3z" fill="#FDB900"/>
<path d="M616.1 449.8C616.5 448.7 616.2 447.6 616.7 445.4C617.2 443.2 617.1 443.2 617.9 441C618.7 438.8 619 438.6 619.9 436.6C620.9 434.5 621 434.7 621.7 432.9C622.4 431.1 622.8 431.1 622.7 429.2C622.6 427.4 622 427.4 621.3 425.5C620.6 423.7 620.8 423.7 620 421.9C619.2 420 619.1 420 618.3 418.2C617.5 416.4 617.3 415.9 616.7 414.5C616.1 413.1 616.2 413.1 615.9 412.7C615.6 412.2 615.8 412.2 615.5 412.7C615.2 413.1 615.3 413.1 614.7 414.5C614.1 415.9 613.9 416.4 613.1 418.2C612.3 420 612.2 420 611.4 421.9C610.7 423.7 610.8 423.7 610.1 425.5C609.4 427.4 608.8 427.4 608.7 429.2C608.6 431.1 609 431.1 609.7 432.9C610.4 434.7 610.5 434.5 611.5 436.6C612.5 438.6 612.7 438.8 613.5 441C614.3 443.2 614.2 443.2 614.7 445.4C615.2 447.6 615 448.7 615.3 449.8C615.7 450.9 615.8 450.9 616.1 449.8z" fill="#A50005"/>
<line x1="609.5" y1="428.5" x2="621.9" y2="428.5" stroke="#222" stroke-width="0.6" stroke-dasharray="1 0.8"/>
<line x1="611.1" y1="432.9" x2="620.3" y2="432.9" stroke="#222" stroke-width="0.6" opacity="0.35"/>
<line x1="611.3" y1="423.3" x2="620.1" y2="423.3" stroke="#222" stroke-width="0.6" opacity="0.35"/>
<line x1="592.8" y1="430.7" x2="597.2" y2="430.7" stroke="#222" stroke-width="0.6" stroke-dasharray="1 0.8"/>
<line x1="528.6" y1="413.3" x2="575.2" y2="413.3" stroke="#222" stroke-width="0.9"/>
<polyline points="552.3,413.3 552.3,409.5 595,409.5" fill="none" stroke="#222" stroke-width="0.9"/>
<polyline points="595,413.3 595,401.9 616.4,401.9 616.4,406.5" fill="none" stroke="#222" stroke-width="0.9"/>
<text x="575.2" y="411.6" font-size="11" text-anchor="middle" font-weight="bold" fill="#111">**</text>
<text x="605.7" y="405.2" font-size="11" text-anchor="middle" font-weight="bold" fill="#111">**</text>
<text x="520.2" y="477.6" font-size="9" text-anchor="end" fill="#222">Cluster</text>
<text x="532.4" y="477.6" font-size="9.5" text-anchor="middle" fill="#222">1</text>
<text x="553" y="477.6" font-size="9.5" text-anchor="middle" fill="#222">2</text>
<text x="574" y="477.6" font-size="9.5" text-anchor="middle" fill="#222">3</text>
<text x="595" y="477.6" font-size="9.5" text-anchor="middle" fill="#222">4</text>
<text x="615.7" y="477.6" font-size="9.5" text-anchor="middle" fill="#222">5</text>
</g>
<g id="p-micro">
<defs><filter id="b05" x="-50%" y="-50%" width="200%" height="200%"><feGaussianBlur stdDeviation="0.45"/></filter><filter id="b1" x="-50%" y="-50%" width="200%" height="200%"><feGaussianBlur stdDeviation="1.0"/></filter><filter id="b2" x="-50%" y="-50%" width="200%" height="200%"><feGaussianBlur stdDeviation="2.0"/></filter><filter id="b3" x="-50%" y="-50%" width="200%" height="200%"><feGaussianBlur stdDeviation="3.2"/></filter><filter id="b5" x="-50%" y="-50%" width="200%" height="200%"><feGaussianBlur stdDeviation="5.0"/></filter><filter id="cellA" x="0" y="0" width="100%" height="100%" color-interpolation-filters="sRGB"><feTurbulence type="fractalNoise" baseFrequency="0.3" numOctaves="1" seed="4"/><feColorMatrix type="matrix" values="0 0 0 0 0.04 0 0 0 0 0.14 0 0 0 0 0.9 3.6 0 0 0 -1.55"/><feGaussianBlur stdDeviation="0.6"/></filter><filter id="cellB" x="0" y="0" width="100%" height="100%" color-interpolation-filters="sRGB"><feTurbulence type="fractalNoise" baseFrequency="0.32" numOctaves="1" seed="9"/><feColorMatrix type="matrix" values="0 0 0 0 0.05 0 0 0 0 0.15 0 0 0 0 0.92 3.6 0 0 0 -1.45"/><feGaussianBlur stdDeviation="0.6"/></filter><filter id="cellC" x="0" y="0" width="100%" height="100%" color-interpolation-filters="sRGB"><feTurbulence type="fractalNoise" baseFrequency="0.36" numOctaves="2" seed="2"/><feColorMatrix type="matrix" values="0 0 0 0 0.05 0 0 0 0 0.1 0 0 0 0 0.8 4.0 0 0 0 -1.7"/><feGaussianBlur stdDeviation="0.6"/></filter><filter id="cellD" x="0" y="0" width="100%" height="100%" color-interpolation-filters="sRGB"><feTurbulence type="fractalNoise" baseFrequency="0.4" numOctaves="2" seed="7"/><feColorMatrix type="matrix" values="0 0 0 0 0.03 0 0 0 0 0.11 0 0 0 0 0.85 4.0 0 0 0 -1.7"/><feGaussianBlur stdDeviation="0.6"/></filter><filter id="hazeR" x="0" y="0" width="100%" height="100%" color-interpolation-filters="sRGB"><feTurbulence type="fractalNoise" baseFrequency="0.12" numOctaves="2" seed="5"/><feColorMatrix type="matrix" values="0 0 0 0 0.5 0 0 0 0 0.02 0 0 0 0 0.02 3.0 0 0 0 -1.2"/><feGaussianBlur stdDeviation="0.6"/></filter><filter id="dark" x="0" y="0" width="100%" height="100%" color-interpolation-filters="sRGB"><feTurbulence type="fractalNoise" baseFrequency="0.09" numOctaves="2" seed="12"/><feColorMatrix type="matrix" values="0 0 0 0 0 0 0 0 0 0 0 0 0 0 0 5.0 0 0 0 -2.2"/><feGaussianBlur stdDeviation="0.6"/></filter><pattern id="nucA0" width="36" height="36" patternUnits="userSpaceOnUse"><g fill="#1636E4"><ellipse cx="8.6" cy="19.6" rx="1.3" ry="1.1" transform="rotate(49.7 8.6 19.6)" opacity="0.7"/><ellipse cx="13.3" cy="21.7" rx="1.5" ry="1.3" transform="rotate(134.4 13.3 21.7)" opacity="0.7"/><ellipse cx="22.5" cy="2.4" rx="1.3" ry="0.9" transform="rotate(74 22.5 2.4)" opacity="0.6"/><ellipse cx="22.5" cy="38.4" rx="1.3" ry="0.9" transform="rotate(74 22.5 38.4)" opacity="0.6"/><ellipse cx="0.5" cy="30.1" rx="1.3" ry="1.2" transform="rotate(126.1 0.5 30.1)" opacity="1"/><ellipse cx="36.5" cy="30.1" rx="1.3" ry="1.2" transform="rotate(126.1 36.5 30.1)" opacity="1"/><ellipse cx="9.3" cy="8.4" rx="1.9" ry="1.7" transform="rotate(67.1 9.3 8.4)" opacity="0.6"/><ellipse cx="-0.2" cy="16.9" rx="1.5" ry="1.1" transform="rotate(94.7 -0.2 16.9)" opacity="0.8"/><ellipse cx="35.8" cy="16.9" rx="1.5" ry="1.1" transform="rotate(94.7 35.8 16.9)" opacity="0.8"/><ellipse cx="30.1" cy="17.1" rx="1.5" ry="1.3" transform="rotate(51.3 30.1 17.1)" opacity="0.8"/><ellipse cx="22.9" cy="31.2" rx="1.8" ry="1.6" transform="rotate(53.5 22.9 31.2)" opacity="0.7"/><ellipse cx="18.8" cy="26.7" rx="1.8" ry="1.1" transform="rotate(23.7 18.8 26.7)" opacity="0.8"/><ellipse cx="27.3" cy="21.3" rx="1.6" ry="1.1" transform="rotate(9 27.3 21.3)" opacity="0.6"/><ellipse cx="10.8" cy="1.1" rx="1.8" ry="1.3" transform="rotate(176.3 10.8 1.1)" opacity="0.9"/><ellipse cx="10.8" cy="37.1" rx="1.8" ry="1.3" transform="rotate(176.3 10.8 37.1)" opacity="0.9"/><ellipse cx="25.7" cy="-2.8" rx="1.9" ry="1.2" transform="rotate(33.3 25.7 -2.8)" opacity="0.6"/><ellipse cx="25.7" cy="33.2" rx="1.9" ry="1.2" transform="rotate(33.3 25.7 33.2)" opacity="0.6"/><ellipse cx="14.2" cy="28.8" rx="1.5" ry="1.1" transform="rotate(9.2 14.2 28.8)" opacity="0.8"/><ellipse cx="16" cy="-2.3" rx="1.3" ry="0.9" transform="rotate(44.5 16 -2.3)" opacity="0.9"/><ellipse cx="16" cy="33.7" rx="1.3" ry="0.9" transform="rotate(44.5 16 33.7)" opacity="0.9"/><ellipse cx="31.6" cy="3.5" rx="1.5" ry="1.1" transform="rotate(7.9 31.6 3.5)" opacity="0.7"/><ellipse cx="4.9" cy="7.8" rx="1.7" ry="1.4" transform="rotate(164.3 4.9 7.8)" opacity="0.9"/><ellipse cx="22.6" cy="10.8" rx="1.4" ry="0.9" transform="rotate(136.5 22.6 10.8)" opacity="0.9"/><ellipse cx="18.3" cy="13.9" rx="1.6" ry="1.4" transform="rotate(99.3 18.3 13.9)" opacity="0.7"/><ellipse cx="30.8" cy="-0.3" rx="1.4" ry="0.8" transform="rotate(115.8 30.8 -0.3)" opacity="1"/><ellipse cx="30.8" cy="35.7" rx="1.4" ry="0.8" transform="rotate(115.8 30.8 35.7)" opacity="1"/><ellipse cx="24.2" cy="5.9" rx="1.8" ry="1.4" transform="rotate(119.8 24.2 5.9)" opacity="1"/><ellipse cx="32.6" cy="20.5" rx="1.8" ry="1.4" transform="rotate(74.6 32.6 20.5)" opacity="0.8"/><ellipse cx="14.8" cy="5.4" rx="1.4" ry="0.9" transform="rotate(123.1 14.8 5.4)" opacity="1"/><ellipse cx="10.6" cy="27.7" rx="1.6" ry="1.2" transform="rotate(63.3 10.6 27.7)" opacity="0.8"/><ellipse cx="25.9" cy="11.9" rx="1.8" ry="1.3" transform="rotate(172.7 25.9 11.9)" opacity="0.6"/><ellipse cx="7.1" cy="14.7" rx="1.5" ry="1.1" transform="rotate(74.1 7.1 14.7)" opacity="0.9"/><ellipse cx="32.3" cy="13.6" rx="1.8" ry="1.7" transform="rotate(110.2 32.3 13.6)" opacity="0.6"/><ellipse cx="16.6" cy="18.7" rx="1.6" ry="1.3" transform="rotate(87.8 16.6 18.7)" opacity="0.7"/><ellipse cx="23.2" cy="21.4" rx="1.7" ry="1.6" transform="rotate(18.4 23.2 21.4)" opacity="0.9"/><ellipse cx="19.7" cy="0.4" rx="1.5" ry="1.2" transform="rotate(161.2 19.7 0.4)" opacity="1"/><ellipse cx="19.7" cy="36.4" rx="1.5" ry="1.2" transform="rotate(161.2 19.7 36.4)" opacity="1"/><ellipse cx="0.7" cy="22.2" rx="1.7" ry="1.1" transform="rotate(165.7 0.7 22.2)" opacity="0.6"/><ellipse cx="36.7" cy="22.2" rx="1.7" ry="1.1" transform="rotate(165.7 36.7 22.2)" opacity="0.6"/><ellipse cx="22.6" cy="16.8" rx="1.5" ry="1.3" transform="rotate(56.9 22.6 16.8)" opacity="0.7"/><ellipse cx="25.5" cy="26.6" rx="1.9" ry="1.7" transform="rotate(57.1 25.5 26.6)" opacity="0.7"/><ellipse cx="0.8" cy="2.2" rx="1.4" ry="0.9" transform="rotate(45 0.8 2.2)" opacity="1"/><ellipse cx="0.8" cy="38.2" rx="1.4" ry="0.9" transform="rotate(45 0.8 38.2)" opacity="1"/><ellipse cx="36.8" cy="2.2" rx="1.4" ry="0.9" transform="rotate(45 36.8 2.2)" opacity="1"/><ellipse cx="36.8" cy="38.2" rx="1.4" ry="0.9" transform="rotate(45 36.8 38.2)" opacity="1"/><ellipse cx="13.1" cy="11.3" rx="1.3" ry="0.9" transform="rotate(36 13.1 11.3)" opacity="0.6"/><ellipse cx="28.9" cy="8.6" rx="1.6" ry="1.4" transform="rotate(150.9 28.9 8.6)" opacity="0.8"/><ellipse cx="8.1" cy="4.4" rx="1.8" ry="1.1" transform="rotate(50.8 8.1 4.4)" opacity="1"/><ellipse cx="19.1" cy="6.9" rx="1.3" ry="0.9" transform="rotate(86.9 19.1 6.9)" opacity="0.7"/><ellipse cx="29" cy="30.2" rx="1.6" ry="1" transform="rotate(42.5 29 30.2)" opacity="1"/><ellipse cx="12.5" cy="15" rx="1.3" ry="1.2" transform="rotate(32 12.5 15)" opacity="1"/><ellipse cx="0.2" cy="-2" rx="1.7" ry="1.4" transform="rotate(25.6 0.2 -2)" opacity="0.6"/><ellipse cx="0.2" cy="34" rx="1.7" ry="1.4" transform="rotate(25.6 0.2 34)" opacity="0.6"/><ellipse cx="36.2" cy="-2" rx="1.7" ry="1.4" transform="rotate(25.6 36.2 -2)" opacity="0.6"/><ellipse cx="36.2" cy="34" rx="1.7" ry="1.4" transform="rotate(25.6 36.2 34)" opacity="0.6"/><ellipse cx="-2.6" cy="8" rx="1.7" ry="1.2" transform="rotate(34.1 -2.6 8)" opacity="0.9"/><ellipse cx="33.4" cy="8" rx="1.7" ry="1.2" transform="rotate(34.1 33.4 8)" opacity="0.9"/><ellipse cx="32.5" cy="25" rx="1.8" ry="1.1" transform="rotate(172.9 32.5 25)" opacity="0.8"/><ellipse cx="-2.7" cy="32.3" rx="1.5" ry="1" transform="rotate(70.2 -2.7 32.3)" opacity="1"/><ellipse cx="33.3" cy="32.3" rx="1.5" ry="1" transform="rotate(70.2 33.3 32.3)" opacity="1"/><ellipse cx="9.1" cy="31" rx="1.4" ry="0.9" transform="rotate(26.1 9.1 31)" opacity="0.6"/><ellipse cx="6.2" cy="28.5" rx="1.5" ry="1.4" transform="rotate(13.9 6.2 28.5)" opacity="0.6"/><ellipse cx="1.8" cy="9.8" rx="1.9" ry="1.8" transform="rotate(176.4 1.8 9.8)" opacity="0.7"/><ellipse cx="37.8" cy="9.8" rx="1.9" ry="1.8" transform="rotate(176.4 37.8 9.8)" opacity="0.7"/><ellipse cx="4.5" cy="2.5" rx="1.5" ry="1.4" transform="rotate(87.3 4.5 2.5)" opacity="0.9"/><ellipse cx="4.5" cy="38.5" rx="1.5" ry="1.4" transform="rotate(87.3 4.5 38.5)" opacity="0.9"/><ellipse cx="3.1" cy="18.1" rx="1.5" ry="0.9" transform="rotate(62.2 3.1 18.1)" opacity="0.9"/><ellipse cx="15.1" cy="25" rx="1.8" ry="1.4" transform="rotate(83.5 15.1 25)" opacity="0.8"/><ellipse cx="32.3" cy="28.5" rx="1.5" ry="1.2" transform="rotate(149.9 32.3 28.5)" opacity="0.6"/><ellipse cx="27.9" cy="1.6" rx="1.6" ry="1.5" transform="rotate(152.7 27.9 1.6)" opacity="0.6"/><ellipse cx="27.9" cy="37.6" rx="1.6" ry="1.5" transform="rotate(152.7 27.9 37.6)" opacity="0.6"/><ellipse cx="9.9" cy="24" rx="1.9" ry="1.7" transform="rotate(30.2 9.9 24)" opacity="0.7"/><ellipse cx="4.1" cy="31.9" rx="1.4" ry="0.9" transform="rotate(176.1 4.1 31.9)" opacity="0.7"/><ellipse cx="2.5" cy="25.8" rx="1.8" ry="1.2" transform="rotate(2.5 2.5 25.8)" opacity="0.9"/><ellipse cx="38.5" cy="25.8" rx="1.8" ry="1.2" transform="rotate(2.5 38.5 25.8)" opacity="0.9"/><ellipse cx="28.2" cy="5.2" rx="1.8" ry="1.7" transform="rotate(123.4 28.2 5.2)" opacity="0.8"/><ellipse cx="2.6" cy="14.4" rx="1.7" ry="1.1" transform="rotate(97.3 2.6 14.4)" opacity="0.7"/><ellipse cx="38.6" cy="14.4" rx="1.7" ry="1.1" transform="rotate(97.3 38.6 14.4)" opacity="0.7"/><ellipse cx="5.5" cy="23.2" rx="1.3" ry="1.1" transform="rotate(58.2 5.5 23.2)" opacity="0.8"/><ellipse cx="8.3" cy="-1.2" rx="1.5" ry="1.1" transform="rotate(64.5 8.3 -1.2)" opacity="0.8"/><ellipse cx="8.3" cy="34.8" rx="1.5" ry="1.1" transform="rotate(64.5 8.3 34.8)" opacity="0.8"/><ellipse cx="26.5" cy="15.2" rx="1.9" ry="1.8" transform="rotate(155.2 26.5 15.2)" opacity="0.9"/><ellipse cx="18.7" cy="23" rx="1.4" ry="1.4" transform="rotate(48.6 18.7 23)" opacity="0.6"/></g></pattern><pattern id="nucA1" width="36" height="36" patternUnits="userSpaceOnUse" patternTransform="rotate(35)"><g fill="#1636E4"><ellipse cx="8.6" cy="19.6" rx="1.3" ry="1.1" transform="rotate(49.7 8.6 19.6)" opacity="0.7"/><ellipse cx="13.3" cy="21.7" rx="1.5" ry="1.3" transform="rotate(134.4 13.3 21.7)" opacity="0.7"/><ellipse cx="22.5" cy="2.4" rx="1.3" ry="0.9" transform="rotate(74 22.5 2.4)" opacity="0.6"/><ellipse cx="22.5" cy="38.4" rx="1.3" ry="0.9" transform="rotate(74 22.5 38.4)" opacity="0.6"/><ellipse cx="0.5" cy="30.1" rx="1.3" ry="1.2" transform="rotate(126.1 0.5 30.1)" opacity="1"/><ellipse cx="36.5" cy="30.1" rx="1.3" ry="1.2" transform="rotate(126.1 36.5 30.1)" opacity="1"/><ellipse cx="9.3" cy="8.4" rx="1.9" ry="1.7" transform="rotate(67.1 9.3 8.4)" opacity="0.6"/><ellipse cx="-0.2" cy="16.9" rx="1.5" ry="1.1" transform="rotate(94.7 -0.2 16.9)" opacity="0.8"/><ellipse cx="35.8" cy="16.9" rx="1.5" ry="1.1" transform="rotate(94.7 35.8 16.9)" opacity="0.8"/><ellipse cx="30.1" cy="17.1" rx="1.5" ry="1.3" transform="rotate(51.3 30.1 17.1)" opacity="0.8"/><ellipse cx="22.9" cy="31.2" rx="1.8" ry="1.6" transform="rotate(53.5 22.9 31.2)" opacity="0.7"/><ellipse cx="18.8" cy="26.7" rx="1.8" ry="1.1" transform="rotate(23.7 18.8 26.7)" opacity="0.8"/><ellipse cx="27.3" cy="21.3" rx="1.6" ry="1.1" transform="rotate(9 27.3 21.3)" opacity="0.6"/><ellipse cx="10.8" cy="1.1" rx="1.8" ry="1.3" transform="rotate(176.3 10.8 1.1)" opacity="0.9"/><ellipse cx="10.8" cy="37.1" rx="1.8" ry="1.3" transform="rotate(176.3 10.8 37.1)" opacity="0.9"/><ellipse cx="25.7" cy="-2.8" rx="1.9" ry="1.2" transform="rotate(33.3 25.7 -2.8)" opacity="0.6"/><ellipse cx="25.7" cy="33.2" rx="1.9" ry="1.2" transform="rotate(33.3 25.7 33.2)" opacity="0.6"/><ellipse cx="14.2" cy="28.8" rx="1.5" ry="1.1" transform="rotate(9.2 14.2 28.8)" opacity="0.8"/><ellipse cx="16" cy="-2.3" rx="1.3" ry="0.9" transform="rotate(44.5 16 -2.3)" opacity="0.9"/><ellipse cx="16" cy="33.7" rx="1.3" ry="0.9" transform="rotate(44.5 16 33.7)" opacity="0.9"/><ellipse cx="31.6" cy="3.5" rx="1.5" ry="1.1" transform="rotate(7.9 31.6 3.5)" opacity="0.7"/><ellipse cx="4.9" cy="7.8" rx="1.7" ry="1.4" transform="rotate(164.3 4.9 7.8)" opacity="0.9"/><ellipse cx="22.6" cy="10.8" rx="1.4" ry="0.9" transform="rotate(136.5 22.6 10.8)" opacity="0.9"/><ellipse cx="18.3" cy="13.9" rx="1.6" ry="1.4" transform="rotate(99.3 18.3 13.9)" opacity="0.7"/><ellipse cx="30.8" cy="-0.3" rx="1.4" ry="0.8" transform="rotate(115.8 30.8 -0.3)" opacity="1"/><ellipse cx="30.8" cy="35.7" rx="1.4" ry="0.8" transform="rotate(115.8 30.8 35.7)" opacity="1"/><ellipse cx="24.2" cy="5.9" rx="1.8" ry="1.4" transform="rotate(119.8 24.2 5.9)" opacity="1"/><ellipse cx="32.6" cy="20.5" rx="1.8" ry="1.4" transform="rotate(74.6 32.6 20.5)" opacity="0.8"/><ellipse cx="14.8" cy="5.4" rx="1.4" ry="0.9" transform="rotate(123.1 14.8 5.4)" opacity="1"/><ellipse cx="10.6" cy="27.7" rx="1.6" ry="1.2" transform="rotate(63.3 10.6 27.7)" opacity="0.8"/><ellipse cx="25.9" cy="11.9" rx="1.8" ry="1.3" transform="rotate(172.7 25.9 11.9)" opacity="0.6"/><ellipse cx="7.1" cy="14.7" rx="1.5" ry="1.1" transform="rotate(74.1 7.1 14.7)" opacity="0.9"/><ellipse cx="32.3" cy="13.6" rx="1.8" ry="1.7" transform="rotate(110.2 32.3 13.6)" opacity="0.6"/><ellipse cx="16.6" cy="18.7" rx="1.6" ry="1.3" transform="rotate(87.8 16.6 18.7)" opacity="0.7"/><ellipse cx="23.2" cy="21.4" rx="1.7" ry="1.6" transform="rotate(18.4 23.2 21.4)" opacity="0.9"/><ellipse cx="19.7" cy="0.4" rx="1.5" ry="1.2" transform="rotate(161.2 19.7 0.4)" opacity="1"/><ellipse cx="19.7" cy="36.4" rx="1.5" ry="1.2" transform="rotate(161.2 19.7 36.4)" opacity="1"/><ellipse cx="0.7" cy="22.2" rx="1.7" ry="1.1" transform="rotate(165.7 0.7 22.2)" opacity="0.6"/><ellipse cx="36.7" cy="22.2" rx="1.7" ry="1.1" transform="rotate(165.7 36.7 22.2)" opacity="0.6"/><ellipse cx="22.6" cy="16.8" rx="1.5" ry="1.3" transform="rotate(56.9 22.6 16.8)" opacity="0.7"/><ellipse cx="25.5" cy="26.6" rx="1.9" ry="1.7" transform="rotate(57.1 25.5 26.6)" opacity="0.7"/><ellipse cx="0.8" cy="2.2" rx="1.4" ry="0.9" transform="rotate(45 0.8 2.2)" opacity="1"/><ellipse cx="0.8" cy="38.2" rx="1.4" ry="0.9" transform="rotate(45 0.8 38.2)" opacity="1"/><ellipse cx="36.8" cy="2.2" rx="1.4" ry="0.9" transform="rotate(45 36.8 2.2)" opacity="1"/><ellipse cx="36.8" cy="38.2" rx="1.4" ry="0.9" transform="rotate(45 36.8 38.2)" opacity="1"/><ellipse cx="13.1" cy="11.3" rx="1.3" ry="0.9" transform="rotate(36 13.1 11.3)" opacity="0.6"/><ellipse cx="28.9" cy="8.6" rx="1.6" ry="1.4" transform="rotate(150.9 28.9 8.6)" opacity="0.8"/><ellipse cx="8.1" cy="4.4" rx="1.8" ry="1.1" transform="rotate(50.8 8.1 4.4)" opacity="1"/><ellipse cx="19.1" cy="6.9" rx="1.3" ry="0.9" transform="rotate(86.9 19.1 6.9)" opacity="0.7"/><ellipse cx="29" cy="30.2" rx="1.6" ry="1" transform="rotate(42.5 29 30.2)" opacity="1"/><ellipse cx="12.5" cy="15" rx="1.3" ry="1.2" transform="rotate(32 12.5 15)" opacity="1"/><ellipse cx="0.2" cy="-2" rx="1.7" ry="1.4" transform="rotate(25.6 0.2 -2)" opacity="0.6"/><ellipse cx="0.2" cy="34" rx="1.7" ry="1.4" transform="rotate(25.6 0.2 34)" opacity="0.6"/><ellipse cx="36.2" cy="-2" rx="1.7" ry="1.4" transform="rotate(25.6 36.2 -2)" opacity="0.6"/><ellipse cx="36.2" cy="34" rx="1.7" ry="1.4" transform="rotate(25.6 36.2 34)" opacity="0.6"/><ellipse cx="-2.6" cy="8" rx="1.7" ry="1.2" transform="rotate(34.1 -2.6 8)" opacity="0.9"/><ellipse cx="33.4" cy="8" rx="1.7" ry="1.2" transform="rotate(34.1 33.4 8)" opacity="0.9"/><ellipse cx="32.5" cy="25" rx="1.8" ry="1.1" transform="rotate(172.9 32.5 25)" opacity="0.8"/><ellipse cx="-2.7" cy="32.3" rx="1.5" ry="1" transform="rotate(70.2 -2.7 32.3)" opacity="1"/><ellipse cx="33.3" cy="32.3" rx="1.5" ry="1" transform="rotate(70.2 33.3 32.3)" opacity="1"/><ellipse cx="9.1" cy="31" rx="1.4" ry="0.9" transform="rotate(26.1 9.1 31)" opacity="0.6"/><ellipse cx="6.2" cy="28.5" rx="1.5" ry="1.4" transform="rotate(13.9 6.2 28.5)" opacity="0.6"/><ellipse cx="1.8" cy="9.8" rx="1.9" ry="1.8" transform="rotate(176.4 1.8 9.8)" opacity="0.7"/><ellipse cx="37.8" cy="9.8" rx="1.9" ry="1.8" transform="rotate(176.4 37.8 9.8)" opacity="0.7"/><ellipse cx="4.5" cy="2.5" rx="1.5" ry="1.4" transform="rotate(87.3 4.5 2.5)" opacity="0.9"/><ellipse cx="4.5" cy="38.5" rx="1.5" ry="1.4" transform="rotate(87.3 4.5 38.5)" opacity="0.9"/><ellipse cx="3.1" cy="18.1" rx="1.5" ry="0.9" transform="rotate(62.2 3.1 18.1)" opacity="0.9"/><ellipse cx="15.1" cy="25" rx="1.8" ry="1.4" transform="rotate(83.5 15.1 25)" opacity="0.8"/><ellipse cx="32.3" cy="28.5" rx="1.5" ry="1.2" transform="rotate(149.9 32.3 28.5)" opacity="0.6"/><ellipse cx="27.9" cy="1.6" rx="1.6" ry="1.5" transform="rotate(152.7 27.9 1.6)" opacity="0.6"/><ellipse cx="27.9" cy="37.6" rx="1.6" ry="1.5" transform="rotate(152.7 27.9 37.6)" opacity="0.6"/><ellipse cx="9.9" cy="24" rx="1.9" ry="1.7" transform="rotate(30.2 9.9 24)" opacity="0.7"/><ellipse cx="4.1" cy="31.9" rx="1.4" ry="0.9" transform="rotate(176.1 4.1 31.9)" opacity="0.7"/><ellipse cx="2.5" cy="25.8" rx="1.8" ry="1.2" transform="rotate(2.5 2.5 25.8)" opacity="0.9"/><ellipse cx="38.5" cy="25.8" rx="1.8" ry="1.2" transform="rotate(2.5 38.5 25.8)" opacity="0.9"/><ellipse cx="28.2" cy="5.2" rx="1.8" ry="1.7" transform="rotate(123.4 28.2 5.2)" opacity="0.8"/><ellipse cx="2.6" cy="14.4" rx="1.7" ry="1.1" transform="rotate(97.3 2.6 14.4)" opacity="0.7"/><ellipse cx="38.6" cy="14.4" rx="1.7" ry="1.1" transform="rotate(97.3 38.6 14.4)" opacity="0.7"/><ellipse cx="5.5" cy="23.2" rx="1.3" ry="1.1" transform="rotate(58.2 5.5 23.2)" opacity="0.8"/><ellipse cx="8.3" cy="-1.2" rx="1.5" ry="1.1" transform="rotate(64.5 8.3 -1.2)" opacity="0.8"/><ellipse cx="8.3" cy="34.8" rx="1.5" ry="1.1" transform="rotate(64.5 8.3 34.8)" opacity="0.8"/><ellipse cx="26.5" cy="15.2" rx="1.9" ry="1.8" transform="rotate(155.2 26.5 15.2)" opacity="0.9"/><ellipse cx="18.7" cy="23" rx="1.4" ry="1.4" transform="rotate(48.6 18.7 23)" opacity="0.6"/></g></pattern><pattern id="nucA2" width="36" height="36" patternUnits="userSpaceOnUse" patternTransform="rotate(-50) translate(7 3)"><g fill="#1636E4"><ellipse cx="8.6" cy="19.6" rx="1.3" ry="1.1" transform="rotate(49.7 8.6 19.6)" opacity="0.7"/><ellipse cx="13.3" cy="21.7" rx="1.5" ry="1.3" transform="rotate(134.4 13.3 21.7)" opacity="0.7"/><ellipse cx="22.5" cy="2.4" rx="1.3" ry="0.9" transform="rotate(74 22.5 2.4)" opacity="0.6"/><ellipse cx="22.5" cy="38.4" rx="1.3" ry="0.9" transform="rotate(74 22.5 38.4)" opacity="0.6"/><ellipse cx="0.5" cy="30.1" rx="1.3" ry="1.2" transform="rotate(126.1 0.5 30.1)" opacity="1"/><ellipse cx="36.5" cy="30.1" rx="1.3" ry="1.2" transform="rotate(126.1 36.5 30.1)" opacity="1"/><ellipse cx="9.3" cy="8.4" rx="1.9" ry="1.7" transform="rotate(67.1 9.3 8.4)" opacity="0.6"/><ellipse cx="-0.2" cy="16.9" rx="1.5" ry="1.1" transform="rotate(94.7 -0.2 16.9)" opacity="0.8"/><ellipse cx="35.8" cy="16.9" rx="1.5" ry="1.1" transform="rotate(94.7 35.8 16.9)" opacity="0.8"/><ellipse cx="30.1" cy="17.1" rx="1.5" ry="1.3" transform="rotate(51.3 30.1 17.1)" opacity="0.8"/><ellipse cx="22.9" cy="31.2" rx="1.8" ry="1.6" transform="rotate(53.5 22.9 31.2)" opacity="0.7"/><ellipse cx="18.8" cy="26.7" rx="1.8" ry="1.1" transform="rotate(23.7 18.8 26.7)" opacity="0.8"/><ellipse cx="27.3" cy="21.3" rx="1.6" ry="1.1" transform="rotate(9 27.3 21.3)" opacity="0.6"/><ellipse cx="10.8" cy="1.1" rx="1.8" ry="1.3" transform="rotate(176.3 10.8 1.1)" opacity="0.9"/><ellipse cx="10.8" cy="37.1" rx="1.8" ry="1.3" transform="rotate(176.3 10.8 37.1)" opacity="0.9"/><ellipse cx="25.7" cy="-2.8" rx="1.9" ry="1.2" transform="rotate(33.3 25.7 -2.8)" opacity="0.6"/><ellipse cx="25.7" cy="33.2" rx="1.9" ry="1.2" transform="rotate(33.3 25.7 33.2)" opacity="0.6"/><ellipse cx="14.2" cy="28.8" rx="1.5" ry="1.1" transform="rotate(9.2 14.2 28.8)" opacity="0.8"/><ellipse cx="16" cy="-2.3" rx="1.3" ry="0.9" transform="rotate(44.5 16 -2.3)" opacity="0.9"/><ellipse cx="16" cy="33.7" rx="1.3" ry="0.9" transform="rotate(44.5 16 33.7)" opacity="0.9"/><ellipse cx="31.6" cy="3.5" rx="1.5" ry="1.1" transform="rotate(7.9 31.6 3.5)" opacity="0.7"/><ellipse cx="4.9" cy="7.8" rx="1.7" ry="1.4" transform="rotate(164.3 4.9 7.8)" opacity="0.9"/><ellipse cx="22.6" cy="10.8" rx="1.4" ry="0.9" transform="rotate(136.5 22.6 10.8)" opacity="0.9"/><ellipse cx="18.3" cy="13.9" rx="1.6" ry="1.4" transform="rotate(99.3 18.3 13.9)" opacity="0.7"/><ellipse cx="30.8" cy="-0.3" rx="1.4" ry="0.8" transform="rotate(115.8 30.8 -0.3)" opacity="1"/><ellipse cx="30.8" cy="35.7" rx="1.4" ry="0.8" transform="rotate(115.8 30.8 35.7)" opacity="1"/><ellipse cx="24.2" cy="5.9" rx="1.8" ry="1.4" transform="rotate(119.8 24.2 5.9)" opacity="1"/><ellipse cx="32.6" cy="20.5" rx="1.8" ry="1.4" transform="rotate(74.6 32.6 20.5)" opacity="0.8"/><ellipse cx="14.8" cy="5.4" rx="1.4" ry="0.9" transform="rotate(123.1 14.8 5.4)" opacity="1"/><ellipse cx="10.6" cy="27.7" rx="1.6" ry="1.2" transform="rotate(63.3 10.6 27.7)" opacity="0.8"/><ellipse cx="25.9" cy="11.9" rx="1.8" ry="1.3" transform="rotate(172.7 25.9 11.9)" opacity="0.6"/><ellipse cx="7.1" cy="14.7" rx="1.5" ry="1.1" transform="rotate(74.1 7.1 14.7)" opacity="0.9"/><ellipse cx="32.3" cy="13.6" rx="1.8" ry="1.7" transform="rotate(110.2 32.3 13.6)" opacity="0.6"/><ellipse cx="16.6" cy="18.7" rx="1.6" ry="1.3" transform="rotate(87.8 16.6 18.7)" opacity="0.7"/><ellipse cx="23.2" cy="21.4" rx="1.7" ry="1.6" transform="rotate(18.4 23.2 21.4)" opacity="0.9"/><ellipse cx="19.7" cy="0.4" rx="1.5" ry="1.2" transform="rotate(161.2 19.7 0.4)" opacity="1"/><ellipse cx="19.7" cy="36.4" rx="1.5" ry="1.2" transform="rotate(161.2 19.7 36.4)" opacity="1"/><ellipse cx="0.7" cy="22.2" rx="1.7" ry="1.1" transform="rotate(165.7 0.7 22.2)" opacity="0.6"/><ellipse cx="36.7" cy="22.2" rx="1.7" ry="1.1" transform="rotate(165.7 36.7 22.2)" opacity="0.6"/><ellipse cx="22.6" cy="16.8" rx="1.5" ry="1.3" transform="rotate(56.9 22.6 16.8)" opacity="0.7"/><ellipse cx="25.5" cy="26.6" rx="1.9" ry="1.7" transform="rotate(57.1 25.5 26.6)" opacity="0.7"/><ellipse cx="0.8" cy="2.2" rx="1.4" ry="0.9" transform="rotate(45 0.8 2.2)" opacity="1"/><ellipse cx="0.8" cy="38.2" rx="1.4" ry="0.9" transform="rotate(45 0.8 38.2)" opacity="1"/><ellipse cx="36.8" cy="2.2" rx="1.4" ry="0.9" transform="rotate(45 36.8 2.2)" opacity="1"/><ellipse cx="36.8" cy="38.2" rx="1.4" ry="0.9" transform="rotate(45 36.8 38.2)" opacity="1"/><ellipse cx="13.1" cy="11.3" rx="1.3" ry="0.9" transform="rotate(36 13.1 11.3)" opacity="0.6"/><ellipse cx="28.9" cy="8.6" rx="1.6" ry="1.4" transform="rotate(150.9 28.9 8.6)" opacity="0.8"/><ellipse cx="8.1" cy="4.4" rx="1.8" ry="1.1" transform="rotate(50.8 8.1 4.4)" opacity="1"/><ellipse cx="19.1" cy="6.9" rx="1.3" ry="0.9" transform="rotate(86.9 19.1 6.9)" opacity="0.7"/><ellipse cx="29" cy="30.2" rx="1.6" ry="1" transform="rotate(42.5 29 30.2)" opacity="1"/><ellipse cx="12.5" cy="15" rx="1.3" ry="1.2" transform="rotate(32 12.5 15)" opacity="1"/><ellipse cx="0.2" cy="-2" rx="1.7" ry="1.4" transform="rotate(25.6 0.2 -2)" opacity="0.6"/><ellipse cx="0.2" cy="34" rx="1.7" ry="1.4" transform="rotate(25.6 0.2 34)" opacity="0.6"/><ellipse cx="36.2" cy="-2" rx="1.7" ry="1.4" transform="rotate(25.6 36.2 -2)" opacity="0.6"/><ellipse cx="36.2" cy="34" rx="1.7" ry="1.4" transform="rotate(25.6 36.2 34)" opacity="0.6"/><ellipse cx="-2.6" cy="8" rx="1.7" ry="1.2" transform="rotate(34.1 -2.6 8)" opacity="0.9"/><ellipse cx="33.4" cy="8" rx="1.7" ry="1.2" transform="rotate(34.1 33.4 8)" opacity="0.9"/><ellipse cx="32.5" cy="25" rx="1.8" ry="1.1" transform="rotate(172.9 32.5 25)" opacity="0.8"/><ellipse cx="-2.7" cy="32.3" rx="1.5" ry="1" transform="rotate(70.2 -2.7 32.3)" opacity="1"/><ellipse cx="33.3" cy="32.3" rx="1.5" ry="1" transform="rotate(70.2 33.3 32.3)" opacity="1"/><ellipse cx="9.1" cy="31" rx="1.4" ry="0.9" transform="rotate(26.1 9.1 31)" opacity="0.6"/><ellipse cx="6.2" cy="28.5" rx="1.5" ry="1.4" transform="rotate(13.9 6.2 28.5)" opacity="0.6"/><ellipse cx="1.8" cy="9.8" rx="1.9" ry="1.8" transform="rotate(176.4 1.8 9.8)" opacity="0.7"/><ellipse cx="37.8" cy="9.8" rx="1.9" ry="1.8" transform="rotate(176.4 37.8 9.8)" opacity="0.7"/><ellipse cx="4.5" cy="2.5" rx="1.5" ry="1.4" transform="rotate(87.3 4.5 2.5)" opacity="0.9"/><ellipse cx="4.5" cy="38.5" rx="1.5" ry="1.4" transform="rotate(87.3 4.5 38.5)" opacity="0.9"/><ellipse cx="3.1" cy="18.1" rx="1.5" ry="0.9" transform="rotate(62.2 3.1 18.1)" opacity="0.9"/><ellipse cx="15.1" cy="25" rx="1.8" ry="1.4" transform="rotate(83.5 15.1 25)" opacity="0.8"/><ellipse cx="32.3" cy="28.5" rx="1.5" ry="1.2" transform="rotate(149.9 32.3 28.5)" opacity="0.6"/><ellipse cx="27.9" cy="1.6" rx="1.6" ry="1.5" transform="rotate(152.7 27.9 1.6)" opacity="0.6"/><ellipse cx="27.9" cy="37.6" rx="1.6" ry="1.5" transform="rotate(152.7 27.9 37.6)" opacity="0.6"/><ellipse cx="9.9" cy="24" rx="1.9" ry="1.7" transform="rotate(30.2 9.9 24)" opacity="0.7"/><ellipse cx="4.1" cy="31.9" rx="1.4" ry="0.9" transform="rotate(176.1 4.1 31.9)" opacity="0.7"/><ellipse cx="2.5" cy="25.8" rx="1.8" ry="1.2" transform="rotate(2.5 2.5 25.8)" opacity="0.9"/><ellipse cx="38.5" cy="25.8" rx="1.8" ry="1.2" transform="rotate(2.5 38.5 25.8)" opacity="0.9"/><ellipse cx="28.2" cy="5.2" rx="1.8" ry="1.7" transform="rotate(123.4 28.2 5.2)" opacity="0.8"/><ellipse cx="2.6" cy="14.4" rx="1.7" ry="1.1" transform="rotate(97.3 2.6 14.4)" opacity="0.7"/><ellipse cx="38.6" cy="14.4" rx="1.7" ry="1.1" transform="rotate(97.3 38.6 14.4)" opacity="0.7"/><ellipse cx="5.5" cy="23.2" rx="1.3" ry="1.1" transform="rotate(58.2 5.5 23.2)" opacity="0.8"/><ellipse cx="8.3" cy="-1.2" rx="1.5" ry="1.1" transform="rotate(64.5 8.3 -1.2)" opacity="0.8"/><ellipse cx="8.3" cy="34.8" rx="1.5" ry="1.1" transform="rotate(64.5 8.3 34.8)" opacity="0.8"/><ellipse cx="26.5" cy="15.2" rx="1.9" ry="1.8" transform="rotate(155.2 26.5 15.2)" opacity="0.9"/><ellipse cx="18.7" cy="23" rx="1.4" ry="1.4" transform="rotate(48.6 18.7 23)" opacity="0.6"/></g></pattern><pattern id="nucA3" width="36" height="36" patternUnits="userSpaceOnUse" patternTransform="rotate(80) translate(3 11)"><g fill="#1636E4"><ellipse cx="8.6" cy="19.6" rx="1.3" ry="1.1" transform="rotate(49.7 8.6 19.6)" opacity="0.7"/><ellipse cx="13.3" cy="21.7" rx="1.5" ry="1.3" transform="rotate(134.4 13.3 21.7)" opacity="0.7"/><ellipse cx="22.5" cy="2.4" rx="1.3" ry="0.9" transform="rotate(74 22.5 2.4)" opacity="0.6"/><ellipse cx="22.5" cy="38.4" rx="1.3" ry="0.9" transform="rotate(74 22.5 38.4)" opacity="0.6"/><ellipse cx="0.5" cy="30.1" rx="1.3" ry="1.2" transform="rotate(126.1 0.5 30.1)" opacity="1"/><ellipse cx="36.5" cy="30.1" rx="1.3" ry="1.2" transform="rotate(126.1 36.5 30.1)" opacity="1"/><ellipse cx="9.3" cy="8.4" rx="1.9" ry="1.7" transform="rotate(67.1 9.3 8.4)" opacity="0.6"/><ellipse cx="-0.2" cy="16.9" rx="1.5" ry="1.1" transform="rotate(94.7 -0.2 16.9)" opacity="0.8"/><ellipse cx="35.8" cy="16.9" rx="1.5" ry="1.1" transform="rotate(94.7 35.8 16.9)" opacity="0.8"/><ellipse cx="30.1" cy="17.1" rx="1.5" ry="1.3" transform="rotate(51.3 30.1 17.1)" opacity="0.8"/><ellipse cx="22.9" cy="31.2" rx="1.8" ry="1.6" transform="rotate(53.5 22.9 31.2)" opacity="0.7"/><ellipse cx="18.8" cy="26.7" rx="1.8" ry="1.1" transform="rotate(23.7 18.8 26.7)" opacity="0.8"/><ellipse cx="27.3" cy="21.3" rx="1.6" ry="1.1" transform="rotate(9 27.3 21.3)" opacity="0.6"/><ellipse cx="10.8" cy="1.1" rx="1.8" ry="1.3" transform="rotate(176.3 10.8 1.1)" opacity="0.9"/><ellipse cx="10.8" cy="37.1" rx="1.8" ry="1.3" transform="rotate(176.3 10.8 37.1)" opacity="0.9"/><ellipse cx="25.7" cy="-2.8" rx="1.9" ry="1.2" transform="rotate(33.3 25.7 -2.8)" opacity="0.6"/><ellipse cx="25.7" cy="33.2" rx="1.9" ry="1.2" transform="rotate(33.3 25.7 33.2)" opacity="0.6"/><ellipse cx="14.2" cy="28.8" rx="1.5" ry="1.1" transform="rotate(9.2 14.2 28.8)" opacity="0.8"/><ellipse cx="16" cy="-2.3" rx="1.3" ry="0.9" transform="rotate(44.5 16 -2.3)" opacity="0.9"/><ellipse cx="16" cy="33.7" rx="1.3" ry="0.9" transform="rotate(44.5 16 33.7)" opacity="0.9"/><ellipse cx="31.6" cy="3.5" rx="1.5" ry="1.1" transform="rotate(7.9 31.6 3.5)" opacity="0.7"/><ellipse cx="4.9" cy="7.8" rx="1.7" ry="1.4" transform="rotate(164.3 4.9 7.8)" opacity="0.9"/><ellipse cx="22.6" cy="10.8" rx="1.4" ry="0.9" transform="rotate(136.5 22.6 10.8)" opacity="0.9"/><ellipse cx="18.3" cy="13.9" rx="1.6" ry="1.4" transform="rotate(99.3 18.3 13.9)" opacity="0.7"/><ellipse cx="30.8" cy="-0.3" rx="1.4" ry="0.8" transform="rotate(115.8 30.8 -0.3)" opacity="1"/><ellipse cx="30.8" cy="35.7" rx="1.4" ry="0.8" transform="rotate(115.8 30.8 35.7)" opacity="1"/><ellipse cx="24.2" cy="5.9" rx="1.8" ry="1.4" transform="rotate(119.8 24.2 5.9)" opacity="1"/><ellipse cx="32.6" cy="20.5" rx="1.8" ry="1.4" transform="rotate(74.6 32.6 20.5)" opacity="0.8"/><ellipse cx="14.8" cy="5.4" rx="1.4" ry="0.9" transform="rotate(123.1 14.8 5.4)" opacity="1"/><ellipse cx="10.6" cy="27.7" rx="1.6" ry="1.2" transform="rotate(63.3 10.6 27.7)" opacity="0.8"/><ellipse cx="25.9" cy="11.9" rx="1.8" ry="1.3" transform="rotate(172.7 25.9 11.9)" opacity="0.6"/><ellipse cx="7.1" cy="14.7" rx="1.5" ry="1.1" transform="rotate(74.1 7.1 14.7)" opacity="0.9"/><ellipse cx="32.3" cy="13.6" rx="1.8" ry="1.7" transform="rotate(110.2 32.3 13.6)" opacity="0.6"/><ellipse cx="16.6" cy="18.7" rx="1.6" ry="1.3" transform="rotate(87.8 16.6 18.7)" opacity="0.7"/><ellipse cx="23.2" cy="21.4" rx="1.7" ry="1.6" transform="rotate(18.4 23.2 21.4)" opacity="0.9"/><ellipse cx="19.7" cy="0.4" rx="1.5" ry="1.2" transform="rotate(161.2 19.7 0.4)" opacity="1"/><ellipse cx="19.7" cy="36.4" rx="1.5" ry="1.2" transform="rotate(161.2 19.7 36.4)" opacity="1"/><ellipse cx="0.7" cy="22.2" rx="1.7" ry="1.1" transform="rotate(165.7 0.7 22.2)" opacity="0.6"/><ellipse cx="36.7" cy="22.2" rx="1.7" ry="1.1" transform="rotate(165.7 36.7 22.2)" opacity="0.6"/><ellipse cx="22.6" cy="16.8" rx="1.5" ry="1.3" transform="rotate(56.9 22.6 16.8)" opacity="0.7"/><ellipse cx="25.5" cy="26.6" rx="1.9" ry="1.7" transform="rotate(57.1 25.5 26.6)" opacity="0.7"/><ellipse cx="0.8" cy="2.2" rx="1.4" ry="0.9" transform="rotate(45 0.8 2.2)" opacity="1"/><ellipse cx="0.8" cy="38.2" rx="1.4" ry="0.9" transform="rotate(45 0.8 38.2)" opacity="1"/><ellipse cx="36.8" cy="2.2" rx="1.4" ry="0.9" transform="rotate(45 36.8 2.2)" opacity="1"/><ellipse cx="36.8" cy="38.2" rx="1.4" ry="0.9" transform="rotate(45 36.8 38.2)" opacity="1"/><ellipse cx="13.1" cy="11.3" rx="1.3" ry="0.9" transform="rotate(36 13.1 11.3)" opacity="0.6"/><ellipse cx="28.9" cy="8.6" rx="1.6" ry="1.4" transform="rotate(150.9 28.9 8.6)" opacity="0.8"/><ellipse cx="8.1" cy="4.4" rx="1.8" ry="1.1" transform="rotate(50.8 8.1 4.4)" opacity="1"/><ellipse cx="19.1" cy="6.9" rx="1.3" ry="0.9" transform="rotate(86.9 19.1 6.9)" opacity="0.7"/><ellipse cx="29" cy="30.2" rx="1.6" ry="1" transform="rotate(42.5 29 30.2)" opacity="1"/><ellipse cx="12.5" cy="15" rx="1.3" ry="1.2" transform="rotate(32 12.5 15)" opacity="1"/><ellipse cx="0.2" cy="-2" rx="1.7" ry="1.4" transform="rotate(25.6 0.2 -2)" opacity="0.6"/><ellipse cx="0.2" cy="34" rx="1.7" ry="1.4" transform="rotate(25.6 0.2 34)" opacity="0.6"/><ellipse cx="36.2" cy="-2" rx="1.7" ry="1.4" transform="rotate(25.6 36.2 -2)" opacity="0.6"/><ellipse cx="36.2" cy="34" rx="1.7" ry="1.4" transform="rotate(25.6 36.2 34)" opacity="0.6"/><ellipse cx="-2.6" cy="8" rx="1.7" ry="1.2" transform="rotate(34.1 -2.6 8)" opacity="0.9"/><ellipse cx="33.4" cy="8" rx="1.7" ry="1.2" transform="rotate(34.1 33.4 8)" opacity="0.9"/><ellipse cx="32.5" cy="25" rx="1.8" ry="1.1" transform="rotate(172.9 32.5 25)" opacity="0.8"/><ellipse cx="-2.7" cy="32.3" rx="1.5" ry="1" transform="rotate(70.2 -2.7 32.3)" opacity="1"/><ellipse cx="33.3" cy="32.3" rx="1.5" ry="1" transform="rotate(70.2 33.3 32.3)" opacity="1"/><ellipse cx="9.1" cy="31" rx="1.4" ry="0.9" transform="rotate(26.1 9.1 31)" opacity="0.6"/><ellipse cx="6.2" cy="28.5" rx="1.5" ry="1.4" transform="rotate(13.9 6.2 28.5)" opacity="0.6"/><ellipse cx="1.8" cy="9.8" rx="1.9" ry="1.8" transform="rotate(176.4 1.8 9.8)" opacity="0.7"/><ellipse cx="37.8" cy="9.8" rx="1.9" ry="1.8" transform="rotate(176.4 37.8 9.8)" opacity="0.7"/><ellipse cx="4.5" cy="2.5" rx="1.5" ry="1.4" transform="rotate(87.3 4.5 2.5)" opacity="0.9"/><ellipse cx="4.5" cy="38.5" rx="1.5" ry="1.4" transform="rotate(87.3 4.5 38.5)" opacity="0.9"/><ellipse cx="3.1" cy="18.1" rx="1.5" ry="0.9" transform="rotate(62.2 3.1 18.1)" opacity="0.9"/><ellipse cx="15.1" cy="25" rx="1.8" ry="1.4" transform="rotate(83.5 15.1 25)" opacity="0.8"/><ellipse cx="32.3" cy="28.5" rx="1.5" ry="1.2" transform="rotate(149.9 32.3 28.5)" opacity="0.6"/><ellipse cx="27.9" cy="1.6" rx="1.6" ry="1.5" transform="rotate(152.7 27.9 1.6)" opacity="0.6"/><ellipse cx="27.9" cy="37.6" rx="1.6" ry="1.5" transform="rotate(152.7 27.9 37.6)" opacity="0.6"/><ellipse cx="9.9" cy="24" rx="1.9" ry="1.7" transform="rotate(30.2 9.9 24)" opacity="0.7"/><ellipse cx="4.1" cy="31.9" rx="1.4" ry="0.9" transform="rotate(176.1 4.1 31.9)" opacity="0.7"/><ellipse cx="2.5" cy="25.8" rx="1.8" ry="1.2" transform="rotate(2.5 2.5 25.8)" opacity="0.9"/><ellipse cx="38.5" cy="25.8" rx="1.8" ry="1.2" transform="rotate(2.5 38.5 25.8)" opacity="0.9"/><ellipse cx="28.2" cy="5.2" rx="1.8" ry="1.7" transform="rotate(123.4 28.2 5.2)" opacity="0.8"/><ellipse cx="2.6" cy="14.4" rx="1.7" ry="1.1" transform="rotate(97.3 2.6 14.4)" opacity="0.7"/><ellipse cx="38.6" cy="14.4" rx="1.7" ry="1.1" transform="rotate(97.3 38.6 14.4)" opacity="0.7"/><ellipse cx="5.5" cy="23.2" rx="1.3" ry="1.1" transform="rotate(58.2 5.5 23.2)" opacity="0.8"/><ellipse cx="8.3" cy="-1.2" rx="1.5" ry="1.1" transform="rotate(64.5 8.3 -1.2)" opacity="0.8"/><ellipse cx="8.3" cy="34.8" rx="1.5" ry="1.1" transform="rotate(64.5 8.3 34.8)" opacity="0.8"/><ellipse cx="26.5" cy="15.2" rx="1.9" ry="1.8" transform="rotate(155.2 26.5 15.2)" opacity="0.9"/><ellipse cx="18.7" cy="23" rx="1.4" ry="1.4" transform="rotate(48.6 18.7 23)" opacity="0.6"/></g></pattern><pattern id="nucB0" width="30" height="30" patternUnits="userSpaceOnUse"><g fill="#1230D0"><ellipse cx="15" cy="22" rx="0.9" ry="0.9" transform="rotate(43.9 15 22)" opacity="0.6"/><ellipse cx="10.2" cy="19.4" rx="1.4" ry="0.9" transform="rotate(162.2 10.2 19.4)" opacity="0.7"/><ellipse cx="8.5" cy="-1" rx="1.1" ry="0.7" transform="rotate(97.6 8.5 -1)" opacity="0.8"/><ellipse cx="8.5" cy="29" rx="1.1" ry="0.7" transform="rotate(97.6 8.5 29)" opacity="0.8"/><ellipse cx="13.6" cy="14.3" rx="1.1" ry="0.9" transform="rotate(53.7 13.6 14.3)" opacity="0.9"/><ellipse cx="15.9" cy="26.2" rx="1.4" ry="1.2" transform="rotate(147.6 15.9 26.2)" opacity="0.6"/><ellipse cx="-0.4" cy="15.9" rx="1" ry="0.7" transform="rotate(27.9 -0.4 15.9)" opacity="1"/><ellipse cx="29.6" cy="15.9" rx="1" ry="0.7" transform="rotate(27.9 29.6 15.9)" opacity="1"/><ellipse cx="13.2" cy="18.5" rx="1.4" ry="1.2" transform="rotate(100.4 13.2 18.5)" opacity="0.6"/><ellipse cx="2.1" cy="12.8" rx="1.1" ry="0.7" transform="rotate(162.8 2.1 12.8)" opacity="0.7"/><ellipse cx="32.1" cy="12.8" rx="1.1" ry="0.7" transform="rotate(162.8 32.1 12.8)" opacity="0.7"/><ellipse cx="25.4" cy="23.3" rx="1" ry="1" transform="rotate(36.1 25.4 23.3)" opacity="1"/><ellipse cx="1.8" cy="25.6" rx="1.1" ry="0.9" transform="rotate(19.2 1.8 25.6)" opacity="1"/><ellipse cx="31.8" cy="25.6" rx="1.1" ry="0.9" transform="rotate(19.2 31.8 25.6)" opacity="1"/><ellipse cx="11.5" cy="-0.6" rx="1.1" ry="0.8" transform="rotate(117.8 11.5 -0.6)" opacity="0.8"/><ellipse cx="11.5" cy="29.4" rx="1.1" ry="0.8" transform="rotate(117.8 11.5 29.4)" opacity="0.8"/><ellipse cx="11" cy="6.4" rx="1" ry="0.7" transform="rotate(103.6 11 6.4)" opacity="0.6"/><ellipse cx="12.9" cy="26" rx="1.3" ry="1" transform="rotate(30.5 12.9 26)" opacity="0.7"/><ellipse cx="21.3" cy="10.8" rx="1" ry="0.7" transform="rotate(97.8 21.3 10.8)" opacity="0.7"/><ellipse cx="9" cy="15.2" rx="1.1" ry="0.7" transform="rotate(87.6 9 15.2)" opacity="0.9"/><ellipse cx="12" cy="11.2" rx="1.1" ry="1" transform="rotate(86.9 12 11.2)" opacity="0.6"/><ellipse cx="19.6" cy="26.3" rx="1" ry="0.9" transform="rotate(86.3 19.6 26.3)" opacity="0.7"/><ellipse cx="17.5" cy="4.4" rx="1.2" ry="1" transform="rotate(67.6 17.5 4.4)" opacity="0.7"/><ellipse cx="6.6" cy="11.1" rx="1.1" ry="0.7" transform="rotate(98.1 6.6 11.1)" opacity="0.8"/><ellipse cx="2.4" cy="9.6" rx="1.1" ry="0.9" transform="rotate(85 2.4 9.6)" opacity="0.9"/><ellipse cx="32.4" cy="9.6" rx="1.1" ry="0.9" transform="rotate(85 32.4 9.6)" opacity="0.9"/><ellipse cx="-2.6" cy="13.2" rx="1" ry="0.9" transform="rotate(20.6 -2.6 13.2)" opacity="0.9"/><ellipse cx="27.4" cy="13.2" rx="1" ry="0.9" transform="rotate(20.6 27.4 13.2)" opacity="0.9"/><ellipse cx="20.5" cy="3.6" rx="1" ry="0.9" transform="rotate(46.9 20.5 3.6)" opacity="0.6"/><ellipse cx="8.6" cy="5.7" rx="1.2" ry="1" transform="rotate(152.2 8.6 5.7)" opacity="0.9"/><ellipse cx="24.7" cy="18" rx="1.4" ry="0.9" transform="rotate(68.2 24.7 18)" opacity="0.6"/><ellipse cx="2.5" cy="0.8" rx="1.3" ry="1" transform="rotate(133.9 2.5 0.8)" opacity="0.9"/><ellipse cx="2.5" cy="30.8" rx="1.3" ry="1" transform="rotate(133.9 2.5 30.8)" opacity="0.9"/><ellipse cx="32.5" cy="0.8" rx="1.3" ry="1" transform="rotate(133.9 32.5 0.8)" opacity="0.9"/><ellipse cx="32.5" cy="30.8" rx="1.3" ry="1" transform="rotate(133.9 32.5 30.8)" opacity="0.9"/><ellipse cx="25" cy="5.5" rx="1.4" ry="1.2" transform="rotate(157.5 25 5.5)" opacity="0.8"/><ellipse cx="18.9" cy="19.8" rx="0.9" ry="0.9" transform="rotate(16.4 18.9 19.8)" opacity="0.6"/><ellipse cx="13.1" cy="2.9" rx="1.3" ry="0.9" transform="rotate(119.2 13.1 2.9)" opacity="0.6"/><ellipse cx="13.1" cy="32.9" rx="1.3" ry="0.9" transform="rotate(119.2 13.1 32.9)" opacity="0.6"/><ellipse cx="-0.6" cy="20.7" rx="1" ry="0.9" transform="rotate(6.8 -0.6 20.7)" opacity="0.8"/><ellipse cx="29.4" cy="20.7" rx="1" ry="0.9" transform="rotate(6.8 29.4 20.7)" opacity="0.8"/><ellipse cx="22.6" cy="-0.2" rx="1.4" ry="0.9" transform="rotate(126.9 22.6 -0.2)" opacity="0.9"/><ellipse cx="22.6" cy="29.8" rx="1.4" ry="0.9" transform="rotate(126.9 22.6 29.8)" opacity="0.9"/><ellipse cx="9.9" cy="12.6" rx="1.2" ry="1.1" transform="rotate(125.7 9.9 12.6)" opacity="0.6"/><ellipse cx="2.7" cy="19.2" rx="1" ry="0.8" transform="rotate(174.6 2.7 19.2)" opacity="0.6"/><ellipse cx="32.7" cy="19.2" rx="1" ry="0.8" transform="rotate(174.6 32.7 19.2)" opacity="0.6"/><ellipse cx="0.8" cy="-1.9" rx="1.2" ry="0.8" transform="rotate(152.4 0.8 -1.9)" opacity="0.8"/><ellipse cx="0.8" cy="28.1" rx="1.2" ry="0.8" transform="rotate(152.4 0.8 28.1)" opacity="0.8"/><ellipse cx="30.8" cy="-1.9" rx="1.2" ry="0.8" transform="rotate(152.4 30.8 -1.9)" opacity="0.8"/><ellipse cx="30.8" cy="28.1" rx="1.2" ry="0.8" transform="rotate(152.4 30.8 28.1)" opacity="0.8"/><ellipse cx="15.7" cy="17.2" rx="1.2" ry="1" transform="rotate(24.6 15.7 17.2)" opacity="0.9"/><ellipse cx="2.6" cy="7" rx="1.3" ry="1.2" transform="rotate(50.7 2.6 7)" opacity="0.7"/><ellipse cx="32.6" cy="7" rx="1.3" ry="1.2" transform="rotate(50.7 32.6 7)" opacity="0.7"/><ellipse cx="16.2" cy="8.5" rx="1" ry="0.9" transform="rotate(78.8 16.2 8.5)" opacity="0.7"/><ellipse cx="4" cy="15.9" rx="1.2" ry="1" transform="rotate(57.3 4 15.9)" opacity="0.7"/><ellipse cx="18.6" cy="10.6" rx="1.3" ry="1.1" transform="rotate(53.3 18.6 10.6)" opacity="0.6"/><ellipse cx="23.1" cy="-2.7" rx="1.4" ry="1.2" transform="rotate(107 23.1 -2.7)" opacity="0.7"/><ellipse cx="23.1" cy="27.3" rx="1.4" ry="1.2" transform="rotate(107 23.1 27.3)" opacity="0.7"/><ellipse cx="6.1" cy="1.8" rx="1.4" ry="1" transform="rotate(39 6.1 1.8)" opacity="0.6"/><ellipse cx="6.1" cy="31.8" rx="1.4" ry="1" transform="rotate(39 6.1 31.8)" opacity="0.6"/><ellipse cx="5.8" cy="26.1" rx="1.1" ry="0.9" transform="rotate(65.6 5.8 26.1)" opacity="1"/><ellipse cx="-1.9" cy="3.6" rx="1.2" ry="0.9" transform="rotate(118.9 -1.9 3.6)" opacity="0.8"/><ellipse cx="28.1" cy="3.6" rx="1.2" ry="0.9" transform="rotate(118.9 28.1 3.6)" opacity="0.8"/><ellipse cx="25" cy="1.7" rx="1.2" ry="0.9" transform="rotate(94.1 25 1.7)" opacity="0.8"/><ellipse cx="25" cy="31.7" rx="1.2" ry="0.9" transform="rotate(94.1 25 31.7)" opacity="0.8"/><ellipse cx="5.3" cy="7.5" rx="1.3" ry="0.9" transform="rotate(141.4 5.3 7.5)" opacity="0.7"/><ellipse cx="7.9" cy="20.8" rx="1.3" ry="0.8" transform="rotate(87.3 7.9 20.8)" opacity="0.7"/><ellipse cx="10.2" cy="3.3" rx="1.3" ry="0.8" transform="rotate(47.2 10.2 3.3)" opacity="0.6"/><ellipse cx="21" cy="6.5" rx="1.2" ry="0.9" transform="rotate(0.1 21 6.5)" opacity="0.6"/><ellipse cx="5.3" cy="22.5" rx="1" ry="0.9" transform="rotate(81.9 5.3 22.5)" opacity="0.8"/><ellipse cx="11.8" cy="16.2" rx="1" ry="0.9" transform="rotate(146.3 11.8 16.2)" opacity="0.9"/><ellipse cx="14.5" cy="5.4" rx="0.9" ry="0.7" transform="rotate(88 14.5 5.4)" opacity="0.6"/><ellipse cx="22" cy="17.5" rx="1.3" ry="0.9" transform="rotate(52.8 22 17.5)" opacity="0.8"/><ellipse cx="26.5" cy="16.2" rx="1.2" ry="0.9" transform="rotate(154.7 26.5 16.2)" opacity="0.8"/><ellipse cx="13" cy="7.9" rx="1.1" ry="0.7" transform="rotate(99.5 13 7.9)" opacity="0.7"/><ellipse cx="-0.4" cy="23.7" rx="1.2" ry="0.8" transform="rotate(1.2 -0.4 23.7)" opacity="0.6"/><ellipse cx="29.6" cy="23.7" rx="1.2" ry="0.8" transform="rotate(1.2 29.6 23.7)" opacity="0.6"/><ellipse cx="9.8" cy="22.9" rx="1" ry="0.6" transform="rotate(153.3 9.8 22.9)" opacity="0.8"/><ellipse cx="15.1" cy="-1.4" rx="1" ry="0.9" transform="rotate(114.2 15.1 -1.4)" opacity="0.6"/><ellipse cx="15.1" cy="28.6" rx="1" ry="0.9" transform="rotate(114.2 15.1 28.6)" opacity="0.6"/><ellipse cx="-2.4" cy="6.1" rx="1.3" ry="0.9" transform="rotate(179.5 -2.4 6.1)" opacity="0.6"/><ellipse cx="27.6" cy="6.1" rx="1.3" ry="0.9" transform="rotate(179.5 27.6 6.1)" opacity="0.6"/><ellipse cx="4.8" cy="-0.6" rx="1" ry="0.7" transform="rotate(155.2 4.8 -0.6)" opacity="0.9"/><ellipse cx="4.8" cy="29.4" rx="1" ry="0.7" transform="rotate(155.2 4.8 29.4)" opacity="0.9"/><ellipse cx="22.2" cy="14.5" rx="1.2" ry="0.8" transform="rotate(77.2 22.2 14.5)" opacity="0.9"/><ellipse cx="24.1" cy="11.7" rx="0.9" ry="0.9" transform="rotate(151.4 24.1 11.7)" opacity="1"/><ellipse cx="19.9" cy="22.1" rx="1.2" ry="1" transform="rotate(175.5 19.9 22.1)" opacity="0.7"/><ellipse cx="15.6" cy="12.8" rx="1.1" ry="0.7" transform="rotate(32.5 15.6 12.8)" opacity="0.9"/><ellipse cx="26.1" cy="-2.8" rx="0.9" ry="0.8" transform="rotate(71.3 26.1 -2.8)" opacity="0.9"/><ellipse cx="26.1" cy="27.2" rx="0.9" ry="0.8" transform="rotate(71.3 26.1 27.2)" opacity="0.9"/><ellipse cx="9" cy="9.2" rx="1.3" ry="1.1" transform="rotate(152.1 9 9.2)" opacity="0.6"/><ellipse cx="-1.1" cy="0.2" rx="1" ry="0.8" transform="rotate(77.3 -1.1 0.2)" opacity="0.9"/><ellipse cx="-1.1" cy="30.2" rx="1" ry="0.8" transform="rotate(77.3 -1.1 30.2)" opacity="0.9"/><ellipse cx="28.9" cy="0.2" rx="1" ry="0.8" transform="rotate(77.3 28.9 0.2)" opacity="0.9"/><ellipse cx="28.9" cy="30.2" rx="1" ry="0.8" transform="rotate(77.3 28.9 30.2)" opacity="0.9"/><ellipse cx="18" cy="0.9" rx="1.3" ry="1.2" transform="rotate(167.2 18 0.9)" opacity="0.9"/><ellipse cx="18" cy="30.9" rx="1.3" ry="1.2" transform="rotate(167.2 18 30.9)" opacity="0.9"/><ellipse cx="5.9" cy="18.2" rx="1.1" ry="0.8" transform="rotate(134.7 5.9 18.2)" opacity="0.9"/><ellipse cx="17.8" cy="-1.6" rx="1.1" ry="0.8" transform="rotate(110.6 17.8 -1.6)" opacity="0.7"/><ellipse cx="17.8" cy="28.4" rx="1.1" ry="0.8" transform="rotate(110.6 17.8 28.4)" opacity="0.7"/><ellipse cx="8.8" cy="25.7" rx="1.3" ry="0.8" transform="rotate(116.8 8.8 25.7)" opacity="0.8"/><ellipse cx="-0.7" cy="8.5" rx="1" ry="0.8" transform="rotate(85.3 -0.7 8.5)" opacity="1"/><ellipse cx="29.3" cy="8.5" rx="1" ry="0.8" transform="rotate(85.3 29.3 8.5)" opacity="1"/></g></pattern><pattern id="nucB1" width="30" height="30" patternUnits="userSpaceOnUse" patternTransform="rotate(35)"><g fill="#1230D0"><ellipse cx="15" cy="22" rx="0.9" ry="0.9" transform="rotate(43.9 15 22)" opacity="0.6"/><ellipse cx="10.2" cy="19.4" rx="1.4" ry="0.9" transform="rotate(162.2 10.2 19.4)" opacity="0.7"/><ellipse cx="8.5" cy="-1" rx="1.1" ry="0.7" transform="rotate(97.6 8.5 -1)" opacity="0.8"/><ellipse cx="8.5" cy="29" rx="1.1" ry="0.7" transform="rotate(97.6 8.5 29)" opacity="0.8"/><ellipse cx="13.6" cy="14.3" rx="1.1" ry="0.9" transform="rotate(53.7 13.6 14.3)" opacity="0.9"/><ellipse cx="15.9" cy="26.2" rx="1.4" ry="1.2" transform="rotate(147.6 15.9 26.2)" opacity="0.6"/><ellipse cx="-0.4" cy="15.9" rx="1" ry="0.7" transform="rotate(27.9 -0.4 15.9)" opacity="1"/><ellipse cx="29.6" cy="15.9" rx="1" ry="0.7" transform="rotate(27.9 29.6 15.9)" opacity="1"/><ellipse cx="13.2" cy="18.5" rx="1.4" ry="1.2" transform="rotate(100.4 13.2 18.5)" opacity="0.6"/><ellipse cx="2.1" cy="12.8" rx="1.1" ry="0.7" transform="rotate(162.8 2.1 12.8)" opacity="0.7"/><ellipse cx="32.1" cy="12.8" rx="1.1" ry="0.7" transform="rotate(162.8 32.1 12.8)" opacity="0.7"/><ellipse cx="25.4" cy="23.3" rx="1" ry="1" transform="rotate(36.1 25.4 23.3)" opacity="1"/><ellipse cx="1.8" cy="25.6" rx="1.1" ry="0.9" transform="rotate(19.2 1.8 25.6)" opacity="1"/><ellipse cx="31.8" cy="25.6" rx="1.1" ry="0.9" transform="rotate(19.2 31.8 25.6)" opacity="1"/><ellipse cx="11.5" cy="-0.6" rx="1.1" ry="0.8" transform="rotate(117.8 11.5 -0.6)" opacity="0.8"/><ellipse cx="11.5" cy="29.4" rx="1.1" ry="0.8" transform="rotate(117.8 11.5 29.4)" opacity="0.8"/><ellipse cx="11" cy="6.4" rx="1" ry="0.7" transform="rotate(103.6 11 6.4)" opacity="0.6"/><ellipse cx="12.9" cy="26" rx="1.3" ry="1" transform="rotate(30.5 12.9 26)" opacity="0.7"/><ellipse cx="21.3" cy="10.8" rx="1" ry="0.7" transform="rotate(97.8 21.3 10.8)" opacity="0.7"/><ellipse cx="9" cy="15.2" rx="1.1" ry="0.7" transform="rotate(87.6 9 15.2)" opacity="0.9"/><ellipse cx="12" cy="11.2" rx="1.1" ry="1" transform="rotate(86.9 12 11.2)" opacity="0.6"/><ellipse cx="19.6" cy="26.3" rx="1" ry="0.9" transform="rotate(86.3 19.6 26.3)" opacity="0.7"/><ellipse cx="17.5" cy="4.4" rx="1.2" ry="1" transform="rotate(67.6 17.5 4.4)" opacity="0.7"/><ellipse cx="6.6" cy="11.1" rx="1.1" ry="0.7" transform="rotate(98.1 6.6 11.1)" opacity="0.8"/><ellipse cx="2.4" cy="9.6" rx="1.1" ry="0.9" transform="rotate(85 2.4 9.6)" opacity="0.9"/><ellipse cx="32.4" cy="9.6" rx="1.1" ry="0.9" transform="rotate(85 32.4 9.6)" opacity="0.9"/><ellipse cx="-2.6" cy="13.2" rx="1" ry="0.9" transform="rotate(20.6 -2.6 13.2)" opacity="0.9"/><ellipse cx="27.4" cy="13.2" rx="1" ry="0.9" transform="rotate(20.6 27.4 13.2)" opacity="0.9"/><ellipse cx="20.5" cy="3.6" rx="1" ry="0.9" transform="rotate(46.9 20.5 3.6)" opacity="0.6"/><ellipse cx="8.6" cy="5.7" rx="1.2" ry="1" transform="rotate(152.2 8.6 5.7)" opacity="0.9"/><ellipse cx="24.7" cy="18" rx="1.4" ry="0.9" transform="rotate(68.2 24.7 18)" opacity="0.6"/><ellipse cx="2.5" cy="0.8" rx="1.3" ry="1" transform="rotate(133.9 2.5 0.8)" opacity="0.9"/><ellipse cx="2.5" cy="30.8" rx="1.3" ry="1" transform="rotate(133.9 2.5 30.8)" opacity="0.9"/><ellipse cx="32.5" cy="0.8" rx="1.3" ry="1" transform="rotate(133.9 32.5 0.8)" opacity="0.9"/><ellipse cx="32.5" cy="30.8" rx="1.3" ry="1" transform="rotate(133.9 32.5 30.8)" opacity="0.9"/><ellipse cx="25" cy="5.5" rx="1.4" ry="1.2" transform="rotate(157.5 25 5.5)" opacity="0.8"/><ellipse cx="18.9" cy="19.8" rx="0.9" ry="0.9" transform="rotate(16.4 18.9 19.8)" opacity="0.6"/><ellipse cx="13.1" cy="2.9" rx="1.3" ry="0.9" transform="rotate(119.2 13.1 2.9)" opacity="0.6"/><ellipse cx="13.1" cy="32.9" rx="1.3" ry="0.9" transform="rotate(119.2 13.1 32.9)" opacity="0.6"/><ellipse cx="-0.6" cy="20.7" rx="1" ry="0.9" transform="rotate(6.8 -0.6 20.7)" opacity="0.8"/><ellipse cx="29.4" cy="20.7" rx="1" ry="0.9" transform="rotate(6.8 29.4 20.7)" opacity="0.8"/><ellipse cx="22.6" cy="-0.2" rx="1.4" ry="0.9" transform="rotate(126.9 22.6 -0.2)" opacity="0.9"/><ellipse cx="22.6" cy="29.8" rx="1.4" ry="0.9" transform="rotate(126.9 22.6 29.8)" opacity="0.9"/><ellipse cx="9.9" cy="12.6" rx="1.2" ry="1.1" transform="rotate(125.7 9.9 12.6)" opacity="0.6"/><ellipse cx="2.7" cy="19.2" rx="1" ry="0.8" transform="rotate(174.6 2.7 19.2)" opacity="0.6"/><ellipse cx="32.7" cy="19.2" rx="1" ry="0.8" transform="rotate(174.6 32.7 19.2)" opacity="0.6"/><ellipse cx="0.8" cy="-1.9" rx="1.2" ry="0.8" transform="rotate(152.4 0.8 -1.9)" opacity="0.8"/><ellipse cx="0.8" cy="28.1" rx="1.2" ry="0.8" transform="rotate(152.4 0.8 28.1)" opacity="0.8"/><ellipse cx="30.8" cy="-1.9" rx="1.2" ry="0.8" transform="rotate(152.4 30.8 -1.9)" opacity="0.8"/><ellipse cx="30.8" cy="28.1" rx="1.2" ry="0.8" transform="rotate(152.4 30.8 28.1)" opacity="0.8"/><ellipse cx="15.7" cy="17.2" rx="1.2" ry="1" transform="rotate(24.6 15.7 17.2)" opacity="0.9"/><ellipse cx="2.6" cy="7" rx="1.3" ry="1.2" transform="rotate(50.7 2.6 7)" opacity="0.7"/><ellipse cx="32.6" cy="7" rx="1.3" ry="1.2" transform="rotate(50.7 32.6 7)" opacity="0.7"/><ellipse cx="16.2" cy="8.5" rx="1" ry="0.9" transform="rotate(78.8 16.2 8.5)" opacity="0.7"/><ellipse cx="4" cy="15.9" rx="1.2" ry="1" transform="rotate(57.3 4 15.9)" opacity="0.7"/><ellipse cx="18.6" cy="10.6" rx="1.3" ry="1.1" transform="rotate(53.3 18.6 10.6)" opacity="0.6"/><ellipse cx="23.1" cy="-2.7" rx="1.4" ry="1.2" transform="rotate(107 23.1 -2.7)" opacity="0.7"/><ellipse cx="23.1" cy="27.3" rx="1.4" ry="1.2" transform="rotate(107 23.1 27.3)" opacity="0.7"/><ellipse cx="6.1" cy="1.8" rx="1.4" ry="1" transform="rotate(39 6.1 1.8)" opacity="0.6"/><ellipse cx="6.1" cy="31.8" rx="1.4" ry="1" transform="rotate(39 6.1 31.8)" opacity="0.6"/><ellipse cx="5.8" cy="26.1" rx="1.1" ry="0.9" transform="rotate(65.6 5.8 26.1)" opacity="1"/><ellipse cx="-1.9" cy="3.6" rx="1.2" ry="0.9" transform="rotate(118.9 -1.9 3.6)" opacity="0.8"/><ellipse cx="28.1" cy="3.6" rx="1.2" ry="0.9" transform="rotate(118.9 28.1 3.6)" opacity="0.8"/><ellipse cx="25" cy="1.7" rx="1.2" ry="0.9" transform="rotate(94.1 25 1.7)" opacity="0.8"/><ellipse cx="25" cy="31.7" rx="1.2" ry="0.9" transform="rotate(94.1 25 31.7)" opacity="0.8"/><ellipse cx="5.3" cy="7.5" rx="1.3" ry="0.9" transform="rotate(141.4 5.3 7.5)" opacity="0.7"/><ellipse cx="7.9" cy="20.8" rx="1.3" ry="0.8" transform="rotate(87.3 7.9 20.8)" opacity="0.7"/><ellipse cx="10.2" cy="3.3" rx="1.3" ry="0.8" transform="rotate(47.2 10.2 3.3)" opacity="0.6"/><ellipse cx="21" cy="6.5" rx="1.2" ry="0.9" transform="rotate(0.1 21 6.5)" opacity="0.6"/><ellipse cx="5.3" cy="22.5" rx="1" ry="0.9" transform="rotate(81.9 5.3 22.5)" opacity="0.8"/><ellipse cx="11.8" cy="16.2" rx="1" ry="0.9" transform="rotate(146.3 11.8 16.2)" opacity="0.9"/><ellipse cx="14.5" cy="5.4" rx="0.9" ry="0.7" transform="rotate(88 14.5 5.4)" opacity="0.6"/><ellipse cx="22" cy="17.5" rx="1.3" ry="0.9" transform="rotate(52.8 22 17.5)" opacity="0.8"/><ellipse cx="26.5" cy="16.2" rx="1.2" ry="0.9" transform="rotate(154.7 26.5 16.2)" opacity="0.8"/><ellipse cx="13" cy="7.9" rx="1.1" ry="0.7" transform="rotate(99.5 13 7.9)" opacity="0.7"/><ellipse cx="-0.4" cy="23.7" rx="1.2" ry="0.8" transform="rotate(1.2 -0.4 23.7)" opacity="0.6"/><ellipse cx="29.6" cy="23.7" rx="1.2" ry="0.8" transform="rotate(1.2 29.6 23.7)" opacity="0.6"/><ellipse cx="9.8" cy="22.9" rx="1" ry="0.6" transform="rotate(153.3 9.8 22.9)" opacity="0.8"/><ellipse cx="15.1" cy="-1.4" rx="1" ry="0.9" transform="rotate(114.2 15.1 -1.4)" opacity="0.6"/><ellipse cx="15.1" cy="28.6" rx="1" ry="0.9" transform="rotate(114.2 15.1 28.6)" opacity="0.6"/><ellipse cx="-2.4" cy="6.1" rx="1.3" ry="0.9" transform="rotate(179.5 -2.4 6.1)" opacity="0.6"/><ellipse cx="27.6" cy="6.1" rx="1.3" ry="0.9" transform="rotate(179.5 27.6 6.1)" opacity="0.6"/><ellipse cx="4.8" cy="-0.6" rx="1" ry="0.7" transform="rotate(155.2 4.8 -0.6)" opacity="0.9"/><ellipse cx="4.8" cy="29.4" rx="1" ry="0.7" transform="rotate(155.2 4.8 29.4)" opacity="0.9"/><ellipse cx="22.2" cy="14.5" rx="1.2" ry="0.8" transform="rotate(77.2 22.2 14.5)" opacity="0.9"/><ellipse cx="24.1" cy="11.7" rx="0.9" ry="0.9" transform="rotate(151.4 24.1 11.7)" opacity="1"/><ellipse cx="19.9" cy="22.1" rx="1.2" ry="1" transform="rotate(175.5 19.9 22.1)" opacity="0.7"/><ellipse cx="15.6" cy="12.8" rx="1.1" ry="0.7" transform="rotate(32.5 15.6 12.8)" opacity="0.9"/><ellipse cx="26.1" cy="-2.8" rx="0.9" ry="0.8" transform="rotate(71.3 26.1 -2.8)" opacity="0.9"/><ellipse cx="26.1" cy="27.2" rx="0.9" ry="0.8" transform="rotate(71.3 26.1 27.2)" opacity="0.9"/><ellipse cx="9" cy="9.2" rx="1.3" ry="1.1" transform="rotate(152.1 9 9.2)" opacity="0.6"/><ellipse cx="-1.1" cy="0.2" rx="1" ry="0.8" transform="rotate(77.3 -1.1 0.2)" opacity="0.9"/><ellipse cx="-1.1" cy="30.2" rx="1" ry="0.8" transform="rotate(77.3 -1.1 30.2)" opacity="0.9"/><ellipse cx="28.9" cy="0.2" rx="1" ry="0.8" transform="rotate(77.3 28.9 0.2)" opacity="0.9"/><ellipse cx="28.9" cy="30.2" rx="1" ry="0.8" transform="rotate(77.3 28.9 30.2)" opacity="0.9"/><ellipse cx="18" cy="0.9" rx="1.3" ry="1.2" transform="rotate(167.2 18 0.9)" opacity="0.9"/><ellipse cx="18" cy="30.9" rx="1.3" ry="1.2" transform="rotate(167.2 18 30.9)" opacity="0.9"/><ellipse cx="5.9" cy="18.2" rx="1.1" ry="0.8" transform="rotate(134.7 5.9 18.2)" opacity="0.9"/><ellipse cx="17.8" cy="-1.6" rx="1.1" ry="0.8" transform="rotate(110.6 17.8 -1.6)" opacity="0.7"/><ellipse cx="17.8" cy="28.4" rx="1.1" ry="0.8" transform="rotate(110.6 17.8 28.4)" opacity="0.7"/><ellipse cx="8.8" cy="25.7" rx="1.3" ry="0.8" transform="rotate(116.8 8.8 25.7)" opacity="0.8"/><ellipse cx="-0.7" cy="8.5" rx="1" ry="0.8" transform="rotate(85.3 -0.7 8.5)" opacity="1"/><ellipse cx="29.3" cy="8.5" rx="1" ry="0.8" transform="rotate(85.3 29.3 8.5)" opacity="1"/></g></pattern><pattern id="nucB2" width="30" height="30" patternUnits="userSpaceOnUse" patternTransform="rotate(-50) translate(7 3)"><g fill="#1230D0"><ellipse cx="15" cy="22" rx="0.9" ry="0.9" transform="rotate(43.9 15 22)" opacity="0.6"/><ellipse cx="10.2" cy="19.4" rx="1.4" ry="0.9" transform="rotate(162.2 10.2 19.4)" opacity="0.7"/><ellipse cx="8.5" cy="-1" rx="1.1" ry="0.7" transform="rotate(97.6 8.5 -1)" opacity="0.8"/><ellipse cx="8.5" cy="29" rx="1.1" ry="0.7" transform="rotate(97.6 8.5 29)" opacity="0.8"/><ellipse cx="13.6" cy="14.3" rx="1.1" ry="0.9" transform="rotate(53.7 13.6 14.3)" opacity="0.9"/><ellipse cx="15.9" cy="26.2" rx="1.4" ry="1.2" transform="rotate(147.6 15.9 26.2)" opacity="0.6"/><ellipse cx="-0.4" cy="15.9" rx="1" ry="0.7" transform="rotate(27.9 -0.4 15.9)" opacity="1"/><ellipse cx="29.6" cy="15.9" rx="1" ry="0.7" transform="rotate(27.9 29.6 15.9)" opacity="1"/><ellipse cx="13.2" cy="18.5" rx="1.4" ry="1.2" transform="rotate(100.4 13.2 18.5)" opacity="0.6"/><ellipse cx="2.1" cy="12.8" rx="1.1" ry="0.7" transform="rotate(162.8 2.1 12.8)" opacity="0.7"/><ellipse cx="32.1" cy="12.8" rx="1.1" ry="0.7" transform="rotate(162.8 32.1 12.8)" opacity="0.7"/><ellipse cx="25.4" cy="23.3" rx="1" ry="1" transform="rotate(36.1 25.4 23.3)" opacity="1"/><ellipse cx="1.8" cy="25.6" rx="1.1" ry="0.9" transform="rotate(19.2 1.8 25.6)" opacity="1"/><ellipse cx="31.8" cy="25.6" rx="1.1" ry="0.9" transform="rotate(19.2 31.8 25.6)" opacity="1"/><ellipse cx="11.5" cy="-0.6" rx="1.1" ry="0.8" transform="rotate(117.8 11.5 -0.6)" opacity="0.8"/><ellipse cx="11.5" cy="29.4" rx="1.1" ry="0.8" transform="rotate(117.8 11.5 29.4)" opacity="0.8"/><ellipse cx="11" cy="6.4" rx="1" ry="0.7" transform="rotate(103.6 11 6.4)" opacity="0.6"/><ellipse cx="12.9" cy="26" rx="1.3" ry="1" transform="rotate(30.5 12.9 26)" opacity="0.7"/><ellipse cx="21.3" cy="10.8" rx="1" ry="0.7" transform="rotate(97.8 21.3 10.8)" opacity="0.7"/><ellipse cx="9" cy="15.2" rx="1.1" ry="0.7" transform="rotate(87.6 9 15.2)" opacity="0.9"/><ellipse cx="12" cy="11.2" rx="1.1" ry="1" transform="rotate(86.9 12 11.2)" opacity="0.6"/><ellipse cx="19.6" cy="26.3" rx="1" ry="0.9" transform="rotate(86.3 19.6 26.3)" opacity="0.7"/><ellipse cx="17.5" cy="4.4" rx="1.2" ry="1" transform="rotate(67.6 17.5 4.4)" opacity="0.7"/><ellipse cx="6.6" cy="11.1" rx="1.1" ry="0.7" transform="rotate(98.1 6.6 11.1)" opacity="0.8"/><ellipse cx="2.4" cy="9.6" rx="1.1" ry="0.9" transform="rotate(85 2.4 9.6)" opacity="0.9"/><ellipse cx="32.4" cy="9.6" rx="1.1" ry="0.9" transform="rotate(85 32.4 9.6)" opacity="0.9"/><ellipse cx="-2.6" cy="13.2" rx="1" ry="0.9" transform="rotate(20.6 -2.6 13.2)" opacity="0.9"/><ellipse cx="27.4" cy="13.2" rx="1" ry="0.9" transform="rotate(20.6 27.4 13.2)" opacity="0.9"/><ellipse cx="20.5" cy="3.6" rx="1" ry="0.9" transform="rotate(46.9 20.5 3.6)" opacity="0.6"/><ellipse cx="8.6" cy="5.7" rx="1.2" ry="1" transform="rotate(152.2 8.6 5.7)" opacity="0.9"/><ellipse cx="24.7" cy="18" rx="1.4" ry="0.9" transform="rotate(68.2 24.7 18)" opacity="0.6"/><ellipse cx="2.5" cy="0.8" rx="1.3" ry="1" transform="rotate(133.9 2.5 0.8)" opacity="0.9"/><ellipse cx="2.5" cy="30.8" rx="1.3" ry="1" transform="rotate(133.9 2.5 30.8)" opacity="0.9"/><ellipse cx="32.5" cy="0.8" rx="1.3" ry="1" transform="rotate(133.9 32.5 0.8)" opacity="0.9"/><ellipse cx="32.5" cy="30.8" rx="1.3" ry="1" transform="rotate(133.9 32.5 30.8)" opacity="0.9"/><ellipse cx="25" cy="5.5" rx="1.4" ry="1.2" transform="rotate(157.5 25 5.5)" opacity="0.8"/><ellipse cx="18.9" cy="19.8" rx="0.9" ry="0.9" transform="rotate(16.4 18.9 19.8)" opacity="0.6"/><ellipse cx="13.1" cy="2.9" rx="1.3" ry="0.9" transform="rotate(119.2 13.1 2.9)" opacity="0.6"/><ellipse cx="13.1" cy="32.9" rx="1.3" ry="0.9" transform="rotate(119.2 13.1 32.9)" opacity="0.6"/><ellipse cx="-0.6" cy="20.7" rx="1" ry="0.9" transform="rotate(6.8 -0.6 20.7)" opacity="0.8"/><ellipse cx="29.4" cy="20.7" rx="1" ry="0.9" transform="rotate(6.8 29.4 20.7)" opacity="0.8"/><ellipse cx="22.6" cy="-0.2" rx="1.4" ry="0.9" transform="rotate(126.9 22.6 -0.2)" opacity="0.9"/><ellipse cx="22.6" cy="29.8" rx="1.4" ry="0.9" transform="rotate(126.9 22.6 29.8)" opacity="0.9"/><ellipse cx="9.9" cy="12.6" rx="1.2" ry="1.1" transform="rotate(125.7 9.9 12.6)" opacity="0.6"/><ellipse cx="2.7" cy="19.2" rx="1" ry="0.8" transform="rotate(174.6 2.7 19.2)" opacity="0.6"/><ellipse cx="32.7" cy="19.2" rx="1" ry="0.8" transform="rotate(174.6 32.7 19.2)" opacity="0.6"/><ellipse cx="0.8" cy="-1.9" rx="1.2" ry="0.8" transform="rotate(152.4 0.8 -1.9)" opacity="0.8"/><ellipse cx="0.8" cy="28.1" rx="1.2" ry="0.8" transform="rotate(152.4 0.8 28.1)" opacity="0.8"/><ellipse cx="30.8" cy="-1.9" rx="1.2" ry="0.8" transform="rotate(152.4 30.8 -1.9)" opacity="0.8"/><ellipse cx="30.8" cy="28.1" rx="1.2" ry="0.8" transform="rotate(152.4 30.8 28.1)" opacity="0.8"/><ellipse cx="15.7" cy="17.2" rx="1.2" ry="1" transform="rotate(24.6 15.7 17.2)" opacity="0.9"/><ellipse cx="2.6" cy="7" rx="1.3" ry="1.2" transform="rotate(50.7 2.6 7)" opacity="0.7"/><ellipse cx="32.6" cy="7" rx="1.3" ry="1.2" transform="rotate(50.7 32.6 7)" opacity="0.7"/><ellipse cx="16.2" cy="8.5" rx="1" ry="0.9" transform="rotate(78.8 16.2 8.5)" opacity="0.7"/><ellipse cx="4" cy="15.9" rx="1.2" ry="1" transform="rotate(57.3 4 15.9)" opacity="0.7"/><ellipse cx="18.6" cy="10.6" rx="1.3" ry="1.1" transform="rotate(53.3 18.6 10.6)" opacity="0.6"/><ellipse cx="23.1" cy="-2.7" rx="1.4" ry="1.2" transform="rotate(107 23.1 -2.7)" opacity="0.7"/><ellipse cx="23.1" cy="27.3" rx="1.4" ry="1.2" transform="rotate(107 23.1 27.3)" opacity="0.7"/><ellipse cx="6.1" cy="1.8" rx="1.4" ry="1" transform="rotate(39 6.1 1.8)" opacity="0.6"/><ellipse cx="6.1" cy="31.8" rx="1.4" ry="1" transform="rotate(39 6.1 31.8)" opacity="0.6"/><ellipse cx="5.8" cy="26.1" rx="1.1" ry="0.9" transform="rotate(65.6 5.8 26.1)" opacity="1"/><ellipse cx="-1.9" cy="3.6" rx="1.2" ry="0.9" transform="rotate(118.9 -1.9 3.6)" opacity="0.8"/><ellipse cx="28.1" cy="3.6" rx="1.2" ry="0.9" transform="rotate(118.9 28.1 3.6)" opacity="0.8"/><ellipse cx="25" cy="1.7" rx="1.2" ry="0.9" transform="rotate(94.1 25 1.7)" opacity="0.8"/><ellipse cx="25" cy="31.7" rx="1.2" ry="0.9" transform="rotate(94.1 25 31.7)" opacity="0.8"/><ellipse cx="5.3" cy="7.5" rx="1.3" ry="0.9" transform="rotate(141.4 5.3 7.5)" opacity="0.7"/><ellipse cx="7.9" cy="20.8" rx="1.3" ry="0.8" transform="rotate(87.3 7.9 20.8)" opacity="0.7"/><ellipse cx="10.2" cy="3.3" rx="1.3" ry="0.8" transform="rotate(47.2 10.2 3.3)" opacity="0.6"/><ellipse cx="21" cy="6.5" rx="1.2" ry="0.9" transform="rotate(0.1 21 6.5)" opacity="0.6"/><ellipse cx="5.3" cy="22.5" rx="1" ry="0.9" transform="rotate(81.9 5.3 22.5)" opacity="0.8"/><ellipse cx="11.8" cy="16.2" rx="1" ry="0.9" transform="rotate(146.3 11.8 16.2)" opacity="0.9"/><ellipse cx="14.5" cy="5.4" rx="0.9" ry="0.7" transform="rotate(88 14.5 5.4)" opacity="0.6"/><ellipse cx="22" cy="17.5" rx="1.3" ry="0.9" transform="rotate(52.8 22 17.5)" opacity="0.8"/><ellipse cx="26.5" cy="16.2" rx="1.2" ry="0.9" transform="rotate(154.7 26.5 16.2)" opacity="0.8"/><ellipse cx="13" cy="7.9" rx="1.1" ry="0.7" transform="rotate(99.5 13 7.9)" opacity="0.7"/><ellipse cx="-0.4" cy="23.7" rx="1.2" ry="0.8" transform="rotate(1.2 -0.4 23.7)" opacity="0.6"/><ellipse cx="29.6" cy="23.7" rx="1.2" ry="0.8" transform="rotate(1.2 29.6 23.7)" opacity="0.6"/><ellipse cx="9.8" cy="22.9" rx="1" ry="0.6" transform="rotate(153.3 9.8 22.9)" opacity="0.8"/><ellipse cx="15.1" cy="-1.4" rx="1" ry="0.9" transform="rotate(114.2 15.1 -1.4)" opacity="0.6"/><ellipse cx="15.1" cy="28.6" rx="1" ry="0.9" transform="rotate(114.2 15.1 28.6)" opacity="0.6"/><ellipse cx="-2.4" cy="6.1" rx="1.3" ry="0.9" transform="rotate(179.5 -2.4 6.1)" opacity="0.6"/><ellipse cx="27.6" cy="6.1" rx="1.3" ry="0.9" transform="rotate(179.5 27.6 6.1)" opacity="0.6"/><ellipse cx="4.8" cy="-0.6" rx="1" ry="0.7" transform="rotate(155.2 4.8 -0.6)" opacity="0.9"/><ellipse cx="4.8" cy="29.4" rx="1" ry="0.7" transform="rotate(155.2 4.8 29.4)" opacity="0.9"/><ellipse cx="22.2" cy="14.5" rx="1.2" ry="0.8" transform="rotate(77.2 22.2 14.5)" opacity="0.9"/><ellipse cx="24.1" cy="11.7" rx="0.9" ry="0.9" transform="rotate(151.4 24.1 11.7)" opacity="1"/><ellipse cx="19.9" cy="22.1" rx="1.2" ry="1" transform="rotate(175.5 19.9 22.1)" opacity="0.7"/><ellipse cx="15.6" cy="12.8" rx="1.1" ry="0.7" transform="rotate(32.5 15.6 12.8)" opacity="0.9"/><ellipse cx="26.1" cy="-2.8" rx="0.9" ry="0.8" transform="rotate(71.3 26.1 -2.8)" opacity="0.9"/><ellipse cx="26.1" cy="27.2" rx="0.9" ry="0.8" transform="rotate(71.3 26.1 27.2)" opacity="0.9"/><ellipse cx="9" cy="9.2" rx="1.3" ry="1.1" transform="rotate(152.1 9 9.2)" opacity="0.6"/><ellipse cx="-1.1" cy="0.2" rx="1" ry="0.8" transform="rotate(77.3 -1.1 0.2)" opacity="0.9"/><ellipse cx="-1.1" cy="30.2" rx="1" ry="0.8" transform="rotate(77.3 -1.1 30.2)" opacity="0.9"/><ellipse cx="28.9" cy="0.2" rx="1" ry="0.8" transform="rotate(77.3 28.9 0.2)" opacity="0.9"/><ellipse cx="28.9" cy="30.2" rx="1" ry="0.8" transform="rotate(77.3 28.9 30.2)" opacity="0.9"/><ellipse cx="18" cy="0.9" rx="1.3" ry="1.2" transform="rotate(167.2 18 0.9)" opacity="0.9"/><ellipse cx="18" cy="30.9" rx="1.3" ry="1.2" transform="rotate(167.2 18 30.9)" opacity="0.9"/><ellipse cx="5.9" cy="18.2" rx="1.1" ry="0.8" transform="rotate(134.7 5.9 18.2)" opacity="0.9"/><ellipse cx="17.8" cy="-1.6" rx="1.1" ry="0.8" transform="rotate(110.6 17.8 -1.6)" opacity="0.7"/><ellipse cx="17.8" cy="28.4" rx="1.1" ry="0.8" transform="rotate(110.6 17.8 28.4)" opacity="0.7"/><ellipse cx="8.8" cy="25.7" rx="1.3" ry="0.8" transform="rotate(116.8 8.8 25.7)" opacity="0.8"/><ellipse cx="-0.7" cy="8.5" rx="1" ry="0.8" transform="rotate(85.3 -0.7 8.5)" opacity="1"/><ellipse cx="29.3" cy="8.5" rx="1" ry="0.8" transform="rotate(85.3 29.3 8.5)" opacity="1"/></g></pattern><pattern id="nucB3" width="30" height="30" patternUnits="userSpaceOnUse" patternTransform="rotate(80) translate(3 11)"><g fill="#1230D0"><ellipse cx="15" cy="22" rx="0.9" ry="0.9" transform="rotate(43.9 15 22)" opacity="0.6"/><ellipse cx="10.2" cy="19.4" rx="1.4" ry="0.9" transform="rotate(162.2 10.2 19.4)" opacity="0.7"/><ellipse cx="8.5" cy="-1" rx="1.1" ry="0.7" transform="rotate(97.6 8.5 -1)" opacity="0.8"/><ellipse cx="8.5" cy="29" rx="1.1" ry="0.7" transform="rotate(97.6 8.5 29)" opacity="0.8"/><ellipse cx="13.6" cy="14.3" rx="1.1" ry="0.9" transform="rotate(53.7 13.6 14.3)" opacity="0.9"/><ellipse cx="15.9" cy="26.2" rx="1.4" ry="1.2" transform="rotate(147.6 15.9 26.2)" opacity="0.6"/><ellipse cx="-0.4" cy="15.9" rx="1" ry="0.7" transform="rotate(27.9 -0.4 15.9)" opacity="1"/><ellipse cx="29.6" cy="15.9" rx="1" ry="0.7" transform="rotate(27.9 29.6 15.9)" opacity="1"/><ellipse cx="13.2" cy="18.5" rx="1.4" ry="1.2" transform="rotate(100.4 13.2 18.5)" opacity="0.6"/><ellipse cx="2.1" cy="12.8" rx="1.1" ry="0.7" transform="rotate(162.8 2.1 12.8)" opacity="0.7"/><ellipse cx="32.1" cy="12.8" rx="1.1" ry="0.7" transform="rotate(162.8 32.1 12.8)" opacity="0.7"/><ellipse cx="25.4" cy="23.3" rx="1" ry="1" transform="rotate(36.1 25.4 23.3)" opacity="1"/><ellipse cx="1.8" cy="25.6" rx="1.1" ry="0.9" transform="rotate(19.2 1.8 25.6)" opacity="1"/><ellipse cx="31.8" cy="25.6" rx="1.1" ry="0.9" transform="rotate(19.2 31.8 25.6)" opacity="1"/><ellipse cx="11.5" cy="-0.6" rx="1.1" ry="0.8" transform="rotate(117.8 11.5 -0.6)" opacity="0.8"/><ellipse cx="11.5" cy="29.4" rx="1.1" ry="0.8" transform="rotate(117.8 11.5 29.4)" opacity="0.8"/><ellipse cx="11" cy="6.4" rx="1" ry="0.7" transform="rotate(103.6 11 6.4)" opacity="0.6"/><ellipse cx="12.9" cy="26" rx="1.3" ry="1" transform="rotate(30.5 12.9 26)" opacity="0.7"/><ellipse cx="21.3" cy="10.8" rx="1" ry="0.7" transform="rotate(97.8 21.3 10.8)" opacity="0.7"/><ellipse cx="9" cy="15.2" rx="1.1" ry="0.7" transform="rotate(87.6 9 15.2)" opacity="0.9"/><ellipse cx="12" cy="11.2" rx="1.1" ry="1" transform="rotate(86.9 12 11.2)" opacity="0.6"/><ellipse cx="19.6" cy="26.3" rx="1" ry="0.9" transform="rotate(86.3 19.6 26.3)" opacity="0.7"/><ellipse cx="17.5" cy="4.4" rx="1.2" ry="1" transform="rotate(67.6 17.5 4.4)" opacity="0.7"/><ellipse cx="6.6" cy="11.1" rx="1.1" ry="0.7" transform="rotate(98.1 6.6 11.1)" opacity="0.8"/><ellipse cx="2.4" cy="9.6" rx="1.1" ry="0.9" transform="rotate(85 2.4 9.6)" opacity="0.9"/><ellipse cx="32.4" cy="9.6" rx="1.1" ry="0.9" transform="rotate(85 32.4 9.6)" opacity="0.9"/><ellipse cx="-2.6" cy="13.2" rx="1" ry="0.9" transform="rotate(20.6 -2.6 13.2)" opacity="0.9"/><ellipse cx="27.4" cy="13.2" rx="1" ry="0.9" transform="rotate(20.6 27.4 13.2)" opacity="0.9"/><ellipse cx="20.5" cy="3.6" rx="1" ry="0.9" transform="rotate(46.9 20.5 3.6)" opacity="0.6"/><ellipse cx="8.6" cy="5.7" rx="1.2" ry="1" transform="rotate(152.2 8.6 5.7)" opacity="0.9"/><ellipse cx="24.7" cy="18" rx="1.4" ry="0.9" transform="rotate(68.2 24.7 18)" opacity="0.6"/><ellipse cx="2.5" cy="0.8" rx="1.3" ry="1" transform="rotate(133.9 2.5 0.8)" opacity="0.9"/><ellipse cx="2.5" cy="30.8" rx="1.3" ry="1" transform="rotate(133.9 2.5 30.8)" opacity="0.9"/><ellipse cx="32.5" cy="0.8" rx="1.3" ry="1" transform="rotate(133.9 32.5 0.8)" opacity="0.9"/><ellipse cx="32.5" cy="30.8" rx="1.3" ry="1" transform="rotate(133.9 32.5 30.8)" opacity="0.9"/><ellipse cx="25" cy="5.5" rx="1.4" ry="1.2" transform="rotate(157.5 25 5.5)" opacity="0.8"/><ellipse cx="18.9" cy="19.8" rx="0.9" ry="0.9" transform="rotate(16.4 18.9 19.8)" opacity="0.6"/><ellipse cx="13.1" cy="2.9" rx="1.3" ry="0.9" transform="rotate(119.2 13.1 2.9)" opacity="0.6"/><ellipse cx="13.1" cy="32.9" rx="1.3" ry="0.9" transform="rotate(119.2 13.1 32.9)" opacity="0.6"/><ellipse cx="-0.6" cy="20.7" rx="1" ry="0.9" transform="rotate(6.8 -0.6 20.7)" opacity="0.8"/><ellipse cx="29.4" cy="20.7" rx="1" ry="0.9" transform="rotate(6.8 29.4 20.7)" opacity="0.8"/><ellipse cx="22.6" cy="-0.2" rx="1.4" ry="0.9" transform="rotate(126.9 22.6 -0.2)" opacity="0.9"/><ellipse cx="22.6" cy="29.8" rx="1.4" ry="0.9" transform="rotate(126.9 22.6 29.8)" opacity="0.9"/><ellipse cx="9.9" cy="12.6" rx="1.2" ry="1.1" transform="rotate(125.7 9.9 12.6)" opacity="0.6"/><ellipse cx="2.7" cy="19.2" rx="1" ry="0.8" transform="rotate(174.6 2.7 19.2)" opacity="0.6"/><ellipse cx="32.7" cy="19.2" rx="1" ry="0.8" transform="rotate(174.6 32.7 19.2)" opacity="0.6"/><ellipse cx="0.8" cy="-1.9" rx="1.2" ry="0.8" transform="rotate(152.4 0.8 -1.9)" opacity="0.8"/><ellipse cx="0.8" cy="28.1" rx="1.2" ry="0.8" transform="rotate(152.4 0.8 28.1)" opacity="0.8"/><ellipse cx="30.8" cy="-1.9" rx="1.2" ry="0.8" transform="rotate(152.4 30.8 -1.9)" opacity="0.8"/><ellipse cx="30.8" cy="28.1" rx="1.2" ry="0.8" transform="rotate(152.4 30.8 28.1)" opacity="0.8"/><ellipse cx="15.7" cy="17.2" rx="1.2" ry="1" transform="rotate(24.6 15.7 17.2)" opacity="0.9"/><ellipse cx="2.6" cy="7" rx="1.3" ry="1.2" transform="rotate(50.7 2.6 7)" opacity="0.7"/><ellipse cx="32.6" cy="7" rx="1.3" ry="1.2" transform="rotate(50.7 32.6 7)" opacity="0.7"/><ellipse cx="16.2" cy="8.5" rx="1" ry="0.9" transform="rotate(78.8 16.2 8.5)" opacity="0.7"/><ellipse cx="4" cy="15.9" rx="1.2" ry="1" transform="rotate(57.3 4 15.9)" opacity="0.7"/><ellipse cx="18.6" cy="10.6" rx="1.3" ry="1.1" transform="rotate(53.3 18.6 10.6)" opacity="0.6"/><ellipse cx="23.1" cy="-2.7" rx="1.4" ry="1.2" transform="rotate(107 23.1 -2.7)" opacity="0.7"/><ellipse cx="23.1" cy="27.3" rx="1.4" ry="1.2" transform="rotate(107 23.1 27.3)" opacity="0.7"/><ellipse cx="6.1" cy="1.8" rx="1.4" ry="1" transform="rotate(39 6.1 1.8)" opacity="0.6"/><ellipse cx="6.1" cy="31.8" rx="1.4" ry="1" transform="rotate(39 6.1 31.8)" opacity="0.6"/><ellipse cx="5.8" cy="26.1" rx="1.1" ry="0.9" transform="rotate(65.6 5.8 26.1)" opacity="1"/><ellipse cx="-1.9" cy="3.6" rx="1.2" ry="0.9" transform="rotate(118.9 -1.9 3.6)" opacity="0.8"/><ellipse cx="28.1" cy="3.6" rx="1.2" ry="0.9" transform="rotate(118.9 28.1 3.6)" opacity="0.8"/><ellipse cx="25" cy="1.7" rx="1.2" ry="0.9" transform="rotate(94.1 25 1.7)" opacity="0.8"/><ellipse cx="25" cy="31.7" rx="1.2" ry="0.9" transform="rotate(94.1 25 31.7)" opacity="0.8"/><ellipse cx="5.3" cy="7.5" rx="1.3" ry="0.9" transform="rotate(141.4 5.3 7.5)" opacity="0.7"/><ellipse cx="7.9" cy="20.8" rx="1.3" ry="0.8" transform="rotate(87.3 7.9 20.8)" opacity="0.7"/><ellipse cx="10.2" cy="3.3" rx="1.3" ry="0.8" transform="rotate(47.2 10.2 3.3)" opacity="0.6"/><ellipse cx="21" cy="6.5" rx="1.2" ry="0.9" transform="rotate(0.1 21 6.5)" opacity="0.6"/><ellipse cx="5.3" cy="22.5" rx="1" ry="0.9" transform="rotate(81.9 5.3 22.5)" opacity="0.8"/><ellipse cx="11.8" cy="16.2" rx="1" ry="0.9" transform="rotate(146.3 11.8 16.2)" opacity="0.9"/><ellipse cx="14.5" cy="5.4" rx="0.9" ry="0.7" transform="rotate(88 14.5 5.4)" opacity="0.6"/><ellipse cx="22" cy="17.5" rx="1.3" ry="0.9" transform="rotate(52.8 22 17.5)" opacity="0.8"/><ellipse cx="26.5" cy="16.2" rx="1.2" ry="0.9" transform="rotate(154.7 26.5 16.2)" opacity="0.8"/><ellipse cx="13" cy="7.9" rx="1.1" ry="0.7" transform="rotate(99.5 13 7.9)" opacity="0.7"/><ellipse cx="-0.4" cy="23.7" rx="1.2" ry="0.8" transform="rotate(1.2 -0.4 23.7)" opacity="0.6"/><ellipse cx="29.6" cy="23.7" rx="1.2" ry="0.8" transform="rotate(1.2 29.6 23.7)" opacity="0.6"/><ellipse cx="9.8" cy="22.9" rx="1" ry="0.6" transform="rotate(153.3 9.8 22.9)" opacity="0.8"/><ellipse cx="15.1" cy="-1.4" rx="1" ry="0.9" transform="rotate(114.2 15.1 -1.4)" opacity="0.6"/><ellipse cx="15.1" cy="28.6" rx="1" ry="0.9" transform="rotate(114.2 15.1 28.6)" opacity="0.6"/><ellipse cx="-2.4" cy="6.1" rx="1.3" ry="0.9" transform="rotate(179.5 -2.4 6.1)" opacity="0.6"/><ellipse cx="27.6" cy="6.1" rx="1.3" ry="0.9" transform="rotate(179.5 27.6 6.1)" opacity="0.6"/><ellipse cx="4.8" cy="-0.6" rx="1" ry="0.7" transform="rotate(155.2 4.8 -0.6)" opacity="0.9"/><ellipse cx="4.8" cy="29.4" rx="1" ry="0.7" transform="rotate(155.2 4.8 29.4)" opacity="0.9"/><ellipse cx="22.2" cy="14.5" rx="1.2" ry="0.8" transform="rotate(77.2 22.2 14.5)" opacity="0.9"/><ellipse cx="24.1" cy="11.7" rx="0.9" ry="0.9" transform="rotate(151.4 24.1 11.7)" opacity="1"/><ellipse cx="19.9" cy="22.1" rx="1.2" ry="1" transform="rotate(175.5 19.9 22.1)" opacity="0.7"/><ellipse cx="15.6" cy="12.8" rx="1.1" ry="0.7" transform="rotate(32.5 15.6 12.8)" opacity="0.9"/><ellipse cx="26.1" cy="-2.8" rx="0.9" ry="0.8" transform="rotate(71.3 26.1 -2.8)" opacity="0.9"/><ellipse cx="26.1" cy="27.2" rx="0.9" ry="0.8" transform="rotate(71.3 26.1 27.2)" opacity="0.9"/><ellipse cx="9" cy="9.2" rx="1.3" ry="1.1" transform="rotate(152.1 9 9.2)" opacity="0.6"/><ellipse cx="-1.1" cy="0.2" rx="1" ry="0.8" transform="rotate(77.3 -1.1 0.2)" opacity="0.9"/><ellipse cx="-1.1" cy="30.2" rx="1" ry="0.8" transform="rotate(77.3 -1.1 30.2)" opacity="0.9"/><ellipse cx="28.9" cy="0.2" rx="1" ry="0.8" transform="rotate(77.3 28.9 0.2)" opacity="0.9"/><ellipse cx="28.9" cy="30.2" rx="1" ry="0.8" transform="rotate(77.3 28.9 30.2)" opacity="0.9"/><ellipse cx="18" cy="0.9" rx="1.3" ry="1.2" transform="rotate(167.2 18 0.9)" opacity="0.9"/><ellipse cx="18" cy="30.9" rx="1.3" ry="1.2" transform="rotate(167.2 18 30.9)" opacity="0.9"/><ellipse cx="5.9" cy="18.2" rx="1.1" ry="0.8" transform="rotate(134.7 5.9 18.2)" opacity="0.9"/><ellipse cx="17.8" cy="-1.6" rx="1.1" ry="0.8" transform="rotate(110.6 17.8 -1.6)" opacity="0.7"/><ellipse cx="17.8" cy="28.4" rx="1.1" ry="0.8" transform="rotate(110.6 17.8 28.4)" opacity="0.7"/><ellipse cx="8.8" cy="25.7" rx="1.3" ry="0.8" transform="rotate(116.8 8.8 25.7)" opacity="0.8"/><ellipse cx="-0.7" cy="8.5" rx="1" ry="0.8" transform="rotate(85.3 -0.7 8.5)" opacity="1"/><ellipse cx="29.3" cy="8.5" rx="1" ry="0.8" transform="rotate(85.3 29.3 8.5)" opacity="1"/></g></pattern></defs>
<text x="59.7" y="507.5" font-size="12" text-anchor="middle" fill="#2a2a2a">Sham</text>
<text x="138.4" y="507.5" font-size="12" text-anchor="middle" fill="#2a2a2a">ADT</text>
<text x="222.3" y="507.5" font-size="12" text-anchor="middle" fill="#4a4a4a">Sham</text>
<text x="297" y="507.5" font-size="12" text-anchor="middle" fill="#4a4a4a">ADT</text>
<text x="525" y="507.3" font-size="12.7" text-anchor="middle" fill="#444">PDX-WCS</text>
<text x="601" y="507.3" font-size="12.7" text-anchor="middle" fill="#444">PDX-WCSCR</text>
<text x="688.2" y="507.3" font-size="12.7" text-anchor="middle" fill="#444">PDX-WCS</text>
<text x="764" y="507.3" font-size="12.7" text-anchor="middle" fill="#444">PDX-WCSCR</text>
<text x="121.2" y="677.6" font-size="14" fill="#222"><tspan font-style="italic">Pten</tspan><tspan dy="-4.3" font-size="9.6" font-style="normal">PC−/−</tspan><tspan dy="4.3">; <tspan font-style="italic">Trp</tspan>53</tspan><tspan dy="-4.3" font-size="9.6" font-style="normal">PC−/−</tspan></text>
<clipPath id="cr1"><rect x="23.3" y="510.5" width="74" height="74.3"/></clipPath><g clip-path="url(#cr1)"><rect x="23.3" y="510.5" width="74" height="74.3" fill="#020000"/><path d="M27 523.6h1v1h-1zM28.1 568.1h1v1h-1zM24.1 533.5h1v1h-1zM28.1 578.3h1v1h-1zM31.1 559.5h1v1h-1zM27.2 569.5h1v1h-1zM29.2 572.4h1v1h-1zM25.3 543.2h1v1h-1zM26.8 557.8h1v1h-1zM27.2 581.1h1v1h-1zM23.8 563.8h1v1h-1zM29.6 571.7h1v1h-1zM29.5 542h1v1h-1zM28.2 564.6h1v1h-1zM29.3 570.4h1v1h-1zM25.6 544h1v1h-1zM25.6 542.6h1v1h-1zM27.1 543.5h1v1h-1z" fill="#8A0A0A" filter="url(#b05)" opacity="0.8"/><path d="M60.7 526.2h1v1h-1zM55.5 531.2h1v1h-1zM66.4 515.2h1v1h-1zM64.9 527.6h1v1h-1zM62.2 528.4h1v1h-1zM49.2 559.2h1v1h-1zM68.6 557.3h1v1h-1zM71.3 517.8h1v1h-1zM67.4 534.8h1v1h-1zM63.8 522.7h1v1h-1zM61.9 534.2h1v1h-1zM72.1 519.2h1v1h-1zM62.4 526.1h1v1h-1zM55.4 529.9h1v1h-1zM64.1 525.4h1v1h-1zM65.4 529.2h1v1h-1zM66 525.8h1v1h-1zM57.8 537.8h1v1h-1zM66.2 524h1v1h-1zM58.8 552h1v1h-1zM65.1 533.2h1v1h-1z" fill="#8A0A0A" filter="url(#b05)" opacity="0.8"/><path d="M64 566.2C65.1 568.7 65.3 569.7 67.7 574.4C70.1 579.1 70.8 579.6 72.1 581.8" fill="none" stroke="#7A0808" stroke-width="0.8" stroke-linecap="round" filter="url(#b05)" opacity="0.8"/><path d="M47.5 521.2h1.3v1.3h-1.3zM46.4 521.5h1.3v1.3h-1.3zM45.4 521.9h1.3v1.3h-1.3z" fill="#D01010" filter="url(#b05)" opacity="1.0"/><path d="M29.9 581.6h1.3v1.3h-1.3zM29.7 581.9h1.3v1.3h-1.3z" fill="#D01010" filter="url(#b05)" opacity="1.0"/><path d="M59.1 535.9h1.2v1.2h-1.2zM58.7 535.6h1.2v1.2h-1.2zM58.9 538.7h1.2v1.2h-1.2z" fill="#A00C0C" filter="url(#b05)" opacity="1.0"/><line x1="25.9" y1="578.3" x2="52.9" y2="578.3" stroke="#C0C0C0" stroke-width="1.5"/><text x="94.6" y="582.3" font-size="10.6" text-anchor="end" fill="#E00A0A">PTN</text></g>
<clipPath id="cr2"><rect x="100.2" y="510.5" width="74" height="74.3"/></clipPath><g clip-path="url(#cr2)"><rect x="100.2" y="510.5" width="74" height="74.3" fill="#030000"/><ellipse cx="124.6" cy="531.3" rx="14.8" ry="10.4" fill="#3A0000" transform="rotate(-25 124.6 531.3)" filter="url(#b3)" opacity="0.8"/><path d="M130.5 534.7h1.4v1.4h-1.4zM124.9 529.6h1.4v1.4h-1.4zM126.3 530.6h1.4v1.4h-1.4zM128.3 521.9h1.4v1.4h-1.4zM112.9 524.2h1.4v1.4h-1.4zM139 536.6h1.4v1.4h-1.4zM118.1 537.2h1.4v1.4h-1.4zM110.6 536.5h1.4v1.4h-1.4zM122.2 526h1.4v1.4h-1.4zM125 522.8h1.4v1.4h-1.4zM128.1 540.8h1.4v1.4h-1.4zM131.1 516.7h1.4v1.4h-1.4zM119.9 544.6h1.4v1.4h-1.4zM120.1 513.9h1.4v1.4h-1.4zM109.9 537.6h1.4v1.4h-1.4zM122.1 522.4h1.4v1.4h-1.4zM114.6 533.7h1.4v1.4h-1.4zM126.9 523.3h1.4v1.4h-1.4zM119.7 522.9h1.4v1.4h-1.4zM119.1 526.2h1.4v1.4h-1.4zM136.1 528.6h1.4v1.4h-1.4zM129.9 531.7h1.4v1.4h-1.4zM122.9 527.9h1.4v1.4h-1.4zM130.9 521.6h1.4v1.4h-1.4zM110.1 532.3h1.4v1.4h-1.4zM125 529.5h1.4v1.4h-1.4zM117.8 523.7h1.4v1.4h-1.4zM109.6 526.7h1.4v1.4h-1.4zM124 533.4h1.4v1.4h-1.4zM125.9 528.1h1.4v1.4h-1.4zM111.2 534.6h1.4v1.4h-1.4zM126.3 527.6h1.4v1.4h-1.4zM121.2 528.2h1.4v1.4h-1.4zM113 537.3h1.4v1.4h-1.4zM124.1 527.8h1.4v1.4h-1.4zM121.7 526.8h1.4v1.4h-1.4zM107.7 547.7h1.4v1.4h-1.4zM124.3 527.2h1.4v1.4h-1.4zM125.3 528.9h1.4v1.4h-1.4zM122.9 528.1h1.4v1.4h-1.4zM122 518.6h1.4v1.4h-1.4zM125.9 514.4h1.4v1.4h-1.4zM109.2 527.2h1.4v1.4h-1.4zM110.2 533.3h1.4v1.4h-1.4zM134.1 528.3h1.4v1.4h-1.4zM131.3 525.6h1.4v1.4h-1.4zM120.5 527.1h1.4v1.4h-1.4z" fill="#D01414" filter="url(#b05)" opacity="0.9"/><path d="M117 535L120.1 533.4M118.2 535.2L123.2 535.3M117.9 536.3L120.8 533.3M119.8 534.3L124.9 534.6M119.7 536.5L121.3 534.6M122.2 529.3L124.5 528M119.4 534.9L124 534.2M122.8 530.5L125.1 528.8" fill="none" stroke="#F01818" stroke-width="1.3" stroke-linecap="round" filter="url(#b05)" opacity="1.0"/><path d="M103.1 547.3h1v1h-1zM104.9 554.1h1v1h-1zM110.8 548.9h1v1h-1zM102.2 552.7h1v1h-1zM110.9 533.5h1v1h-1zM119.2 534.1h1v1h-1zM115.7 526.5h1v1h-1zM107 542.2h1v1h-1zM119.8 537h1v1h-1zM111.4 551.4h1v1h-1zM113.5 544.4h1v1h-1zM117.6 535.7h1v1h-1zM109.5 548.3h1v1h-1zM112.6 532.9h1v1h-1zM114.2 539.5h1v1h-1zM105.8 558.2h1v1h-1zM111.9 544h1v1h-1zM105.9 546.4h1v1h-1zM105.9 550.8h1v1h-1zM112.8 543h1v1h-1zM112.3 540.3h1v1h-1zM107.5 548h1v1h-1zM109.1 538.3h1v1h-1zM105.3 549.6h1v1h-1zM109.2 544.5h1v1h-1zM114.2 543.1h1v1h-1zM109.9 538.1h1v1h-1zM109.1 547.9h1v1h-1zM114.3 533.5h1v1h-1zM101.3 561.3h1v1h-1zM115.7 538.1h1v1h-1zM105.6 543.5h1v1h-1zM110.1 545.3h1v1h-1zM112.7 533h1v1h-1zM111.4 540.1h1v1h-1zM119.6 529.9h1v1h-1z" fill="#B01010" filter="url(#b05)" opacity="0.85"/><path d="M122.4 540.2C118.4 542.9 115.1 542.9 109.1 549.1C103.1 555.4 104.4 557.5 102.4 561" fill="none" stroke="#C01010" stroke-width="1" stroke-linecap="round" filter="url(#b05)" opacity="0.8" stroke-dasharray="2 1.5"/><path d="M107.7 563.4h1.6v1.6h-1.6zM108.6 562.3h1.6v1.6h-1.6zM108.2 562.3h1.6v1.6h-1.6z" fill="#FF2020" filter="url(#b05)" opacity="1.0"/><path d="M104.3 562.8h1v1h-1zM105 570h1v1h-1zM104.2 567.7h1v1h-1zM105 573.3h1v1h-1zM104.5 570.7h1v1h-1zM109.4 574h1v1h-1zM106.1 579.1h1v1h-1zM111.5 566.9h1v1h-1zM105.6 575h1v1h-1zM107 565.4h1v1h-1zM107.4 567.8h1v1h-1zM110.6 568h1v1h-1zM107.7 562h1v1h-1zM108.8 564.7h1v1h-1zM108.7 571.5h1v1h-1zM106.9 553.5h1v1h-1zM107.5 575.8h1v1h-1zM107.6 564.8h1v1h-1zM107.5 578.9h1v1h-1zM109 572.8h1v1h-1z" fill="#900A0A" filter="url(#b05)" opacity="0.8"/><path d="M140.3 541.1h1v1h-1zM164.1 543.8h1v1h-1zM145.2 550.4h1v1h-1zM153 544.4h1v1h-1zM162.5 548h1v1h-1zM154.5 540.4h1v1h-1zM146.6 548h1v1h-1zM146.4 568.8h1v1h-1zM154.8 543.9h1v1h-1zM164 544.3h1v1h-1zM158.8 553.8h1v1h-1zM158.6 545.7h1v1h-1zM153.6 525.4h1v1h-1zM168.2 539.2h1v1h-1zM156.6 545h1v1h-1zM141.5 524.8h1v1h-1zM149.5 546.9h1v1h-1zM148.4 556.9h1v1h-1zM135.7 554.9h1v1h-1zM152.1 548.1h1v1h-1zM132.8 524.1h1v1h-1zM134.1 548.6h1v1h-1zM147.2 533.7h1v1h-1zM152.3 544.9h1v1h-1zM147.9 537.6h1v1h-1zM135.8 558.1h1v1h-1zM169.4 562.3h1v1h-1zM159.8 530.9h1v1h-1zM158.6 544h1v1h-1zM130.7 536h1v1h-1z" fill="#700808" filter="url(#b05)" opacity="0.6"/><ellipse cx="149" cy="547.6" rx="2.2" ry="3" fill="#300000" transform="rotate(0 149 547.6)" filter="url(#b1)" opacity="0.9"/></g>
<clipPath id="cr3"><rect x="184.4" y="510.5" width="74" height="74.3"/></clipPath><g clip-path="url(#cr3)"><rect x="184.4" y="510.5" width="74" height="74.3" fill="#030000"/><ellipse cx="195.5" cy="517.9" rx="14.8" ry="7.4" fill="#2C0000" transform="rotate(10 195.5 517.9)" filter="url(#b3)" opacity="0.8"/><path d="M203.5 521.5h1.2v1.2h-1.2zM204.1 518.5h1.2v1.2h-1.2zM201 517.8h1.2v1.2h-1.2zM198.7 518.9h1.2v1.2h-1.2zM202.1 522h1.2v1.2h-1.2zM199.8 510.8h1.2v1.2h-1.2zM185.1 511.3h1.2v1.2h-1.2zM195.4 511.7h1.2v1.2h-1.2zM186.2 517.5h1.2v1.2h-1.2zM199.5 517.4h1.2v1.2h-1.2zM187.4 511.8h1.2v1.2h-1.2zM189.6 516h1.2v1.2h-1.2zM202.8 524.6h1.2v1.2h-1.2zM196.7 512.6h1.2v1.2h-1.2zM204.1 514.9h1.2v1.2h-1.2zM193.8 513.5h1.2v1.2h-1.2zM203.3 516.3h1.2v1.2h-1.2zM195.4 517.4h1.2v1.2h-1.2zM193.8 516h1.2v1.2h-1.2zM192 519.1h1.2v1.2h-1.2zM199.3 515.3h1.2v1.2h-1.2zM208 513.8h1.2v1.2h-1.2zM185.9 516.8h1.2v1.2h-1.2zM198 516.6h1.2v1.2h-1.2zM188.6 519.8h1.2v1.2h-1.2zM195.4 514.5h1.2v1.2h-1.2zM194.4 513.1h1.2v1.2h-1.2zM190 515.9h1.2v1.2h-1.2zM202.8 518.3h1.2v1.2h-1.2zM199.3 514.4h1.2v1.2h-1.2zM206.9 519.4h1.2v1.2h-1.2zM192.4 517.4h1.2v1.2h-1.2zM197.5 525h1.2v1.2h-1.2zM202.6 514.6h1.2v1.2h-1.2z" fill="#D01414" filter="url(#b05)" opacity="0.9"/><path d="M184.9 516.2L189.3 516M197.8 513.3L200.9 511.1M198.1 511.8L201.7 512.6M201.2 516.6L204.1 517.9M194.7 515.5L195.8 518.5M190.2 514.3L192.2 514.1" fill="none" stroke="#E81818" stroke-width="1.2" stroke-linecap="round" filter="url(#b05)" opacity="1.0"/><path d="M231.4 547.4h1v1h-1zM213.1 537.9h1v1h-1zM214.2 532.5h1v1h-1zM203.7 527h1v1h-1zM228.2 541.7h1v1h-1zM226.1 540.6h1v1h-1zM225.1 534.7h1v1h-1zM237.7 553.4h1v1h-1zM213.2 523.5h1v1h-1zM213.6 531.4h1v1h-1zM218.2 533.5h1v1h-1zM226.1 548.2h1v1h-1zM209.7 533.1h1v1h-1zM210 534.8h1v1h-1zM219.9 531.1h1v1h-1zM221.4 543.3h1v1h-1zM196.3 526.8h1v1h-1zM224 542.3h1v1h-1zM195.3 520.9h1v1h-1zM217.3 544.2h1v1h-1zM197.8 514.2h1v1h-1zM222.6 532h1v1h-1zM215.5 529.5h1v1h-1zM217.2 530h1v1h-1zM209.7 526.5h1v1h-1zM226.1 539.7h1v1h-1zM210.9 522.8h1v1h-1zM214.2 527.9h1v1h-1zM219.4 530.1h1v1h-1zM204.9 512.8h1v1h-1zM209.3 519h1v1h-1zM202.8 522.5h1v1h-1zM227 538.8h1v1h-1zM223.3 540.5h1v1h-1zM213 530.8h1v1h-1zM224 544.4h1v1h-1zM220.4 549.7h1v1h-1zM219.8 539.9h1v1h-1zM222 541.5h1v1h-1zM229.3 544.9h1v1h-1zM217.2 536.4h1v1h-1zM210.7 531h1v1h-1zM207.6 540.5h1v1h-1zM203.9 531.5h1v1h-1zM209.9 520.5h1v1h-1z" fill="#A80E0E" filter="url(#b05)" opacity="0.85"/><path d="M226.3 548.5h1v1h-1zM236.4 550.7h1v1h-1zM244.6 558.2h1v1h-1zM252.3 562.9h1v1h-1zM249.2 563.1h1v1h-1zM232.1 548.8h1v1h-1zM235.1 547h1v1h-1zM231.1 555.1h1v1h-1zM253.6 564.1h1v1h-1zM248.8 570.3h1v1h-1zM226.4 545.1h1v1h-1zM239.6 556.7h1v1h-1zM243.9 560.9h1v1h-1zM246.9 567.9h1v1h-1zM233.5 556h1v1h-1zM229.5 552h1v1h-1zM244.5 564.1h1v1h-1zM249.6 555.1h1v1h-1zM238.2 562.1h1v1h-1zM256.7 566.2h1v1h-1zM231.7 551.3h1v1h-1zM244.2 557.1h1v1h-1zM229.1 555h1v1h-1zM246.9 558.9h1v1h-1zM242.3 555.3h1v1h-1zM245.2 555.8h1v1h-1zM230.7 552.3h1v1h-1zM232 544.7h1v1h-1zM242.5 559.7h1v1h-1zM212.7 539.8h1v1h-1zM221.7 545.3h1v1h-1zM248.6 553.1h1v1h-1zM248 555.8h1v1h-1zM239.7 552.5h1v1h-1zM239.9 556.5h1v1h-1zM244.9 555.4h1v1h-1zM228.5 549h1v1h-1zM237.1 555.8h1v1h-1zM225.5 548.7h1v1h-1z" fill="#A80E0E" filter="url(#b05)" opacity="0.85"/><path d="M185.8 537.8h1v1h-1zM194.6 533.7h1v1h-1zM189.1 538.4h1v1h-1zM189 543.9h1v1h-1zM190.8 536.3h1v1h-1zM188.7 540.6h1v1h-1zM193.1 537h1v1h-1zM188.4 537h1v1h-1zM190.6 538.9h1v1h-1zM191.8 534.1h1v1h-1zM187.3 545.4h1v1h-1zM195.6 535.9h1v1h-1zM189.7 539.3h1v1h-1zM192.5 543.5h1v1h-1zM191.7 538.6h1v1h-1zM192.6 533.9h1v1h-1zM191.8 532h1v1h-1zM194.5 536.2h1v1h-1zM193.1 545.4h1v1h-1zM189.6 537.5h1v1h-1zM186.8 529.4h1v1h-1zM201.6 540.4h1v1h-1zM188.8 547.6h1v1h-1zM196 535.4h1v1h-1zM197 535.6h1v1h-1z" fill="#A00C0C" filter="url(#b05)" opacity="0.7"/><text x="255.7" y="582.5" font-size="10.6" text-anchor="end" fill="#C80A0A">PDGFRα</text></g>
<clipPath id="cr4"><rect x="260.7" y="510.5" width="74" height="74.3"/></clipPath><g clip-path="url(#cr4)"><rect x="260.7" y="510.5" width="74" height="74.3" fill="#020000"/><path d="M293.5 521.9h1v1h-1zM292.4 523.3h1v1h-1zM292.1 521.4h1v1h-1zM293.7 524.2h1v1h-1zM292.4 523.9h1v1h-1z" fill="#900A0A" filter="url(#b05)" opacity="1.0"/><path d="M285.9 538.1h1v1h-1zM284.4 536.9h1v1h-1zM284.6 537.2h1v1h-1zM284.5 537.6h1v1h-1zM284.3 537h1v1h-1zM286 536.9h1v1h-1z" fill="#900A0A" filter="url(#b05)" opacity="1.0"/><path d="M309.1 549.5h1v1h-1zM306.4 558h1v1h-1zM310.8 544h1v1h-1zM295 547.2h1v1h-1zM292.4 533.6h1v1h-1zM305.5 548.5h1v1h-1zM306.9 551.5h1v1h-1zM301.6 545.9h1v1h-1zM302.9 547.2h1v1h-1zM300.8 540.1h1v1h-1zM305 548.9h1v1h-1zM298.6 545.8h1v1h-1zM301.9 537.2h1v1h-1zM301.8 547.4h1v1h-1z" fill="#900A0A" filter="url(#b05)" opacity="0.8"/><ellipse cx="311.4" cy="557.7" rx="2.4" ry="1.7" fill="none" stroke="#D81414" stroke-width="0.9" transform="rotate(30 311.4 557.7)"/><path d="M309.2 515.8h1v1h-1zM308.2 513.1h1v1h-1zM306.2 512.7h1v1h-1zM304 512.3h1v1h-1zM304.8 514h1v1h-1zM305.8 514.7h1v1h-1zM305.2 513.4h1v1h-1zM306.7 514.2h1v1h-1z" fill="#700808" filter="url(#b05)" opacity="0.7"/></g>
<clipPath id="cm1"><rect x="23.3" y="588.5" width="74" height="73.8"/></clipPath><g clip-path="url(#cm1)"><rect x="23.3" y="588.5" width="74" height="73.8" fill="#030842"/><rect x="23.3" y="588.5" width="74" height="73.8" fill="#000" filter="url(#cellA)" opacity="0.45"/><rect x="23.3" y="588.5" width="74" height="73.8" fill="url(#nucA0)" filter="url(#b05)" opacity="0.95"/><rect x="23.3" y="588.5" width="74" height="73.8" fill="#000" filter="url(#dark)" opacity="0.55"/><ellipse cx="44.8" cy="625.4" rx="8.9" ry="45.8" fill="#000008" transform="rotate(8 44.8 625.4)" filter="url(#b3)" opacity="1"/><ellipse cx="43.3" cy="614.3" rx="5.2" ry="22.1" fill="#000008" transform="rotate(8 43.3 614.3)" filter="url(#b2)" opacity="0.9"/><ellipse cx="86.9" cy="623.9" rx="17.8" ry="16.2" fill="#000" transform="rotate(0 86.9 623.9)" filter="url(#b3)" opacity="1"/><ellipse cx="91.4" cy="625.4" rx="11.1" ry="12.5" fill="#000" transform="rotate(0 91.4 625.4)" filter="url(#b2)" opacity="1"/><ellipse cx="75.1" cy="619.5" rx="5.9" ry="7.4" fill="#000" transform="rotate(0 75.1 619.5)" filter="url(#b2)" opacity="0.85"/><ellipse cx="58.8" cy="653.4" rx="8.9" ry="10.3" fill="#000210" transform="rotate(0 58.8 653.4)" filter="url(#b3)" opacity="0.9"/><ellipse cx="32.2" cy="597.4" rx="7.4" ry="4.4" fill="#000210" transform="rotate(0 32.2 597.4)" filter="url(#b2)" opacity="0.6"/><ellipse cx="56.6" cy="625.4" rx="3" ry="14.8" fill="#000210" transform="rotate(15 56.6 625.4)" filter="url(#b2)" opacity="0.6"/><path d="M27.7 629L29.5 630.7M28.3 612.1L30 614.4M27.8 617L28.7 619.2M25.9 660.1L25.9 662.2M28.6 640.7L27.4 644.3M25.4 598.7L26.4 600.9M30.1 625.6L29.3 627.4M27.8 605.4L26.8 609.4M25.3 628.5L25 631.6M27.1 645.4L27.8 648.9M29.4 646.6L30.4 648.3M26.4 613.7L25.5 615.2M27.7 608.5L26 609.8M26.5 629.7L28.7 633.1M24.9 633.6L25 636.5M24.9 602.7L24.7 604.2M25.6 627.5L27.9 629" fill="none" stroke="#10D020" stroke-width="1" stroke-linecap="round" filter="url(#b05)" opacity="0.9"/><path d="M63.3 600.7L61.6 602.1M62.9 600.3L61 602.4M57.3 608.2L55.6 611.2M61.5 603.7L61.4 606.3M61.5 610L60.2 611.1M57.6 618.4L57.1 620.5M61.9 601.2L63.3 605.1M69.8 590.6L69.7 594M63.6 611.9L61 613.8M62.2 609.1L61.5 613M66 598.5L65.2 601.4M70.9 593.6L68.2 596.4M66.5 607.2L65.1 610.3M66.8 594.2L64.9 597M60.9 612.1L60.5 614.6M71.4 590.4L67.3 589.8" fill="none" stroke="#10D020" stroke-width="1.1" stroke-linecap="round" filter="url(#b05)" opacity="0.9"/><path d="M57.5 644.2L57.9 647.5M62.4 645L64.4 648.2M63.2 645.7L64.8 647M61.2 644.9L62 647.5M58.6 642.9L60 647.8M60.8 650.6L61.1 652.9M58.6 644L61.1 645.1M62.3 642.7L63.9 646.6" fill="none" stroke="#10D020" stroke-width="1" stroke-linecap="round" filter="url(#b05)" opacity="0.8"/><path d="M29.7 641.5h1v1h-1zM30.3 635.4h1v1h-1zM41.4 632.1h1v1h-1zM29.4 636.3h1v1h-1zM34 643.6h1v1h-1zM37.4 650.5h1v1h-1zM37.2 634.1h1v1h-1zM31.5 647.6h1v1h-1zM34.9 642.4h1v1h-1zM41.7 640.1h1v1h-1zM38.1 654.6h1v1h-1zM30.3 638.1h1v1h-1z" fill="#10D020" filter="url(#b05)" opacity="0.8"/><path d="M46.8 600.9h1.2v1.2h-1.2zM46 600.6h1.2v1.2h-1.2z" fill="#E81010" filter="url(#b05)" opacity="1.0"/><path d="M30.6 659.6h1.2v1.2h-1.2zM30.3 659.6h1.2v1.2h-1.2z" fill="#E81010" filter="url(#b05)" opacity="1.0"/><text x="94.6" y="648.4" font-size="10.6" text-anchor="end" fill="#E00A14">PTN</text><text x="94.6" y="661" font-size="10.6" text-anchor="end" fill="#10C818">COL1A1</text></g>
<clipPath id="cm2"><rect x="100.2" y="588.5" width="74" height="73.8"/></clipPath><g clip-path="url(#cm2)"><rect x="100.2" y="588.5" width="74" height="73.8" fill="#030840"/><rect x="100.2" y="588.5" width="74" height="73.8" fill="#000" filter="url(#cellA)" opacity="0.45"/><rect x="100.2" y="588.5" width="74" height="73.8" fill="url(#nucA1)" filter="url(#b05)" opacity="0.95"/><rect x="100.2" y="588.5" width="74" height="73.8" fill="#000" filter="url(#dark)" opacity="0.5"/><ellipse cx="163.1" cy="594.4" rx="25.2" ry="19.2" fill="#000" transform="rotate(14 163.1 594.4)" filter="url(#b3)" opacity="1"/><ellipse cx="166.8" cy="597.4" rx="14.8" ry="13.3" fill="#000" transform="rotate(14 166.8 597.4)" filter="url(#b2)" opacity="1"/><ellipse cx="170.5" cy="614.3" rx="8.9" ry="8.9" fill="#000" transform="rotate(0 170.5 614.3)" filter="url(#b3)" opacity="0.9"/><ellipse cx="162.4" cy="641.6" rx="19.2" ry="23.6" fill="#04030C" transform="rotate(0 162.4 641.6)" filter="url(#b5)" opacity="0.92"/><ellipse cx="107.6" cy="656.4" rx="8.9" ry="5.9" fill="#000" transform="rotate(0 107.6 656.4)" filter="url(#b2)" opacity="0.8"/><ellipse cx="106.1" cy="592.9" rx="7.4" ry="4.4" fill="#000" transform="rotate(0 106.1 592.9)" filter="url(#b2)" opacity="0.8"/><ellipse cx="118.7" cy="629.1" rx="3.7" ry="22.1" fill="#000208" transform="rotate(30 118.7 629.1)" filter="url(#b2)" opacity="0.6"/><ellipse cx="134.2" cy="603.3" rx="8.9" ry="8.9" fill="#2488DC" transform="rotate(-30 134.2 603.3)" filter="url(#b3)" opacity="0.8"/><ellipse cx="137.2" cy="598.1" rx="3.7" ry="3" fill="#30C8E8" transform="rotate(0 137.2 598.1)" filter="url(#b2)" opacity="0.7"/><path d="M126.6 600.9h1.3v1.3h-1.3zM129.3 606.3h1.3v1.3h-1.3zM131.4 597.7h1.3v1.3h-1.3zM136.1 602.8h1.3v1.3h-1.3zM125.5 605.9h1.3v1.3h-1.3zM128.4 608.3h1.3v1.3h-1.3zM129.3 602.1h1.3v1.3h-1.3zM133.9 600.4h1.3v1.3h-1.3zM132.3 603.9h1.3v1.3h-1.3zM136 611.4h1.3v1.3h-1.3zM132.4 607h1.3v1.3h-1.3zM126.1 614.4h1.3v1.3h-1.3zM124.6 601h1.3v1.3h-1.3zM124 609.2h1.3v1.3h-1.3zM131.2 610.5h1.3v1.3h-1.3zM132.3 611.6h1.3v1.3h-1.3zM136.4 598.5h1.3v1.3h-1.3zM133.2 601.9h1.3v1.3h-1.3zM125.1 608h1.3v1.3h-1.3zM132.5 601.6h1.3v1.3h-1.3zM127.2 607.2h1.3v1.3h-1.3zM142.9 598.9h1.3v1.3h-1.3zM130.4 609.6h1.3v1.3h-1.3zM131.9 603.2h1.3v1.3h-1.3zM132.2 606.4h1.3v1.3h-1.3zM126.2 605.3h1.3v1.3h-1.3zM146.4 615.8h1.3v1.3h-1.3zM131 600.2h1.3v1.3h-1.3zM127.5 604.9h1.3v1.3h-1.3zM124.2 600.8h1.3v1.3h-1.3zM124.9 612.7h1.3v1.3h-1.3zM130.4 607.7h1.3v1.3h-1.3zM132.1 608.1h1.3v1.3h-1.3zM125.5 605h1.3v1.3h-1.3zM128.1 600.2h1.3v1.3h-1.3zM127.3 605.9h1.3v1.3h-1.3zM124.6 607.2h1.3v1.3h-1.3zM115.1 605.5h1.3v1.3h-1.3zM124 599.7h1.3v1.3h-1.3zM126.5 604.4h1.3v1.3h-1.3z" fill="#30C8E8" filter="url(#b05)" opacity="0.9"/><path d="M130.5 608.2h1.3v1.3h-1.3zM124.7 609.9h1.3v1.3h-1.3zM139.2 606.8h1.3v1.3h-1.3zM121.5 608h1.3v1.3h-1.3zM122.1 612.2h1.3v1.3h-1.3zM117.6 613h1.3v1.3h-1.3zM126 609.2h1.3v1.3h-1.3zM125.2 612.6h1.3v1.3h-1.3zM130.7 600h1.3v1.3h-1.3zM133.4 606.5h1.3v1.3h-1.3zM126.3 612.5h1.3v1.3h-1.3zM124.1 606.7h1.3v1.3h-1.3zM120.3 606.9h1.3v1.3h-1.3zM123.8 612.4h1.3v1.3h-1.3zM130.8 605.4h1.3v1.3h-1.3zM124.8 610.8h1.3v1.3h-1.3zM118.2 614.8h1.3v1.3h-1.3zM124.4 608.5h1.3v1.3h-1.3zM125.2 607.6h1.3v1.3h-1.3zM109.6 614.5h1.3v1.3h-1.3zM119.9 613h1.3v1.3h-1.3zM122 610.4h1.3v1.3h-1.3zM131.7 608.9h1.3v1.3h-1.3zM123.2 614.1h1.3v1.3h-1.3zM124.5 614.5h1.3v1.3h-1.3zM125.8 609.4h1.3v1.3h-1.3zM125.2 613.1h1.3v1.3h-1.3zM117.6 610.1h1.3v1.3h-1.3zM126.6 611h1.3v1.3h-1.3zM126.5 603.2h1.3v1.3h-1.3zM114.2 615h1.3v1.3h-1.3zM121.6 609.8h1.3v1.3h-1.3zM125 608.2h1.3v1.3h-1.3zM130.6 610.6h1.3v1.3h-1.3zM128.2 604h1.3v1.3h-1.3zM123.3 607.7h1.3v1.3h-1.3z" fill="#F0E010" filter="url(#b05)" opacity="0.95"/><path d="M117.5 614.8L120.5 613.1M121.2 612.7L124.4 612.4M119.7 612.9L123.2 612.3M120.4 613.5L123.6 610.9M117.9 609.2L121.5 607.3M123.2 612.2L125.9 612.1M116.3 613.7L119.9 612.5M119.1 612.1L124.6 613.2" fill="none" stroke="#F0E010" stroke-width="1.4" stroke-linecap="round" filter="url(#b05)" opacity="1.0"/><path d="M124.7 608.8h1.2v1.2h-1.2zM134.1 606.5h1.2v1.2h-1.2zM126.5 612.1h1.2v1.2h-1.2zM135.5 607.4h1.2v1.2h-1.2zM138.6 610.6h1.2v1.2h-1.2zM140 601.3h1.2v1.2h-1.2zM131.8 610.1h1.2v1.2h-1.2zM144.9 599.5h1.2v1.2h-1.2zM117.4 615.9h1.2v1.2h-1.2zM140.4 600h1.2v1.2h-1.2zM119.4 609.6h1.2v1.2h-1.2zM126 615h1.2v1.2h-1.2zM120.4 617.1h1.2v1.2h-1.2zM127.7 608.2h1.2v1.2h-1.2zM130.7 600.6h1.2v1.2h-1.2zM109.7 616.2h1.2v1.2h-1.2zM123.1 613.2h1.2v1.2h-1.2zM132.9 610.9h1.2v1.2h-1.2zM119.3 610.9h1.2v1.2h-1.2zM124.1 616.6h1.2v1.2h-1.2zM130.5 597.2h1.2v1.2h-1.2zM135.2 604.7h1.2v1.2h-1.2zM132.3 603.7h1.2v1.2h-1.2zM126.3 610.5h1.2v1.2h-1.2zM121.3 606.2h1.2v1.2h-1.2zM122.6 601.6h1.2v1.2h-1.2zM132.1 608.6h1.2v1.2h-1.2zM119.2 611.1h1.2v1.2h-1.2zM130.8 612.6h1.2v1.2h-1.2zM121.5 618.4h1.2v1.2h-1.2zM122.7 612.9h1.2v1.2h-1.2zM130.9 609.2h1.2v1.2h-1.2zM123.4 609.7h1.2v1.2h-1.2zM125.6 612.3h1.2v1.2h-1.2zM112.5 610h1.2v1.2h-1.2zM120 611h1.2v1.2h-1.2zM133.9 610.5h1.2v1.2h-1.2zM121.4 606.3h1.2v1.2h-1.2zM114.6 613.8h1.2v1.2h-1.2zM116.6 619.6h1.2v1.2h-1.2z" fill="#10D020" filter="url(#b05)" opacity="0.9"/><path d="M111.1 630h1.2v1.2h-1.2zM111.7 622.1h1.2v1.2h-1.2zM109.4 632h1.2v1.2h-1.2zM103.1 643.3h1.2v1.2h-1.2zM111.4 629h1.2v1.2h-1.2zM106.4 647.5h1.2v1.2h-1.2zM108 632.9h1.2v1.2h-1.2zM103.4 633.6h1.2v1.2h-1.2zM112.5 617.6h1.2v1.2h-1.2zM114.4 626.4h1.2v1.2h-1.2zM115.2 607.5h1.2v1.2h-1.2zM111.4 626.5h1.2v1.2h-1.2zM110.3 639.2h1.2v1.2h-1.2zM106.3 629.2h1.2v1.2h-1.2zM111 627.7h1.2v1.2h-1.2zM106.5 633.4h1.2v1.2h-1.2zM108.3 624.2h1.2v1.2h-1.2zM104.3 648h1.2v1.2h-1.2zM107.3 635.5h1.2v1.2h-1.2zM101.6 647.5h1.2v1.2h-1.2zM112.3 622.8h1.2v1.2h-1.2zM110.6 625.4h1.2v1.2h-1.2zM106.3 638.6h1.2v1.2h-1.2zM112.5 619.6h1.2v1.2h-1.2zM112.7 619.5h1.2v1.2h-1.2zM102.4 645.7h1.2v1.2h-1.2zM110.5 626.5h1.2v1.2h-1.2zM104.1 635.2h1.2v1.2h-1.2zM117.6 606.3h1.2v1.2h-1.2zM107.4 635h1.2v1.2h-1.2z" fill="#F0E010" filter="url(#b05)" opacity="0.9"/><path d="M112.1 631.9h1.1v1.1h-1.1zM114.7 625.8h1.1v1.1h-1.1zM106.6 640h1.1v1.1h-1.1zM106 625.6h1.1v1.1h-1.1zM112.7 622.5h1.1v1.1h-1.1zM104.3 642.4h1.1v1.1h-1.1zM102.5 643.3h1.1v1.1h-1.1zM108.2 628.6h1.1v1.1h-1.1zM111.4 630.3h1.1v1.1h-1.1zM110.9 621h1.1v1.1h-1.1zM108.3 625.1h1.1v1.1h-1.1zM115.6 627.4h1.1v1.1h-1.1zM107.3 621.1h1.1v1.1h-1.1zM104.6 621.6h1.1v1.1h-1.1zM106.1 639.8h1.1v1.1h-1.1zM109.6 622.1h1.1v1.1h-1.1zM109.2 628.9h1.1v1.1h-1.1zM117.5 616.6h1.1v1.1h-1.1zM114.8 626.4h1.1v1.1h-1.1zM109.3 646.2h1.1v1.1h-1.1zM113.7 631.8h1.1v1.1h-1.1zM113.1 619.7h1.1v1.1h-1.1zM108.5 635.7h1.1v1.1h-1.1zM115 614.3h1.1v1.1h-1.1zM112.6 628.4h1.1v1.1h-1.1zM106.5 646.1h1.1v1.1h-1.1zM112.2 635.2h1.1v1.1h-1.1zM115.1 632.7h1.1v1.1h-1.1zM110 633.5h1.1v1.1h-1.1z" fill="#10D020" filter="url(#b05)" opacity="0.8"/><path d="M106.5 640h1.6v1.6h-1.6zM107 640.7h1.6v1.6h-1.6zM106.7 639.4h1.6v1.6h-1.6z" fill="#F0E010" filter="url(#b05)" opacity="1.0"/><path d="M148.3 625.4h1.3v1.3h-1.3zM147.9 623.5h1.3v1.3h-1.3zM148.1 624.4h1.3v1.3h-1.3zM147.7 626h1.3v1.3h-1.3z" fill="#10D020" filter="url(#b05)" opacity="1.0"/><path d="M166.8 628.3h1v1h-1zM162.8 645.8h1v1h-1zM158 622.3h1v1h-1zM162.2 628.6h1v1h-1zM161.5 623.3h1v1h-1zM160.5 642.2h1v1h-1zM156.4 630.3h1v1h-1zM170.2 632.1h1v1h-1zM170 647.5h1v1h-1zM157.6 648.7h1v1h-1zM152.9 635.3h1v1h-1zM159 633.8h1v1h-1zM164.1 612.3h1v1h-1zM166.3 646.1h1v1h-1zM156.3 626.4h1v1h-1zM164.3 648.8h1v1h-1zM160.4 652h1v1h-1zM162.3 634.1h1v1h-1zM167.6 627.9h1v1h-1zM159.8 633.9h1v1h-1z" fill="#901020" filter="url(#b05)" opacity="0.6"/></g>
<clipPath id="cm3"><rect x="184.4" y="588.5" width="74" height="73.8"/></clipPath><g clip-path="url(#cm3)"><rect x="184.4" y="588.5" width="74" height="73.8" fill="#040C58"/><rect x="184.4" y="588.5" width="74" height="73.8" fill="#000" filter="url(#cellB)" opacity="0.5"/><rect x="184.4" y="588.5" width="74" height="73.8" fill="url(#nucA2)" filter="url(#b05)" opacity="1.0"/><rect x="184.4" y="588.5" width="74" height="73.8" fill="#000" filter="url(#dark)" opacity="0.4"/><ellipse cx="243.6" cy="603.3" rx="12.6" ry="8.9" fill="#000" transform="rotate(20 243.6 603.3)" filter="url(#b3)" opacity="1"/><ellipse cx="243.6" cy="603.3" rx="7.4" ry="5.2" fill="#000" transform="rotate(20 243.6 603.3)" filter="url(#b1)" opacity="1"/><ellipse cx="217.7" cy="613.6" rx="23.7" ry="5.9" fill="#000" transform="rotate(35 217.7 613.6)" filter="url(#b2)" opacity="0.95"/><ellipse cx="237.7" cy="630.6" rx="17.8" ry="4.4" fill="#000" transform="rotate(35 237.7 630.6)" filter="url(#b2)" opacity="0.95"/><ellipse cx="225.1" cy="603.3" rx="7.4" ry="3.7" fill="#000" transform="rotate(30 225.1 603.3)" filter="url(#b2)" opacity="0.8"/><ellipse cx="193.3" cy="607" rx="8.9" ry="3.7" fill="#000" transform="rotate(15 193.3 607)" filter="url(#b2)" opacity="0.85"/><ellipse cx="206.6" cy="594.4" rx="5.9" ry="3" fill="#000" transform="rotate(0 206.6 594.4)" filter="url(#b2)" opacity="0.6"/><ellipse cx="188.1" cy="625.4" rx="3.7" ry="11.1" fill="#000420" transform="rotate(0 188.1 625.4)" filter="url(#b2)" opacity="0.6"/><path d="M185.3 592.7h1.4v1.4h-1.4zM194.4 593.3h1.4v1.4h-1.4zM190.7 593.4h1.4v1.4h-1.4zM194.3 588.8h1.4v1.4h-1.4zM200.4 589.6h1.4v1.4h-1.4zM203.1 594.9h1.4v1.4h-1.4zM201.7 590.2h1.4v1.4h-1.4zM192.4 589h1.4v1.4h-1.4zM199.5 591.2h1.4v1.4h-1.4zM195.8 592.8h1.4v1.4h-1.4zM190.4 593.5h1.4v1.4h-1.4zM191.1 597.3h1.4v1.4h-1.4zM199.7 589.3h1.4v1.4h-1.4zM196 596h1.4v1.4h-1.4zM189 592.4h1.4v1.4h-1.4zM184.7 590.1h1.4v1.4h-1.4zM193.6 591.8h1.4v1.4h-1.4zM189 595.4h1.4v1.4h-1.4zM196.8 591.5h1.4v1.4h-1.4zM201.4 596.8h1.4v1.4h-1.4zM199.4 590.7h1.4v1.4h-1.4zM186.8 590.2h1.4v1.4h-1.4zM193.4 596.7h1.4v1.4h-1.4zM185.5 593.5h1.4v1.4h-1.4zM191.4 596.7h1.4v1.4h-1.4zM193.8 601.9h1.4v1.4h-1.4zM200.9 591.4h1.4v1.4h-1.4zM195.9 590.7h1.4v1.4h-1.4zM192.4 592.1h1.4v1.4h-1.4zM189.3 589.9h1.4v1.4h-1.4zM191.2 594.2h1.4v1.4h-1.4zM205.4 593.1h1.4v1.4h-1.4z" fill="#F0E010" filter="url(#b05)" opacity="0.95"/><path d="M195.3 590.7L197.8 591.8M188.4 594.8L194.9 596.5M198.1 591.9L204 593.2M193.7 594.2L197.3 592.9M198.5 590.6L201.3 594.9M187.3 594.5L189.8 596.8M194.3 593.2L197.9 598.1M194 595L197.7 595.7M192.9 593.9L197 594.7M195.1 593L198.8 591.3" fill="none" stroke="#F0E010" stroke-width="1.5" stroke-linecap="round" filter="url(#b05)" opacity="1.0"/><path d="M186.1 593.7h1.2v1.2h-1.2zM185.7 595.7h1.2v1.2h-1.2zM198.2 595.1h1.2v1.2h-1.2zM194.5 603.3h1.2v1.2h-1.2zM191.5 604h1.2v1.2h-1.2zM190.3 598h1.2v1.2h-1.2zM194.9 591.4h1.2v1.2h-1.2zM204.3 597.5h1.2v1.2h-1.2zM199.6 593.4h1.2v1.2h-1.2zM222.6 604.5h1.2v1.2h-1.2zM206.4 604.5h1.2v1.2h-1.2zM198.2 592.8h1.2v1.2h-1.2zM194.8 591.9h1.2v1.2h-1.2zM216.4 598.8h1.2v1.2h-1.2zM197.6 596.1h1.2v1.2h-1.2zM205.5 592.5h1.2v1.2h-1.2zM207.4 596.9h1.2v1.2h-1.2zM193.5 602.4h1.2v1.2h-1.2zM212.1 603.2h1.2v1.2h-1.2zM185.5 593.4h1.2v1.2h-1.2zM204.7 600.9h1.2v1.2h-1.2zM196.7 591.8h1.2v1.2h-1.2zM207.3 607.1h1.2v1.2h-1.2zM192.2 598.6h1.2v1.2h-1.2zM216.9 606h1.2v1.2h-1.2zM194.6 593.8h1.2v1.2h-1.2zM192.3 601.1h1.2v1.2h-1.2z" fill="#10D020" filter="url(#b05)" opacity="0.9"/><path d="M221.7 608.1h1.3v1.3h-1.3zM229.9 623.3h1.3v1.3h-1.3zM205.7 604.7h1.3v1.3h-1.3zM209.6 605.3h1.3v1.3h-1.3zM212.1 603.9h1.3v1.3h-1.3zM201.4 594.8h1.3v1.3h-1.3zM219.6 615.2h1.3v1.3h-1.3zM199.8 598.4h1.3v1.3h-1.3zM210.5 605.8h1.3v1.3h-1.3zM215.7 610.3h1.3v1.3h-1.3zM223.7 610.6h1.3v1.3h-1.3zM213.6 604.7h1.3v1.3h-1.3zM214.7 611.7h1.3v1.3h-1.3zM220.7 612.4h1.3v1.3h-1.3zM213.9 614.3h1.3v1.3h-1.3zM218.9 612.4h1.3v1.3h-1.3zM227.3 618.3h1.3v1.3h-1.3zM217.7 606.9h1.3v1.3h-1.3zM199.4 602.2h1.3v1.3h-1.3zM217.4 609.9h1.3v1.3h-1.3zM209.1 597.5h1.3v1.3h-1.3zM209.5 606.5h1.3v1.3h-1.3zM213.7 603.2h1.3v1.3h-1.3zM225.8 617.4h1.3v1.3h-1.3zM205 595.9h1.3v1.3h-1.3zM213 602.7h1.3v1.3h-1.3z" fill="#F0E010" filter="url(#b05)" opacity="0.95"/><path d="M220 617.2h1.2v1.2h-1.2zM214.4 617.4h1.2v1.2h-1.2zM220.9 612.2h1.2v1.2h-1.2zM225.6 627.7h1.2v1.2h-1.2zM202.2 599.3h1.2v1.2h-1.2zM208.3 611.2h1.2v1.2h-1.2zM227.3 625.9h1.2v1.2h-1.2zM213.5 607.8h1.2v1.2h-1.2zM204.2 602.2h1.2v1.2h-1.2zM219.7 618.4h1.2v1.2h-1.2zM201 603.4h1.2v1.2h-1.2zM198.3 608.2h1.2v1.2h-1.2zM197.4 597.7h1.2v1.2h-1.2zM224.3 624.9h1.2v1.2h-1.2zM216.9 617.2h1.2v1.2h-1.2zM228.1 617.4h1.2v1.2h-1.2zM236.4 632.4h1.2v1.2h-1.2zM202.8 606.8h1.2v1.2h-1.2zM208.7 603.1h1.2v1.2h-1.2zM211.3 612.9h1.2v1.2h-1.2zM222.7 609.5h1.2v1.2h-1.2zM198 601.9h1.2v1.2h-1.2zM219.8 613.4h1.2v1.2h-1.2zM208.6 607h1.2v1.2h-1.2zM227 618h1.2v1.2h-1.2zM227.8 627.5h1.2v1.2h-1.2zM219.2 609.6h1.2v1.2h-1.2zM229.3 621.3h1.2v1.2h-1.2zM217.6 620.4h1.2v1.2h-1.2zM214.1 611.5h1.2v1.2h-1.2zM200.9 607.9h1.2v1.2h-1.2zM228.3 624.1h1.2v1.2h-1.2zM201.7 599.1h1.2v1.2h-1.2zM212.7 610.2h1.2v1.2h-1.2z" fill="#10D020" filter="url(#b05)" opacity="0.9"/><path d="M229.6 628.1h1.3v1.3h-1.3zM225.9 625.8h1.3v1.3h-1.3zM231.6 627.1h1.3v1.3h-1.3zM229.2 622.9h1.3v1.3h-1.3zM232.8 626.8h1.3v1.3h-1.3zM233.6 628.7h1.3v1.3h-1.3zM222.1 623.6h1.3v1.3h-1.3zM225.3 628.3h1.3v1.3h-1.3zM232.3 630.1h1.3v1.3h-1.3zM234.4 634.5h1.3v1.3h-1.3zM227.3 632.3h1.3v1.3h-1.3zM226.8 627h1.3v1.3h-1.3zM223.8 617.8h1.3v1.3h-1.3zM225.5 624.2h1.3v1.3h-1.3zM227.8 629h1.3v1.3h-1.3zM224.1 629.2h1.3v1.3h-1.3zM238.2 638.4h1.3v1.3h-1.3zM235.3 628.4h1.3v1.3h-1.3zM236.2 636h1.3v1.3h-1.3zM225.6 624h1.3v1.3h-1.3z" fill="#F0E010" filter="url(#b05)" opacity="0.95"/><path d="M225.5 630.9h1.2v1.2h-1.2zM230.6 631.1h1.2v1.2h-1.2zM235.4 629.9h1.2v1.2h-1.2zM238.4 633.9h1.2v1.2h-1.2zM225.3 625.7h1.2v1.2h-1.2zM230.3 636.9h1.2v1.2h-1.2zM245.1 643.8h1.2v1.2h-1.2zM233.4 639h1.2v1.2h-1.2zM241 636.4h1.2v1.2h-1.2zM230.1 630.8h1.2v1.2h-1.2zM227 621.3h1.2v1.2h-1.2zM230.4 633.3h1.2v1.2h-1.2zM225.3 625.1h1.2v1.2h-1.2zM215.9 619.5h1.2v1.2h-1.2zM222.1 618.1h1.2v1.2h-1.2zM239.5 638h1.2v1.2h-1.2zM223.4 626.6h1.2v1.2h-1.2zM220.7 620.3h1.2v1.2h-1.2zM230.2 619.7h1.2v1.2h-1.2zM218.8 624.7h1.2v1.2h-1.2zM219.9 622.6h1.2v1.2h-1.2zM234.8 642.7h1.2v1.2h-1.2z" fill="#10D020" filter="url(#b05)" opacity="0.9"/><path d="M244.8 636.5h1.3v1.3h-1.3zM255 634.9h1.3v1.3h-1.3zM252.6 636.4h1.3v1.3h-1.3zM249.1 636.7h1.3v1.3h-1.3zM244.7 634.4h1.3v1.3h-1.3zM253.5 632.9h1.3v1.3h-1.3zM252.7 637.5h1.3v1.3h-1.3zM255.3 640.8h1.3v1.3h-1.3zM250.9 635.9h1.3v1.3h-1.3zM246.8 634.4h1.3v1.3h-1.3zM254.6 637.1h1.3v1.3h-1.3zM253.6 629.2h1.3v1.3h-1.3zM252.8 639.6h1.3v1.3h-1.3zM248.5 636.7h1.3v1.3h-1.3zM244.9 635.9h1.3v1.3h-1.3zM249 633.9h1.3v1.3h-1.3zM246.8 640.6h1.3v1.3h-1.3zM255.2 630.6h1.3v1.3h-1.3zM251.7 631.8h1.3v1.3h-1.3zM251.3 638.4h1.3v1.3h-1.3zM253.3 634.2h1.3v1.3h-1.3zM254.7 635.4h1.3v1.3h-1.3zM253.8 635.5h1.3v1.3h-1.3zM252.5 639.6h1.3v1.3h-1.3z" fill="#F0E010" filter="url(#b05)" opacity="0.95"/><path d="M247.2 632.4h1.1v1.1h-1.1zM247.5 634.4h1.1v1.1h-1.1zM249.7 632.7h1.1v1.1h-1.1zM248.9 635.1h1.1v1.1h-1.1zM249.6 636.2h1.1v1.1h-1.1zM249.6 632.1h1.1v1.1h-1.1zM250 631.1h1.1v1.1h-1.1zM245.7 633.7h1.1v1.1h-1.1zM242.5 631.2h1.1v1.1h-1.1zM242.7 632.4h1.1v1.1h-1.1zM248.5 631.4h1.1v1.1h-1.1zM247.4 634.2h1.1v1.1h-1.1z" fill="#E81010" filter="url(#b05)" opacity="0.9"/><path d="M188.4 612.1h1.2v1.2h-1.2zM190 618h1.2v1.2h-1.2zM194.5 613.5h1.2v1.2h-1.2zM198 611.8h1.2v1.2h-1.2zM191.9 615.5h1.2v1.2h-1.2zM192.4 615.3h1.2v1.2h-1.2zM185.3 615.6h1.2v1.2h-1.2zM193 614h1.2v1.2h-1.2zM195.6 617.2h1.2v1.2h-1.2zM185 612.5h1.2v1.2h-1.2zM193.6 611.4h1.2v1.2h-1.2zM185.3 614.2h1.2v1.2h-1.2zM190.3 615.4h1.2v1.2h-1.2zM191.5 615.6h1.2v1.2h-1.2z" fill="#10D020" filter="url(#b05)" opacity="0.9"/><text x="255.7" y="648.4" font-size="10.6" text-anchor="end" fill="#D80A14">PDGFRα</text><text x="255.7" y="661" font-size="10.6" text-anchor="end" fill="#10C818">COL1A1</text></g>
<clipPath id="cm4"><rect x="260.7" y="588.5" width="74" height="73.8"/></clipPath><g clip-path="url(#cm4)"><rect x="260.7" y="588.5" width="74" height="73.8" fill="#040B50"/><rect x="260.7" y="588.5" width="74" height="73.8" fill="#000" filter="url(#cellB)" opacity="0.45"/><rect x="260.7" y="588.5" width="74" height="73.8" fill="url(#nucA3)" filter="url(#b05)" opacity="0.95"/><rect x="260.7" y="588.5" width="74" height="73.8" fill="#000" filter="url(#dark)" opacity="0.45"/><ellipse cx="275.5" cy="616.5" rx="23.7" ry="6.6" fill="#00020C" transform="rotate(-30 275.5 616.5)" filter="url(#b3)" opacity="1"/><ellipse cx="294" cy="597.4" rx="4.4" ry="14.8" fill="#000418" transform="rotate(25 294 597.4)" filter="url(#b3)" opacity="0.8"/><ellipse cx="290.3" cy="638.7" rx="27.4" ry="5.9" fill="#00020C" transform="rotate(12 290.3 638.7)" filter="url(#b3)" opacity="1"/><ellipse cx="323.6" cy="651.2" rx="14.8" ry="4.4" fill="#000418" transform="rotate(40 323.6 651.2)" filter="url(#b3)" opacity="0.9"/><ellipse cx="319.9" cy="610.6" rx="4.4" ry="18.4" fill="#000418" transform="rotate(20 319.9 610.6)" filter="url(#b3)" opacity="0.6"/><ellipse cx="275.5" cy="629.1" rx="11.1" ry="3.7" fill="#000418" transform="rotate(-10 275.5 629.1)" filter="url(#b2)" opacity="0.7"/><path d="M296.8 621.1L297.8 623.2M299.6 635.1L302 637.2M300 620.5L302.6 622.4M292.7 625.4L292.3 627.5M295.2 632.3L296.8 633.7M300.6 624.8L300.9 628M296.9 614.1L298.8 616.5M308.3 621.8L309 624.4M300.7 621.5L300.3 624.3M294.4 610L298 611.9M296.7 608.8L297.2 610.9M305.6 631.5L307.5 634.5M296.2 621.5L295.4 623.9M293.3 622.9L295 625.6" fill="none" stroke="#10D020" stroke-width="1" stroke-linecap="round" filter="url(#b05)" opacity="0.9"/><path d="M308.6 629.8L311.6 630.3M301.7 631.2L303.7 634.4M297.7 629L299.3 629.5M312.8 634.8L315.2 635.7M299.9 627.5L303.5 630.5M304.5 630.5L307.1 632.2M298 627.3L299.6 627.7M299.9 625.9L303.4 625.6M313.1 638.2L316.8 639.1M298.1 625.5L298.8 627.5M294.3 625L295.2 627.7M299.9 627.2L301.4 630.1M299.3 629.7L302.4 631.6M293.6 625.9L296.3 627.3" fill="none" stroke="#10D020" stroke-width="1" stroke-linecap="round" filter="url(#b05)" opacity="0.9"/><path d="M295.8 626.1L299.3 627.2M305.7 627.4L307.3 628.6M290.7 625.4L293 628M289.5 623.7L293.5 626.6M315.3 636.5L317.9 636.1M304.6 631.7L307.6 633.5M302 630.5L304.2 632.3M301 628L302.5 631.4M298.5 628.7L301.6 632.3M297.1 627.7L300.4 630.9" fill="none" stroke="#30C8E8" stroke-width="1.2" stroke-linecap="round" filter="url(#b05)" opacity="0.8"/><path d="M314.5 643.2h1.1v1.1h-1.1zM317.7 652.3h1.1v1.1h-1.1zM319.3 647.2h1.1v1.1h-1.1zM321.2 649.8h1.1v1.1h-1.1zM322.2 644.1h1.1v1.1h-1.1zM323.7 646.1h1.1v1.1h-1.1zM319.9 642.7h1.1v1.1h-1.1zM326.1 651.8h1.1v1.1h-1.1zM318.3 644.2h1.1v1.1h-1.1zM305.5 637h1.1v1.1h-1.1zM316.1 642.5h1.1v1.1h-1.1zM318.1 644.5h1.1v1.1h-1.1zM325.9 649.1h1.1v1.1h-1.1zM313.5 639.5h1.1v1.1h-1.1zM319.3 652.4h1.1v1.1h-1.1zM314.6 645.6h1.1v1.1h-1.1zM314.8 638.8h1.1v1.1h-1.1zM323.1 644.1h1.1v1.1h-1.1zM316.9 646.7h1.1v1.1h-1.1zM314.9 648.1h1.1v1.1h-1.1zM322.3 642.5h1.1v1.1h-1.1zM319.7 645.3h1.1v1.1h-1.1zM317.3 647.7h1.1v1.1h-1.1zM320.5 650.7h1.1v1.1h-1.1zM324.8 647.7h1.1v1.1h-1.1z" fill="#10D020" filter="url(#b05)" opacity="0.85"/><path d="M321 614.3h1.1v1.1h-1.1zM325 608.2h1.1v1.1h-1.1zM322.3 612.6h1.1v1.1h-1.1zM322.5 605.4h1.1v1.1h-1.1zM322.3 603.3h1.1v1.1h-1.1zM326.3 611.4h1.1v1.1h-1.1zM323.5 607.1h1.1v1.1h-1.1zM324 608.9h1.1v1.1h-1.1zM323.3 607.6h1.1v1.1h-1.1zM323.2 610.2h1.1v1.1h-1.1z" fill="#10D020" filter="url(#b05)" opacity="0.8"/><ellipse cx="311.4" cy="635.4" rx="2.4" ry="1.7" fill="#E83020" stroke="#E8E020" stroke-width="1.1" transform="rotate(30 311.4 635.4)"/></g>
<clipPath id="cr5"><rect x="487" y="510.5" width="73.8" height="74.3"/></clipPath><g clip-path="url(#cr5)"><rect x="487" y="510.5" width="73.8" height="74.3" fill="#1B0404"/><rect x="487" y="510.5" width="73.8" height="74.3" fill="#000" filter="url(#dark)" opacity="0.5"/><path d="M536.9 538.1h1.2v1.2h-1.2zM504.5 531.2h1.2v1.2h-1.2zM522.8 541.9h1.2v1.2h-1.2zM528.8 520.7h1.2v1.2h-1.2zM535.2 520.1h1.2v1.2h-1.2zM528.3 542.6h1.2v1.2h-1.2zM559 564.9h1.2v1.2h-1.2zM515.4 568.5h1.2v1.2h-1.2zM546.7 564.1h1.2v1.2h-1.2zM556.1 530.2h1.2v1.2h-1.2zM515.7 567.4h1.2v1.2h-1.2zM511.6 541h1.2v1.2h-1.2zM550.4 580.1h1.2v1.2h-1.2zM520.6 530.1h1.2v1.2h-1.2zM508.2 539.5h1.2v1.2h-1.2zM537.6 516.9h1.2v1.2h-1.2zM498.3 514.8h1.2v1.2h-1.2zM502.8 563.7h1.2v1.2h-1.2zM509.5 532h1.2v1.2h-1.2zM521.4 581.7h1.2v1.2h-1.2zM537.4 539.2h1.2v1.2h-1.2zM501.2 575.9h1.2v1.2h-1.2zM499.8 521.2h1.2v1.2h-1.2zM503.6 530.8h1.2v1.2h-1.2zM508.9 541.1h1.2v1.2h-1.2zM538.2 532h1.2v1.2h-1.2zM538.9 572h1.2v1.2h-1.2zM554.6 556.8h1.2v1.2h-1.2zM497.4 576.6h1.2v1.2h-1.2zM487.3 557.7h1.2v1.2h-1.2zM522.6 524.8h1.2v1.2h-1.2zM542.4 538.6h1.2v1.2h-1.2zM498.7 548h1.2v1.2h-1.2zM494 558.7h1.2v1.2h-1.2zM499.7 517.3h1.2v1.2h-1.2zM520.6 568.4h1.2v1.2h-1.2zM504.9 512.9h1.2v1.2h-1.2zM523.2 536.3h1.2v1.2h-1.2z" fill="#3A0808" filter="url(#b1)" opacity="0.8"/><line x1="492.5" y1="577.7" x2="510.2" y2="577.7" stroke="#C0C0C0" stroke-width="1.5"/><text x="558.1" y="582.3" font-size="10.6" text-anchor="end" fill="#E00A0A">PTN</text></g>
<clipPath id="cr6"><rect x="564" y="510.5" width="73.8" height="74.3"/></clipPath><g clip-path="url(#cr6)"><rect x="564" y="510.5" width="73.8" height="74.3" fill="#050000"/><ellipse cx="628.9" cy="547.6" rx="8.9" ry="37.1" fill="#2C0303" transform="rotate(8 628.9 547.6)" filter="url(#b3)" opacity="0.95"/><path d="M629.8 529.4h1.1v1.1h-1.1zM627.1 559.3h1.1v1.1h-1.1zM621.2 543.3h1.1v1.1h-1.1zM627.2 524.4h1.1v1.1h-1.1zM625 556h1.1v1.1h-1.1zM635.8 556.9h1.1v1.1h-1.1zM621.9 559.7h1.1v1.1h-1.1zM621.9 557.6h1.1v1.1h-1.1zM619.1 560.7h1.1v1.1h-1.1zM627.3 537.6h1.1v1.1h-1.1zM629 558.9h1.1v1.1h-1.1zM620.9 557.1h1.1v1.1h-1.1zM632.3 548.6h1.1v1.1h-1.1zM635.9 534h1.1v1.1h-1.1zM626.7 571.5h1.1v1.1h-1.1zM620.8 563.5h1.1v1.1h-1.1zM623.1 566.9h1.1v1.1h-1.1zM634.4 557.7h1.1v1.1h-1.1zM623.8 573.4h1.1v1.1h-1.1zM626.4 537.6h1.1v1.1h-1.1zM621.8 552.8h1.1v1.1h-1.1zM625.2 539.1h1.1v1.1h-1.1zM621.8 536.7h1.1v1.1h-1.1zM624.9 531.9h1.1v1.1h-1.1zM630.9 565.4h1.1v1.1h-1.1zM631.4 534.8h1.1v1.1h-1.1zM625.3 531.4h1.1v1.1h-1.1zM629 576.2h1.1v1.1h-1.1zM631.6 535.9h1.1v1.1h-1.1zM629.9 553.5h1.1v1.1h-1.1zM625.8 522h1.1v1.1h-1.1zM622.4 541.4h1.1v1.1h-1.1zM627.7 555.7h1.1v1.1h-1.1zM620.1 558.9h1.1v1.1h-1.1zM629.6 521.9h1.1v1.1h-1.1zM629.6 549.1h1.1v1.1h-1.1zM624.6 535.5h1.1v1.1h-1.1zM630.9 538h1.1v1.1h-1.1zM629.2 526.6h1.1v1.1h-1.1zM633.2 526.9h1.1v1.1h-1.1zM628.5 563.6h1.1v1.1h-1.1zM626.6 547.7h1.1v1.1h-1.1zM630.9 552.7h1.1v1.1h-1.1zM632.6 526.6h1.1v1.1h-1.1zM628.4 536.6h1.1v1.1h-1.1zM626.3 554.5h1.1v1.1h-1.1zM624.7 536.7h1.1v1.1h-1.1zM622.6 563.4h1.1v1.1h-1.1zM629.5 516.9h1.1v1.1h-1.1zM616.6 541.1h1.1v1.1h-1.1zM624.8 523.3h1.1v1.1h-1.1z" fill="#A01010" filter="url(#b05)" opacity="0.8"/><path d="M629.8 519.1L632.7 521.3M626.9 526.2L626.2 529.5M626.5 533.9L626.4 536.3M625 522.5L625.1 526.2M629.5 531.2L629.7 532.6M626.9 531.8L624.7 533.6M624.8 536.6L624.5 539.2M626 531L626 532.8M623.3 525.7L621.5 526.5M623.9 527L623.1 528.6" fill="none" stroke="#E01414" stroke-width="1.1" stroke-linecap="round" filter="url(#b05)" opacity="0.9"/><path d="M625.2 550.9L624.5 552.9M619.8 565.8L617.5 569.2M629 547.8L626.3 550.7M625.7 563L626 567.2M624.8 557.3L625.1 559.1M620.4 570.1L620.7 573.2M627.7 558.8L628.6 561.2M623.1 573.8L622.1 576.5" fill="none" stroke="#C01212" stroke-width="1" stroke-linecap="round" filter="url(#b05)" opacity="0.8"/><path d="M585.1 516.6h1v1h-1zM608.5 522.1h1v1h-1zM597.8 519h1v1h-1zM589.8 516.8h1v1h-1zM578.7 515.6h1v1h-1zM587.7 516.3h1v1h-1zM595.5 521.8h1v1h-1zM598.4 522.6h1v1h-1zM596.8 521.2h1v1h-1zM588.5 518.4h1v1h-1zM603.2 523.9h1v1h-1zM596.9 524.3h1v1h-1zM601.5 524.4h1v1h-1zM600.2 522.1h1v1h-1zM609.5 522.3h1v1h-1zM592.1 518.5h1v1h-1zM592.4 522.3h1v1h-1zM595.3 521.6h1v1h-1zM601.4 524.7h1v1h-1zM591.9 521.1h1v1h-1z" fill="#600808" filter="url(#b05)" opacity="0.7"/><path d="M584.1 544.1h1.2v1.2h-1.2zM583.7 543.8h1.2v1.2h-1.2zM584.5 545.1h1.2v1.2h-1.2zM583.5 543.9h1.2v1.2h-1.2z" fill="#D01010" filter="url(#b05)" opacity="1.0"/><path d="M585.6 558.7h1v1h-1zM582.3 556.4h1v1h-1zM575.6 558.9h1v1h-1zM567 558.5h1v1h-1zM575.2 557.3h1v1h-1zM590.9 557.2h1v1h-1zM580.8 561.8h1v1h-1zM568.2 566.1h1v1h-1zM587.1 556.8h1v1h-1zM588.3 559.1h1v1h-1zM588.4 559.9h1v1h-1zM570.4 561.8h1v1h-1zM572.8 563.7h1v1h-1zM579.1 559.3h1v1h-1zM565.8 560.7h1v1h-1zM584.7 560h1v1h-1zM568.2 564.6h1v1h-1zM580.2 561.5h1v1h-1z" fill="#500606" filter="url(#b05)" opacity="0.7"/><ellipse cx="586.1" cy="540.2" rx="22.1" ry="22.3" fill="#150202" transform="rotate(0 586.1 540.2)" filter="url(#b5)" opacity="0.6"/></g>
<clipPath id="cr7"><rect x="650" y="510.5" width="73.8" height="74.3"/></clipPath><g clip-path="url(#cr7)"><rect x="650" y="510.5" width="73.8" height="74.3" fill="#110202"/><ellipse cx="679.5" cy="543.9" rx="22.1" ry="18.6" fill="#200505" transform="rotate(0 679.5 543.9)" filter="url(#b5)" opacity="0.8"/><path d="M681 526.2L683.9 526.1M658.1 515.2L661.1 516.1M666.3 520.2L669.6 523.9M669.6 517.4L671.8 520.3M660.6 510.7L665.1 512.7M687.6 520.2L689.9 520.7M664.7 513.3L667.5 512.9M686.4 527L690.4 523.9M676.6 521.8L678.1 523.3M673 520.1L675.9 519M659.1 517.1L661.9 517.7" fill="none" stroke="#C81414" stroke-width="0.9" stroke-linecap="round" filter="url(#b05)" opacity="0.85"/><path d="M689.8 516.9L690.4 513.1M700.5 515.5L702.7 513.9M702 514.5L704.5 514.4M706.6 519L711.4 519M688.4 517.4L690.8 516.7M716.5 518.3L718.5 516.4M683.8 519L687.1 520.2M690 519.7L692.5 520.6" fill="none" stroke="#801010" stroke-width="0.9" stroke-linecap="round" filter="url(#b05)" opacity="0.7"/><path d="M672.1 555.1C674.8 556.9 675.5 558.1 681 561C686.5 563.9 687.7 563.6 690.6 564.7" fill="none" stroke="#C01414" stroke-width="0.9" stroke-linecap="round" filter="url(#b05)" opacity="0.8" stroke-dasharray="2 2"/><path d="M700.2 564C702.8 564.2 703.5 567 709 564.7C714.6 562.5 715.1 562.8 718.6 556.6C722.2 550.3 721.5 551.1 720.8 543.9C720.2 536.8 717.7 536.1 716.4 532.8" fill="none" stroke="#C01414" stroke-width="0.9" stroke-linecap="round" filter="url(#b05)" opacity="0.8" stroke-dasharray="2.5 2"/><path d="M702.6 562.4h1.3v1.3h-1.3zM702.4 562.4h1.3v1.3h-1.3zM703.9 562h1.3v1.3h-1.3zM703.3 560.4h1.3v1.3h-1.3zM701.9 562.3h1.3v1.3h-1.3z" fill="#C01010" filter="url(#b05)" opacity="1.0"/><path d="M702.1 575.8h1v1h-1zM684 574h1v1h-1zM713.1 583h1v1h-1zM669.5 574h1v1h-1zM680.4 577.4h1v1h-1zM673.4 576.3h1v1h-1zM693 575.3h1v1h-1zM685.7 573.9h1v1h-1zM667.5 576.3h1v1h-1zM675.9 574.2h1v1h-1zM686.1 578.4h1v1h-1zM677.7 580h1v1h-1zM689.7 577.3h1v1h-1zM706.4 574h1v1h-1zM710.1 575h1v1h-1zM697.7 577.6h1v1h-1zM696.7 573.6h1v1h-1zM706.1 578.2h1v1h-1zM675.6 572.1h1v1h-1zM675.1 573.6h1v1h-1zM678.7 578.6h1v1h-1zM683.9 572.9h1v1h-1zM693.2 569.3h1v1h-1z" fill="#701010" filter="url(#b05)" opacity="0.7"/><path d="M653.6 537.5h1v1h-1zM654.2 547h1v1h-1zM650.7 539.7h1v1h-1zM654.1 545.5h1v1h-1zM653 549.7h1v1h-1zM653.6 547.1h1v1h-1zM651.6 526.9h1v1h-1zM654 563.4h1v1h-1zM656.6 535.6h1v1h-1zM652.2 566.6h1v1h-1zM652.4 528.3h1v1h-1zM653.5 545h1v1h-1z" fill="#701010" filter="url(#b05)" opacity="0.7"/><text x="721.1" y="582.5" font-size="10.6" text-anchor="end" fill="#D00A0A">PDGFRα</text></g>
<clipPath id="cr8"><rect x="727.9" y="510.5" width="73.8" height="74.3"/></clipPath><g clip-path="url(#cr8)"><rect x="727.9" y="510.5" width="73.8" height="74.3" fill="#0D0202"/><rect x="727.9" y="510.5" width="73.8" height="74.3" fill="#000" filter="url(#dark)" opacity="0.4"/><path d="M737.9 542.5h1.2v1.2h-1.2zM730.4 535.6h1.2v1.2h-1.2zM744.5 529.2h1.2v1.2h-1.2zM744.8 559.3h1.2v1.2h-1.2zM760.9 545.9h1.2v1.2h-1.2zM785.2 514.4h1.2v1.2h-1.2zM755 578.7h1.2v1.2h-1.2zM745.7 541.9h1.2v1.2h-1.2zM795.5 527.5h1.2v1.2h-1.2zM746 556.6h1.2v1.2h-1.2zM756 565.9h1.2v1.2h-1.2zM784.1 556.4h1.2v1.2h-1.2zM760.3 525h1.2v1.2h-1.2zM733.7 528.6h1.2v1.2h-1.2zM754.7 566.4h1.2v1.2h-1.2zM798.4 575.3h1.2v1.2h-1.2zM746 566.5h1.2v1.2h-1.2zM739.9 562h1.2v1.2h-1.2zM762.3 582.1h1.2v1.2h-1.2zM764 566.7h1.2v1.2h-1.2zM765.9 530.3h1.2v1.2h-1.2zM770.2 530.6h1.2v1.2h-1.2zM780.7 541.1h1.2v1.2h-1.2zM761.6 518.8h1.2v1.2h-1.2zM774.7 523.8h1.2v1.2h-1.2zM777.8 581.8h1.2v1.2h-1.2zM761.9 537.9h1.2v1.2h-1.2zM795.2 570.5h1.2v1.2h-1.2zM790.1 578.5h1.2v1.2h-1.2zM753.4 551h1.2v1.2h-1.2zM745.4 547.2h1.2v1.2h-1.2zM800.2 550.6h1.2v1.2h-1.2zM742.3 513.7h1.2v1.2h-1.2zM729.3 532.7h1.2v1.2h-1.2zM785 531.8h1.2v1.2h-1.2zM786.5 542.2h1.2v1.2h-1.2z" fill="#260606" filter="url(#b1)" opacity="0.8"/></g>
<clipPath id="cm5"><rect x="487" y="588.9" width="73.8" height="73.8"/></clipPath><g clip-path="url(#cm5)"><rect x="487" y="588.9" width="73.8" height="73.8" fill="#120D46"/><rect x="487" y="588.9" width="73.8" height="73.8" fill="#000" filter="url(#cellC)" opacity="0.2"/><rect x="487" y="588.9" width="73.8" height="73.8" fill="url(#nucB1)" filter="url(#b05)" opacity="0.22"/><rect x="487" y="588.9" width="73.8" height="73.8" fill="#000" filter="url(#dark)" opacity="0.35"/><ellipse cx="509.1" cy="622.1" rx="18.4" ry="14.8" fill="#1C0A38" transform="rotate(0 509.1 622.1)" filter="url(#b5)" opacity="0.6"/><path d="M505.4 633.2C506.6 629.9 506.3 628.8 509.1 622.1C512 615.5 512.8 616.1 515 611C517.3 605.9 516.1 606.9 516.5 605.1" fill="none" stroke="#18B82C" stroke-width="0.9" stroke-linecap="round" filter="url(#b05)" opacity="0.8" stroke-dasharray="3 1.6"/><path d="M515 611C517.3 610.4 518.7 609.3 522.4 608.8C526.2 608.4 526 609.3 527.6 609.6" fill="none" stroke="#18B82C" stroke-width="1.1" stroke-linecap="round" filter="url(#b05)" opacity="0.85" stroke-dasharray="3 1.2"/><path d="M535 605.1C536.5 604.3 537.9 604.8 540.1 602.2C542.3 599.5 540.6 598.5 542.4 596.3C544.1 594.1 544.9 595.2 546 594.8" fill="none" stroke="#18B82C" stroke-width="0.9" stroke-linecap="round" filter="url(#b05)" opacity="0.8" stroke-dasharray="3 1.4"/><path d="M551.9 597.8C553.5 597.3 554.5 596.7 557.1 596.3C559.8 595.8 559.7 596.3 560.8 596.3" fill="none" stroke="#18B82C" stroke-width="1" stroke-linecap="round" filter="url(#b05)" opacity="0.85"/><path d="M520.2 622.1C520.7 625 520.1 627.1 521.7 631.7C523.2 636.4 524.3 635.8 525.4 637.6" fill="none" stroke="#18B82C" stroke-width="0.8" stroke-linecap="round" filter="url(#b05)" opacity="0.7" stroke-dasharray="2.5 1.8"/><path d="M492.9 596.3C493.3 597.6 493.9 599.4 494.4 600.7" fill="none" stroke="#18B82C" stroke-width="1.1" stroke-linecap="round" filter="url(#b05)" opacity="0.85"/><path d="M487 629.5C487.4 631 488 633.1 488.5 634.7" fill="none" stroke="#18B82C" stroke-width="1.2" stroke-linecap="round" filter="url(#b05)" opacity="0.85"/><path d="M494.4 646.5C495.7 646.9 496.2 646.4 498.8 647.9C501.5 649.5 501.9 650.5 503.2 651.6" fill="none" stroke="#18B82C" stroke-width="0.8" stroke-linecap="round" filter="url(#b05)" opacity="0.6" stroke-dasharray="2 1.5"/><path d="M517.1 618.9h1v1h-1zM520.3 612.2h1v1h-1zM518.6 626h1v1h-1zM510.8 607.5h1v1h-1zM515 597.7h1v1h-1zM511.2 617.9h1v1h-1zM515.3 626.6h1v1h-1zM517.1 624.6h1v1h-1zM519.5 595.1h1v1h-1zM517 603.7h1v1h-1zM528.1 624.1h1v1h-1zM521.1 625.9h1v1h-1zM523.5 631.7h1v1h-1zM528 607.4h1v1h-1z" fill="#18B82C" filter="url(#b05)" opacity="0.7"/><path d="M487.9 661.2h1v1h-1zM488.1 660.1h1v1h-1zM489.6 660h1v1h-1zM488.6 659.2h1v1h-1zM488.1 660.1h1v1h-1z" fill="#18B82C" filter="url(#b05)" opacity="0.7"/><text x="558.1" y="648.8" font-size="10.6" text-anchor="end" fill="#E00A14">PTN</text><text x="558.1" y="661.4" font-size="10.6" text-anchor="end" fill="#10C818">COL1A1</text></g>
<clipPath id="cm6"><rect x="564" y="588.9" width="73.8" height="73.8"/></clipPath><g clip-path="url(#cm6)"><rect x="564" y="588.9" width="73.8" height="73.8" fill="#040C5C"/><rect x="564" y="588.9" width="73.8" height="73.8" fill="#000" filter="url(#cellD)" opacity="0.5"/><rect x="564" y="588.9" width="73.8" height="73.8" fill="url(#nucB0)" filter="url(#b05)" opacity="0.95"/><rect x="564" y="588.9" width="73.8" height="73.8" fill="#000" filter="url(#dark)" opacity="0.45"/><ellipse cx="626" cy="625.8" rx="9.6" ry="40.6" fill="#0A7A28" transform="rotate(12 626 625.8)" filter="url(#b3)" opacity="0.6"/><ellipse cx="600.9" cy="607.4" rx="18.4" ry="4.4" fill="#0A7A28" transform="rotate(35 600.9 607.4)" filter="url(#b3)" opacity="0.5"/><ellipse cx="614.2" cy="646.5" rx="7.4" ry="14.8" fill="#0A7A28" transform="rotate(30 614.2 646.5)" filter="url(#b3)" opacity="0.55"/><ellipse cx="579.5" cy="619.9" rx="12.5" ry="11.8" fill="#000" transform="rotate(20 579.5 619.9)" filter="url(#b1)" opacity="1"/><ellipse cx="567" cy="642" rx="5.2" ry="9.6" fill="#000" transform="rotate(0 567 642)" filter="url(#b1)" opacity="1"/><ellipse cx="597.2" cy="628.8" rx="10.3" ry="6.6" fill="#000" transform="rotate(30 597.2 628.8)" filter="url(#b1)" opacity="1"/><ellipse cx="578.8" cy="655.3" rx="9.6" ry="8.9" fill="#000" transform="rotate(0 578.8 655.3)" filter="url(#b1)" opacity="1"/><ellipse cx="609.8" cy="653.8" rx="9.6" ry="5.9" fill="#000" transform="rotate(0 609.8 653.8)" filter="url(#b1)" opacity="1"/><ellipse cx="572.9" cy="592.6" rx="13.3" ry="5.2" fill="#000" transform="rotate(0 572.9 592.6)" filter="url(#b1)" opacity="1"/><ellipse cx="612.7" cy="596.3" rx="11.8" ry="5.9" fill="#000" transform="rotate(20 612.7 596.3)" filter="url(#b1)" opacity="1"/><ellipse cx="632.6" cy="603.7" rx="3.7" ry="5.9" fill="#000" transform="rotate(0 632.6 603.7)" filter="url(#b2)" opacity="0.8"/><ellipse cx="631.9" cy="644.2" rx="5.2" ry="9.6" fill="#000" transform="rotate(30 631.9 644.2)" filter="url(#b1)" opacity="0.9"/><ellipse cx="609.8" cy="613.3" rx="5.2" ry="4.4" fill="#000" transform="rotate(0 609.8 613.3)" filter="url(#b1)" opacity="0.9"/><ellipse cx="590.6" cy="603.7" rx="4.4" ry="3.7" fill="#000" transform="rotate(0 590.6 603.7)" filter="url(#b1)" opacity="0.8"/><ellipse cx="621.6" cy="629.5" rx="3" ry="5.9" fill="#000" transform="rotate(20 621.6 629.5)" filter="url(#b1)" opacity="0.7"/><path d="M624.6 623.5L623.8 626.2M627.3 646.2L626.7 648.8M623.4 621.6L623.4 625.3M621.3 646.9L621.5 649.8M619.9 629.1L620.9 634M626.3 640.5L623.4 642.6M633.2 612.7L631.9 614.9M622.9 639.3L624.3 641.5M627.3 633.6L626.9 638M622.7 639.8L621.5 642.6M622.3 608.5L623 610.4M620.4 645.4L617.5 647.9M619.4 651.2L620.6 655.3M625.6 614.3L627.9 617.6M631.7 603.1L629.5 607.3M629.7 638L629.6 640.3M635.2 609.9L636.8 612.9M622 617L619.5 620.3M619.8 635.9L618.4 640.6M625.7 615.6L624.4 617.5M618 636L617.1 638.9M620.4 661.1L619.8 664M626 655.1L624.1 657.7M617.1 648.9L615.4 653.3M618.5 640.8L616.8 644.6M618.3 641.2L616.4 644.1M637.4 611.6L637.9 615" fill="none" stroke="#10D020" stroke-width="1.1" stroke-linecap="round" filter="url(#b05)" opacity="0.75"/><path d="M620.4 622.8L620.3 627.1M597.7 611.3L600.6 614.7M610.5 616L614 618.8M597.9 609.2L599.8 609M593.3 610.1L596.2 611.6M596.4 610.3L598.8 612M599.2 612.4L601 612.8M575 589.6L576.9 592M586.6 601.7L588.5 602.1M592.3 607.6L594.7 609.8M608.6 611.5L610.1 613.2M607.2 614.6L611.3 616.1M594.8 604.4L597.3 608.4M623.4 624L627 626.4M616.5 620.4L620.3 623.1M596 608.5L597.9 609.8" fill="none" stroke="#10D020" stroke-width="1" stroke-linecap="round" filter="url(#b05)" opacity="0.7"/><path d="M611.4 653.7L608.8 656.1M609.9 639.7L608.8 644.3M609.1 646.6L608.6 650.4M613.5 646L613.7 649.5M618 632.1L615.7 635M614.2 639L612.6 640.4M617.3 654.2L613.2 656.3M610.6 656.2L610.9 661.2M617.1 641.6L616.6 643.9M618.8 640L618 644.2M609.1 654.9L607.8 656.8M617.7 638.8L615.4 639.7M605.9 657.3L603.7 659.8M626.2 641.5L623.6 642M619 639.4L618.5 643.9M614.4 632.6L613.4 637.3" fill="none" stroke="#10D020" stroke-width="1.1" stroke-linecap="round" filter="url(#b05)" opacity="0.8"/><path d="M567.3 648.8h1.1v1.1h-1.1zM568.3 658.7h1.1v1.1h-1.1zM569.5 652.8h1.1v1.1h-1.1zM572.8 645.2h1.1v1.1h-1.1zM569 657.9h1.1v1.1h-1.1zM568.7 651.9h1.1v1.1h-1.1zM570 656.3h1.1v1.1h-1.1zM569.2 653h1.1v1.1h-1.1zM570.4 643.3h1.1v1.1h-1.1zM572.9 639.3h1.1v1.1h-1.1zM574.7 657.3h1.1v1.1h-1.1zM570.2 647.9h1.1v1.1h-1.1zM566.5 646.7h1.1v1.1h-1.1zM573 646.8h1.1v1.1h-1.1z" fill="#10D020" filter="url(#b05)" opacity="0.7"/><path d="M623.6 623.4h1.2v1.2h-1.2zM624.4 620.9h1.2v1.2h-1.2zM628.8 594.6h1.2v1.2h-1.2zM616.6 633.3h1.2v1.2h-1.2zM622.9 628.9h1.2v1.2h-1.2zM623.5 615.7h1.2v1.2h-1.2zM629.4 603h1.2v1.2h-1.2zM617.4 649.7h1.2v1.2h-1.2zM624.7 608.3h1.2v1.2h-1.2zM623.3 615.3h1.2v1.2h-1.2zM622.8 622.7h1.2v1.2h-1.2zM621.4 638.6h1.2v1.2h-1.2zM624.8 634h1.2v1.2h-1.2zM627.5 621.8h1.2v1.2h-1.2z" fill="#E08020" filter="url(#b05)" opacity="0.9"/><path d="M606.3 616h1.1v1.1h-1.1zM601.5 630.8h1.1v1.1h-1.1zM600.6 617.1h1.1v1.1h-1.1zM592.8 621.2h1.1v1.1h-1.1zM602.5 621.5h1.1v1.1h-1.1zM629 621h1.1v1.1h-1.1zM606.3 618.6h1.1v1.1h-1.1zM579.2 626.8h1.1v1.1h-1.1zM587.9 627h1.1v1.1h-1.1zM586.5 621.6h1.1v1.1h-1.1z" fill="#D04040" filter="url(#b05)" opacity="0.8"/></g>
<clipPath id="cm7"><rect x="650" y="588.9" width="73.8" height="73.8"/></clipPath><g clip-path="url(#cm7)"><rect x="650" y="588.9" width="73.8" height="73.8" fill="#040A50"/><rect x="650" y="588.9" width="73.8" height="73.8" fill="#000" filter="url(#cellD)" opacity="0.5"/><rect x="650" y="588.9" width="73.8" height="73.8" fill="url(#nucB2)" filter="url(#b05)" opacity="0.95"/><rect x="650" y="588.9" width="73.8" height="73.8" fill="#000" filter="url(#dark)" opacity="0.4"/><ellipse cx="686.9" cy="597.8" rx="40.6" ry="8.1" fill="#000" transform="rotate(8 686.9 597.8)" filter="url(#b2)" opacity="1"/><ellipse cx="672.1" cy="606.6" rx="14.8" ry="3.7" fill="#000" transform="rotate(5 672.1 606.6)" filter="url(#b1)" opacity="0.9"/><ellipse cx="652.2" cy="607.4" rx="5.2" ry="18.4" fill="#000" transform="rotate(0 652.2 607.4)" filter="url(#b1)" opacity="1"/><ellipse cx="658.9" cy="636.9" rx="12.5" ry="8.9" fill="#000" transform="rotate(25 658.9 636.9)" filter="url(#b1)" opacity="1"/><ellipse cx="675.1" cy="619.9" rx="3" ry="17.7" fill="#000" transform="rotate(10 675.1 619.9)" filter="url(#b1)" opacity="0.95"/><ellipse cx="720.1" cy="623.6" rx="5.2" ry="17.7" fill="#000" transform="rotate(-12 720.1 623.6)" filter="url(#b1)" opacity="1"/><ellipse cx="690.6" cy="657.5" rx="22.1" ry="5.9" fill="#000" transform="rotate(0 690.6 657.5)" filter="url(#b1)" opacity="0.95"/><ellipse cx="672.9" cy="645" rx="5.2" ry="7.4" fill="#000" transform="rotate(0 672.9 645)" filter="url(#b1)" opacity="0.9"/><ellipse cx="686.9" cy="597.8" rx="25.8" ry="4.4" fill="#0A7A28" transform="rotate(10 686.9 597.8)" filter="url(#b2)" opacity="0.7"/><path d="M709.1 600.6L714.4 605.2M703 604.4L709.2 607.9M683.4 595.6L687.6 597.9M673.4 594.4L679.6 597.7M688.6 602.6L693.8 603.1M713 597.5L715 602M665.6 592.3L669.9 595.8M689.1 593.7L692 594.7M686.1 598.5L691 600.9M709.6 599.1L715.1 599.5M671.5 598.3L675.5 597.5M676.4 595.6L683.6 595.4M693 596L697.8 595.2M683.4 594.7L689.3 597.1M706.9 599.7L713.2 600.6M684.5 599.3L689.3 603.2M684.9 600.9L690 601.4M686.4 595.3L693.5 594.9M689.6 596.6L693.9 598.2M697.4 598.6L703.6 601.9" fill="none" stroke="#10D020" stroke-width="1.1" stroke-linecap="round" filter="url(#b05)" opacity="0.75"/><path d="M665.2 594.7L668 596.1M689.4 595L690.7 598.1M679.9 597.3L685.2 599.6M656.6 589.4L660.9 589.1M660.4 591.8L663.2 591.8M667 600.6L669.1 602M703 599.7L707.6 601.7M678.7 600.6L683 604.7M665.1 589.2L669.1 589.5M677.6 596.1L683 596.9M663.5 592.9L668.2 596.1M665 598.7L668.3 600.2M677.7 602.6L680.6 602.8M681 601.7L683.3 601.4M682.9 601.6L684.6 603.8" fill="none" stroke="#F0E010" stroke-width="1.1" stroke-linecap="round" filter="url(#b05)" opacity="0.9"/><path d="M699.3 594.9L703.7 595.6M700.5 592.4L703.9 593.4M711.9 595.4L715.7 595.8M717.8 590.3L720.9 590.9M695.2 591.5L698.9 590M703.4 592.4L708.2 592.8" fill="none" stroke="#F0E010" stroke-width="1.1" stroke-linecap="round" filter="url(#b05)" opacity="0.85"/><path d="M705.4 607.4C707.6 610.7 709.4 611.8 712.7 618.4C716.1 625.1 714.6 623.3 716.4 629.5C718.2 635.7 718 636.2 718.6 639.1" fill="none" stroke="#F0E010" stroke-width="1" stroke-linecap="round" filter="url(#b05)" opacity="0.85" stroke-dasharray="2.5 2"/><path d="M670.7 633.2C672.4 635.4 672.1 637.5 676.6 640.6C681 643.7 682.8 642.6 685.4 643.5" fill="none" stroke="#F0E010" stroke-width="1" stroke-linecap="round" filter="url(#b05)" opacity="0.85" stroke-dasharray="2.5 2"/><path d="M700.2 640.6C702.8 641 703.1 642 709 642C715 642 716.8 641 720.1 640.6" fill="none" stroke="#F0E010" stroke-width="1" stroke-linecap="round" filter="url(#b05)" opacity="0.85" stroke-dasharray="2.5 1.8"/><path d="M655 658.4h1.2v1.2h-1.2zM657.6 658.8h1.2v1.2h-1.2zM657.2 658.8h1.2v1.2h-1.2zM666.5 658.8h1.2v1.2h-1.2zM656.6 656.4h1.2v1.2h-1.2zM668.4 656.3h1.2v1.2h-1.2zM654.3 655.6h1.2v1.2h-1.2zM657 658h1.2v1.2h-1.2zM655.3 660.2h1.2v1.2h-1.2zM665.9 658.3h1.2v1.2h-1.2zM653.9 660.7h1.2v1.2h-1.2z" fill="#F0E010" filter="url(#b05)" opacity="0.9"/><ellipse cx="661.1" cy="642" rx="3.7" ry="4.4" fill="#1840C0" transform="rotate(0 661.1 642)" filter="url(#b2)" opacity="0.7"/><text x="721.1" y="648.8" font-size="10.6" text-anchor="end" fill="#D80A14">PDGFRα</text><text x="721.1" y="661.4" font-size="10.6" text-anchor="end" fill="#10C818">COL1A1</text></g>
<clipPath id="cm8"><rect x="727.9" y="588.9" width="73.8" height="73.8"/></clipPath><g clip-path="url(#cm8)"><rect x="727.9" y="588.9" width="73.8" height="73.8" fill="#040A4C"/><rect x="727.9" y="588.9" width="73.8" height="73.8" fill="#000" filter="url(#cellD)" opacity="0.45"/><rect x="727.9" y="588.9" width="73.8" height="73.8" fill="url(#nucB3)" filter="url(#b05)" opacity="0.85"/><rect x="727.9" y="588.9" width="73.8" height="73.8" fill="#000" filter="url(#dark)" opacity="0.4"/><ellipse cx="746.4" cy="634.7" rx="22.1" ry="3.7" fill="#000420" transform="rotate(40 746.4 634.7)" filter="url(#b2)" opacity="0.8"/><ellipse cx="792.8" cy="629.5" rx="3" ry="25.8" fill="#000420" transform="rotate(10 792.8 629.5)" filter="url(#b2)" opacity="0.75"/><ellipse cx="772.2" cy="591.9" rx="22.1" ry="3" fill="#000420" transform="rotate(0 772.2 591.9)" filter="url(#b2)" opacity="0.7"/><ellipse cx="757.4" cy="651.6" rx="14.8" ry="4.4" fill="#000420" transform="rotate(20 757.4 651.6)" filter="url(#b2)" opacity="0.7"/><ellipse cx="736.8" cy="631.7" rx="7.4" ry="14.8" fill="#0A7A28" transform="rotate(-35 736.8 631.7)" filter="url(#b3)" opacity="0.5"/><ellipse cx="764.8" cy="644.2" rx="14.8" ry="11.1" fill="#0A7A28" transform="rotate(0 764.8 644.2)" filter="url(#b3)" opacity="0.45"/><ellipse cx="798" cy="618.4" rx="3.7" ry="29.5" fill="#0A7A28" transform="rotate(5 798 618.4)" filter="url(#b3)" opacity="0.5"/><path d="M729.7 633.2L730.6 637.5M735.3 629.8L736.8 634M734 639.7L735 642.7M735.3 631.3L737.6 632.3M747.1 639L750.2 642.2M738.5 635.7L742.3 636.1M741.1 632L741.7 633.8M735.8 640.5L738.6 642.3M736 622.4L736.5 625.3M731.8 638.5L732.9 640.7M747.6 638.3L749.9 641M729.6 624.2L729.8 628.1M743.7 643L748.1 645.1M734.8 632.5L736.9 633.6M744.4 624.5L744.9 629.2M745.5 637.9L747.1 639.1" fill="none" stroke="#10D020" stroke-width="1.1" stroke-linecap="round" filter="url(#b05)" opacity="0.75"/><path d="M759.7 640.8L759.1 642.9M752.2 637.9L754.3 639.9M759.5 636.7L760.6 641M766.6 633.1L767.7 636.9M766.6 639.9L765.3 644.7M776 645.2L774.8 647.8M775 633L773.5 634.4M747.2 631.5L747.6 635.5M750 643.1L750.9 646.1M767.9 637.5L766.1 641.6M766.6 641.7L767.2 644.4M756.3 646.7L756.7 649.2M760.7 640.3L759.9 643.8M744.9 652.1L744.8 654.6M772 649.5L770.5 651.7M762.1 650.9L762.5 654.7M764.7 642.5L763.2 647.2M768.2 653.9L769.1 656.3" fill="none" stroke="#10D020" stroke-width="1.1" stroke-linecap="round" filter="url(#b05)" opacity="0.7"/><path d="M794.6 616.2L797.2 619.8M796.4 646L794.9 650.4M797.7 633.3L796.4 637.1M796.6 636.1L796.1 639.3M797.2 628.9L794.7 631.9M800.2 605.4L801.6 607.2M797 628.9L799.3 632.8M798.6 608.9L797 613.7M795.8 625.7L794.5 628.6M799.9 611.8L799.5 615.4M798.6 597L799.1 599.5M796.9 628.5L796.4 630.6M796.5 636.1L796.7 639.4M794 651.2L796.1 653.1M792.8 647.3L792.4 649.8M795.1 613.8L794.4 619" fill="none" stroke="#10D020" stroke-width="1.1" stroke-linecap="round" filter="url(#b05)" opacity="0.7"/><path d="M778.2 655.6L782 653M792.8 650.2L796.9 647.8M779.3 657.6L784.1 655.8M779.9 656.5L782.8 655.1M784.5 659.4L787.8 658M779.5 658.1L782.5 659.4M783.2 657.3L785.7 657.3M774.3 660L776.9 659.7M774.7 649L778.1 646M772 657.6L775.7 654.6M781.5 647.9L784.8 647.6M779.4 656.2L783.3 657.3" fill="none" stroke="#10D020" stroke-width="1.1" stroke-linecap="round" filter="url(#b05)" opacity="0.7"/><path d="M778.5 599h1.1v1.1h-1.1zM756.3 595h1.1v1.1h-1.1zM770.3 594h1.1v1.1h-1.1zM772.5 590.4h1.1v1.1h-1.1zM777.1 594.3h1.1v1.1h-1.1zM751 592.1h1.1v1.1h-1.1zM779.1 591.8h1.1v1.1h-1.1zM778.2 592.5h1.1v1.1h-1.1zM786.3 592h1.1v1.1h-1.1zM777.6 594.3h1.1v1.1h-1.1z" fill="#10D020" filter="url(#b05)" opacity="0.6"/><path d="M777.7 652.9h1v1h-1zM771.4 647.5h1v1h-1zM766.6 655.6h1v1h-1zM785 651.5h1v1h-1zM787.3 650.1h1v1h-1zM778.8 646.5h1v1h-1zM759.7 648.3h1v1h-1zM745.8 654.7h1v1h-1zM750.5 648.9h1v1h-1z" fill="#A02030" filter="url(#b05)" opacity="0.7"/></g>
</g>
<g id="p-dots">
<line x1="370.4" y1="527" x2="370.4" y2="640.3" stroke="#222" stroke-width="1.1"/>
<line x1="369.9" y1="639.8" x2="444.8" y2="639.8" stroke="#222" stroke-width="1.1"/>
<line x1="367.6" y1="527.5" x2="370.4" y2="527.5" stroke="#222" stroke-width="1"/>
<text x="366.6" y="530.8" font-size="9.4" text-anchor="end" fill="#222">60</text>
<line x1="367.6" y1="564.9" x2="370.4" y2="564.9" stroke="#222" stroke-width="1"/>
<text x="366.6" y="568.2" font-size="9.4" text-anchor="end" fill="#222">40</text>
<line x1="367.6" y1="602.4" x2="370.4" y2="602.4" stroke="#222" stroke-width="1"/>
<text x="366.6" y="605.7" font-size="9.4" text-anchor="end" fill="#222">20</text>
<line x1="367.6" y1="639.8" x2="370.4" y2="639.8" stroke="#222" stroke-width="1"/>
<text x="366.6" y="643.1" font-size="9.4" text-anchor="end" fill="#222">0</text>
<text x="351.8" y="586.6" font-size="12" text-anchor="middle" fill="#222" transform="rotate(-90 351.8 586.6)">% COL1A1<tspan dy="-4" font-size="8" font-style="normal">+</tspan><tspan dy="4"> cells</tspan></text>
<circle cx="383.3" cy="623.5" r="2" fill="none" stroke="#222" stroke-width="0.9"/><circle cx="379.8" cy="629.8" r="2" fill="none" stroke="#222" stroke-width="0.9"/><circle cx="384.6" cy="630.3" r="2" fill="none" stroke="#222" stroke-width="0.9"/><circle cx="378.4" cy="633" r="2" fill="none" stroke="#222" stroke-width="0.9"/><circle cx="382.5" cy="634.4" r="2" fill="none" stroke="#222" stroke-width="0.9"/><circle cx="385.7" cy="634.4" r="2" fill="none" stroke="#222" stroke-width="0.9"/><circle cx="379.2" cy="637.1" r="2" fill="none" stroke="#222" stroke-width="0.9"/>
<line x1="377.9" y1="632.5" x2="387.1" y2="632.5" stroke="#222" stroke-width="0.9"/><line x1="382.5" y1="628.4" x2="382.5" y2="636" stroke="#222" stroke-width="0.9"/><line x1="379.9" y1="628.4" x2="385.1" y2="628.4" stroke="#222" stroke-width="0.9"/><line x1="379.9" y1="636" x2="385.1" y2="636" stroke="#222" stroke-width="0.9"/>
<rect x="397" y="531.7" width="4.6" height="4.6" fill="none" stroke="#C8202C" stroke-width="1.1"/><rect x="392.9" y="544.2" width="4.6" height="4.6" fill="none" stroke="#C8202C" stroke-width="1.1"/><rect x="397.8" y="548" width="4.6" height="4.6" fill="none" stroke="#C8202C" stroke-width="1.1"/><rect x="392.9" y="558.8" width="4.6" height="4.6" fill="none" stroke="#C8202C" stroke-width="1.1"/><rect x="400.5" y="562.4" width="4.6" height="4.6" fill="none" stroke="#C8202C" stroke-width="1.1"/><rect x="392.9" y="566.4" width="4.6" height="4.6" fill="none" stroke="#C8202C" stroke-width="1.1"/><rect x="397" y="562.9" width="4.6" height="4.6" fill="none" stroke="#C8202C" stroke-width="1.1"/>
<line x1="394.1" y1="555.7" x2="405" y2="555.7" stroke="#222" stroke-width="0.9"/><line x1="399.6" y1="543" x2="399.6" y2="567.9" stroke="#222" stroke-width="0.9"/><line x1="397" y1="543" x2="402.2" y2="543" stroke="#222" stroke-width="0.9"/><line x1="397" y1="567.9" x2="402.2" y2="567.9" stroke="#222" stroke-width="0.9"/>
<circle cx="416.9" cy="538.9" r="2" fill="none" stroke="#222" stroke-width="0.9"/><circle cx="415.3" cy="548.4" r="2" fill="none" stroke="#222" stroke-width="0.9"/><circle cx="419.6" cy="549.8" r="2" fill="none" stroke="#222" stroke-width="0.9"/><circle cx="413.7" cy="562" r="2" fill="none" stroke="#222" stroke-width="0.9"/><circle cx="416.4" cy="566" r="2" fill="none" stroke="#222" stroke-width="0.9"/><circle cx="420.4" cy="566" r="2" fill="none" stroke="#222" stroke-width="0.9"/><circle cx="415.8" cy="570.1" r="2" fill="none" stroke="#222" stroke-width="0.9"/><circle cx="416.9" cy="574.2" r="2" fill="none" stroke="#222" stroke-width="0.9"/>
<line x1="410.9" y1="559.2" x2="423.1" y2="559.2" stroke="#222" stroke-width="0.9"/><line x1="417" y1="547" x2="417" y2="571.4" stroke="#222" stroke-width="0.9"/><line x1="414.4" y1="547" x2="419.6" y2="547" stroke="#222" stroke-width="0.9"/><line x1="414.4" y1="571.4" x2="419.6" y2="571.4" stroke="#222" stroke-width="0.9"/>
<rect x="431.2" y="601.7" width="4.6" height="4.6" fill="none" stroke="#C8202C" stroke-width="1.1"/><rect x="427.6" y="606.6" width="4.6" height="4.6" fill="none" stroke="#C8202C" stroke-width="1.1"/><rect x="435" y="610.4" width="4.6" height="4.6" fill="none" stroke="#C8202C" stroke-width="1.1"/><rect x="427.6" y="611.7" width="4.6" height="4.6" fill="none" stroke="#C8202C" stroke-width="1.1"/><rect x="431.7" y="609.8" width="4.6" height="4.6" fill="none" stroke="#C8202C" stroke-width="1.1"/><rect x="431.2" y="621.2" width="4.6" height="4.6" fill="none" stroke="#C8202C" stroke-width="1.1"/><rect x="431.2" y="628" width="4.6" height="4.6" fill="none" stroke="#C8202C" stroke-width="1.1"/>
<line x1="428" y1="614.8" x2="439.4" y2="614.8" stroke="#222" stroke-width="0.9"/><line x1="433.7" y1="605.4" x2="433.7" y2="624.3" stroke="#222" stroke-width="0.9"/><line x1="431.1" y1="605.4" x2="436.3" y2="605.4" stroke="#222" stroke-width="0.9"/><line x1="431.1" y1="624.3" x2="436.3" y2="624.3" stroke="#222" stroke-width="0.9"/>
<line x1="381.7" y1="526.2" x2="401.5" y2="526.2" stroke="#222" stroke-width="1"/>
<text x="391.1" y="528" font-size="13.5" text-anchor="middle" font-weight="bold" fill="#111" letter-spacing="0.8">**</text>
<line x1="415.8" y1="532.1" x2="435.4" y2="532.1" stroke="#222" stroke-width="1"/>
<text x="426.4" y="531.8" font-size="13.5" text-anchor="middle" font-weight="bold" fill="#111" letter-spacing="0.8">**</text>
<text x="348" y="654.9" font-size="12" fill="#222">ADT</text>
<line x1="379.3" y1="649.7" x2="384.5" y2="649.7" stroke="#111" stroke-width="1.5"/>
<line x1="381.9" y1="639.8" x2="381.9" y2="642.6" stroke="#222" stroke-width="1"/>
<line x1="395.1" y1="649.4" x2="402.3" y2="649.4" stroke="#111" stroke-width="1.3"/><line x1="398.7" y1="645.8" x2="398.7" y2="653" stroke="#111" stroke-width="1.3"/>
<line x1="398.7" y1="639.8" x2="398.7" y2="642.6" stroke="#222" stroke-width="1"/>
<line x1="413.8" y1="649.7" x2="419" y2="649.7" stroke="#111" stroke-width="1.5"/>
<line x1="416.4" y1="639.8" x2="416.4" y2="642.6" stroke="#222" stroke-width="1"/>
<line x1="429.6" y1="649.4" x2="436.8" y2="649.4" stroke="#111" stroke-width="1.3"/><line x1="433.2" y1="645.8" x2="433.2" y2="653" stroke="#111" stroke-width="1.3"/>
<line x1="433.2" y1="639.8" x2="433.2" y2="642.6" stroke="#222" stroke-width="1"/>
<line x1="374.3" y1="656.3" x2="404.2" y2="656.3" stroke="#222" stroke-width="1"/>
<line x1="410.4" y1="656.3" x2="440.2" y2="656.3" stroke="#222" stroke-width="1"/>
<text x="375.1" y="671.8" font-size="12" fill="#222">PTN<tspan dy="-3" font-size="8.4" font-style="normal">+</tspan></text>
<text x="407.7" y="671.8" font-size="12" fill="#222">PDGFRα<tspan dy="-3" font-size="8.4" font-style="normal">+</tspan></text>
<line x1="841.5" y1="524.9" x2="841.5" y2="640.3" stroke="#222" stroke-width="1.1"/>
<line x1="841" y1="639.8" x2="917.6" y2="639.8" stroke="#222" stroke-width="1.1"/>
<line x1="838.7" y1="525.4" x2="841.5" y2="525.4" stroke="#222" stroke-width="1"/>
<text x="837.6" y="528.7" font-size="9.4" text-anchor="end" fill="#222">60</text>
<line x1="838.7" y1="563.5" x2="841.5" y2="563.5" stroke="#222" stroke-width="1"/>
<text x="837.6" y="566.8" font-size="9.4" text-anchor="end" fill="#222">40</text>
<line x1="838.7" y1="601.7" x2="841.5" y2="601.7" stroke="#222" stroke-width="1"/>
<text x="837.6" y="605" font-size="9.4" text-anchor="end" fill="#222">20</text>
<line x1="838.7" y1="639.8" x2="841.5" y2="639.8" stroke="#222" stroke-width="1"/>
<text x="837.6" y="643.1" font-size="9.4" text-anchor="end" fill="#222">0</text>
<text x="821.8" y="580.7" font-size="12" text-anchor="middle" fill="#222" transform="rotate(-90 821.8 580.7)">% COL1A1<tspan dy="-4" font-size="8" font-style="normal">+</tspan><tspan dy="4"> cells</tspan></text>
<circle cx="853.3" cy="624.3" r="2" fill="none" stroke="#222" stroke-width="0.9"/><circle cx="849.8" cy="627.6" r="2" fill="none" stroke="#222" stroke-width="0.9"/><circle cx="856.5" cy="627.6" r="2" fill="none" stroke="#222" stroke-width="0.9"/><circle cx="849.8" cy="631.9" r="2" fill="none" stroke="#222" stroke-width="0.9"/><circle cx="853.8" cy="631.1" r="2" fill="none" stroke="#222" stroke-width="0.9"/><circle cx="857.1" cy="632.5" r="2" fill="none" stroke="#222" stroke-width="0.9"/><circle cx="853.3" cy="637.9" r="2" fill="none" stroke="#222" stroke-width="0.9"/>
<line x1="847.9" y1="630.3" x2="858.7" y2="630.3" stroke="#222" stroke-width="0.9"/><line x1="853.3" y1="625.7" x2="853.3" y2="635.2" stroke="#222" stroke-width="0.9"/><line x1="850.7" y1="625.7" x2="855.9" y2="625.7" stroke="#222" stroke-width="0.9"/><line x1="850.7" y1="635.2" x2="855.9" y2="635.2" stroke="#222" stroke-width="0.9"/>
<rect x="872.7" y="558.3" width="4.6" height="4.6" fill="none" stroke="#C8202C" stroke-width="1.1"/><rect x="868.6" y="560.2" width="4.6" height="4.6" fill="none" stroke="#C8202C" stroke-width="1.1"/><rect x="872.7" y="569.1" width="4.6" height="4.6" fill="none" stroke="#C8202C" stroke-width="1.1"/><rect x="865.6" y="573.8" width="4.6" height="4.6" fill="none" stroke="#C8202C" stroke-width="1.1"/><rect x="872.7" y="574.6" width="4.6" height="4.6" fill="none" stroke="#C8202C" stroke-width="1.1"/><rect x="872.7" y="581.4" width="4.6" height="4.6" fill="none" stroke="#C8202C" stroke-width="1.1"/><rect x="865.6" y="583.5" width="4.6" height="4.6" fill="none" stroke="#C8202C" stroke-width="1.1"/>
<line x1="865.2" y1="574.2" x2="876.9" y2="574.2" stroke="#222" stroke-width="0.9"/><line x1="871" y1="562" x2="871" y2="585" stroke="#222" stroke-width="0.9"/><line x1="868.4" y1="562" x2="873.6" y2="562" stroke="#222" stroke-width="0.9"/><line x1="868.4" y1="585" x2="873.6" y2="585" stroke="#222" stroke-width="0.9"/>
<circle cx="889.1" cy="547.6" r="2" fill="none" stroke="#222" stroke-width="0.9"/><circle cx="885.8" cy="553.8" r="2" fill="none" stroke="#222" stroke-width="0.9"/><circle cx="892.3" cy="553.8" r="2" fill="none" stroke="#222" stroke-width="0.9"/><circle cx="885.8" cy="557.9" r="2" fill="none" stroke="#222" stroke-width="0.9"/><circle cx="889.1" cy="557.3" r="2" fill="none" stroke="#222" stroke-width="0.9"/><circle cx="885.8" cy="568.7" r="2" fill="none" stroke="#222" stroke-width="0.9"/><circle cx="892.3" cy="568.7" r="2" fill="none" stroke="#222" stroke-width="0.9"/><circle cx="889.1" cy="563.3" r="2" fill="none" stroke="#222" stroke-width="0.9"/>
<line x1="883.1" y1="558.4" x2="895" y2="558.4" stroke="#222" stroke-width="0.9"/><line x1="889.1" y1="549.8" x2="889.1" y2="567.9" stroke="#222" stroke-width="0.9"/><line x1="886.5" y1="549.8" x2="891.7" y2="549.8" stroke="#222" stroke-width="0.9"/><line x1="886.5" y1="567.9" x2="891.7" y2="567.9" stroke="#222" stroke-width="0.9"/>
<rect x="900.9" y="603.1" width="4.6" height="4.6" fill="none" stroke="#C8202C" stroke-width="1.1"/><rect x="900.9" y="609" width="4.6" height="4.6" fill="none" stroke="#C8202C" stroke-width="1.1"/><rect x="907.7" y="609.3" width="4.6" height="4.6" fill="none" stroke="#C8202C" stroke-width="1.1"/><rect x="903.6" y="614.4" width="4.6" height="4.6" fill="none" stroke="#C8202C" stroke-width="1.1"/><rect x="907.7" y="614.4" width="4.6" height="4.6" fill="none" stroke="#C8202C" stroke-width="1.1"/><rect x="900.9" y="621.2" width="4.6" height="4.6" fill="none" stroke="#C8202C" stroke-width="1.1"/><rect x="907.7" y="621.2" width="4.6" height="4.6" fill="none" stroke="#C8202C" stroke-width="1.1"/>
<line x1="900.5" y1="615.4" x2="912.1" y2="615.4" stroke="#222" stroke-width="0.9"/><line x1="906.3" y1="608.1" x2="906.3" y2="623.5" stroke="#222" stroke-width="0.9"/><line x1="903.7" y1="608.1" x2="908.9" y2="608.1" stroke="#222" stroke-width="0.9"/><line x1="903.7" y1="623.5" x2="908.9" y2="623.5" stroke="#222" stroke-width="0.9"/>
<line x1="851.9" y1="548.8" x2="870.9" y2="548.8" stroke="#222" stroke-width="1"/>
<text x="862" y="549" font-size="13.5" text-anchor="middle" font-weight="bold" fill="#111" letter-spacing="0.8">**</text>
<line x1="887.7" y1="538.9" x2="907.5" y2="538.9" stroke="#222" stroke-width="1"/>
<text x="898.6" y="539.4" font-size="13.5" text-anchor="middle" font-weight="bold" fill="#111" letter-spacing="0.8">**</text>
<text x="821.3" y="654.9" font-size="12" fill="#222">ADT</text>
<line x1="850.7" y1="649.7" x2="855.9" y2="649.7" stroke="#111" stroke-width="1.5"/>
<line x1="853.3" y1="639.8" x2="853.3" y2="642.6" stroke="#222" stroke-width="1"/>
<line x1="867.3" y1="649.4" x2="874.5" y2="649.4" stroke="#111" stroke-width="1.3"/><line x1="870.9" y1="645.8" x2="870.9" y2="653" stroke="#111" stroke-width="1.3"/>
<line x1="870.9" y1="639.8" x2="870.9" y2="642.6" stroke="#222" stroke-width="1"/>
<line x1="886.5" y1="649.7" x2="891.7" y2="649.7" stroke="#111" stroke-width="1.5"/>
<line x1="889.1" y1="639.8" x2="889.1" y2="642.6" stroke="#222" stroke-width="1"/>
<line x1="902.6" y1="649.4" x2="909.8" y2="649.4" stroke="#111" stroke-width="1.3"/><line x1="906.2" y1="645.8" x2="906.2" y2="653" stroke="#111" stroke-width="1.3"/>
<line x1="906.2" y1="639.8" x2="906.2" y2="642.6" stroke="#222" stroke-width="1"/>
<line x1="847" y1="656.3" x2="876.9" y2="656.3" stroke="#222" stroke-width="1"/>
<line x1="883.7" y1="656.3" x2="913" y2="656.3" stroke="#222" stroke-width="1"/>
<text x="848.4" y="670.4" font-size="12" fill="#222">PTN<tspan dy="-3" font-size="8.4" font-style="normal">+</tspan></text>
<text x="880.9" y="670.4" font-size="12" fill="#222">PDGFRα<tspan dy="-3" font-size="8.4" font-style="normal">+</tspan></text>
</g>
</svg>
</body></html>
